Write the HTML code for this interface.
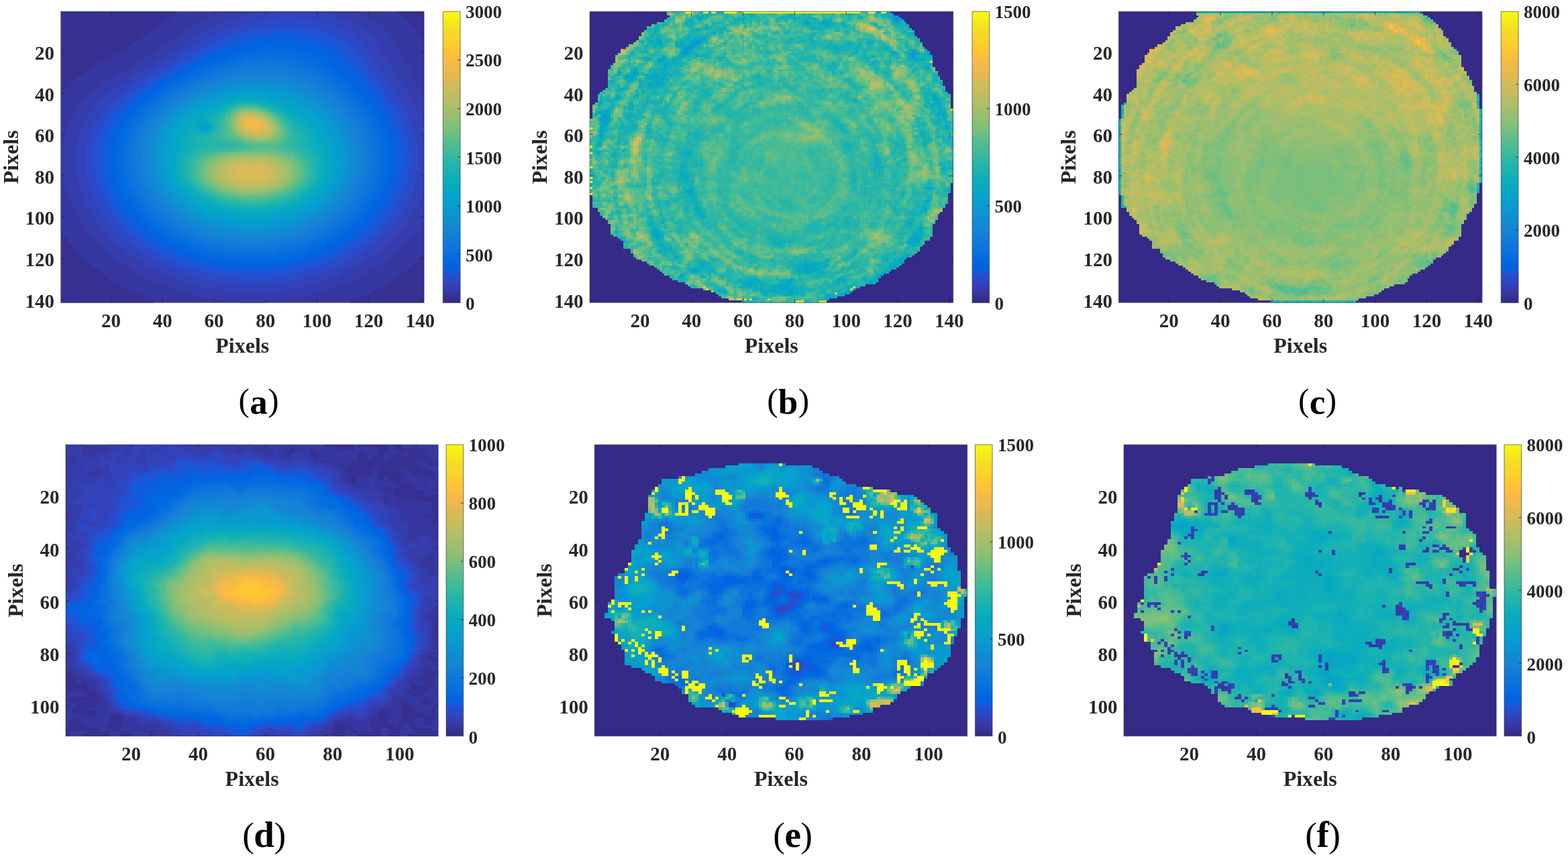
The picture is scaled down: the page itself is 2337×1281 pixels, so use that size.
<!DOCTYPE html>
<html lang="en"><head><meta charset="utf-8"><title>Figure</title>
<style>html,body{margin:0;padding:0;background:#fff}body{width:2337px;height:1281px;overflow:hidden}svg{display:block}text{font-family:"Liberation Serif","Times New Roman",serif;fill:#262626}.t{font-weight:bold;font-size:29px}.cb{font-weight:bold;font-size:27px}.l{font-weight:bold;font-size:32px}.c{fill:#000}.c .b{font-weight:bold}.hm path{fill:none;stroke-width:1.02}</style></head><body>
<svg width="2337" height="1281" viewBox="0 0 2337 1281">
<defs><linearGradient id="pg" x1="0" y1="1" x2="0" y2="0">
<stop offset="0" stop-color="#352a87"/>
<stop offset="0.02" stop-color="#363093"/>
<stop offset="0.03" stop-color="#3637a0"/>
<stop offset="0.05" stop-color="#353dad"/>
<stop offset="0.06" stop-color="#3243ba"/>
<stop offset="0.08" stop-color="#2c4ac7"/>
<stop offset="0.1" stop-color="#2053d4"/>
<stop offset="0.11" stop-color="#0f5cdd"/>
<stop offset="0.13" stop-color="#0363e1"/>
<stop offset="0.14" stop-color="#0268e1"/>
<stop offset="0.16" stop-color="#046de0"/>
<stop offset="0.17" stop-color="#0871de"/>
<stop offset="0.19" stop-color="#0d75dc"/>
<stop offset="0.21" stop-color="#1079da"/>
<stop offset="0.22" stop-color="#127dd8"/>
<stop offset="0.24" stop-color="#1481d6"/>
<stop offset="0.25" stop-color="#1485d4"/>
<stop offset="0.27" stop-color="#1389d3"/>
<stop offset="0.29" stop-color="#108ed2"/>
<stop offset="0.3" stop-color="#0c93d2"/>
<stop offset="0.32" stop-color="#0998d1"/>
<stop offset="0.33" stop-color="#079ccf"/>
<stop offset="0.35" stop-color="#06a0cd"/>
<stop offset="0.37" stop-color="#06a4ca"/>
<stop offset="0.38" stop-color="#06a7c6"/>
<stop offset="0.4" stop-color="#07a9c2"/>
<stop offset="0.41" stop-color="#0aacbe"/>
<stop offset="0.43" stop-color="#0faeb9"/>
<stop offset="0.44" stop-color="#15b1b4"/>
<stop offset="0.46" stop-color="#1db3af"/>
<stop offset="0.48" stop-color="#25b5a9"/>
<stop offset="0.49" stop-color="#2eb7a4"/>
<stop offset="0.51" stop-color="#38b99e"/>
<stop offset="0.52" stop-color="#42bb98"/>
<stop offset="0.54" stop-color="#4dbc92"/>
<stop offset="0.56" stop-color="#59bd8c"/>
<stop offset="0.57" stop-color="#65be86"/>
<stop offset="0.59" stop-color="#71bf80"/>
<stop offset="0.6" stop-color="#7cbf7b"/>
<stop offset="0.62" stop-color="#87bf77"/>
<stop offset="0.63" stop-color="#92bf73"/>
<stop offset="0.65" stop-color="#9cbf6f"/>
<stop offset="0.67" stop-color="#a5be6b"/>
<stop offset="0.68" stop-color="#aebe67"/>
<stop offset="0.7" stop-color="#b7bd64"/>
<stop offset="0.71" stop-color="#c0bc60"/>
<stop offset="0.73" stop-color="#c8bc5d"/>
<stop offset="0.75" stop-color="#d1bb59"/>
<stop offset="0.76" stop-color="#d9ba56"/>
<stop offset="0.78" stop-color="#e1b952"/>
<stop offset="0.79" stop-color="#e9b94e"/>
<stop offset="0.81" stop-color="#f1b94a"/>
<stop offset="0.83" stop-color="#f8bb44"/>
<stop offset="0.84" stop-color="#fdbe3d"/>
<stop offset="0.86" stop-color="#ffc337"/>
<stop offset="0.87" stop-color="#fec832"/>
<stop offset="0.89" stop-color="#fcce2e"/>
<stop offset="0.9" stop-color="#fad32a"/>
<stop offset="0.92" stop-color="#f7d826"/>
<stop offset="0.94" stop-color="#f5de21"/>
<stop offset="0.95" stop-color="#f5e41d"/>
<stop offset="0.97" stop-color="#f5eb18"/>
<stop offset="0.98" stop-color="#f6f313"/>
<stop offset="1" stop-color="#f9fb0e"/>
</linearGradient></defs>
<!-- panel a -->
<svg class="hm" x="90.5" y="17.2" width="541.5" height="434.3" viewBox="0 0 141 141" preserveAspectRatio="none" shape-rendering="crispEdges"><g transform="translate(0 .5)">
<rect y="-.5" width="141" height="141" fill="#3637a0"/>
<path stroke="#363093" d="M0 0m0 0h45m86 0h10m-141 1h44m88 0h9m-141 1h43m90 0h8m-141 1h42m92 0h7m-141 1h40m95 0h6m-141 1h39m97 0h5m-141 1h38m98 0h5m-141 1h37m100 0h4m-141 1h36m102 0h3m-141 1h35m103 0h3m-141 1h34m105 0h2m-141 1h33m106 0h2m-141 1h32m108 0h1m-141 1h31m109 0h1m-141 1h30m-30 1h28m-28 1h27m-27 1h26m-26 1h25m-25 1h23m-23 1h22m-22 1h20m-20 1h19m-19 1h17m-17 1h16m-16 1h14m-14 1h13m-13 1h12m-12 1h11m-11 1h9m-9 1h8m-8 1h7m-7 1h6m-6 1h5m-5 1h4m-4 1h4m-4 1h3m-3 1h2m-2 1h1m-1 1h1m-1 68h1m-1 1h1m-1 1h2m-2 1h3m-3 1h3m-3 1h4m-4 1h5m-5 1h5m-5 1h6m-6 1h7m-7 1h8m-8 1h8m132 0h1m-141 1h9m130 0h2m-141 1h10m129 0h2m-141 1h11m127 0h3m-141 1h12m125 0h4m-141 1h13m123 0h5m-141 1h14m121 0h6m-141 1h15m119 0h7m-141 1h16m117 0h8m-141 1h17m115 0h9m-141 1h18m113 0h10m-141 1h19m110 0h12m-141 1h20m108 0h13m-141 1h22m105 0h14m-141 1h23m103 0h15m-141 1h24m100 0h17m-141 1h26m97 0h18m-141 1h27m94 0h20m-141 1h29m91 0h21m-141 1h31m87 0h23m-141 1h32m84 0h25m-141 1h34m80 0h27m-141 1h36m76 0h29"/>
<path stroke="#353dad" d="M0 0m62 0h16m22 0h16m-56 1h14m30 0h13m-59 1h12m37 0h12m-62 1h11m41 0h11m-65 1h10m46 0h11m-69 1h10m50 0h10m-71 1h9m53 0h10m-73 1h9m56 0h9m-75 1h8m59 0h9m-78 1h8m62 0h8m-79 1h8m64 0h8m-81 1h8m66 0h8m-83 1h7m69 0h7m-84 1h7m70 0h8m-86 1h7m72 0h8m-88 1h6m75 0h7m-90 1h7m76 0h8m-92 1h7m78 0h7m-93 1h7m79 0h7m-94 1h6m82 0h7m-96 1h6m83 0h7m-98 1h7m85 0h7m-100 1h7m86 0h7m-101 1h6m89 0h7m-103 1h6m90 0h7m-105 1h7m92 0h6m-106 1h7m93 0h7m-108 1h6m96 0h6m-110 1h7m97 0h7m-112 1h7m99 0h6m-114 1h7m101 0h7m-116 1h7m103 0h6m-117 1h7m104 0h6m-118 1h7m106 0h6m-121 1h7m108 0h6m-122 1h7m110 0h6m-124 1h7m111 0h6m-125 1h7m113 0h6m-127 1h7m114 0h6m-128 1h7m116 0h6m-130 1h7m117 0h6m-130 1h6m119 0h5m-131 1h6m120 0h5m-132 1h6m121 0h5m-133 1h7m122 0h4m-133 1h6m123 0h4m-134 1h6m125 0h3m-134 1h6m125 0h3m-135 1h6m127 0h2m-136 1h6m128 0h2m-136 1h6m128 0h2m-136 1h5m130 0h1m-137 1h6m130 0h1m-137 1h5m131 0h1m-138 1h6m131 0h1m-138 1h6m-6 1h5m-6 1h6m-6 1h6m-6 1h5m-5 1h5m-6 1h6m-6 1h6m-6 1h6m-6 1h5m-5 1h5m-5 1h5m-5 1h5m-5 1h5m-5 1h5m-5 1h5m-5 1h5m-5 1h5m-5 1h5m-5 1h5m-5 1h5m-5 1h5m-5 1h5m-5 1h5m-5 1h5m-5 1h6m-6 1h6m-6 1h6m-5 1h5m-5 1h5m-5 1h6m-6 1h6m-5 1h5m-5 1h5m132 0h1m-138 1h6m131 0h1m-138 1h6m131 0h1m-137 1h5m130 0h2m-137 1h6m129 0h2m-137 1h6m129 0h2m-136 1h5m128 0h3m-136 1h6m127 0h3m-135 1h5m126 0h4m-135 1h6m125 0h4m-135 1h6m124 0h5m-134 1h6m123 0h5m-134 1h6m122 0h6m-133 1h6m121 0h6m-133 1h6m120 0h6m-131 1h6m119 0h6m-131 1h7m117 0h6m-129 1h6m116 0h7m-128 1h6m115 0h6m-127 1h7m113 0h6m-125 1h6m112 0h7m-124 1h6m110 0h7m-123 1h7m109 0h6m-121 1h7m107 0h6m-119 1h7m105 0h7m-118 1h7m103 0h7m-116 1h7m101 0h7m-115 1h8m99 0h7m-113 1h8m97 0h7m-111 1h8m95 0h7m-109 1h8m93 0h7m-107 1h8m91 0h7m-105 1h8m88 0h8m-103 1h9m85 0h8m-100 1h8m83 0h8m-98 1h8m80 0h9m-96 1h9m77 0h9m-94 1h10m73 0h9m-90 1h9m70 0h10m-88 1h10m67 0h10m-85 1h10m63 0h10m-82 1h11m58 0h11m-78 1h12m53 0h12m-75 1h12m48 0h13m-71 1h13m42 0h14m-67 1h15m35 0h15m-63 1h18m25 0h18m-59 1h25m7 0h24m-53 1h50m-47 1h44m-40 1h36m-31 1h26m-17 1h9"/>
<path stroke="#3243ba" d="M0 0m78 0h22m-26 1h30m-34 1h37m-39 1h17m7 0h17m-44 1h13m21 0h12m-48 1h11m28 0h11m-52 1h10m34 0h9m-54 1h8m39 0h9m-58 1h8m43 0h8m-61 1h8m46 0h8m-63 1h7m50 0h7m-65 1h6m53 0h7m-68 1h6m56 0h7m-70 1h6m58 0h6m-71 1h5m61 0h6m-74 1h6m62 0h7m-76 1h5m65 0h6m-77 1h5m67 0h6m-79 1h5m69 0h5m-81 1h5m71 0h6m-83 1h5m73 0h5m-84 1h5m74 0h6m-86 1h5m76 0h5m-88 1h5m78 0h6m-90 1h5m80 0h5m-91 1h5m82 0h5m-93 1h4m84 0h5m-95 1h5m86 0h5m-97 1h5m87 0h5m-98 1h4m90 0h5m-101 1h5m91 0h5m-102 1h5m93 0h5m-104 1h5m94 0h5m-105 1h4m97 0h5m-108 1h5m98 0h5m-109 1h5m100 0h5m-111 1h5m101 0h5m-112 1h5m103 0h5m-114 1h5m105 0h4m-115 1h5m106 0h5m-117 1h5m108 0h4m-118 1h5m109 0h5m-120 1h5m111 0h4m-121 1h5m112 0h4m-121 1h4m114 0h4m-123 1h4m115 0h4m-124 1h5m115 0h5m-125 1h4m117 0h4m-126 1h4m118 0h5m-128 1h5m119 0h4m-128 1h4m120 0h4m-129 1h5m120 0h5m-130 1h4m122 0h4m-131 1h5m122 0h4m-131 1h4m123 0h4m-131 1h4m124 0h4m-133 1h4m125 0h4m-133 1h4m125 0h4m-133 1h4m125 0h4m-134 1h4m127 0h3m-134 1h4m127 0h3m-134 1h4m127 0h3m-134 1h4m127 0h3m-134 1h4m127 0h3m-135 1h4m128 0h3m-135 1h4m129 0h2m-135 1h4m129 0h2m-135 1h4m129 0h2m-135 1h4m129 0h2m-135 1h4m129 0h2m-135 1h4m129 0h2m-135 1h4m129 0h2m-135 1h4m129 0h2m-135 1h4m129 0h2m-135 1h4m129 0h2m-135 1h4m129 0h2m-135 1h4m129 0h2m-135 1h4m128 0h3m-135 1h4m128 0h3m-135 1h4m128 0h3m-134 1h4m127 0h3m-134 1h4m127 0h3m-134 1h4m127 0h3m-134 1h4m126 0h4m-134 1h4m126 0h4m-133 1h4m125 0h4m-133 1h4m125 0h4m-133 1h4m124 0h5m-133 1h4m124 0h4m-131 1h4m123 0h4m-131 1h4m122 0h5m-131 1h4m122 0h4m-129 1h4m121 0h4m-129 1h4m120 0h5m-129 1h5m119 0h4m-127 1h4m118 0h5m-127 1h5m117 0h4m-125 1h4m116 0h5m-125 1h5m115 0h4m-123 1h4m114 0h5m-123 1h5m113 0h4m-121 1h4m112 0h5m-121 1h5m111 0h4m-119 1h5m109 0h5m-118 1h4m108 0h5m-117 1h5m107 0h4m-115 1h5m105 0h5m-114 1h5m103 0h5m-113 1h5m102 0h5m-111 1h5m100 0h5m-109 1h5m98 0h6m-108 1h5m97 0h5m-106 1h5m95 0h5m-104 1h5m93 0h5m-102 1h5m90 0h6m-100 1h5m88 0h6m-98 1h5m86 0h6m-96 1h6m83 0h6m-94 1h6m81 0h6m-92 1h6m78 0h7m-90 1h7m75 0h6m-86 1h6m72 0h7m-84 1h7m69 0h7m-82 1h8m65 0h7m-78 1h8m61 0h8m-75 1h8m57 0h8m-72 1h9m53 0h8m-68 1h9m48 0h10m-65 1h10m42 0h11m-61 1h12m35 0h11m-55 1h13m27 0h13m-51 1h17m14 0h17m-45 1h42m-38 1h35m-30 1h25m-16 1h7"/>
<path stroke="#2c4ac7" d="M0 0m85 3h7m-14 1h21m-25 1h28m-31 1h34m-37 1h12m15 0h12m-41 1h10m23 0h10m-45 1h8m30 0h8m-48 1h7m35 0h8m-52 1h7m39 0h7m-55 1h7m42 0h7m-57 1h6m45 0h7m-60 1h6m49 0h6m-62 1h5m52 0h5m-64 1h6m54 0h5m-66 1h5m57 0h5m-68 1h4m59 0h6m-71 1h5m61 0h5m-72 1h4m64 0h5m-74 1h4m65 0h5m-75 1h4m67 0h5m-78 1h4m70 0h4m-79 1h4m71 0h5m-81 1h4m73 0h5m-84 1h4m76 0h4m-85 1h4m77 0h5m-87 1h4m79 0h4m-89 1h4m81 0h5m-91 1h4m83 0h4m-92 1h4m85 0h4m-94 1h3m87 0h4m-96 1h4m89 0h4m-98 1h4m90 0h4m-99 1h4m92 0h4m-101 1h4m94 0h3m-102 1h3m96 0h4m-104 1h3m98 0h4m-106 1h3m99 0h4m-107 1h3m101 0h4m-109 1h3m102 0h4m-110 1h3m104 0h4m-112 1h4m104 0h4m-113 1h4m106 0h4m-115 1h4m107 0h4m-115 1h3m109 0h3m-116 1h3m110 0h4m-118 1h4m111 0h3m-118 1h3m112 0h4m-120 1h4m113 0h3m-120 1h3m114 0h3m-121 1h3m115 0h4m-122 1h3m116 0h3m-123 1h4m116 0h3m-123 1h3m117 0h4m-125 1h4m118 0h3m-125 1h3m119 0h3m-125 1h3m119 0h3m-126 1h4m119 0h4m-127 1h3m121 0h3m-127 1h3m121 0h3m-127 1h3m121 0h3m-127 1h3m121 0h3m-128 1h4m121 0h3m-128 1h3m122 0h4m-129 1h3m122 0h4m-129 1h3m122 0h4m-129 1h3m123 0h3m-129 1h3m123 0h3m-129 1h3m123 0h3m-129 1h3m123 0h3m-129 1h3m123 0h3m-129 1h3m123 0h3m-129 1h3m123 0h3m-129 1h3m122 0h4m-129 1h3m122 0h4m-129 1h3m122 0h3m-128 1h4m121 0h3m-128 1h4m121 0h3m-127 1h3m121 0h3m-127 1h3m121 0h3m-127 1h3m120 0h4m-127 1h3m120 0h3m-126 1h4m119 0h3m-125 1h3m119 0h3m-125 1h3m118 0h4m-125 1h4m117 0h3m-124 1h4m117 0h3m-123 1h3m116 0h4m-123 1h4m115 0h3m-122 1h4m115 0h3m-121 1h3m114 0h4m-121 1h4m113 0h3m-119 1h3m112 0h4m-119 1h4m111 0h3m-117 1h3m110 0h4m-117 1h4m109 0h3m-115 1h3m108 0h4m-115 1h4m107 0h3m-113 1h4m105 0h4m-113 1h4m104 0h4m-111 1h4m103 0h4m-110 1h4m101 0h4m-109 1h4m100 0h4m-107 1h4m99 0h4m-106 1h4m97 0h4m-104 1h4m95 0h4m-103 1h5m93 0h4m-101 1h5m91 0h4m-99 1h4m90 0h4m-97 1h5m87 0h5m-96 1h5m85 0h5m-94 1h5m83 0h5m-92 1h5m81 0h4m-89 1h5m78 0h5m-87 1h5m76 0h5m-84 1h5m73 0h5m-82 1h5m70 0h6m-80 1h6m67 0h5m-76 1h6m63 0h6m-74 1h6m60 0h6m-70 1h6m56 0h7m-67 1h7m51 0h7m-63 1h7m47 0h7m-59 1h8m41 0h8m-55 1h9m34 0h10m-51 1h11m26 0h11m-45 1h15m13 0h14m-38 1h35m-31 1h27m-21 1h14"/>
<path stroke="#2053d4" d="M0 0m80 7h15m-19 1h23m-27 1h30m-33 1h13m10 0h12m-37 1h9m20 0h10m-41 1h7m27 0h8m-44 1h7m31 0h7m-47 1h6m36 0h7m-51 1h6m40 0h6m-53 1h5m43 0h6m-56 1h5m46 0h6m-59 1h5m49 0h5m-60 1h4m52 0h5m-63 1h5m54 0h5m-65 1h4m57 0h4m-66 1h4m59 0h4m-69 1h4m61 0h5m-71 1h4m63 0h4m-72 1h3m66 0h4m-75 1h4m68 0h4m-77 1h3m70 0h4m-78 1h3m72 0h4m-81 1h4m74 0h3m-82 1h3m76 0h4m-84 1h3m78 0h4m-87 1h4m80 0h3m-88 1h3m82 0h4m-90 1h3m84 0h3m-91 1h3m86 0h3m-93 1h3m87 0h4m-96 1h4m89 0h3m-97 1h3m91 0h4m-99 1h3m93 0h3m-100 1h3m95 0h3m-102 1h3m96 0h3m-103 1h3m98 0h3m-104 1h3m98 0h3m-105 1h3m100 0h3m-107 1h3m101 0h3m-108 1h3m103 0h3m-110 1h3m104 0h3m-110 1h3m105 0h3m-112 1h3m106 0h3m-112 1h2m108 0h3m-114 1h3m108 0h3m-115 1h3m109 0h3m-115 1h3m110 0h3m-116 1h2m111 0h3m-117 1h3m111 0h3m-117 1h3m112 0h3m-119 1h3m113 0h3m-119 1h3m113 0h3m-119 1h3m114 0h2m-120 1h3m115 0h3m-121 1h3m115 0h3m-121 1h3m115 0h3m-121 1h3m115 0h3m-121 1h2m116 0h3m-122 1h3m117 0h2m-122 1h3m117 0h2m-122 1h3m117 0h2m-122 1h3m117 0h3m-123 1h3m117 0h3m-123 1h3m117 0h3m-123 1h3m117 0h3m-123 1h3m117 0h3m-123 1h3m117 0h3m-123 1h3m117 0h3m-123 1h3m117 0h2m-122 1h3m117 0h2m-122 1h3m116 0h3m-121 1h2m116 0h3m-121 1h2m116 0h3m-121 1h3m115 0h3m-121 1h3m115 0h3m-121 1h3m115 0h2m-120 1h3m114 0h3m-119 1h3m113 0h3m-119 1h3m113 0h3m-119 1h3m113 0h2m-117 1h2m112 0h3m-117 1h3m111 0h3m-117 1h3m111 0h2m-115 1h2m110 0h3m-115 1h3m109 0h3m-115 1h3m108 0h3m-113 1h3m107 0h3m-113 1h3m106 0h3m-111 1h3m105 0h3m-111 1h3m104 0h3m-109 1h3m103 0h3m-109 1h3m102 0h3m-107 1h3m101 0h3m-106 1h3m99 0h3m-105 1h3m98 0h3m-103 1h3m96 0h4m-102 1h3m95 0h3m-101 1h4m93 0h3m-99 1h4m91 0h4m-98 1h3m90 0h4m-96 1h3m88 0h4m-94 1h3m86 0h4m-92 1h3m84 0h4m-91 1h4m82 0h4m-88 1h3m80 0h4m-86 1h4m77 0h4m-84 1h4m75 0h4m-82 1h4m72 0h5m-80 1h5m69 0h4m-77 1h5m67 0h4m-74 1h5m63 0h5m-72 1h5m60 0h5m-68 1h5m56 0h6m-65 1h5m52 0h6m-62 1h7m47 0h6m-58 1h7m42 0h7m-53 1h7m36 0h8m-49 1h9m29 0h9m-44 1h11m19 0h11m-38 1h34m-30 1h26m-19 1h13"/>
<path stroke="#0f5cdd" d="M0 0m82 10h10m-16 1h20m-24 1h27m-29 1h11m9 0h11m-34 1h8m20 0h8m-38 1h7m26 0h7m-42 1h6m31 0h6m-45 1h5m35 0h6m-48 1h5m39 0h5m-51 1h5m42 0h5m-53 1h4m45 0h5m-56 1h4m48 0h5m-58 1h3m51 0h5m-61 1h4m53 0h4m-62 1h3m56 0h4m-65 1h3m59 0h4m-67 1h3m61 0h4m-70 1h3m64 0h3m-71 1h3m65 0h4m-73 1h3m67 0h4m-76 1h3m70 0h3m-77 1h3m72 0h3m-79 1h2m74 0h4m-82 1h3m76 0h3m-83 1h3m78 0h3m-85 1h3m79 0h4m-87 1h2m82 0h3m-88 1h2m84 0h3m-91 1h3m85 0h3m-92 1h3m87 0h3m-94 1h3m89 0h3m-96 1h3m90 0h3m-97 1h3m92 0h3m-98 1h2m93 0h3m-99 1h2m95 0h3m-101 1h2m97 0h2m-102 1h3m97 0h3m-104 1h3m99 0h2m-104 1h2m100 0h3m-106 1h3m101 0h2m-107 1h3m102 0h3m-108 1h2m103 0h3m-109 1h3m104 0h2m-109 1h2m105 0h3m-111 1h3m106 0h2m-111 1h2m107 0h2m-111 1h2m107 0h3m-113 1h3m107 0h3m-113 1h2m109 0h2m-113 1h2m109 0h3m-115 1h3m109 0h3m-115 1h2m110 0h3m-115 1h2m111 0h2m-115 1h2m111 0h2m-116 1h3m111 0h2m-116 1h3m111 0h3m-117 1h3m111 0h3m-117 1h2m112 0h3m-117 1h2m112 0h3m-117 1h2m112 0h3m-117 1h2m112 0h3m-117 1h2m112 0h3m-117 1h2m112 0h3m-117 1h2m112 0h3m-117 1h2m112 0h3m-117 1h2m112 0h3m-117 1h3m111 0h3m-117 1h3m111 0h2m-116 1h3m111 0h2m-116 1h3m111 0h2m-115 1h2m111 0h2m-115 1h2m110 0h3m-115 1h3m109 0h3m-115 1h3m109 0h2m-113 1h2m109 0h2m-113 1h2m108 0h3m-113 1h3m107 0h3m-113 1h3m107 0h2m-111 1h2m106 0h3m-111 1h3m105 0h3m-111 1h3m105 0h2m-109 1h3m103 0h3m-109 1h3m103 0h2m-107 1h2m102 0h3m-107 1h3m101 0h2m-105 1h3m99 0h3m-105 1h3m99 0h2m-103 1h3m97 0h3m-103 1h3m96 0h3m-101 1h3m95 0h3m-100 1h3m93 0h3m-99 1h3m92 0h3m-97 1h3m90 0h3m-95 1h3m89 0h3m-94 1h3m87 0h3m-92 1h3m85 0h3m-91 1h4m83 0h3m-89 1h4m81 0h3m-87 1h4m79 0h3m-85 1h4m77 0h3m-83 1h4m75 0h3m-81 1h4m72 0h4m-78 1h3m70 0h4m-76 1h4m67 0h4m-74 1h4m64 0h4m-70 1h4m61 0h4m-68 1h5m57 0h5m-65 1h4m54 0h5m-62 1h6m49 0h5m-58 1h6m45 0h5m-54 1h6m40 0h6m-49 1h7m33 0h7m-45 1h8m26 0h8m-39 1h11m14 0h11m-32 1h29m-24 1h19"/>
<path stroke="#0363e1" d="M0 0m81 13h9m-15 1h20m-23 1h26m-29 1h10m11 0h10m-34 1h8m20 0h7m-37 1h6m26 0h7m-41 1h5m31 0h6m-44 1h5m35 0h5m-47 1h4m39 0h5m-50 1h4m43 0h4m-52 1h3m46 0h4m-55 1h4m48 0h4m-58 1h4m51 0h4m-60 1h3m54 0h4m-63 1h4m56 0h4m-65 1h3m59 0h3m-66 1h3m61 0h3m-69 1h3m63 0h4m-71 1h3m65 0h4m-74 1h3m68 0h3m-75 1h3m70 0h3m-77 1h3m72 0h3m-79 1h2m74 0h3m-81 1h3m76 0h3m-83 1h3m78 0h3m-85 1h3m80 0h2m-86 1h3m81 0h3m-88 1h2m84 0h3m-90 1h2m86 0h2m-91 1h2m87 0h3m-93 1h3m88 0h2m-94 1h3m89 0h3m-96 1h3m91 0h3m-97 1h2m93 0h2m-98 1h2m94 0h3m-100 1h3m95 0h2m-100 1h2m96 0h3m-102 1h2m98 0h2m-103 1h3m98 0h2m-103 1h2m99 0h3m-105 1h3m100 0h2m-105 1h2m101 0h3m-107 1h3m102 0h2m-107 1h2m103 0h2m-107 1h2m103 0h2m-108 1h2m104 0h3m-109 1h2m105 0h2m-109 1h2m105 0h2m-110 1h3m105 0h2m-110 1h2m106 0h3m-111 1h2m107 0h2m-111 1h2m107 0h2m-111 1h2m107 0h2m-111 1h2m107 0h2m-112 1h3m107 0h2m-112 1h3m107 0h2m-112 1h2m108 0h2m-112 1h2m108 0h2m-112 1h2m108 0h2m-112 1h2m108 0h2m-112 1h2m108 0h2m-112 1h3m107 0h2m-112 1h3m107 0h2m-111 1h2m107 0h2m-111 1h2m107 0h2m-111 1h2m107 0h2m-111 1h2m106 0h3m-111 1h2m106 0h3m-111 1h3m105 0h2m-109 1h2m105 0h2m-109 1h2m105 0h2m-109 1h2m104 0h3m-109 1h3m103 0h2m-107 1h2m103 0h2m-107 1h2m102 0h3m-107 1h3m101 0h2m-105 1h2m101 0h2m-105 1h2m100 0h3m-104 1h2m99 0h2m-103 1h2m98 0h3m-103 1h3m97 0h2m-101 1h2m96 0h3m-100 1h2m95 0h2m-99 1h3m93 0h3m-98 1h2m92 0h3m-97 1h3m91 0h2m-95 1h3m89 0h3m-94 1h2m88 0h3m-93 1h3m86 0h3m-91 1h3m85 0h2m-89 1h3m83 0h3m-88 1h3m81 0h3m-86 1h3m79 0h3m-84 1h3m77 0h3m-82 1h3m75 0h3m-80 1h3m73 0h3m-78 1h3m71 0h3m-76 1h3m68 0h4m-74 1h4m65 0h3m-71 1h4m62 0h4m-68 1h4m59 0h4m-66 1h4m56 0h4m-62 1h4m52 0h5m-59 1h4m48 0h5m-56 1h5m44 0h5m-51 1h5m39 0h5m-47 1h6m32 0h7m-43 1h8m25 0h7m-36 1h10m12 0h11m-30 1h26m-20 1h14"/>
<path stroke="#0268e1" d="M0 0m79 16h11m-16 1h20m-24 1h26m-29 1h8m15 0h8m-33 1h6m22 0h7m-38 1h6m28 0h5m-41 1h5m33 0h5m-45 1h5m36 0h5m-47 1h4m40 0h4m-50 1h4m43 0h4m-53 1h4m46 0h4m-55 1h3m49 0h4m-58 1h3m52 0h4m-60 1h2m55 0h4m-63 1h3m57 0h3m-64 1h2m60 0h3m-67 1h3m62 0h3m-69 1h2m65 0h3m-71 1h2m67 0h3m-74 1h3m69 0h2m-75 1h2m71 0h3m-77 1h2m73 0h3m-79 1h2m75 0h3m-81 1h2m77 0h2m-83 1h3m78 0h3m-85 1h3m80 0h3m-87 1h3m82 0h2m-87 1h2m83 0h3m-89 1h2m85 0h2m-90 1h2m87 0h2m-92 1h2m88 0h3m-94 1h2m90 0h2m-94 1h2m90 0h3m-96 1h2m92 0h2m-97 1h2m93 0h3m-98 1h2m94 0h2m-99 1h2m95 0h2m-99 1h2m96 0h2m-101 1h2m97 0h2m-101 1h2m97 0h3m-103 1h2m99 0h2m-103 1h2m99 0h2m-104 1h2m100 0h2m-104 1h2m101 0h2m-105 1h2m101 0h2m-105 1h2m101 0h2m-106 1h2m102 0h2m-106 1h2m103 0h2m-107 1h2m103 0h2m-107 1h2m103 0h2m-107 1h2m103 0h2m-107 1h2m103 0h2m-107 1h2m103 0h2m-108 1h2m104 0h2m-108 1h2m104 0h2m-108 1h2m104 0h2m-108 1h2m104 0h2m-108 1h2m104 0h2m-107 1h2m103 0h2m-107 1h2m103 0h2m-107 1h2m103 0h2m-107 1h2m103 0h2m-107 1h2m103 0h2m-107 1h2m102 0h2m-106 1h2m102 0h2m-105 1h2m101 0h2m-105 1h2m101 0h2m-105 1h2m100 0h3m-105 1h2m100 0h2m-103 1h2m99 0h2m-103 1h2m99 0h2m-103 1h2m98 0h2m-101 1h2m97 0h2m-101 1h2m96 0h3m-101 1h3m95 0h2m-99 1h2m94 0h3m-99 1h3m93 0h2m-97 1h2m92 0h3m-97 1h3m91 0h2m-95 1h2m90 0h3m-94 1h2m89 0h2m-93 1h3m87 0h2m-91 1h2m86 0h3m-90 1h2m85 0h2m-89 1h3m83 0h2m-87 1h3m81 0h2m-85 1h3m79 0h3m-84 1h2m78 0h3m-82 1h2m76 0h3m-80 1h2m74 0h3m-78 1h3m71 0h3m-76 1h3m69 0h3m-74 1h3m67 0h3m-72 1h3m64 0h4m-70 1h4m61 0h3m-66 1h3m58 0h4m-64 1h4m55 0h3m-60 1h4m51 0h4m-58 1h5m47 0h4m-54 1h5m43 0h4m-50 1h5m38 0h5m-46 1h6m32 0h6m-41 1h7m25 0h7m-36 1h10m13 0h9m-28 1h25m-19 1h12"/>
<path stroke="#046de0" d="M0 0m75 19h15m-19 1h22m-25 1h9m10 0h9m-31 1h6m20 0h7m-35 1h5m26 0h5m-38 1h4m31 0h5m-42 1h4m34 0h5m-45 1h3m39 0h4m-48 1h3m42 0h4m-51 1h3m46 0h3m-54 1h3m49 0h3m-56 1h3m51 0h3m-59 1h3m54 0h3m-61 1h3m56 0h3m-64 1h3m59 0h3m-66 1h3m61 0h3m-68 1h2m64 0h3m-71 1h3m66 0h2m-72 1h2m69 0h2m-74 1h2m70 0h3m-76 1h2m72 0h3m-78 1h2m74 0h2m-79 1h2m76 0h2m-81 1h2m77 0h3m-83 1h2m79 0h2m-84 1h2m81 0h2m-86 1h2m82 0h3m-88 1h2m84 0h2m-89 1h2m86 0h2m-90 1h2m86 0h2m-91 1h2m88 0h2m-93 1h2m89 0h2m-93 1h2m90 0h2m-95 1h2m91 0h2m-95 1h1m93 0h2m-97 1h2m93 0h2m-97 1h2m93 0h2m-98 1h2m95 0h2m-99 1h2m95 0h2m-100 1h2m96 0h2m-100 1h2m97 0h2m-101 1h2m97 0h2m-101 1h1m98 0h2m-102 1h2m98 0h2m-102 1h2m99 0h2m-103 1h2m99 0h2m-103 1h2m99 0h2m-103 1h2m99 0h2m-103 1h1m100 0h2m-103 1h1m100 0h2m-104 1h2m100 0h2m-104 1h2m100 0h2m-104 1h2m100 0h2m-104 1h2m100 0h2m-104 1h2m100 0h2m-103 1h1m100 0h2m-103 1h2m99 0h2m-103 1h2m99 0h2m-103 1h2m99 0h2m-103 1h2m99 0h2m-103 1h2m98 0h2m-102 1h2m98 0h2m-101 1h2m97 0h2m-101 1h2m97 0h2m-101 1h2m97 0h1m-100 1h2m96 0h2m-99 1h2m95 0h2m-99 1h2m95 0h2m-99 1h2m94 0h2m-97 1h2m93 0h2m-97 1h2m92 0h2m-95 1h2m91 0h2m-95 1h2m90 0h2m-93 1h2m89 0h2m-93 1h2m88 0h2m-91 1h2m87 0h2m-91 1h3m85 0h2m-89 1h2m84 0h3m-88 1h2m83 0h2m-87 1h3m81 0h2m-85 1h2m80 0h3m-84 1h2m78 0h3m-82 1h2m76 0h3m-80 1h2m75 0h2m-79 1h3m73 0h2m-77 1h3m71 0h2m-75 1h3m68 0h3m-72 1h2m66 0h3m-70 1h3m63 0h3m-68 1h3m61 0h3m-66 1h3m58 0h3m-62 1h3m55 0h3m-60 1h4m51 0h3m-56 1h4m47 0h4m-53 1h4m43 0h4m-49 1h4m39 0h4m-45 1h5m33 0h5m-41 1h6m26 0h6m-35 1h8m17 0h7m-28 1h25m-19 1h13"/>
<path stroke="#0871de" d="M0 0m77 21h10m-16 1h20m-23 1h10m5 0h11m-29 1h6m18 0h7m-33 1h5m24 0h5m-37 1h5m29 0h5m-41 1h4m34 0h4m-44 1h4m38 0h4m-48 1h4m41 0h4m-50 1h3m45 0h3m-53 1h3m48 0h3m-55 1h2m51 0h3m-58 1h3m53 0h3m-60 1h2m56 0h3m-63 1h2m59 0h3m-65 1h2m61 0h3m-68 1h3m63 0h3m-70 1h2m66 0h2m-71 1h2m68 0h2m-73 1h2m70 0h2m-75 1h2m71 0h3m-77 1h2m73 0h2m-78 1h2m75 0h2m-80 1h2m77 0h2m-82 1h2m78 0h2m-83 1h2m80 0h2m-85 1h2m82 0h2m-86 1h1m83 0h2m-87 1h2m84 0h2m-89 1h2m85 0h2m-89 1h1m87 0h2m-91 1h2m87 0h2m-92 1h2m89 0h2m-93 1h2m89 0h2m-93 1h1m91 0h1m-94 1h2m91 0h2m-95 1h1m92 0h2m-96 1h2m93 0h1m-96 1h2m93 0h2m-97 1h1m94 0h2m-98 1h2m94 0h2m-98 1h2m95 0h1m-98 1h2m95 0h2m-99 1h2m95 0h2m-99 1h1m96 0h2m-99 1h1m96 0h2m-100 1h2m96 0h2m-100 1h2m96 0h2m-100 1h2m96 0h2m-100 1h2m96 0h2m-100 1h2m96 0h2m-100 1h2m96 0h2m-100 1h2m96 0h2m-100 1h2m96 0h2m-99 1h1m96 0h2m-99 1h1m96 0h2m-99 1h2m95 0h2m-99 1h2m95 0h2m-99 1h2m95 0h1m-98 1h2m94 0h2m-97 1h1m94 0h2m-97 1h2m93 0h2m-97 1h2m93 0h2m-97 1h2m92 0h2m-95 1h2m91 0h2m-95 1h2m91 0h2m-95 1h2m90 0h2m-93 1h2m89 0h2m-93 1h2m88 0h2m-91 1h2m87 0h2m-91 1h2m86 0h2m-89 1h2m85 0h2m-89 1h2m84 0h2m-87 1h2m83 0h2m-86 1h2m81 0h2m-85 1h2m80 0h2m-83 1h2m78 0h3m-82 1h2m77 0h2m-81 1h3m75 0h2m-79 1h3m73 0h2m-77 1h3m71 0h2m-75 1h3m69 0h3m-74 1h3m67 0h3m-72 1h3m65 0h3m-70 1h3m63 0h2m-67 1h3m60 0h3m-64 1h3m57 0h3m-62 1h3m55 0h3m-60 1h4m51 0h3m-56 1h3m48 0h4m-53 1h3m44 0h4m-49 1h4m39 0h4m-45 1h4m34 0h5m-41 1h5m28 0h6m-36 1h6m20 0h7m-30 1h26m-21 1h17"/>
<path stroke="#0d75dc" d="M0 0m78 23h5m-12 1h18m-21 1h9m5 0h10m-27 1h5m18 0h6m-32 1h5m24 0h5m-36 1h4m29 0h5m-40 1h3m34 0h4m-43 1h3m38 0h4m-47 1h3m41 0h4m-50 1h3m45 0h3m-52 1h2m48 0h3m-55 1h3m50 0h3m-58 1h3m53 0h3m-60 1h2m56 0h3m-62 1h2m58 0h3m-65 1h2m61 0h3m-67 1h2m63 0h3m-69 1h2m65 0h3m-71 1h2m67 0h2m-72 1h2m69 0h2m-74 1h1m72 0h2m-76 1h1m73 0h3m-78 1h2m74 0h2m-79 1h2m76 0h2m-81 1h2m78 0h2m-83 1h2m79 0h2m-83 1h1m81 0h2m-85 1h2m81 0h2m-86 1h2m83 0h2m-87 1h1m84 0h2m-88 1h2m85 0h2m-89 1h1m86 0h2m-90 1h2m87 0h2m-91 1h1m88 0h2m-92 1h2m88 0h2m-92 1h2m89 0h2m-93 1h1m90 0h2m-94 1h2m90 0h2m-94 1h2m91 0h1m-94 1h2m91 0h2m-95 1h1m92 0h2m-95 1h1m92 0h2m-96 1h2m92 0h2m-96 1h2m92 0h2m-96 1h2m93 0h1m-96 1h2m93 0h1m-96 1h2m93 0h1m-96 1h2m93 0h1m-96 1h2m93 0h1m-96 1h2m93 0h1m-96 1h2m93 0h1m-96 1h2m93 0h1m-96 1h2m93 0h1m-96 1h2m92 0h2m-95 1h1m92 0h2m-95 1h1m92 0h2m-95 1h2m91 0h2m-95 1h2m91 0h1m-94 1h2m90 0h2m-93 1h1m90 0h2m-93 1h2m89 0h2m-93 1h2m89 0h1m-91 1h1m88 0h2m-91 1h2m87 0h2m-91 1h2m86 0h2m-89 1h2m85 0h2m-89 1h2m84 0h2m-87 1h2m83 0h2m-87 1h2m82 0h2m-85 1h2m81 0h2m-85 1h2m80 0h2m-83 1h2m79 0h2m-82 1h2m77 0h2m-81 1h2m76 0h2m-79 1h2m74 0h2m-77 1h2m73 0h2m-76 1h2m71 0h2m-74 1h2m69 0h2m-72 1h2m67 0h2m-70 1h2m65 0h2m-68 1h2m63 0h2m-66 1h2m60 0h3m-64 1h3m57 0h3m-62 1h3m55 0h2m-58 1h3m51 0h3m-56 1h3m48 0h4m-53 1h3m45 0h3m-50 1h4m41 0h3m-46 1h4m36 0h4m-41 1h4m30 0h5m-37 1h6m23 0h5m-31 1h8m12 0h8m-24 1h20"/>
<path stroke="#1079da" d="M0 0m77 25h5m-12 1h18m-21 1h8m7 0h9m-27 1h5m19 0h5m-32 1h5m25 0h4m-36 1h4m30 0h4m-40 1h3m35 0h3m-43 1h3m38 0h4m-47 1h3m42 0h3m-49 1h2m45 0h3m-52 1h2m49 0h2m-55 1h3m51 0h2m-57 1h2m54 0h2m-60 1h3m56 0h2m-62 1h2m59 0h2m-64 1h2m61 0h2m-66 1h2m63 0h2m-68 1h1m66 0h2m-71 1h2m68 0h2m-73 1h2m69 0h2m-73 1h1m71 0h2m-75 1h1m73 0h2m-77 1h1m75 0h2m-79 1h2m75 0h2m-80 1h2m77 0h2m-81 1h1m78 0h2m-82 1h2m79 0h2m-84 1h2m81 0h1m-84 1h1m82 0h2m-86 1h2m83 0h1m-86 1h1m84 0h2m-88 1h2m84 0h2m-88 1h2m85 0h1m-88 1h1m86 0h2m-90 1h2m86 0h2m-90 1h2m87 0h1m-90 1h1m88 0h2m-91 1h1m88 0h2m-92 1h2m88 0h2m-92 1h2m89 0h1m-92 1h2m89 0h1m-92 1h1m90 0h1m-92 1h1m90 0h2m-93 1h1m90 0h2m-93 1h1m90 0h2m-93 1h1m90 0h2m-93 1h1m90 0h2m-93 1h1m90 0h2m-93 1h1m90 0h2m-93 1h1m90 0h2m-93 1h2m89 0h2m-93 1h2m89 0h1m-92 1h2m89 0h1m-92 1h2m88 0h2m-91 1h1m88 0h2m-91 1h1m88 0h2m-91 1h2m87 0h1m-90 1h2m86 0h2m-89 1h1m86 0h2m-89 1h2m85 0h2m-89 1h2m84 0h2m-87 1h1m84 0h2m-87 1h2m83 0h1m-85 1h1m82 0h2m-85 1h2m81 0h1m-83 1h1m80 0h2m-83 1h2m79 0h1m-81 1h2m77 0h2m-81 1h2m76 0h2m-79 1h2m75 0h2m-78 1h2m73 0h2m-77 1h2m72 0h2m-75 1h2m70 0h2m-73 1h2m68 0h3m-72 1h2m67 0h2m-70 1h2m65 0h2m-68 1h2m62 0h3m-66 1h2m60 0h3m-64 1h3m57 0h3m-62 1h3m55 0h2m-58 1h2m52 0h3m-56 1h3m49 0h3m-53 1h3m45 0h3m-50 1h3m42 0h3m-46 1h4m37 0h4m-43 1h4m32 0h5m-39 1h5m26 0h5m-33 1h7m17 0h6m-26 1h23m-18 1h12"/>
<path stroke="#127dd8" d="M0 0m75 27h7m-13 1h19m-22 1h7m10 0h8m-28 1h5m20 0h5m-33 1h4m26 0h5m-37 1h4m31 0h3m-40 1h3m36 0h3m-44 1h3m39 0h3m-47 1h3m43 0h3m-50 1h2m46 0h3m-53 1h3m48 0h3m-55 1h2m52 0h2m-58 1h2m55 0h2m-60 1h2m57 0h2m-62 1h2m59 0h2m-65 1h2m62 0h2m-67 1h2m64 0h2m-69 1h2m65 0h2m-70 1h2m67 0h2m-72 1h2m69 0h2m-74 1h2m71 0h2m-75 1h1m72 0h2m-76 1h1m74 0h2m-78 1h2m75 0h1m-78 1h1m76 0h2m-80 1h1m78 0h2m-82 1h2m78 0h2m-82 1h1m80 0h2m-84 1h2m80 0h2m-84 1h1m82 0h1m-84 1h1m82 0h2m-86 1h2m82 0h2m-86 1h1m84 0h1m-86 1h1m84 0h2m-88 1h2m84 0h2m-88 1h2m85 0h1m-88 1h1m86 0h1m-88 1h1m86 0h2m-89 1h1m86 0h2m-90 1h2m86 0h2m-90 1h2m86 0h2m-90 1h2m86 0h2m-90 1h2m87 0h1m-90 1h2m87 0h1m-90 1h2m87 0h1m-90 1h2m87 0h1m-90 1h2m86 0h2m-90 1h2m86 0h2m-89 1h1m86 0h2m-89 1h1m86 0h2m-89 1h1m86 0h2m-89 1h2m85 0h1m-88 1h2m85 0h1m-88 1h2m84 0h2m-87 1h1m84 0h2m-87 1h2m83 0h1m-86 1h2m83 0h1m-85 1h1m82 0h2m-85 1h2m81 0h1m-84 1h2m80 0h2m-83 1h2m79 0h2m-83 1h2m78 0h2m-81 1h2m77 0h2m-81 1h2m76 0h2m-79 1h2m75 0h2m-78 1h1m74 0h2m-77 1h2m72 0h2m-75 1h2m71 0h2m-74 1h2m69 0h2m-73 1h2m68 0h2m-71 1h2m66 0h2m-69 1h2m64 0h2m-67 1h2m62 0h3m-66 1h2m60 0h3m-64 1h2m58 0h2m-61 1h3m55 0h2m-58 1h2m53 0h2m-56 1h3m49 0h3m-54 1h3m46 0h3m-50 1h3m43 0h3m-47 1h3m39 0h3m-44 1h4m34 0h4m-39 1h4m29 0h4m-35 1h5m22 0h5m-29 1h8m11 0h7m-21 1h17"/>
<path stroke="#1481d6" d="M0 0m73 29h10m-15 1h20m-24 1h6m14 0h6m-28 1h4m22 0h5m-34 1h4m28 0h4m-38 1h3m33 0h3m-41 1h3m37 0h3m-45 1h3m40 0h3m-47 1h2m44 0h2m-50 1h2m47 0h3m-54 1h3m49 0h3m-56 1h2m52 0h3m-58 1h2m54 0h3m-61 1h2m57 0h3m-63 1h2m59 0h3m-65 1h2m61 0h2m-66 1h2m63 0h2m-68 1h2m65 0h2m-70 1h2m67 0h2m-72 1h2m69 0h1m-73 1h2m70 0h2m-74 1h1m72 0h2m-76 1h2m72 0h2m-77 1h2m74 0h2m-78 1h1m76 0h1m-79 1h2m76 0h2m-80 1h1m78 0h1m-81 1h2m78 0h2m-82 1h1m79 0h2m-82 1h1m80 0h1m-83 1h2m80 0h2m-84 1h1m81 0h2m-84 1h1m82 0h1m-84 1h1m82 0h2m-86 1h2m82 0h2m-86 1h2m82 0h2m-86 1h1m84 0h1m-86 1h1m84 0h1m-86 1h1m84 0h1m-86 1h1m84 0h1m-86 1h1m84 0h2m-87 1h1m84 0h2m-87 1h1m84 0h2m-87 1h1m84 0h2m-87 1h1m84 0h1m-86 1h1m84 0h1m-86 1h2m83 0h1m-86 1h2m83 0h1m-86 1h2m83 0h1m-85 1h1m82 0h2m-85 1h1m82 0h2m-85 1h2m81 0h1m-84 1h2m81 0h1m-83 1h1m80 0h2m-83 1h1m80 0h2m-83 1h2m79 0h1m-81 1h1m78 0h2m-81 1h2m77 0h1m-79 1h1m76 0h2m-79 1h2m75 0h1m-77 1h1m74 0h2m-77 1h2m73 0h1m-75 1h2m71 0h2m-75 1h2m70 0h2m-73 1h2m69 0h1m-71 1h2m67 0h2m-70 1h2m65 0h2m-69 1h2m64 0h2m-67 1h2m62 0h2m-65 1h2m60 0h2m-63 1h2m58 0h2m-61 1h3m55 0h2m-59 1h3m53 0h2m-56 1h2m50 0h3m-54 1h3m47 0h3m-51 1h2m44 0h3m-48 1h3m41 0h2m-44 1h3m36 0h4m-41 1h4m31 0h4m-37 1h4m26 0h4m-31 1h5m18 0h6m-26 1h22m-16 1h11"/>
<path stroke="#1485d4" d="M0 0m70 31h14m-18 1h8m5 0h9m-25 1h5m17 0h6m-31 1h4m25 0h4m-35 1h3m30 0h4m-39 1h3m34 0h3m-42 1h3m38 0h3m-46 1h3m41 0h3m-48 1h2m45 0h2m-51 1h2m48 0h2m-53 1h2m50 0h2m-56 1h2m53 0h2m-58 1h2m55 0h2m-60 1h2m57 0h2m-62 1h1m60 0h2m-64 1h1m62 0h2m-66 1h1m64 0h2m-68 1h1m66 0h2m-70 1h2m66 0h2m-71 1h2m68 0h2m-72 1h1m70 0h1m-73 1h1m71 0h2m-75 1h2m72 0h2m-76 1h1m73 0h2m-77 1h2m74 0h2m-78 1h1m75 0h2m-79 1h2m76 0h1m-79 1h1m77 0h2m-80 1h1m78 0h1m-81 1h2m78 0h1m-81 1h2m78 0h2m-82 1h1m79 0h2m-82 1h1m80 0h1m-82 1h1m80 0h1m-83 1h2m80 0h2m-84 1h2m80 0h2m-84 1h2m80 0h2m-84 1h2m80 0h2m-84 1h2m80 0h2m-84 1h2m81 0h1m-84 1h2m81 0h1m-84 1h2m81 0h1m-84 1h2m80 0h2m-84 1h2m80 0h2m-83 1h1m80 0h2m-83 1h1m80 0h2m-83 1h1m80 0h2m-83 1h1m80 0h1m-82 1h2m79 0h1m-81 1h1m78 0h2m-81 1h1m78 0h2m-81 1h2m77 0h1m-80 1h2m76 0h2m-79 1h1m76 0h2m-79 1h2m75 0h1m-77 1h1m74 0h2m-77 1h2m73 0h1m-75 1h1m72 0h2m-75 1h2m71 0h1m-73 1h2m69 0h2m-72 1h1m68 0h2m-71 1h2m67 0h1m-69 1h2m65 0h2m-68 1h2m63 0h2m-66 1h1m62 0h2m-65 1h2m60 0h2m-63 1h2m58 0h2m-61 1h2m56 0h2m-59 1h3m53 0h2m-56 1h2m51 0h2m-54 1h2m48 0h3m-52 1h3m45 0h2m-48 1h2m42 0h3m-46 1h3m38 0h3m-42 1h3m34 0h4m-39 1h4m29 0h3m-33 1h4m23 0h4m-29 1h7m13 0h6m-22 1h18"/>
<path stroke="#1389d3" d="M0 0m74 32h5m-11 1h17m-21 1h6m13 0h6m-28 1h5m21 0h4m-32 1h4m26 0h4m-36 1h3m31 0h4m-40 1h3m35 0h3m-43 1h3m39 0h3m-47 1h3m42 0h3m-49 1h2m46 0h2m-52 1h2m49 0h2m-54 1h2m51 0h2m-56 1h2m53 0h2m-59 1h2m56 0h2m-61 1h2m58 0h2m-63 1h2m60 0h2m-65 1h2m62 0h2m-66 1h1m64 0h1m-67 1h1m65 0h2m-69 1h1m67 0h2m-71 1h2m68 0h1m-71 1h1m69 0h2m-73 1h2m70 0h1m-73 1h1m71 0h2m-75 1h2m72 0h1m-75 1h1m73 0h2m-77 1h2m74 0h1m-77 1h1m75 0h2m-78 1h1m75 0h2m-78 1h1m76 0h1m-79 1h2m76 0h1m-79 1h1m77 0h2m-80 1h1m77 0h2m-80 1h1m78 0h1m-80 1h1m78 0h1m-80 1h1m78 0h1m-80 1h1m78 0h1m-80 1h1m78 0h1m-80 1h1m78 0h2m-81 1h1m78 0h2m-81 1h1m78 0h2m-81 1h1m78 0h1m-80 1h1m78 0h1m-80 1h1m78 0h1m-80 1h1m78 0h1m-80 1h2m77 0h1m-80 1h2m76 0h2m-79 1h1m76 0h2m-79 1h1m76 0h1m-78 1h2m75 0h1m-77 1h1m74 0h2m-77 1h1m74 0h1m-76 1h2m73 0h1m-75 1h1m72 0h2m-75 1h2m71 0h1m-73 1h1m70 0h2m-73 1h2m69 0h1m-71 1h2m67 0h2m-70 1h1m66 0h2m-69 1h2m65 0h1m-67 1h2m63 0h2m-66 1h2m61 0h2m-64 1h1m60 0h2m-63 1h2m58 0h2m-61 1h2m56 0h2m-59 1h2m54 0h2m-57 1h3m51 0h2m-54 1h2m49 0h2m-52 1h2m46 0h3m-50 1h3m43 0h2m-46 1h2m40 0h3m-44 1h3m36 0h3m-40 1h4m31 0h3m-36 1h4m26 0h4m-31 1h5m19 0h5m-26 1h8m6 0h9m-18 1h13"/>
<path stroke="#108ed2" d="M0 0m70 34h13m-17 1h8m4 0h9m-24 1h4m17 0h5m-29 1h4m24 0h3m-33 1h3m29 0h3m-37 1h2m34 0h3m-41 1h2m38 0h2m-44 1h2m41 0h3m-48 1h3m44 0h2m-50 1h2m47 0h2m-52 1h2m49 0h2m-55 1h2m52 0h2m-57 1h2m54 0h2m-59 1h2m56 0h2m-61 1h2m58 0h2m-63 1h2m60 0h2m-65 1h2m62 0h1m-66 1h2m63 0h2m-67 1h1m65 0h2m-69 1h2m66 0h1m-69 1h1m67 0h2m-71 1h1m69 0h1m-71 1h1m69 0h2m-73 1h1m71 0h1m-73 1h1m71 0h2m-75 1h2m71 0h2m-75 1h1m73 0h1m-75 1h1m73 0h2m-76 1h1m73 0h2m-77 1h2m74 0h1m-77 1h2m74 0h1m-77 1h2m74 0h2m-78 1h1m75 0h2m-78 1h1m75 0h2m-78 1h1m76 0h1m-78 1h1m76 0h1m-78 1h1m76 0h1m-78 1h1m76 0h1m-78 1h1m76 0h1m-78 1h1m76 0h1m-78 1h1m76 0h1m-78 1h2m74 0h2m-78 1h2m74 0h2m-77 1h1m74 0h2m-77 1h1m74 0h1m-76 1h1m74 0h1m-76 1h2m73 0h1m-75 1h1m72 0h2m-75 1h1m72 0h1m-74 1h2m70 0h2m-73 1h1m70 0h2m-73 1h2m69 0h1m-71 1h1m68 0h2m-71 1h2m67 0h1m-69 1h1m66 0h2m-68 1h1m64 0h2m-67 1h2m63 0h1m-65 1h2m61 0h2m-64 1h1m60 0h2m-62 1h1m58 0h2m-61 1h2m56 0h2m-59 1h2m54 0h2m-57 1h2m52 0h2m-55 1h3m49 0h2m-52 1h2m47 0h2m-50 1h2m44 0h3m-48 1h3m41 0h2m-44 1h2m38 0h3m-42 1h3m34 0h3m-38 1h4m29 0h3m-33 1h4m23 0h4m-29 1h6m15 0h5m-22 1h19m-13 1h6"/>
<path stroke="#0c93d2" d="M0 0m74 35h4m-11 1h17m-20 1h5m13 0h6m-27 1h4m21 0h4m-32 1h4m27 0h3m-36 1h3m32 0h3m-40 1h3m36 0h2m-42 1h2m39 0h3m-46 1h2m43 0h2m-48 1h2m45 0h2m-51 1h2m48 0h2m-53 1h2m50 0h2m-55 1h1m53 0h2m-57 1h1m55 0h2m-59 1h1m57 0h2m-61 1h1m59 0h2m-63 1h1m61 0h1m-64 1h2m61 0h2m-65 1h1m63 0h2m-67 1h1m65 0h1m-68 1h2m65 0h2m-69 1h1m67 0h1m-70 1h2m67 0h2m-71 1h1m69 0h1m-71 1h1m69 0h1m-72 1h2m69 0h2m-73 1h1m71 0h1m-73 1h1m71 0h1m-73 1h1m71 0h2m-74 1h1m71 0h2m-74 1h1m72 0h1m-75 1h2m72 0h1m-75 1h2m72 0h1m-75 1h2m72 0h2m-76 1h1m73 0h2m-76 1h1m73 0h2m-76 1h1m73 0h2m-76 1h2m72 0h2m-76 1h2m72 0h2m-76 1h2m72 0h2m-75 1h1m72 0h1m-74 1h1m72 0h1m-74 1h1m72 0h1m-74 1h1m72 0h1m-74 1h2m70 0h2m-73 1h1m70 0h2m-73 1h1m70 0h1m-72 1h2m68 0h2m-71 1h1m68 0h1m-70 1h2m67 0h1m-69 1h1m66 0h2m-69 1h2m65 0h1m-67 1h1m64 0h2m-67 1h2m62 0h2m-65 1h2m61 0h1m-63 1h1m60 0h2m-62 1h1m58 0h2m-61 1h2m56 0h2m-59 1h2m54 0h2m-57 1h2m52 0h2m-55 1h2m50 0h2m-53 1h2m48 0h2m-50 1h2m45 0h2m-48 1h2m42 0h3m-46 1h3m39 0h2m-42 1h2m36 0h3m-40 1h4m31 0h3m-36 1h4m27 0h3m-31 1h4m21 0h4m-26 1h6m11 0h6m-19 1h15"/>
<path stroke="#0998d1" d="M0 0m69 37h13m-17 1h5m9 0h7m-24 1h3m19 0h5m-30 1h3m25 0h4m-34 1h3m29 0h4m-38 1h3m33 0h3m-41 1h3m37 0h3m-44 1h2m40 0h3m-47 1h2m44 0h2m-49 1h2m46 0h2m-52 1h2m49 0h2m-54 1h2m51 0h2m-56 1h2m53 0h2m-58 1h2m55 0h2m-60 1h2m57 0h2m-61 1h1m59 0h1m-62 1h1m60 0h2m-64 1h2m61 0h2m-65 1h1m63 0h1m-66 1h2m63 0h2m-67 1h1m65 0h1m-68 1h2m65 0h2m-69 1h1m66 0h2m-69 1h1m67 0h1m-70 1h2m67 0h2m-71 1h2m67 0h2m-71 1h1m69 0h1m-71 1h1m69 0h1m-71 1h1m69 0h2m-72 1h1m69 0h2m-72 1h1m70 0h1m-72 1h1m70 0h1m-73 1h2m70 0h1m-73 1h2m70 0h1m-73 1h2m70 0h1m-72 1h1m70 0h1m-72 1h1m70 0h1m-72 1h1m70 0h1m-72 1h1m70 0h1m-72 1h1m70 0h1m-72 1h2m68 0h2m-72 1h2m68 0h2m-71 1h1m68 0h1m-70 1h1m68 0h1m-70 1h2m66 0h2m-69 1h1m66 0h1m-68 1h1m66 0h1m-67 1h1m64 0h2m-67 1h2m63 0h1m-65 1h1m62 0h2m-65 1h2m61 0h1m-63 1h1m60 0h1m-61 1h1m58 0h2m-61 1h2m56 0h2m-59 1h2m55 0h1m-57 1h2m53 0h1m-55 1h2m51 0h1m-53 1h2m48 0h2m-51 1h2m46 0h2m-49 1h3m43 0h2m-46 1h2m41 0h2m-44 1h3m37 0h2m-40 1h2m34 0h3m-38 1h4m29 0h3m-33 1h3m25 0h3m-29 1h4m18 0h5m-24 1h8m5 0h8m-16 1h11"/>
<path stroke="#079ccf" d="M0 0m70 38h9m-14 1h6m6 0h7m-22 1h4m17 0h4m-27 1h3m23 0h3m-31 1h2m28 0h3m-35 1h2m32 0h3m-39 1h2m36 0h2m-42 1h3m38 0h3m-45 1h2m42 0h2m-48 1h2m45 0h2m-50 1h2m47 0h2m-52 1h2m49 0h2m-54 1h2m51 0h2m-56 1h2m53 0h2m-58 1h2m55 0h2m-60 1h2m57 0h1m-60 1h1m58 0h2m-62 1h1m13 0h1m46 0h2m-63 1h1m12 0h2m46 0h2m-64 1h1m62 0h2m-65 1h1m62 0h2m-66 1h2m63 0h1m-66 1h1m64 0h2m-67 1h1m65 0h1m-67 1h1m65 0h1m-68 1h2m65 0h2m-69 1h2m65 0h2m-69 1h2m66 0h1m-69 1h1m67 0h1m-69 1h1m67 0h2m-70 1h1m67 0h2m-70 1h1m67 0h2m-70 1h1m67 0h2m-70 1h1m68 0h1m-70 1h1m68 0h1m-70 1h1m68 0h1m-70 1h1m68 0h1m-70 1h1m67 0h2m-70 1h2m66 0h2m-69 1h1m66 0h1m-68 1h1m66 0h1m-68 1h1m66 0h1m-68 1h2m65 0h1m-67 1h1m64 0h1m-66 1h1m64 0h1m-66 1h2m62 0h2m-65 1h1m62 0h1m-63 1h1m60 0h2m-63 1h1m60 0h1m-61 1h1m58 0h2m-61 1h2m56 0h2m-59 1h2m55 0h1m-57 1h2m53 0h1m-55 1h2m51 0h2m-54 1h2m49 0h2m-52 1h2m47 0h2m-50 1h2m45 0h1m-47 1h2m42 0h2m-44 1h2m39 0h2m-42 1h2m36 0h3m-39 1h2m32 0h3m-36 1h3m28 0h3m-31 1h3m22 0h4m-27 1h5m15 0h5m-22 1h18m-11 1h5"/>
<path stroke="#06a0cd" d="M0 0m71 39h6m-11 1h5m5 0h7m-20 1h3m15 0h5m-26 1h3m22 0h3m-30 1h3m26 0h3m-34 1h3m30 0h3m-37 1h2m34 0h2m-40 1h2m37 0h3m-44 1h3m40 0h2m-46 1h2m43 0h2m-48 1h2m45 0h2m-50 1h1m48 0h2m-52 1h1m50 0h2m-54 1h1m52 0h2m-56 1h1m54 0h2m-58 1h2m55 0h1m-59 1h2m10 0h1m45 0h2m-60 1h1m58 0h1m-61 1h2m58 0h2m-62 1h1m60 0h1m-62 1h1m60 0h2m-64 1h2m61 0h1m-64 1h1m62 0h2m-65 1h1m62 0h2m-65 1h1m63 0h1m-65 1h1m63 0h1m-65 1h1m63 0h2m-67 1h2m63 0h2m-67 1h2m64 0h1m-67 1h1m65 0h1m-67 1h1m65 0h1m-67 1h1m65 0h1m-67 1h1m65 0h2m-68 1h1m65 0h2m-68 1h1m65 0h2m-68 1h1m65 0h2m-68 1h2m64 0h1m-66 1h1m64 0h1m-66 1h1m64 0h1m-66 1h1m64 0h1m-66 1h1m64 0h1m-65 1h1m62 0h2m-65 1h1m62 0h1m-64 1h1m62 0h1m-63 1h1m60 0h1m-62 1h1m60 0h1m-61 1h1m58 0h1m-60 1h2m56 0h2m-59 1h1m56 0h1m-57 1h1m54 0h1m-55 1h1m52 0h2m-54 1h1m50 0h2m-52 1h1m48 0h2m-50 1h1m46 0h2m-48 1h2m43 0h2m-46 1h2m41 0h2m-44 1h2m38 0h2m-40 1h2m34 0h3m-38 1h3m30 0h3m-34 1h3m26 0h3m-30 1h4m20 0h4m-25 1h5m12 0h5m-18 1h15"/>
<path stroke="#06a4ca" d="M0 0m71 40h5m-10 1h3m7 0h5m-18 1h2m16 0h4m-24 1h2m21 0h3m-28 1h2m25 0h3m-32 1h2m29 0h3m-36 1h3m32 0h2m-38 1h2m35 0h3m-42 1h2m39 0h2m-44 1h2m41 0h2m-47 1h2m44 0h2m-49 1h2m46 0h2m-51 1h2m48 0h2m-53 1h2m50 0h2m-54 1h1m8 0h2m42 0h2m-56 1h1m8 0h1m2 0h1m42 0h1m-57 1h2m8 0h1m2 0h1m42 0h2m-58 1h1m10 0h2m44 0h1m-59 1h2m56 0h2m-60 1h1m58 0h1m-60 1h1m58 0h2m-62 1h2m59 0h1m-62 1h2m59 0h1m-62 1h2m59 0h2m-63 1h1m60 0h2m-63 1h1m61 0h1m-63 1h1m61 0h1m-63 1h1m61 0h2m-65 1h2m61 0h2m-65 1h2m62 0h1m-65 1h1m63 0h1m-65 1h1m63 0h1m-65 1h1m63 0h1m-65 1h1m63 0h1m-65 1h2m62 0h1m-64 1h1m62 0h1m-64 1h1m62 0h1m-64 1h1m62 0h1m-64 1h1m62 0h1m-64 1h2m60 0h2m-63 1h1m60 0h1m-62 1h1m60 0h1m-62 1h2m58 0h2m-61 1h1m58 0h1m-60 1h2m56 0h2m-59 1h1m56 0h1m-57 1h1m54 0h1m-56 1h2m52 0h2m-55 1h2m51 0h1m-53 1h2m49 0h1m-51 1h2m47 0h1m-49 1h2m45 0h1m-47 1h2m42 0h2m-44 1h1m40 0h2m-42 1h2m36 0h3m-40 1h3m33 0h2m-36 1h3m29 0h2m-32 1h3m24 0h3m-28 1h4m18 0h4m-23 1h6m8 0h6m-16 1h12"/>
<path stroke="#06a7c6" d="M0 0m69 41h7m-11 1h3m9 0h4m-18 1h2m16 0h3m-23 1h2m21 0h2m-27 1h2m25 0h2m-30 1h2m28 0h2m-34 1h2m31 0h2m-37 1h3m34 0h2m-40 1h2m37 0h2m-43 1h3m39 0h2m-45 1h2m42 0h2m-47 1h2m44 0h2m-49 1h2m46 0h2m-51 1h2m5 0h1m2 0h1m39 0h2m-53 1h2m50 0h2m-54 1h1m51 0h2m-55 1h2m7 0h1m2 0h1m41 0h2m-56 1h1m54 0h1m-57 1h2m54 0h2m-58 1h1m56 0h1m-58 1h1m56 0h2m-59 1h1m56 0h2m-59 1h1m57 0h1m-60 1h2m57 0h1m-60 1h2m57 0h2m-61 1h2m57 0h2m-61 1h1m59 0h1m-61 1h1m59 0h1m-61 1h1m59 0h2m-63 1h2m59 0h2m-63 1h2m60 0h1m-63 1h2m60 0h1m-63 1h2m60 0h1m-62 1h1m60 0h1m-62 1h1m60 0h1m-62 1h1m60 0h1m-62 1h1m60 0h1m-62 1h1m59 0h2m-61 1h1m58 0h1m-60 1h1m58 0h1m-60 1h1m58 0h1m-59 1h1m56 0h1m-58 1h1m56 0h1m-57 1h1m54 0h1m-56 1h1m54 0h1m-55 1h1m52 0h1m-53 1h1m50 0h1m-51 1h1m48 0h2m-50 1h1m46 0h2m-48 1h1m44 0h2m-46 1h1m42 0h2m-44 1h2m39 0h1m-41 1h2m36 0h2m-38 1h2m32 0h2m-34 1h2m28 0h3m-31 1h3m23 0h3m-27 1h4m16 0h4m-21 1h8m2 0h8m-13 1h8"/>
<path stroke="#07a9c2" d="M0 0m68 42h9m-12 1h2m12 0h2m-18 1h2m16 0h3m-23 1h2m21 0h2m-26 1h1m25 0h2m-30 1h2m27 0h2m-32 1h2m30 0h2m-36 1h2m33 0h2m-38 1h2m35 0h2m-41 1h3m37 0h2m-43 1h4m38 0h2m-45 1h7m37 0h2m-47 1h2m2 0h1m41 0h2m-49 1h2m3 0h1m4 0h1m37 0h2m-51 1h2m4 0h1m4 0h1m38 0h1m-51 1h1m49 0h2m-53 1h2m7 0h2m41 0h2m-54 1h1m52 0h1m-55 1h2m52 0h2m-56 1h2m52 0h2m-56 1h2m53 0h1m-56 1h2m53 0h2m-57 1h2m53 0h2m-57 1h2m54 0h1m-57 1h1m55 0h1m-58 1h2m55 0h2m-59 1h1m57 0h1m-59 1h1m57 0h1m-59 1h1m57 0h1m-59 1h1m57 0h2m-60 1h1m58 0h1m-60 1h1m58 0h1m-60 1h1m58 0h1m-60 1h1m58 0h1m-60 1h1m58 0h1m-60 1h1m58 0h1m-60 1h1m57 0h1m-58 1h1m56 0h1m-58 1h1m56 0h1m-58 1h1m56 0h1m-57 1h1m54 0h1m-56 1h1m54 0h1m-55 1h1m52 0h1m-54 1h2m50 0h2m-53 1h1m50 0h1m-51 1h1m48 0h1m-49 1h1m46 0h1m-47 1h1m44 0h1m-45 1h2m41 0h1m-43 1h2m38 0h2m-40 1h2m35 0h2m-38 1h2m32 0h2m-34 1h2m28 0h2m-30 1h3m22 0h3m-25 1h4m15 0h4m-20 1h16m-9 1h2"/>
<path stroke="#0aacbe" d="M0 0m67 43h2m7 0h3m-14 1h1m14 0h1m-18 1h1m18 0h2m-23 1h2m21 0h2m-26 1h2m24 0h1m-28 1h1m27 0h2m-32 1h2m29 0h2m-34 1h2m31 0h2m-36 1h2m34 0h1m-37 1h3m34 0h1m-36 1h1m34 0h2m-43 1h2m5 0h1m34 0h2m-45 1h3m41 0h2m-47 1h2m1 0h1m42 0h2m-49 1h2m3 0h1m4 0h1m37 0h1m-49 1h1m5 0h1m2 0h1m38 0h2m-51 1h2m48 0h2m-52 1h1m49 0h2m-52 1h1m50 0h1m-52 1h1m50 0h2m-53 1h1m50 0h2m-53 1h1m51 0h1m-53 1h1m51 0h2m-55 1h2m51 0h2m-55 1h1m53 0h1m-56 1h2m53 0h2m-57 1h1m55 0h1m-57 1h1m55 0h1m-57 1h1m55 0h1m-57 1h1m55 0h2m-58 1h1m55 0h2m-58 1h1m56 0h1m-58 1h1m56 0h1m-58 1h1m56 0h1m-58 1h1m55 0h2m-58 1h1m55 0h1m-56 1h1m54 0h1m-56 1h1m54 0h1m-56 1h1m53 0h2m-55 1h1m52 0h1m-54 1h1m52 0h1m-53 1h1m50 0h1m-51 1h1m48 0h1m-50 1h2m46 0h2m-49 1h1m46 0h1m-47 1h2m43 0h1m-45 1h2m40 0h2m-42 1h1m38 0h2m-40 1h2m35 0h1m-36 1h1m32 0h2m-34 1h3m27 0h2m-30 1h3m22 0h3m-25 1h4m15 0h3m-18 1h15"/>
<path stroke="#0faeb9" d="M0 0m69 43h7m-10 1h2m10 0h2m-16 1h1m16 0h1m-19 1h1m19 0h1m-22 1h1m21 0h2m-26 1h2m24 0h1m-28 1h2m26 0h1m-30 1h2m28 0h1m-32 1h2m30 0h2m-33 1h1m31 0h2m-34 1h1m32 0h1m0 1h1m0 1h1m-43 1h1m41 0h2m-45 1h3m41 0h2m-47 1h3m1 0h1m41 0h1m-47 1h2m44 0h2m-49 1h2m46 0h1m-49 1h2m46 0h2m-50 1h2m46 0h2m-50 1h2m46 0h2m-50 1h3m46 0h2m-51 1h2m47 0h2m-51 1h2m48 0h1m-52 1h2m49 0h2m-53 1h1m51 0h1m-54 1h2m51 0h2m-55 1h1m53 0h1m-55 1h1m53 0h1m-55 1h1m53 0h1m-55 1h1m53 0h1m-55 1h1m53 0h2m-56 1h1m53 0h2m-56 1h1m53 0h2m-56 1h1m53 0h1m-55 1h1m53 0h1m-54 1h1m52 0h1m-54 1h1m52 0h1m-54 1h1m51 0h1m-52 1h1m50 0h1m-52 1h1m50 0h1m-51 1h1m48 0h1m-49 1h1m46 0h1m-47 1h1m44 0h1m-46 1h2m42 0h2m-44 1h1m40 0h2m-42 1h1m38 0h1m-39 1h2m35 0h1m-36 1h1m32 0h2m-34 1h2m28 0h2m-29 1h2m22 0h3m-25 1h3m16 0h3m-18 1h15"/>
<path stroke="#15b1b4" d="M0 0m68 44h1m7 0h2m-13 1h2m12 0h2m-17 1h1m16 0h2m-20 1h1m19 0h1m-22 1h1m22 0h1m-25 1h1m24 0h1m-27 1h1m26 0h1m-29 1h1m28 0h1m-30 1h1m29 0h1m-31 1h1m30 0h1m-32 1h1m30 0h2m-33 1h1m31 0h2m-34 1h1m32 0h1m-1 1h2m-42 1h1m5 0h1m34 0h2m-44 1h7m35 0h2m-45 1h2m42 0h2m-46 1h2m42 0h2m-46 1h2m42 0h2m-46 1h3m42 0h1m-45 1h2m42 0h2m-47 1h3m42 0h2m-47 1h2m44 0h2m-49 1h2m46 0h1m-50 1h2m47 0h2m-51 1h1m49 0h1m-52 1h2m49 0h2m-53 1h1m51 0h1m-53 1h1m51 0h1m-53 1h1m51 0h1m-53 1h1m51 0h1m-53 1h1m51 0h1m-53 1h1m51 0h1m-53 1h1m51 0h1m-53 1h1m51 0h1m-52 1h1m50 0h1m-52 1h1m50 0h1m-52 1h1m0 1h1m48 0h1m-50 1h1m48 0h1m-49 1h1m46 0h1m-47 1h1m44 0h1m-45 1h1m42 0h1m-43 1h1m40 0h1m-41 1h1m38 0h1m-39 1h1m36 0h1m-36 1h1m32 0h2m-34 1h2m28 0h2m-30 1h3m23 0h2m-25 1h3m16 0h3m-19 1h7m3 0h6"/>
<path stroke="#1db3af" d="M0 0m69 44h7m-9 1h1m10 0h1m-14 1h1m14 0h1m-17 1h1m17 0h1m-20 1h1m20 0h1m-23 1h1m22 0h1m-25 1h1m24 0h1m-27 1h1m26 0h1m-28 1h1m27 0h1m-29 1h1m28 0h1m-1 1h1m0 1h1m0 1h1m-33 1h1m31 0h1m0 1h1m-1 1h1m-41 1h5m35 0h2m-42 1h3m38 0h1m-42 1h3m38 0h1m-41 1h3m37 0h2m-42 1h4m36 0h2m-42 1h4m36 0h2m-43 1h3m39 0h2m-45 1h2m42 0h2m-47 1h1m45 0h1m-48 1h2m46 0h1m-49 1h1m47 0h1m-50 1h2m48 0h1m-51 1h1m49 0h1m-51 1h1m49 0h1m-51 1h1m49 0h1m-51 1h1m49 0h1m-51 1h1m49 0h1m-51 1h1m49 0h1m-51 1h1m49 0h1m-1 1h1m-50 1h1m48 0h1m-50 1h1m48 0h1m-49 1h1m46 0h1m-48 1h1m46 0h1m-47 1h1m44 0h1m-45 1h1m42 0h1m-43 1h1m40 0h1m-41 1h1m38 0h1m-39 1h1m36 0h1m-37 1h2m32 0h2m-34 1h2m28 0h2m-30 1h2m24 0h2m-25 1h2m18 0h3m-20 1h4m8 0h4m-9 1h3"/>
<path stroke="#25b5a9" d="M0 0m68 45h1m8 0h1m-12 1h1m12 0h1m1 1h1m1 1h1m-21 1h1m20 0h1m-23 1h1m22 0h1m-25 1h1m24 0h1m-26 1h1m25 0h1m-27 1h1m26 0h1m-29 1h1m27 0h1m-29 1h1m28 0h1m-30 1h1m29 0h1m-31 1h1m29 0h1m-32 1h1m30 0h2m-34 1h1m32 0h1m-35 1h2m32 0h1m-37 1h3m33 0h2m-38 1h4m32 0h2m-37 1h5m30 0h2m-36 1h7m27 0h2m-36 1h5m29 0h2m-38 1h3m34 0h2m-41 1h2m38 0h2m-44 1h2m41 0h2m-45 1h1m43 0h2m-47 1h1m45 0h1m-47 1h1m45 0h2m-49 1h1m47 0h1m-49 1h1m47 0h1m-49 1h1m47 0h1m-49 1h1m47 0h1m-49 1h1m-1 1h1m-1 1h1m47 0h1m-49 1h1m47 0h1m-48 1h1m46 0h1m-48 1h1m46 0h1m-47 1h1m44 0h1m-46 1h1m44 0h1m-45 1h1m42 0h1m-43 1h1m40 0h1m-41 1h1m38 0h1m-39 1h1m36 0h1m-37 1h2m32 0h2m-34 1h1m30 0h1m-30 1h1m26 0h1m-26 1h2m20 0h2m-21 1h3m12 0h3m-13 1h8"/>
<path stroke="#2eb7a4" d="M0 0m69 45h2m4 0h2m-10 1h1m10 0h1m-14 1h1m-2 1h1m17 0h1m0 1h1m-21 1h1m-2 1h1m-1 1h1m23 0h1m0 1h1m-27 1h1m-1 1h1m26 0h1m-28 1h1m27 0h1m-29 1h1m27 0h1m-30 1h1m28 0h1m-31 1h2m29 0h1m-32 1h2m29 0h1m-33 1h3m29 0h1m-32 1h4m26 0h2m-30 1h5m23 0h2m-27 1h4m21 0h2m-29 1h6m21 0h2m-33 1h5m27 0h2m-37 1h3m34 0h1m-40 1h2m38 0h1m-42 1h1m41 0h1m-44 1h1m43 0h1m-45 1h1m43 0h1m-46 1h1m45 0h1m-47 1h1m45 0h1m-47 1h1m45 0h1m-47 1h1m-1 1h1m46 0h1m-48 1h1m46 0h1m-48 1h1m-1 1h1m45 0h1m-46 1h1m44 0h1m-46 1h1m44 0h1m-45 1h1m42 0h1m-44 1h1m42 0h1m-43 1h1m40 0h1m-41 1h1m38 0h1m-39 1h1m36 0h1m-37 1h1m34 0h1m-34 1h1m30 0h1m-31 1h2m26 0h2m-28 1h2m22 0h2m-23 1h3m14 0h3m-16 1h12"/>
<path stroke="#38b99e" d="M0 0m71 45h4m-7 1h1m8 0h1m-12 1h1m13 0h1m-16 1h1m15 0h1m-18 1h1m19 1h1m-22 1h1m21 0h1m-23 1h1m-2 1h1m23 0h1m-25 1h1m24 0h1m-26 1h1m-1 1h1m25 0h1m-27 1h1m25 0h1m-28 1h2m-2 1h2m26 0h1m-29 1h2m26 0h1m-29 1h3m24 0h2m-27 1h3m22 0h1m-23 1h3m18 0h2m-21 1h3m16 0h2m-21 1h3m16 0h2m-26 1h5m20 0h2m-32 1h2m30 0h2m-37 1h2m34 0h2m-40 1h2m38 0h1m-42 1h2m39 0h2m-43 1h1m41 0h1m-44 1h2m42 0h1m-45 1h1m43 0h1m-45 1h1m43 0h1m-45 1h1m44 0h1m-46 1h1m44 0h1m-46 1h1m44 0h1m-46 1h1m44 0h1m-46 1h1m43 0h1m-1 1h1m-44 1h1m42 0h1m-2 1h1m-42 1h1m40 0h1m-41 1h1m38 0h1m-39 1h1m36 0h1m-37 1h1m34 0h1m-35 1h1m31 0h2m-32 1h1m28 0h1m-28 1h1m24 0h1m-24 1h2m18 0h2m-18 1h3m8 0h3"/>
<path stroke="#42bb98" d="M0 0m69 46h1m6 0h1m-10 1h1m11 0h1m-15 2h1m16 0h1m-19 1h1m18 0h1m0 1h1m0 1h1m-23 1h1m-1 1h1m22 0h1m-24 1h1m23 0h1m-25 1h1m23 0h1m-25 1h1m-1 1h1m24 0h1m-26 1h1m24 0h1m-26 1h2m23 0h1m-25 1h2m21 0h1m-22 1h2m19 0h1m-19 1h1m16 0h1m-16 1h2m12 0h2m-16 1h3m10 0h3m-19 1h4m14 0h2m-28 1h4m24 0h2m-33 1h2m31 0h1m-36 1h1m35 0h2m-39 1h1m37 0h1m-40 1h1m39 0h1m-41 1h1m40 0h1m-43 1h1m41 0h1m-43 1h1m41 0h1m-43 1h1m42 0h1m-44 1h1m42 0h1m-44 1h1m42 0h1m-44 1h1m42 0h1m-44 1h1m-1 1h1m41 0h1m-42 1h1m40 0h1m-42 1h1m39 0h1m-40 1h1m38 0h1m-39 1h1m36 0h1m-37 1h1m34 0h1m-35 1h1m32 0h1m-33 1h2m28 0h1m-29 1h2m24 0h2m-26 1h2m20 0h2m-21 1h3m12 0h3m-13 1h8"/>
<path stroke="#4dbc92" d="M0 0m70 46h1m4 0h1m2 1h1m-13 1h1m13 0h1m-17 3h1m-1 1h1m-1 1h1m20 0h1m0 2h1m-23 1h1m-1 1h1m22 0h1m-24 1h1m22 0h1m-24 1h1m22 0h1m-23 1h1m21 0h1m-22 1h1m19 0h1m-19 1h1m17 0h1m-17 1h2m13 0h1m-13 1h2m8 0h2m-11 1h4m3 0h3m-12 1h3m7 0h4m-22 1h4m18 0h2m-29 1h2m27 0h2m-34 1h2m32 0h1m-36 1h1m35 0h1m-38 1h1m37 0h1m-39 1h1m38 0h1m-41 1h1m39 0h1m-41 1h1m39 0h1m-41 1h1m40 0h1m-42 1h1m40 0h1m-1 1h1m-42 1h1m40 0h1m-42 1h1m40 0h1m-42 1h1m39 0h1m-40 1h1m38 0h1m-40 1h1m0 1h1m36 0h1m-37 1h1m34 0h1m-35 1h1m32 0h1m-33 1h1m30 0h1m-30 1h1m26 0h1m-26 1h1m22 0h1m-22 1h2m16 0h2m-16 1h4m4 0h4"/>
<path stroke="#59bd8c" d="M0 0m71 46h4m-7 1h1m8 0h1m-11 1h1m11 0h1m-14 1h1m14 0h1m-17 1h1m16 0h1m-18 1h1m17 0h1m0 1h1m-21 2h1m20 0h1m-22 1h1m21 1h1m-22 1h1m20 0h1m-22 1h1m20 0h1m-22 1h1m20 0h1m-21 1h1m19 0h1m-20 1h2m0 1h2m14 0h1m-14 1h2m9 0h2m-10 1h8m-5 1h3m-6 1h7m-14 1h4m11 0h3m-25 1h3m22 0h2m-30 1h2m28 0h2m-34 1h2m32 0h1m-36 1h2m34 0h1m-37 1h1m35 0h2m-39 1h1m37 0h1m-39 1h1m-1 1h1m38 0h1m-1 1h1m-41 1h1m39 0h1m-1 1h1m-40 1h1m38 0h1m-40 1h1m37 1h1m-38 1h1m36 0h1m-37 1h1m34 0h1m-35 1h1m32 0h1m-33 1h1m30 0h1m-31 1h1m27 0h2m-28 1h1m24 0h1m-24 1h2m18 0h2m-19 1h3m10 0h3m-10 1h4"/>
<path stroke="#65be86" d="M0 0m69 47h1m6 0h1m3 2h1m-15 1h1m-2 2h1m-1 1h1m18 0h1m-20 1h1m-1 1h1m19 0h1m-21 1h1m0 2h1m-1 1h1m0 1h1m17 0h1m-17 1h1m15 0h1m-15 1h1m12 0h1m-11 1h2m5 0h2m-11 4h11m-19 1h2m18 0h2m-26 1h1m26 0h1m-30 1h1m29 0h2m-33 1h1m32 0h1m-35 1h1m33 0h1m-36 1h1m35 0h1m-37 1h1m36 0h1m-1 1h1m-39 1h1m37 0h1m-39 1h1m37 0h1m-39 1h1m37 0h1m-1 1h1m-38 1h1m36 0h1m-38 1h1m35 0h1m-36 1h1m34 0h1m-35 1h1m32 0h1m-33 1h1m30 0h1m-31 1h1m28 0h1m-29 1h2m24 0h1m-25 1h2m20 0h2m-21 1h2m14 0h2m-14 1h10"/>
<path stroke="#71bf80" d="M0 0m70 47h1m4 0h1m-8 1h1m9 0h1m-12 1h1m13 1h1m0 1h1m0 1h1m0 2h1m0 2h1m-20 1h1m18 0h1m-1 1h1m-19 1h1m17 0h1m-18 1h1m1 1h1m13 0h1m-13 1h1m9 0h2m-8 1h5m-15 5h4m11 0h3m-23 1h2m22 0h2m-28 1h2m26 0h1m-30 1h1m29 0h2m-33 1h1m31 0h1m-34 1h1m33 0h1m-35 1h1m34 0h1m-37 1h1m35 0h1m-37 1h1m35 0h1m-37 1h1m35 0h1m-37 1h1m35 0h1m-37 1h1m35 0h1m-36 1h1m34 0h1m-36 1h1m33 0h1m-34 1h1m32 0h1m-33 1h1m30 0h1m-31 1h1m28 0h1m-29 1h1m26 0h1m-26 1h1m22 0h1m-22 1h1m17 0h2m-17 1h2m10 0h2"/>
<path stroke="#7cbf7b" d="M0 0m71 47h4m-6 1h1m7 0h1m1 1h1m-14 2h1m-1 1h1m-1 1h1m16 0h1m-18 1h1m-1 1h1m17 0h1m-19 1h1m0 2h1m0 1h1m15 0h1m-16 1h1m14 0h1m-14 1h1m11 0h1m-11 1h2m6 0h1m-12 6h11m-18 1h3m17 0h2m-24 1h1m24 0h1m-28 1h1m27 0h1m-30 1h1m29 0h1m-32 1h1m31 0h1m-33 1h1m32 0h1m-35 1h1m33 0h1m-35 1h1m33 0h1m-35 1h1m-1 1h1m33 0h1m-35 1h1m33 0h1m-34 1h1m32 0h1m-34 1h1m0 1h1m30 0h1m-31 1h1m28 0h1m-29 1h1m26 0h1m-27 1h1m23 0h2m-24 1h1m19 0h2m-20 1h2m13 0h2m-13 1h10"/>
<path stroke="#87bf77" d="M0 0m76 48h1m-9 1h1m-2 1h1m12 0h1m0 1h1m0 1h1m0 2h1m0 2h1m-18 1h1m16 0h1m-17 1h1m15 0h1m-15 2h1m12 0h1m-12 1h1m9 0h1m-8 1h6m-15 7h3m12 0h2m-21 1h2m20 0h2m-26 1h2m24 0h1m-28 1h1m27 0h1m-30 1h1m29 0h1m-31 1h1m30 0h1m-33 1h1m31 0h1m-33 1h1m31 0h1m-33 1h1m32 0h1m-34 1h1m-1 1h1m31 0h1m-1 1h1m-32 1h1m30 0h1m-31 1h1m28 0h1m-29 1h1m26 0h1m-27 1h1m24 0h1m-25 1h2m20 0h1m-21 1h2m16 0h1m-16 1h3m8 0h2"/>
<path stroke="#92bf73" d="M0 0m70 48h1m4 0h1m2 1h1m0 1h1m-13 1h1m14 2h1m-16 2h1m15 0h1m-17 1h1m1 3h1m13 0h1m-13 1h1m10 0h1m-10 1h1m7 0h1m-13 8h12m-17 1h2m16 0h2m-22 1h1m21 0h2m-26 1h2m24 0h1m-28 1h2m26 0h1m-29 1h1m28 0h1m-31 1h1m29 0h1m-31 1h1m-1 1h1m30 0h1m-32 1h1m30 0h1m-32 1h1m29 0h1m-31 1h1m29 0h1m-30 1h1m28 0h1m-29 1h1m26 0h1m-27 1h1m24 0h1m-25 1h1m21 0h2m-22 1h1m18 0h1m-18 1h2m12 0h2m-12 1h8"/>
<path stroke="#9cbf6f" d="M0 0m71 48h4m-6 1h1m7 0h1m-10 1h1m11 1h1m-14 1h1m13 0h1m-15 1h1m-1 1h1m14 0h1m0 2h1m-16 1h1m14 0h1m-15 1h1m13 0h1m-14 1h1m3 2h1m4 0h2m-15 9h3m11 0h2m-19 1h2m18 0h1m-22 1h1m22 0h1m-25 1h1m24 0h1m-27 1h1m26 0h1m-29 1h1m27 0h1m-29 1h1m28 0h1m-30 1h1m28 0h1m-30 1h1m28 0h1m-30 1h1m-1 1h1m27 0h1m-28 1h1m26 0h1m-27 1h1m24 0h1m-25 1h1m22 0h1m-23 1h2m18 0h1m-19 1h2m14 0h2m-15 1h3m5 0h4"/>
<path stroke="#a5be6b" d="M0 0m70 49h1m5 0h1m1 1h1m-11 1h1m12 2h1m0 2h1m-15 1h1m13 2h1m-1 1h1m-11 1h1m8 0h1m-7 1h4m-10 9h11m-15 1h2m14 0h2m-20 1h1m19 0h2m-23 1h1m21 0h2m-25 1h1m23 0h2m-27 1h1m25 0h1m-27 1h1m25 0h2m-28 1h1m26 0h1m-28 1h1m26 0h1m-28 1h1m26 0h1m-28 1h1m25 0h1m-26 1h1m23 0h2m-25 1h1m22 0h1m-23 1h1m19 0h2m-20 1h1m15 0h2m-16 1h2m9 0h3m-10 1h5"/>
<path stroke="#aebe67" d="M0 0m71 49h1m3 0h1m-7 1h1m9 1h1m-12 1h1m11 0h1m-13 1h1m-1 1h1m-1 1h1m13 1h1m-14 1h1m12 0h1m-13 1h1m0 1h1m9 0h1m-9 1h2m5 0h1m-14 11h3m8 0h3m-17 1h2m15 0h2m-20 1h1m19 0h1m-22 1h1m21 0h1m-24 1h2m22 0h1m-25 1h1m23 0h1m-25 1h1m24 0h1m-26 1h1m24 0h1m-26 1h1m23 0h2m-26 1h2m22 0h1m-24 1h1m21 0h1m-22 1h1m19 0h2m-21 1h2m16 0h1m-17 1h2m11 0h2m-12 1h9"/>
<path stroke="#b7bd64" d="M0 0m72 49h3m-5 1h1m6 0h1m-9 1h1m10 2h1m0 1h1m-1 1h1m-13 1h1m0 1h1m0 1h1m9 0h1m-10 1h1m7 0h1m-6 1h5m-10 11h8m-12 1h3m10 0h2m-17 1h2m15 0h2m-20 1h2m18 0h1m-21 1h1m20 0h1m-23 1h1m21 0h1m-23 1h1m21 0h2m-24 1h1m21 0h2m-24 1h1m21 0h1m-22 1h1m20 0h1m-22 1h2m18 0h1m-20 1h2m16 0h1m-17 1h2m12 0h2m-14 1h4m4 0h3"/>
<path stroke="#c0bc60" d="M0 0m76 50h1m1 1h1m-10 1h1m9 0h1m-11 2h1m10 0h1m-12 1h1m11 1h1m-1 1h1m-2 1h1m-8 1h1m5 0h1m-11 13h10m-13 1h2m11 0h2m-16 1h1m15 0h2m-19 1h1m17 0h2m-21 1h2m18 0h1m-21 1h2m18 0h1m-21 1h2m18 0h1m-21 1h2m18 0h1m-20 1h1m17 0h2m-19 1h1m15 0h2m-17 1h2m12 0h2m-14 1h3m6 0h3m-8 1h4"/>
<path stroke="#c8bc5d" d="M0 0m71 50h1m3 0h1m-6 1h1m6 0h1m0 1h1m-10 1h1m9 0h1m0 2h1m-11 1h1m9 0h1m-10 1h1m8 0h1m-9 1h1m1 1h2m1 0h2m-11 14h5m1 0h5m-13 1h3m10 0h2m-16 1h2m13 0h2m-17 1h2m14 0h2m-18 1h1m15 0h2m-18 1h1m15 0h2m-18 1h2m14 0h2m-18 1h2m13 0h2m-16 1h3m10 0h2m-13 1h4m4 0h4m-9 1h6"/>
<path stroke="#d1bb59" d="M0 0m72 50h3m1 1h1m-7 1h1m8 2h1m-10 1h1m8 2h1m-7 1h1m4 0h2m-4 1h1m-4 14h1m-5 1h10m-12 1h3m7 0h3m-13 1h2m10 0h2m-15 1h2m11 0h2m-15 1h3m10 0h2m-14 1h2m9 0h3m-14 1h4m6 0h3m-11 1h10m-7 1h4"/>
<path stroke="#d9ba56" d="M0 0m71 51h1m3 0h1m1 1h1m-8 1h1m7 0h1m-9 1h1m8 1h1m-9 1h1m7 0h1m-8 1h1m5 0h1m-5 1h4m-8 17h7m-8 1h10m-11 1h11m-10 1h10m-10 1h9m-7 1h6"/>
<path stroke="#e1b952" d="M0 0m72 51h3m-4 1h1m4 0h1m-6 1h1m5 0h1m-7 1h1m6 0h1m-8 1h1m6 0h1m-7 1h1m5 0h1m-6 1h2m2 0h1"/>
<path stroke="#e9b94e" d="M0 0m72 52h4m0 1h1m0 1h1m-6 1h1m4 0h1m-5 1h1m2 0h2m-3 1h2"/>
<path stroke="#f1b94a" d="M0 0m72 53h4m-4 1h5m-4 1h4m-3 1h2"/>
</g></svg>
<path d="M165.39 451.5v-5.4M165.39 17.2v5.4M90.5 77.26h5.4M632 77.26h-5.4M242.2 451.5v-5.4M242.2 17.2v5.4M90.5 138.87h5.4M632 138.87h-5.4M319.01 451.5v-5.4M319.01 17.2v5.4M90.5 200.47h5.4M632 200.47h-5.4M395.81 451.5v-5.4M395.81 17.2v5.4M90.5 262.07h5.4M632 262.07h-5.4M472.62 451.5v-5.4M472.62 17.2v5.4M90.5 323.67h5.4M632 323.67h-5.4M549.43 451.5v-5.4M549.43 17.2v5.4M90.5 385.28h5.4M632 385.28h-5.4M626.24 451.5v-5.4M626.24 17.2v5.4M90.5 446.88h5.4M632 446.88h-5.4" stroke="#262626" stroke-width="1" fill="none" opacity=".75"/>
<rect x="90.5" y="17.2" width="541.5" height="434.3" fill="none" stroke="#262626" stroke-width="1" opacity=".55"/>
<text class="t" text-anchor="middle" x="165.39" y="487.9">20</text>
<text class="t" text-anchor="end" x="81" y="89.06">20</text>
<text class="t" text-anchor="middle" x="242.2" y="487.9">40</text>
<text class="t" text-anchor="end" x="81" y="150.67">40</text>
<text class="t" text-anchor="middle" x="319.01" y="487.9">60</text>
<text class="t" text-anchor="end" x="81" y="212.27">60</text>
<text class="t" text-anchor="middle" x="395.81" y="487.9">80</text>
<text class="t" text-anchor="end" x="81" y="273.87">80</text>
<text class="t" text-anchor="middle" x="472.62" y="487.9">100</text>
<text class="t" text-anchor="end" x="81" y="335.47">100</text>
<text class="t" text-anchor="middle" x="549.43" y="487.9">120</text>
<text class="t" text-anchor="end" x="81" y="397.08">120</text>
<text class="t" text-anchor="middle" x="626.24" y="487.9">140</text>
<text class="t" text-anchor="end" x="81" y="458.68">140</text>
<text class="l" text-anchor="middle" x="361.25" y="525.8">Pixels</text>
<text class="l" text-anchor="middle" transform="translate(26.5 234.35) rotate(-90)">Pixels</text>
<rect x="660.2" y="17.2" width="25.8" height="434.3" fill="url(#pg)" stroke="#262626" stroke-width="1" stroke-opacity=".6"/>
<text class="cb" x="694" y="462.3">0</text>
<text class="cb" x="694" y="389.73">500</text>
<text class="cb" x="694" y="317.17">1000</text>
<text class="cb" x="694" y="244.6">1500</text>
<text class="cb" x="694" y="172.03">2000</text>
<text class="cb" x="694" y="99.47">2500</text>
<text class="cb" x="694" y="26.9">3000</text>
<path d="M686 379.12h-4M686 306.73h-4M686 234.35h-4M686 161.97h-4M686 89.58h-4" stroke="#262626" stroke-width="1" fill="none" opacity=".8"/>
<text class="c" text-anchor="middle" x="385.6" y="616.7" font-size="49"><tspan dy="-3.5">(</tspan><tspan class="b" font-size="53" dy="3.5" dx="0.4">a</tspan><tspan dy="-3.5" dx="0.4">)</tspan></text>
<!-- panel b -->
<svg class="hm" x="879" y="17.2" width="541.6" height="434.3" viewBox="0 0 141 141" preserveAspectRatio="none" shape-rendering="crispEdges"><g transform="translate(0 .5)">
<rect y="-.5" width="141" height="141" fill="#352a87"/>
<path stroke="#108ed2" d="M0 0m119 2h1m-2 1h2"/>
<path stroke="#0c93d2" d="M0 0m118 2h1m1 1h1m-83 14h1m-3 2h1"/>
<path stroke="#0998d1" d="M0 0m118 4h2m-78 10h1m-3 1h2m-3 1h1m-1 1h1m-3 2h1m87 2h1m-109 8h1"/>
<path stroke="#079ccf" d="M0 0m116 0h1m0 1h1m-77 13h1m-3 1h1m2 0h1m-6 2h1m-1 1h1m87 2h1m-121 31h1m-1 1h1m-1 1h1m78 70h1"/>
<path stroke="#06a0cd" d="M0 0m111 0h1m3 0h1m-54 1h1m28 4h1m0 1h1m-50 7h1m-4 3h1m90 3h1m-96 1h2m88 0h1m-99 2h1m-3 1h1m2 3h1m-13 4h1m-2 2h1m-12 18h1m0 1h1m-3 1h1m1 1h1m119 55h1m-1 1h1m-1 1h1m-2 1h2m-9 13h1m-79 1h2m36 9h1"/>
<path stroke="#06a4ca" d="M0 0m46 0h1m70 2h1m-76 1h1m77 1h1m-30 2h1m-52 8h1m-3 2h1m-3 1h1m-1 1h1m89 1h1m4 1h1m-7 2h1m0 1h1m-100 1h1m1 1h1m-12 5h1m-3 1h1m-2 2h1m-12 10h1m-1 1h1m-2 4h1m2 0h1m129 1h1m-131 1h1m-3 1h1m0 3h2m-3 3h1m122 50h1m-1 1h1m-102 1h1m-1 1h1m100 0h1m-4 1h1m0 1h1m-8 11h1m-35 1h1m-46 1h1m43 0h2m24 5h1m-2 1h1m-35 2h3m-6 2h1m5 1h1m21 0h1m-8 1h1m-2 2h1"/>
<path stroke="#06a7c6" d="M0 0m51 0h1m25 2h1m-35 1h1m35 0h1m37 0h1m3 1h1m-38 1h1m5 0h1m1 0h1m26 0h1m-92 1h1m14 6h1m-3 1h2m-17 1h1m12 0h1m-13 2h1m6 0h2m5 0h1m-2 1h1m54 0h1m21 2h1m7 0h1m-8 1h1m8 0h1m-4 1h1m-98 2h2m3 0h1m97 4h2m-115 1h1m0 1h1m9 0h1m-7 1h1m-1 1h3m-3 1h1m-7 1h1m9 1h1m-4 1h1m1 0h2m-14 2h1m120 7h2m-1 2h1m-129 1h1m-3 2h2m0 2h1m-2 1h1m128 0h1m-132 2h1m0 1h1m132 0h1m-135 1h1m133 0h1m-135 3h1m-1 1h1m135 0h1m-103 8h1m-1 19h1m-15 19h2m-2 1h3m-2 1h3m97 1h1m1 2h1m-4 1h1m-4 7h1m-2 2h2m-38 1h1m2 0h1m31 0h1m-35 1h1m1 0h1m28 0h1m-34 1h1m1 0h3m29 0h1m-37 1h1m3 0h1m2 0h1m-5 1h2m-10 4h2m-1 1h1m17 0h1m-18 2h1m-3 1h2m-1 1h2m21 0h1m-23 1h1m12 2h3"/>
<path stroke="#07a9c2" d="M0 0m49 0h1m62 0h1m-13 1h2m12 0h1m-29 2h1m-3 1h1m6 0h1m-55 1h1m45 0h1m1 0h1m3 0h1m3 0h1m-5 1h1m33 0h1m-83 2h1m6 2h1m76 0h1m-82 3h1m-18 1h1m8 0h1m49 0h1m-61 1h2m7 0h2m71 0h1m-17 1h1m22 1h1m9 1h1m-23 1h1m-66 1h1m78 0h1m5 0h2m-97 1h1m22 1h1m74 0h1m-101 2h1m3 1h1m-20 4h1m4 0h1m10 0h1m-17 1h1m2 0h2m5 0h1m3 0h1m3 0h1m-16 1h2m9 0h2m2 0h1m-3 1h2m-4 1h1m2 0h1m-6 1h1m1 0h1m110 0h1m-115 1h1m-4 1h1m3 0h1m109 4h1m-123 1h1m121 0h2m-125 1h2m121 0h2m-1 1h2m-133 2h1m131 0h1m-128 1h1m-3 1h1m8 0h1m-12 1h1m2 0h1m-4 1h1m130 0h1m1 0h1m-131 1h1m129 0h1m-1 1h1m-131 1h1m-1 1h1m127 0h1m-132 2h1m0 2h1m-2 1h1m134 2h1m-1 1h1m-137 3h1m-4 13h1m34 2h2m2 6h1m92 0h1m-95 1h2m-1 2h2m89 3h2m-2 4h1m-2 1h1m-6 6h1m3 2h1m-105 1h2m101 0h2m-119 1h1m15 0h1m0 1h1m98 0h1m1 0h1m-4 1h1m1 1h1m-4 1h2m-52 1h1m48 0h1m-96 2h1m2 1h1m-2 1h1m2 3h1m81 1h1m4 0h1m-78 2h1m-1 1h3m37 0h1m1 0h1m3 0h1m28 0h1m-36 1h1m2 0h1m4 0h1m25 0h1m-77 1h1m39 0h1m-40 1h1m43 0h1m-48 1h1m1 0h1m41 0h1m-48 1h1m75 0h1m-78 1h1m26 1h3m13 0h1m19 0h1m7 0h1m3 0h2m-50 1h2m44 0h1m-49 1h3m13 0h1m19 0h1m12 0h1m-49 1h1m10 0h1m1 0h3m-6 1h1m7 0h1m20 0h2m-36 1h1m4 0h1m2 0h2m26 0h1m-51 1h1m16 0h2m9 0h1m-14 1h2m5 0h1m1 0h1m3 0h1m16 0h1m-1 1h1m-4 1h1m-3 1h1"/>
<path stroke="#0aacbe" d="M0 0m50 0h1m-6 1h3m13 0h1m51 0h1m2 0h1m-75 1h2m69 0h1m1 0h1m-57 1h2m19 0h1m-42 1h1m19 0h1m23 0h1m3 0h1m2 0h1m1 0h2m-26 1h1m51 0h1m-37 1h2m12 0h1m-8 1h1m-67 1h1m16 0h1m1 0h1m-20 1h1m60 2h1m-49 1h1m2 0h1m2 0h1m-19 1h1m11 0h1m-4 1h1m7 0h2m-20 1h1m8 0h1m8 0h1m42 0h1m13 0h1m-68 1h1m2 0h2m57 0h1m-61 1h1m78 0h1m-77 1h2m75 0h1m8 0h1m1 0h1m3 0h1m-96 1h1m3 0h1m55 0h2m19 0h1m1 0h1m11 0h1m-115 1h1m18 0h1m-2 1h3m4 0h1m1 0h2m81 0h1m4 0h2m-111 1h2m3 0h1m1 0h1m20 0h1m56 0h1m16 0h1m3 0h1m3 0h1m-104 1h1m3 0h1m93 0h4m-102 1h1m2 0h1m0 1h1m-4 1h1m93 0h1m-109 2h1m11 0h2m-6 1h1m4 0h1m-14 1h1m7 0h1m3 0h1m1 0h2m-23 1h1m124 0h2m-122 1h1m8 0h4m2 0h1m-3 1h1m106 0h1m-111 1h1m2 0h2m-10 1h1m7 0h2m-18 2h1m125 1h1m-128 2h1m7 0h1m115 0h1m-125 1h1m11 0h1m-19 1h1m125 0h2m3 0h1m-112 1h1m-9 1h1m114 0h1m4 0h1m-129 1h1m7 0h1m33 0h1m81 0h2m-119 1h1m116 0h1m3 0h1m-2 1h1m1 1h1m-136 1h2m11 0h1m-1 1h2m117 0h2m-120 3h1m121 1h1m-126 2h1m-8 1h1m121 2h1m-102 1h1m101 0h1m-126 1h1m-2 2h1m125 0h1m-1 1h1m-92 3h1m-36 1h1m5 1h1m100 0h2m-1 3h1m-76 2h1m-1 1h1m100 0h1m2 0h1m-4 1h1m-103 1h1m-1 1h1m1 1h1m-1 1h1m-38 3h1m129 2h2m-95 1h1m100 0h1m-102 1h1m1 0h1m-2 1h1m0 1h2m-1 1h1m-1 1h1m0 1h1m88 0h1m-101 1h1m98 0h1m-89 1h2m86 0h2m-90 1h2m-2 1h3m84 0h1m-86 2h1m-21 1h1m20 0h1m-22 2h1m4 0h1m94 0h1m-101 1h2m98 0h1m0 1h1m-101 1h1m100 3h1m-98 1h1m-4 1h1m1 3h1m-1 1h1m97 0h1m-98 1h1m0 1h1m93 2h1m-1 1h1m-2 1h1m-5 1h1m1 0h2m-39 1h1m2 0h1m4 0h1m27 0h1m-38 1h1m3 0h1m1 0h1m-46 1h2m35 0h3m7 0h1m-49 1h1m45 0h1m27 0h1m-70 1h1m32 0h1m1 0h1m4 0h1m-48 1h1m45 0h1m26 0h2m-72 2h1m67 0h2m-17 1h2m-41 1h3m5 0h1m12 0h1m17 0h1m1 0h1m11 0h1m-48 1h1m1 0h1m9 0h1m-14 1h1m3 0h1m3 0h2m1 0h1m3 0h1m25 0h1m-45 1h1m6 0h1m3 0h1m1 0h2m3 0h1m25 0h2m-55 1h1m19 0h1m8 0h1m1 0h1m18 0h1m-51 1h1m15 0h3m4 0h2m1 0h1m22 0h1m-48 1h1m22 0h1m3 0h1m16 0h1m1 0h1m1 0h1m-26 1h1m1 0h1m13 0h1m1 0h2m3 0h1m-4 1h1m-6 1h1"/>
<path stroke="#0faeb9" d="M0 0m63 1h1m13 0h2m3 0h1m11 0h1m20 0h1m-75 1h1m3 0h1m13 0h1m2 0h1m15 0h1m37 0h1m-73 1h1m13 0h1m14 0h2m10 0h1m1 0h1m5 0h1m-56 1h1m3 0h1m36 0h1m2 0h1m34 0h1m-90 1h1m10 0h2m7 0h1m7 0h1m30 0h1m6 0h1m3 0h1m19 0h1m3 0h1m-98 1h1m13 0h1m43 0h1m9 0h1m26 0h1m-96 1h1m18 0h3m45 0h1m-67 1h1m18 0h1m5 0h2m33 0h3m-50 1h1m2 0h1m4 1h1m2 0h1m71 0h1m-100 1h2m13 0h1m6 0h1m78 0h2m-103 1h1m2 0h1m10 0h1m4 0h1m-7 1h2m2 0h1m37 0h1m-59 1h1m2 0h2m13 0h1m39 0h1m4 0h1m-61 1h1m9 0h1m4 0h1m54 0h1m7 0h1m5 0h1m1 0h1m12 0h1m-102 1h2m2 0h2m1 0h1m13 0h1m57 0h1m-59 1h1m48 0h2m1 0h1m1 0h1m1 0h1m4 0h1m-9 1h2m3 0h1m2 0h1m10 0h1m-95 1h2m24 0h1m59 0h1m-66 1h1m2 0h1m57 0h1m25 0h1m-92 1h1m68 0h1m2 0h2m-90 1h1m10 0h4m87 0h1m3 0h1m1 0h1m-109 1h2m93 0h1m7 0h1m-97 1h1m1 0h2m1 0h2m75 0h2m4 0h1m9 0h1m-96 1h2m2 0h1m58 0h1m14 0h1m21 0h1m-104 1h1m6 0h1m56 0h1m2 0h1m34 0h2m-115 1h1m9 0h1m1 0h1m1 0h1m-14 1h1m4 0h1m1 0h3m3 0h1m1 0h1m91 0h1m5 0h1m-107 1h1m4 0h1m3 0h1m79 0h1m-105 1h1m12 0h1m2 0h1m5 0h1m-20 1h1m3 0h1m9 0h2m36 0h1m-53 1h1m1 0h1m1 0h1m115 0h1m-126 1h1m5 0h1m4 0h1m4 0h1m1 0h1m-19 1h1m6 0h1m4 0h1m1 0h1m42 0h1m-46 1h1m3 0h1m111 0h1m-126 1h1m1 0h1m8 0h1m1 0h3m-15 1h1m12 0h1m-15 1h1m8 0h1m3 1h1m20 0h1m-1 1h1m-42 1h1m12 0h1m-12 1h1m129 0h1m-130 1h2m13 0h2m79 0h1m-101 1h1m11 0h1m6 0h1m19 0h1m90 0h1m-104 1h1m20 0h1m78 0h1m5 0h1m-130 1h1m8 0h1m3 0h1m8 0h1m103 0h1m-118 1h1m11 0h2m-28 1h1m2 0h1m34 0h1m94 0h2m-130 1h1m11 0h1m113 0h1m-117 1h1m-4 1h2m2 0h1m116 0h1m-128 1h1m127 0h1m-133 1h1m10 0h1m118 0h1m-118 1h1m-2 1h2m121 0h1m-135 1h1m6 0h1m126 0h1m-125 1h1m113 0h1m-125 1h1m8 0h1m26 0h1m86 0h1m-90 1h1m89 0h1m-127 1h1m-1 1h1m24 0h1m111 0h1m-137 1h1m6 0h1m16 0h2m101 0h1m-2 1h1m9 0h1m-137 1h1m95 0h1m29 0h1m9 1h1m-107 1h1m-32 1h1m-2 1h1m6 0h2m25 0h2m1 0h1m-30 1h1m26 0h2m-2 1h1m73 0h1m-1 1h2m8 0h2m-13 1h1m1 0h1m-77 1h1m74 0h1m-103 1h1m25 0h1m75 0h1m-104 1h1m26 0h1m74 0h4m-4 1h1m-1 1h1m-75 1h2m-30 1h1m18 0h1m10 0h1m-4 1h2m74 0h1m-76 1h2m-2 1h2m1 0h1m-22 2h1m20 0h1m0 1h1m98 0h1m-9 1h1m7 0h1m-1 1h1m-104 2h1m-28 1h1m29 0h1m92 0h1m-92 1h1m-2 1h1m0 1h1m-20 2h1m106 0h1m0 1h1m-120 1h1m29 0h3m81 0h1m-122 1h1m37 0h1m1 0h1m81 0h2m-85 1h1m-16 1h1m95 1h1m-97 1h1m-6 1h2m98 0h1m1 0h1m2 0h1m-104 1h1m0 1h1m7 0h1m91 0h1m-100 1h1m97 0h1m1 0h2m-105 2h1m103 0h1m-5 1h1m3 0h1m-104 1h1m48 0h1m-49 1h1m44 0h1m5 0h1m-52 1h1m45 0h2m49 0h1m2 0h1m-101 1h1m46 0h2m49 0h1m1 0h1m-100 2h2m2 0h1m-3 1h1m2 0h1m69 0h1m15 0h1m-90 1h1m92 0h1m-2 1h2m-5 1h1m-76 1h1m3 0h1m44 0h1m21 0h2m3 0h1m-78 1h1m42 0h1m1 0h3m28 0h1m-38 1h1m9 0h2m27 0h1m-76 1h1m32 0h2m9 0h1m29 0h1m-87 1h1m4 0h3m2 0h1m2 0h2m32 0h1m1 0h1m17 0h2m-57 1h2m1 0h1m40 0h1m24 0h2m-35 1h2m5 0h3m24 0h1m-81 1h1m52 0h2m21 0h1m1 0h1m-63 1h1m36 0h1m9 0h1m7 0h1m-72 1h1m22 0h1m2 0h1m3 0h1m6 0h1m4 0h1m3 0h1m17 0h1m9 0h1m-75 1h1m38 0h2m19 0h1m1 0h1m1 0h1m7 0h1m-49 1h1m6 0h3m25 0h1m7 0h1m4 0h1m-49 1h2m2 0h2m13 0h1m16 0h2m4 0h2m-63 1h1m17 0h1m2 0h4m2 0h1m14 0h1m-32 1h1m12 0h2m1 0h1m5 0h1m6 0h1m1 0h1m2 0h1m-35 1h1m20 0h1m6 0h1m16 0h1m4 0h1m-29 1h1m7 0h2m-15 1h1m7 0h1m-14 2h1m25 0h1m-6 1h1"/>
<path stroke="#15b1b4" d="M0 0m43 1h2m8 0h1m6 0h1m24 0h1m16 0h1m8 0h1m-60 1h2m9 0h2m10 0h2m6 0h1m1 0h1m14 0h1m3 0h1m9 0h1m-63 1h1m3 0h2m17 0h1m1 0h1m3 0h1m2 0h1m20 0h1m10 0h1m-61 1h2m27 0h1m2 0h1m-60 1h1m8 0h1m10 0h3m65 0h1m-89 1h1m7 0h1m7 0h1m40 0h1m3 0h1m3 0h1m4 0h1m10 0h1m7 0h2m1 0h2m-97 1h1m11 0h1m8 0h1m38 0h2m1 0h2m2 0h1m5 0h1m12 0h1m8 0h1m-83 1h2m2 0h1m6 0h1m38 0h1m30 0h1m2 0h1m-102 1h2m2 0h1m13 0h2m8 0h1m48 0h1m22 0h1m-99 1h2m13 0h2m35 0h1m44 0h1m2 0h1m-99 1h1m14 0h1m81 0h1m-100 1h1m14 0h2m27 0h1m-47 1h1m1 0h2m1 0h1m11 0h1m5 0h1m39 0h2m39 0h1m-97 1h1m3 0h1m2 0h1m39 0h1m3 0h2m4 0h1m20 0h1m1 0h1m-91 1h1m55 0h1m12 0h1m9 0h1m4 0h1m22 0h1m-104 1h1m68 0h2m1 0h1m1 0h1m2 0h1m2 0h1m-87 1h1m2 0h1m3 0h1m61 0h1m9 0h1m2 0h2m2 0h1m3 0h1m4 0h1m-93 1h1m18 0h1m5 0h1m47 0h1m2 0h1m1 0h1m6 0h1m5 0h1m3 0h1m-101 1h1m5 0h1m3 0h1m11 0h1m1 0h1m4 0h1m23 0h1m24 0h1m7 0h1m20 0h2m-86 1h1m5 0h1m60 0h1m12 0h1m10 0h1m-116 1h1m13 0h1m12 0h1m2 0h1m67 0h1m2 0h1m1 0h1m4 0h1m5 0h2m-116 1h1m4 0h1m5 0h1m9 0h1m12 0h1m69 0h1m11 0h1m-117 1h1m7 0h1m6 0h1m3 0h1m3 0h1m11 0h1m32 0h2m22 0h1m15 0h1m1 0h1m-57 1h1m57 0h1m1 0h1m-105 1h1m1 0h2m5 0h1m18 0h1m26 0h1m14 0h1m12 0h1m1 0h1m19 0h1m1 0h1m-102 1h1m1 0h1m59 0h2m34 0h1m-112 1h1m7 0h1m1 0h1m4 0h1m59 0h2m16 0h1m17 0h1m-119 1h1m12 0h1m7 0h1m61 0h1m35 0h1m-108 1h1m8 0h2m60 0h1m2 0h1m17 0h1m-96 1h1m12 0h3m97 0h2m-114 1h1m42 0h1m68 0h1m-125 1h1m9 0h1m80 0h1m33 0h1m-126 1h1m11 0h1m7 0h1m103 0h1m-120 1h1m4 0h1m1 0h1m44 0h1m-57 1h1m18 0h1m14 0h1m-25 1h1m6 0h2m-7 1h3m-15 1h1m1 0h1m12 0h1m3 0h1m14 0h1m45 0h1m-71 1h1m4 0h2m17 0h1m76 0h1m8 0h2m1 0h1m-123 1h1m32 0h1m1 0h1m82 0h2m1 0h1m-121 1h1m5 0h1m111 0h1m-126 1h1m1 0h3m12 0h1m79 0h1m29 0h1m-108 1h1m1 0h1m103 0h1m1 0h1m2 0h1m-129 1h1m11 0h2m3 0h3m104 0h1m-129 1h1m4 0h1m5 0h1m1 0h1m2 0h2m38 0h1m73 0h1m-122 1h1m7 0h1m60 0h1m-78 1h1m2 0h1m11 0h1m5 0h2m13 0h1m6 0h2m82 0h1m1 0h1m1 0h2m-119 1h2m4 0h2m106 0h1m-121 1h2m1 0h1m1 0h1m5 0h1m3 0h1m105 0h1m-133 1h1m11 0h1m121 0h1m1 0h1m-122 1h1m1 0h2m-18 1h1m10 0h1m2 0h1m116 0h1m2 0h1m-121 1h1m12 0h1m102 0h1m2 0h1m1 0h2m-128 1h1m17 0h2m65 0h1m30 0h3m2 0h3m-124 1h4m2 0h1m78 0h1m39 0h1m-131 1h1m3 0h1m4 0h1m81 0h1m36 0h1m4 0h1m-138 1h1m10 0h1m1 0h1m5 0h2m74 0h2m-87 1h1m7 0h2m7 0h1m98 0h1m9 0h1m-137 1h1m1 0h1m6 0h3m12 0h1m10 0h1m2 0h1m97 0h1m-135 1h1m5 0h1m10 0h1m19 0h1m85 0h1m-124 1h1m35 0h1m1 0h1m86 0h2m5 0h2m-126 1h1m12 0h1m-23 1h1m6 0h1m2 0h1m23 0h1m70 0h2m7 0h1m12 0h1m6 0h2m-127 1h1m25 0h1m59 0h1m19 0h1m20 0h1m-139 1h2m95 0h2m18 0h1m-110 1h1m22 0h1m3 0h1m62 0h1m-99 1h1m10 0h1m22 0h2m1 0h1m-5 1h1m74 0h2m8 0h1m-118 1h1m4 0h1m27 0h1m-28 1h1m28 0h1m70 0h1m-73 1h1m72 0h1m-101 1h1m26 0h1m83 0h1m-96 1h2m7 0h1m1 0h1m72 0h1m8 0h1m16 0h2m1 0h2m-100 1h3m66 0h1m1 0h1m6 0h1m16 0h2m-101 1h1m101 0h1m-105 1h3m74 0h2m22 0h1m1 0h1m1 0h1m-107 1h1m1 0h2m74 0h1m-113 1h1m27 0h1m9 0h1m1 0h1m71 0h1m-111 1h1m23 0h1m1 0h1m5 0h1m66 0h1m9 0h1m-74 1h1m63 0h1m7 0h1m-77 1h2m2 0h2m62 0h1m-102 1h1m32 0h2m2 0h1m92 0h2m-108 1h1m11 0h3m91 0h1m-94 1h1m79 0h1m12 0h1m-96 1h3m70 0h1m23 0h1m-98 1h1m3 0h1m76 0h1m14 0h1m4 0h1m-102 1h1m3 0h1m-4 1h1m3 0h1m79 0h1m3 0h1m-89 1h2m82 0h1m-88 1h1m2 0h2m2 0h1m89 0h1m-99 1h1m4 0h2m72 0h1m15 0h1m-103 1h1m3 0h1m8 0h1m2 0h1m73 0h1m10 0h1m3 0h1m-106 1h1m103 0h1m-105 1h1m10 0h1m89 0h2m-92 1h1m2 0h1m77 0h1m6 0h2m-90 1h1m87 0h1m-99 1h1m16 0h1m81 0h1m1 0h1m1 0h1m-123 1h1m18 0h1m13 0h1m12 0h1m70 0h1m-103 2h1m100 0h2m-1 1h1m-104 1h1m10 0h2m64 0h2m21 0h1m-88 1h1m22 0h1m33 0h1m6 0h1m3 0h1m18 0h1m-94 1h1m57 0h1m36 0h2m1 0h1m-43 1h1m43 1h1m-120 1h1m59 0h1m49 0h3m6 0h1m-59 1h2m51 0h1m4 0h1m-118 1h1m11 0h1m2 0h2m40 0h3m7 0h1m20 0h1m19 0h1m-109 1h1m14 0h2m41 0h3m6 0h1m43 0h1m4 0h1m-116 1h1m13 0h2m44 0h1m1 0h1m2 0h1m-51 1h1m42 0h1m2 0h1m52 0h1m-97 1h1m-5 1h1m1 0h1m93 0h1m-98 1h1m75 0h2m22 0h1m-100 1h1m3 0h1m26 0h2m43 0h1m18 0h1m-95 1h1m4 0h1m67 0h2m15 0h1m5 0h1m-91 1h1m27 0h1m37 0h2m18 0h1m-88 1h1m13 0h1m16 0h1m15 0h1m2 0h1m29 0h2m4 0h1m-79 1h1m6 0h1m21 0h1m7 0h1m2 0h1m1 0h1m7 0h1m-58 1h1m9 0h2m16 0h1m15 0h1m2 0h2m1 0h1m5 0h1m1 0h1m9 0h1m12 0h1m-74 1h1m3 0h1m32 0h2m9 0h1m25 0h2m-86 1h1m9 0h1m45 0h1m12 0h1m13 0h1m-84 1h1m11 0h2m2 0h1m30 0h1m9 0h1m1 0h1m6 0h1m14 0h2m-77 1h1m4 0h1m10 0h1m24 0h1m10 0h1m6 0h1m7 0h1m10 0h1m-80 1h1m4 0h1m3 0h1m33 0h1m10 0h1m4 0h1m-51 1h1m34 0h1m8 0h1m-55 1h1m17 0h1m7 0h1m24 0h1m-13 1h2m5 0h1m24 0h1m-48 1h2m2 0h1m8 0h1m5 0h1m31 0h1m-48 1h1m8 0h2m3 0h1m19 0h1m-34 1h1m2 0h2m22 0h1m1 0h1m4 0h2m-52 1h1m10 0h1m8 0h1m10 0h1m8 0h1m9 0h1m-51 1h1m13 0h1m4 0h2m2 0h1m10 0h1m7 0h1m5 0h1m-49 1h1m13 0h1m11 0h1m5 0h2m2 0h1m4 0h2m3 0h1m-27 1h1m1 0h2m10 0h1m10 0h1m-13 1h1m12 0h2m-34 1h1m26 0h1m-27 1h1m-5 1h2"/>
<path stroke="#1db3af" d="M0 0m43 0h1m4 1h1m10 0h1m10 0h1m19 0h1m13 0h1m-66 1h1m4 0h1m15 0h1m13 0h1m30 0h1m5 0h1m-82 1h2m6 0h2m1 0h1m3 0h1m9 0h1m7 0h1m14 0h1m4 0h1m7 0h1m8 0h1m3 0h1m-68 1h1m2 0h1m17 0h1m3 0h1m1 0h2m2 0h1m3 0h1m3 0h1m-23 1h2m1 0h1m1 0h1m22 0h1m3 0h1m1 0h1m32 0h1m-96 1h1m11 0h1m1 0h1m6 0h1m32 0h1m1 0h1m4 0h2m22 0h1m-73 1h1m9 0h2m1 0h1m32 0h1m2 0h1m5 0h2m2 0h1m1 0h1m18 0h2m2 0h1m-102 1h3m21 0h1m1 0h2m40 0h1m4 0h2m24 0h1m2 0h1m-101 1h1m23 0h1m2 0h1m1 0h1m23 0h1m43 0h1m-80 1h1m8 0h1m19 0h2m14 0h1m12 0h1m22 0h1m-99 1h1m1 0h1m11 0h2m1 0h2m2 0h1m1 0h1m15 0h1m3 0h1m16 0h1m1 0h1m-66 1h1m2 0h1m10 0h1m8 0h1m13 0h1m5 0h1m1 0h1m13 0h1m3 0h2m39 0h1m-106 1h1m1 0h1m6 0h1m3 0h2m34 0h1m6 0h1m4 0h1m24 0h1m11 0h1m7 0h1m-106 1h1m2 0h1m3 0h1m3 0h1m11 0h1m33 0h1m5 0h1m2 0h1m2 0h1m1 0h1m6 0h1m8 0h1m2 0h1m13 0h2m-106 1h1m1 0h1m12 0h1m14 0h1m15 0h1m8 0h1m7 0h1m1 0h1m2 0h1m7 0h1m3 0h1m2 0h1m17 0h1m4 0h1m-45 1h4m9 0h1m1 0h1m3 0h1m1 0h1m2 0h2m4 0h2m6 0h2m-102 1h1m1 0h1m1 0h2m6 0h1m8 0h1m1 0h1m40 0h1m3 0h1m2 0h1m5 0h1m2 0h1m2 0h1m3 0h1m2 0h1m3 0h1m3 0h1m2 0h1m-89 1h1m9 0h1m22 0h1m15 0h1m8 0h1m4 0h1m3 0h1m4 0h2m2 0h1m1 0h1m-46 1h1m13 0h1m14 0h1m3 0h1m2 0h1m17 0h1m-106 1h1m6 0h2m14 0h1m11 0h1m16 0h1m9 0h1m2 0h1m12 0h1m5 0h1m1 0h1m-88 1h1m7 0h2m12 0h1m1 0h1m5 0h1m21 0h1m17 0h1m20 0h1m9 0h1m1 0h1m7 0h2m-115 1h1m24 0h1m5 0h1m6 0h1m28 0h4m20 0h2m1 0h1m21 0h1m-100 1h1m3 0h1m7 0h1m7 0h1m1 0h1m24 0h1m3 0h1m4 0h1m18 0h1m8 0h1m15 0h1m-117 1h1m9 0h1m9 0h1m17 0h1m34 0h1m5 0h1m12 0h3m5 0h1m6 0h1m2 0h1m-107 1h2m5 0h1m9 0h2m16 0h2m8 0h1m4 0h2m40 0h1m2 0h3m8 0h1m3 0h1m-117 1h1m18 0h1m48 0h1m27 0h1m-98 1h1m3 0h1m7 0h1m5 0h1m3 0h1m57 0h1m2 0h1m30 0h1m-97 1h1m3 0h1m57 0h2m16 0h3m13 0h1m-115 1h1m6 0h2m5 0h1m84 0h1m1 0h1m-87 1h1m36 0h2m48 0h2m11 0h1m-97 1h1m31 0h1m2 0h1m48 0h1m-95 1h1m41 0h4m32 0h1m-93 1h1m9 0h1m4 0h1m7 0h1m34 0h2m1 0h2m29 0h3m34 0h1m-108 1h1m6 0h1m30 0h1m33 0h1m15 0h1m-111 1h2m22 0h1m11 0h1m6 0h1m14 0h2m8 0h1m26 0h1m-89 1h1m26 0h1m21 0h1m6 0h1m5 0h1m2 0h1m22 0h1m2 0h1m12 0h2m9 0h1m-123 1h1m6 0h1m5 0h2m4 0h1m2 0h1m8 0h1m7 0h1m31 0h2m23 0h1m15 0h1m9 0h1m1 0h1m5 0h1m-120 1h1m5 0h1m5 0h1m12 0h1m1 0h1m41 0h1m43 0h1m-121 1h1m9 0h1m1 0h1m5 0h1m16 0h1m9 0h1m43 0h1m15 0h1m12 0h1m2 0h1m5 0h1m-122 1h1m25 0h1m55 0h1m22 0h1m8 0h1m-126 1h2m15 0h1m4 0h1m14 0h3m44 0h1m8 0h1m22 0h2m7 0h2m2 0h2m-125 1h1m3 0h1m6 0h1m3 0h2m74 0h1m-101 1h1m1 0h1m3 0h2m15 0h1m15 0h1m9 0h1m49 0h1m27 0h1m7 0h2m-131 1h1m14 0h1m15 0h2m19 0h1m68 0h1m-113 1h1m6 0h1m3 0h1m10 0h1m1 0h1m6 0h1m-41 1h1m16 0h3m1 0h1m18 0h1m81 0h1m5 0h1m-134 1h1m20 0h1m4 0h1m102 0h1m-119 1h1m8 0h1m2 0h2m72 0h1m-75 1h1m1 0h1m2 0h1m20 0h1m2 0h2m74 0h1m-132 1h1m2 0h1m8 0h1m4 0h2m8 0h1m24 0h2m-42 1h1m2 0h1m11 0h2m63 0h1m1 0h1m38 0h1m1 0h1m-122 1h2m1 0h1m10 0h1m65 0h1m36 0h1m-102 1h1m25 0h1m37 0h2m30 0h1m4 0h1m4 0h1m2 0h1m-126 1h2m6 0h1m71 0h2m30 0h1m11 0h1m-134 1h1m3 0h2m10 0h1m8 0h1m64 0h1m30 0h3m5 0h2m-131 1h1m1 0h1m5 0h2m1 0h1m4 0h1m74 0h1m31 0h1m4 0h1m1 0h2m-125 1h1m3 0h1m24 0h1m84 0h2m8 0h2m-133 1h1m8 0h2m6 0h1m14 0h1m1 0h1m1 0h1m87 0h1m3 0h1m3 0h1m-128 1h1m10 0h1m17 0h1m1 0h2m86 0h2m-126 1h1m1 0h2m2 0h1m10 0h1m13 0h1m2 0h2m84 0h1m3 0h2m3 0h3m-137 1h1m6 0h1m2 0h1m10 0h1m2 0h1m1 0h1m12 0h1m1 0h1m1 0h1m84 0h1m2 0h1m-130 1h1m10 0h1m12 0h1m13 0h2m12 0h1m53 0h2m5 0h1m12 0h2m6 0h4m-139 1h1m7 0h1m2 0h1m14 0h2m7 0h1m2 0h2m13 0h1m43 0h2m20 0h1m-120 1h1m7 0h1m17 0h2m4 0h1m3 0h1m1 0h1m77 0h1m1 0h1m-120 1h1m26 0h1m5 0h1m4 0h1m1 0h1m15 0h1m40 0h1m2 0h1m18 0h1m9 0h1m-131 1h1m8 0h1m3 0h1m21 0h2m1 0h3m58 0h1m10 0h1m7 0h1m2 0h2m-122 1h1m2 0h1m4 0h1m30 0h1m14 0h1m62 0h1m17 0h1m-129 1h1m31 0h1m14 0h1m53 0h1m8 0h1m-108 1h1m27 0h2m68 0h1m-89 1h1m13 0h2m73 0h1m1 0h1m9 0h1m-88 1h2m1 0h1m1 0h1m-33 1h1m27 0h1m1 0h4m1 0h1m11 0h2m65 0h1m16 0h2m-133 1h1m1 0h1m29 0h2m1 0h1m11 0h1m53 0h1m2 0h1m-105 1h1m23 0h1m4 0h1m71 0h1m30 0h1m-132 1h2m98 0h1m10 0h1m1 0h2m12 0h1m1 0h1m-139 1h1m26 0h1m5 0h2m74 0h1m1 0h1m-84 1h1m2 0h3m75 0h1m1 0h1m1 0h1m5 0h1m17 0h1m-137 1h1m6 0h1m18 0h1m4 0h3m4 0h1m62 0h1m8 0h1m1 0h1m4 0h2m17 0h1m-137 1h1m37 0h1m62 0h1m-101 1h1m2 0h1m19 0h2m7 0h1m9 0h1m56 0h1m1 0h1m13 0h2m-87 1h1m77 0h1m-86 1h1m76 0h1m16 0h1m-119 1h3m17 0h1m2 0h1m9 0h1m1 0h1m65 0h1m3 0h1m11 0h2m12 0h1m-133 1h1m2 0h1m5 0h1m6 0h2m1 0h1m14 0h1m1 0h2m2 0h1m61 0h2m8 0h1m1 0h2m14 0h1m-130 1h1m100 0h1m3 0h1m1 0h1m3 0h1m4 0h1m19 0h2m-139 1h1m105 0h2m3 0h1m18 0h1m-90 1h1m64 0h2m13 0h1m5 0h1m6 0h1m2 0h2m-109 1h1m3 0h1m71 0h1m3 0h1m7 0h1m7 0h2m2 0h2m4 0h1m-103 1h2m5 0h1m78 0h1m6 0h1m3 0h2m-123 1h1m24 0h1m84 0h1m-120 1h1m23 0h2m2 0h2m3 0h1m2 0h1m70 0h1m2 0h1m14 0h2m-100 1h2m8 0h1m69 0h1m3 0h1m1 0h1m3 0h2m6 0h1m2 0h1m-101 1h1m8 0h1m1 0h1m11 0h1m50 0h1m13 0h1m8 0h3m2 0h1m-131 1h1m25 0h1m2 0h1m7 0h1m1 0h1m58 0h1m18 0h1m7 0h1m4 0h1m-89 1h1m54 0h2m19 0h1m2 0h1m5 0h1m-119 1h1m11 0h2m20 0h1m65 0h1m7 0h1m4 0h1m3 0h1m-119 1h2m26 0h1m80 0h2m3 0h2m2 0h1m1 0h1m-110 1h1m19 0h1m78 0h1m4 0h1m-85 1h1m1 0h1m53 0h1m2 0h1m1 0h1m9 0h1m13 0h1m1 0h1m-85 1h2m11 0h1m39 0h1m2 0h2m22 0h1m-102 1h1m4 0h1m6 0h2m7 0h1m12 0h2m37 0h1m3 0h4m13 0h1m5 0h1m5 0h1m-102 1h1m9 0h2m5 0h3m1 0h1m8 0h1m1 0h1m27 0h1m5 0h3m2 0h1m4 0h1m5 0h1m5 0h2m8 0h1m2 0h1m-107 1h1m2 0h2m2 0h1m14 0h1m3 0h1m10 0h2m25 0h3m4 0h2m14 0h2m16 0h1m-118 1h1m15 0h1m7 0h2m10 0h1m11 0h2m25 0h2m8 0h2m24 0h3m5 0h1m-120 1h1m22 0h1m1 0h1m19 0h2m4 0h2m23 0h3m2 0h1m-83 1h1m13 0h1m10 0h1m33 0h2m15 0h3m36 0h1m1 0h1m-99 1h1m5 0h1m34 0h1m1 0h2m-15 1h1m10 0h2m2 0h1m25 0h2m19 0h1m-108 1h1m58 0h2m20 0h1m-82 1h1m10 0h1m7 0h1m40 0h1m1 0h1m1 0h2m41 0h1m-51 1h1m1 0h1m3 0h1m12 0h1m30 0h1m-92 1h2m23 0h1m15 0h1m4 0h1m9 0h1m6 0h1m-22 1h2m11 0h2m5 0h1m1 0h1m33 0h1m-115 1h1m16 0h1m62 0h1m30 0h2m-94 1h1m89 0h2m1 0h1m-100 1h1m1 0h1m28 0h1m66 0h1m-93 1h1m25 0h1m55 0h3m4 0h1m-92 1h1m4 0h1m27 0h1m15 0h1m6 0h2m14 0h1m7 0h1m2 0h3m-84 1h1m8 0h1m4 0h1m13 0h1m1 0h2m15 0h1m4 0h1m14 0h2m15 0h1m-84 1h1m8 0h1m1 0h1m4 0h1m14 0h1m12 0h1m2 0h1m1 0h1m1 0h2m27 0h1m3 0h1m-83 1h1m10 0h2m15 0h1m39 0h2m9 0h1m1 0h2m-86 1h1m5 0h1m2 0h1m29 0h1m6 0h1m23 0h1m3 0h1m5 0h4m-78 1h1m7 0h2m29 0h1m16 0h1m8 0h1m8 0h1m-79 1h1m55 0h1m11 0h1m12 0h1m-63 1h1m1 0h1m55 0h1m1 0h1m-76 1h1m6 0h1m1 0h1m5 0h2m24 0h1m15 0h1m1 0h1m13 0h1m-69 1h1m7 0h1m2 0h1m29 0h3m5 0h3m5 0h2m-68 1h1m9 0h1m11 0h1m4 0h1m1 0h2m16 0h1m7 0h2m2 0h1m3 0h1m1 0h1m7 0h1m1 0h2m-75 1h2m16 0h1m2 0h1m1 0h2m8 0h1m3 0h2m4 0h1m25 0h1m-72 1h1m1 0h1m17 0h1m11 0h2m1 0h1m11 0h1m12 0h1m9 0h1m1 0h1m-51 1h2m22 0h1m2 0h1m6 0h2m18 0h1m-64 1h2m9 0h1m8 0h1m11 0h2m23 0h1m-57 1h1m2 0h1m13 0h1m2 0h1m12 0h1m1 0h1m9 0h2m1 0h3m-15 1h1m1 0h2m2 0h1m2 0h1m5 0h1m-52 1h1m15 0h1m18 0h1m5 0h1m7 0h1m-47 1h1m1 0h1m35 0h3m-25 1h1m1 0h3m6 0h4m-18 1h1m23 0h1m-30 1h1m2 1h2m2 0h2m2 0h1m12 0h1"/>
<path stroke="#25b5a9" d="M0 0m33 0h1m-1 1h1m7 0h1m7 0h3m17 0h1m6 0h1m2 0h1m3 0h1m2 0h1m10 0h2m4 0h1m6 0h1m-71 1h1m5 0h1m7 0h2m9 0h1m1 0h1m11 0h1m1 0h2m7 0h1m6 0h2m2 0h1m-70 1h1m7 0h1m20 0h2m2 0h1m6 0h1m3 0h1m5 0h1m7 0h1m1 0h1m6 0h1m1 0h1m11 0h1m-84 1h1m12 0h1m3 0h1m3 0h1m2 0h2m4 0h2m7 0h1m3 0h1m6 0h2m4 0h1m2 0h1m8 0h1m1 0h1m-71 1h1m5 0h1m4 0h1m1 0h1m3 0h1m12 0h1m1 0h1m18 0h1m13 0h3m11 0h2m-75 1h1m11 0h1m3 0h5m3 0h1m7 0h1m4 0h1m21 0h3m2 0h1m-78 1h1m4 0h1m22 0h1m8 0h1m23 0h1m26 0h1m1 0h1m-61 1h1m38 0h2m7 0h2m16 0h1m-82 1h1m4 0h1m2 0h2m1 0h1m25 0h2m4 0h1m7 0h2m4 0h2m3 0h1m1 0h1m-80 1h1m2 0h1m11 0h1m2 0h1m1 0h1m1 0h2m26 0h1m1 0h1m1 0h1m1 0h1m6 0h1m1 0h1m1 0h1m8 0h1m15 0h1m-88 1h2m14 0h1m5 0h1m12 0h1m1 0h1m17 0h2m-64 1h1m5 0h2m17 0h1m4 0h1m12 0h1m12 0h2m1 0h1m1 0h1m1 0h1m24 0h1m13 0h3m-97 1h1m41 0h2m2 0h1m3 0h1m1 0h1m1 0h2m3 0h1m16 0h2m1 0h3m9 0h1m-102 1h1m1 0h1m46 0h2m5 0h2m3 0h1m3 0h1m4 0h1m2 0h1m6 0h1m7 0h1m15 0h1m-96 1h1m16 0h1m18 0h1m13 0h1m2 0h1m6 0h1m2 0h2m1 0h1m17 0h2m-91 1h1m5 0h1m13 0h1m6 0h1m13 0h4m20 0h4m10 0h1m4 0h1m4 0h2m12 0h1m-108 1h1m21 0h1m17 0h1m15 0h2m6 0h2m37 0h1m1 0h1m-106 1h1m21 0h2m4 0h1m7 0h1m13 0h1m2 0h1m3 0h2m5 0h1m17 0h1m2 0h2m3 0h1m-93 1h1m1 0h1m5 0h1m15 0h1m5 0h1m18 0h2m2 0h1m10 0h1m17 0h1m7 0h1m3 0h1m15 0h1m-105 1h1m2 0h1m15 0h2m24 0h1m1 0h1m9 0h2m12 0h1m1 0h1m2 0h1m4 0h1m8 0h1m2 0h1m5 0h1m-109 1h1m12 0h1m11 0h1m9 0h1m1 0h1m15 0h1m11 0h2m1 0h1m1 0h2m1 0h1m12 0h1m7 0h1m-90 1h1m17 0h2m1 0h2m2 0h1m1 0h1m38 0h3m1 0h1m6 0h2m6 0h1m5 0h1m9 0h1m-96 1h1m23 0h1m19 0h1m1 0h1m5 0h1m3 0h1m3 0h2m10 0h1m13 0h1m10 0h1m-102 1h2m13 0h2m10 0h1m5 0h1m11 0h1m10 0h4m6 0h1m1 0h1m5 0h1m10 0h1m7 0h1m5 0h2m6 0h1m-114 1h2m4 0h1m43 0h1m2 0h1m4 0h1m3 0h3m9 0h1m2 0h2m5 0h1m22 0h3m2 0h2m-114 1h1m2 0h2m6 0h2m6 0h1m16 0h1m11 0h1m16 0h1m8 0h1m20 0h2m3 0h1m9 0h1m2 0h1m-116 1h1m11 0h1m6 0h1m47 0h1m1 0h1m27 0h1m1 0h1m2 0h1m11 0h2m-60 1h1m10 0h1m1 0h1m16 0h1m13 0h4m-86 1h1m3 0h1m33 0h1m46 0h1m8 0h1m4 0h1m-119 1h1m23 0h1m47 0h2m8 0h2m20 0h1m9 0h1m2 0h1m-122 1h1m21 0h1m1 0h1m1 0h2m26 0h1m18 0h1m3 0h1m28 0h1m-107 1h1m21 0h1m2 0h1m33 0h3m4 0h1m26 0h1m13 0h1m13 0h1m-110 1h1m2 0h1m8 0h2m24 0h2m7 0h1m2 0h1m2 0h2m4 0h1m36 0h1m10 0h1m1 0h1m5 0h1m-127 1h1m20 0h1m6 0h1m6 0h1m5 0h1m6 0h1m10 0h1m6 0h2m10 0h1m12 0h1m1 0h1m30 0h1m1 0h1m-125 1h1m2 0h1m6 0h1m13 0h2m14 0h1m11 0h2m2 0h1m8 0h1m3 0h1m20 0h1m1 0h1m17 0h1m8 0h2m-122 1h1m10 0h1m7 0h1m29 0h2m1 0h1m2 0h1m7 0h1m1 0h1m1 0h2m24 0h2m26 0h1m-122 1h1m8 0h1m7 0h2m1 0h1m6 0h1m3 0h1m2 0h2m1 0h1m11 0h2m9 0h1m2 0h1m3 0h1m24 0h1m1 0h1m23 0h1m3 0h1m-120 1h1m7 0h2m4 0h1m6 0h1m2 0h3m7 0h1m9 0h1m27 0h2m1 0h2m3 0h2m5 0h1m2 0h1m17 0h1m7 0h2m-126 1h1m6 0h1m5 0h1m8 0h2m3 0h1m9 0h1m4 0h1m36 0h1m1 0h4m9 0h1m1 0h1m20 0h1m5 0h1m5 0h1m2 0h1m-134 1h1m14 0h1m2 0h4m2 0h2m2 0h1m9 0h1m11 0h3m24 0h1m6 0h2m1 0h1m5 0h2m1 0h1m2 0h1m17 0h1m2 0h1m10 0h1m2 0h2m-135 1h1m3 0h1m15 0h1m1 0h1m4 0h1m9 0h1m12 0h1m33 0h1m10 0h1m28 0h1m7 0h1m1 0h1m-120 1h2m3 0h1m5 0h1m9 0h3m9 0h1m1 0h1m43 0h3m35 0h1m-132 1h1m8 0h2m2 0h3m18 0h2m1 0h1m4 0h1m4 0h1m-49 1h1m13 0h1m3 0h1m6 0h2m18 0h3m9 0h2m17 0h1m21 0h1m-98 1h1m19 0h1m14 0h1m31 0h1m7 0h1m22 0h1m3 0h1m20 0h1m1 0h1m5 0h1m-135 1h1m15 0h1m2 0h1m2 0h1m14 0h2m6 0h1m1 0h2m7 0h1m21 0h1m23 0h1m24 0h1m3 0h1m-118 1h3m1 0h1m2 0h1m6 0h1m8 0h1m1 0h1m4 0h1m10 0h1m4 0h1m1 0h1m10 0h1m5 0h3m16 0h1m-86 1h1m1 0h1m2 0h1m7 0h2m1 0h1m8 0h1m6 0h3m1 0h5m1 0h1m5 0h2m39 0h2m22 0h1m2 0h1m1 0h1m-118 1h1m7 0h2m3 0h1m21 0h1m2 0h1m2 0h1m1 0h2m3 0h1m16 0h3m53 0h1m-115 1h1m4 0h1m25 0h2m1 0h2m24 0h1m6 0h3m-86 1h1m45 0h1m2 0h1m1 0h2m31 0h1m1 0h1m43 0h1m-128 1h1m18 0h1m7 0h1m18 0h3m11 0h1m14 0h1m7 0h1m21 0h1m10 0h1m5 0h1m4 0h1m-127 1h1m19 0h1m20 0h1m2 0h1m1 0h1m12 0h1m22 0h1m13 0h2m16 0h1m2 0h1m-120 1h1m7 0h1m3 0h1m9 0h2m22 0h1m41 0h1m10 0h1m26 0h2m2 0h1m-118 1h1m12 0h1m6 0h1m7 0h1m14 0h1m28 0h1m2 0h1m27 0h1m-118 1h2m12 0h1m2 0h1m13 0h1m1 0h2m5 0h1m60 0h1m-99 1h1m5 0h1m7 0h1m16 0h2m2 0h5m45 0h1m13 0h1m18 0h2m2 0h3m2 0h2m-138 1h1m7 0h2m12 0h2m2 0h1m9 0h1m7 0h1m50 0h2m7 0h2m10 0h1m15 0h1m4 0h1m-118 1h1m2 0h1m3 0h1m13 0h1m60 0h4m-102 1h1m16 0h1m1 0h1m1 0h1m9 0h2m3 0h1m1 0h1m58 0h2m2 0h1m10 0h2m6 0h1m6 0h1m3 0h1m-130 1h1m2 0h1m1 0h1m8 0h1m2 0h1m2 0h2m6 0h2m6 0h1m9 0h2m47 0h1m3 0h3m4 0h2m2 0h3m-120 1h1m2 0h1m6 0h1m25 0h3m2 0h1m12 0h1m41 0h1m9 0h1m2 0h2m4 0h1m2 0h2m4 0h2m4 0h1m-133 1h1m25 0h1m12 0h1m16 0h2m40 0h1m4 0h1m13 0h1m1 0h2m5 0h1m10 0h1m-127 1h1m2 0h1m18 0h1m2 0h2m3 0h1m56 0h1m2 0h3m6 0h1m10 0h1m6 0h1m6 0h1m2 0h2m-136 1h1m24 0h1m6 0h3m1 0h1m1 0h1m59 0h2m5 0h1m8 0h1m2 0h2m-121 1h1m5 0h1m2 0h1m43 0h3m40 0h1m2 0h1m1 0h1m5 0h1m9 0h1m10 0h1m9 0h1m-136 1h1m4 0h1m1 0h1m21 0h2m18 0h1m31 0h1m12 0h3m9 0h1m5 0h1m2 0h1m1 0h1m-119 1h1m6 0h1m9 0h1m19 0h1m44 0h1m12 0h1m17 0h1m1 0h1m-120 1h1m1 0h1m1 0h1m8 0h2m6 0h1m4 0h1m8 0h1m19 0h2m43 0h1m16 0h1m2 0h1m-113 1h1m1 0h2m14 0h2m4 0h1m6 0h2m2 0h1m11 0h3m43 0h3m14 0h1m-112 1h1m13 0h1m12 0h1m4 0h1m1 0h1m1 0h1m10 0h3m44 0h1m7 0h1m3 0h2m3 0h1m-116 1h1m5 0h1m25 0h1m6 0h1m11 0h1m46 0h1m7 0h1m10 0h1m17 0h1m-130 1h1m18 0h1m3 0h2m4 0h1m3 0h1m10 0h2m1 0h1m44 0h1m6 0h1m11 0h1m17 0h1m-135 1h1m5 0h1m2 0h1m7 0h1m9 0h1m1 0h2m4 0h2m13 0h2m52 0h1m4 0h3m4 0h1m11 0h1m6 0h1m-137 1h2m1 0h1m6 0h1m19 0h2m3 0h6m12 0h1m45 0h1m16 0h1m1 0h1m-118 1h1m21 0h1m2 0h1m24 0h1m46 0h2m4 0h1m9 0h1m21 0h1m-135 1h2m20 0h1m2 0h1m9 0h1m1 0h2m6 0h1m50 0h2m3 0h1m10 0h2m19 0h1m1 0h1m-135 1h1m2 0h1m19 0h1m1 0h1m18 0h1m50 0h1m3 0h2m3 0h1m11 0h1m13 0h1m-137 1h1m32 0h1m6 0h1m1 0h2m6 0h1m55 0h1m2 0h2m1 0h2m3 0h2m3 0h1m16 0h1m-113 1h1m1 0h1m1 0h3m5 0h1m5 0h1m7 0h1m40 0h1m10 0h2m2 0h1m2 0h1m6 0h1m-120 1h3m1 0h1m19 0h1m1 0h1m3 0h2m1 0h1m6 0h1m2 0h2m9 0h1m39 0h1m6 0h1m1 0h1m2 0h2m3 0h1m5 0h1m-116 1h3m19 0h1m1 0h1m13 0h1m9 0h1m3 0h1m39 0h1m6 0h1m1 0h1m2 0h3m2 0h2m-95 1h1m16 0h1m65 0h1m1 0h1m3 0h2m1 0h1m1 0h3m2 0h1m-116 1h1m12 0h1m4 0h2m21 0h1m49 0h1m11 0h2m2 0h3m1 0h1m3 0h1m1 0h1m5 0h1m3 0h1m2 0h1m3 0h2m1 0h1m-90 1h1m52 0h1m1 0h1m1 0h1m2 0h2m6 0h1m6 0h2m2 0h1m6 0h1m-112 1h1m24 0h1m1 0h1m48 0h2m2 0h1m2 0h2m2 0h1m2 0h2m1 0h1m2 0h1m4 0h1m8 0h1m-133 1h1m16 0h1m14 0h1m13 0h3m51 0h3m2 0h1m2 0h1m5 0h1m2 0h1m1 0h1m2 0h2m2 0h4m-130 1h1m20 0h2m9 0h2m13 0h1m56 0h2m8 0h1m2 0h1m1 0h1m5 0h2m2 0h1m2 0h1m1 0h1m-135 1h1m102 0h1m2 0h2m15 0h1m3 0h1m5 0h3m-138 1h1m1 0h1m21 0h1m6 0h2m2 0h1m15 0h1m33 0h2m17 0h1m6 0h2m10 0h2m1 0h1m2 0h1m-129 1h2m1 0h1m1 0h1m14 0h1m4 0h1m3 0h2m9 0h1m25 0h1m4 0h4m29 0h2m10 0h2m5 0h1m3 0h1m2 0h1m-106 1h1m3 0h1m1 0h1m2 0h2m37 0h2m26 0h1m11 0h1m12 0h1m9 0h1m-129 1h1m16 0h2m8 0h1m1 0h1m2 0h2m26 0h1m19 0h1m9 0h1m1 0h1m3 0h1m5 0h2m2 0h1m2 0h2m15 0h1m-125 1h3m14 0h1m6 0h1m6 0h1m7 0h2m23 0h3m19 0h1m1 0h1m1 0h2m13 0h1m-91 1h1m8 0h1m1 0h2m4 0h1m28 0h2m27 0h2m3 0h1m9 0h1m3 0h1m1 0h1m3 0h1m3 0h1m-121 1h1m3 0h1m22 0h1m1 0h1m13 0h2m42 0h2m11 0h1m7 0h2m1 0h1m1 0h1m1 0h1m-119 1h1m3 0h1m7 0h1m10 0h1m6 0h1m1 0h1m12 0h2m48 0h1m18 0h1m-112 1h1m11 0h1m4 0h1m16 0h1m1 0h1m5 0h1m42 0h2m24 0h2m-113 1h1m8 0h1m1 0h1m1 0h1m2 0h2m3 0h1m4 0h2m2 0h1m3 0h1m8 0h1m1 0h1m37 0h2m2 0h1m1 0h1m11 0h1m-106 1h2m6 0h1m8 0h1m1 0h2m1 0h1m1 0h2m4 0h2m3 0h1m11 0h2m1 0h3m8 0h1m26 0h1m5 0h1m8 0h1m5 0h1m-93 1h1m4 0h1m1 0h2m5 0h1m5 0h1m1 0h1m1 0h1m10 0h1m28 0h1m9 0h1m4 0h2m10 0h1m4 0h2m-97 1h1m9 0h2m6 0h1m14 0h1m1 0h1m3 0h1m2 0h1m18 0h1m1 0h1m3 0h1m8 0h2m7 0h2m6 0h1m-91 1h1m5 0h1m1 0h1m2 0h1m5 0h2m14 0h1m2 0h1m19 0h2m3 0h1m1 0h1m3 0h4m1 0h1m1 0h1m12 0h1m10 0h1m-104 1h1m3 0h1m12 0h1m4 0h1m1 0h2m11 0h4m5 0h1m13 0h2m3 0h5m4 0h7m6 0h1m6 0h1m-95 1h1m22 0h1m2 0h1m13 0h1m4 0h1m14 0h2m4 0h2m1 0h1m2 0h2m3 0h1m1 0h1m1 0h1m12 0h1m3 0h3m1 0h1m3 0h1m2 0h1m-122 1h1m4 0h1m11 0h1m6 0h2m12 0h2m5 0h2m3 0h3m6 0h1m9 0h1m7 0h1m6 0h1m24 0h1m1 0h2m-115 1h1m25 0h1m14 0h1m6 0h1m5 0h1m2 0h1m1 0h1m4 0h1m4 0h1m4 0h2m3 0h1m10 0h1m19 0h1m3 0h1m-72 1h1m6 0h1m14 0h1m1 0h1m2 0h1m3 0h1m10 0h1m3 0h1m2 0h1m19 0h1m8 0h2m-121 1h1m39 0h2m9 0h1m5 0h1m5 0h1m1 0h3m2 0h3m8 0h2m5 0h1m1 0h1m16 0h1m2 0h1m-70 1h1m15 0h2m6 0h1m3 0h2m8 0h2m1 0h3m1 0h1m-84 1h2m9 0h1m3 0h1m2 0h1m19 0h2m9 0h1m5 0h1m9 0h1m1 0h1m4 0h1m1 0h1m1 0h1m2 0h2m11 0h1m-94 1h1m11 0h1m11 0h1m10 0h1m4 0h1m15 0h1m14 0h1m1 0h1m1 0h2m1 0h1m1 0h1m3 0h1m5 0h1m1 0h2m13 0h2m6 0h1m-104 1h1m3 0h1m3 0h1m41 0h1m1 0h1m14 0h1m1 0h2m9 0h1m-92 1h1m2 0h1m14 0h2m9 0h1m30 0h1m16 0h1m12 0h1m-72 1h1m23 0h1m30 0h2m19 0h1m5 0h1m-86 1h1m2 0h1m22 0h1m60 0h1m2 0h2m1 0h1m-101 1h1m6 0h1m3 0h1m7 0h1m14 0h1m1 0h1m2 0h1m22 0h3m1 0h2m9 0h1m16 0h1m-89 1h1m2 0h1m13 0h1m6 0h1m29 0h2m4 0h1m9 0h1m5 0h1m5 0h2m3 0h2m1 0h1m4 0h1m-103 1h2m6 0h2m2 0h2m12 0h1m12 0h1m3 0h1m9 0h2m4 0h1m4 0h2m4 0h1m5 0h1m2 0h1m5 0h1m9 0h1m-93 1h2m4 0h2m1 0h2m4 0h1m15 0h1m5 0h2m1 0h1m1 0h2m2 0h1m2 0h1m4 0h1m6 0h1m3 0h1m7 0h2m5 0h2m-81 1h1m12 0h1m1 0h1m6 0h1m8 0h1m6 0h1m6 0h1m2 0h2m1 0h1m1 0h2m15 0h1m16 0h1m-75 1h2m6 0h2m23 0h1m4 0h1m23 0h1m1 0h1m1 0h1m1 0h1m3 0h1m-81 1h1m1 0h1m7 0h1m6 0h1m12 0h1m3 0h1m4 0h2m4 0h1m15 0h1m5 0h1m3 0h1m10 0h2m-87 1h1m2 0h1m3 0h1m1 0h1m15 0h1m10 0h1m12 0h2m15 0h1m4 0h1m3 0h1m1 0h1m-62 1h1m47 0h2m5 0h1m4 0h1m1 0h1m3 0h1m1 0h1m-80 1h1m2 0h1m7 0h1m3 0h1m6 0h1m2 0h1m19 0h1m14 0h1m5 0h1m3 0h3m4 0h1m-81 1h1m6 0h1m11 0h2m1 0h2m5 0h1m19 0h2m2 0h1m3 0h1m3 0h1m7 0h1m-69 1h2m13 0h1m5 0h2m6 0h1m17 0h1m6 0h2m4 0h2m1 0h1m5 0h1m-67 1h1m11 0h1m4 0h1m1 0h1m13 0h1m20 0h1m6 0h1m4 0h2m6 0h1m-56 1h1m1 0h2m11 0h1m1 0h2m8 0h1m1 0h1m8 0h1m11 0h1m1 0h1m-61 1h4m9 0h1m10 0h2m8 0h1m12 0h2m3 0h1m1 0h1m3 0h4m-68 1h2m4 0h2m6 0h1m28 0h2m4 0h1m1 0h2m1 0h1m4 0h1m7 0h1m-68 1h1m16 0h1m27 0h1m2 0h1m2 0h3m-45 1h1m3 0h1m6 0h1m1 0h1m27 0h1m4 0h1m1 0h1m1 0h1m-34 1h1m18 0h1m1 0h1m7 0h1m3 0h1m-49 1h1m10 0h1m26 0h1m4 0h1m-44 1h1m32 0h1m-16 1h2m-9 1h1m3 0h2m13 0h1m3 0h1m3 0h1m-13 1h1m8 0h1m2 0h1"/>
<path stroke="#2eb7a4" d="M0 0m32 0h1m1 1h1m7 0h1m9 0h1m11 0h1m1 0h1m4 0h2m11 0h1m6 0h3m5 0h1m12 0h1m-55 1h1m2 0h1m6 0h1m15 0h1m8 0h2m-58 1h1m15 0h1m10 0h1m1 0h3m45 0h1m-84 1h1m18 0h1m24 0h1m-50 1h1m5 0h1m34 0h1m-41 1h1m16 0h1m4 0h1m1 0h1m13 0h1m8 0h1m2 0h1m3 0h1m35 0h1m-91 1h1m12 0h1m7 0h1m25 0h1m4 0h1m16 0h1m4 0h2m15 0h1m-44 1h1m1 0h1m7 0h1m5 0h1m7 0h2m11 0h1m9 0h1m-78 1h1m8 0h1m24 0h2m5 0h1m1 0h1m9 0h1m4 0h2m15 0h1m2 0h1m1 0h1m-77 1h1m13 0h1m6 0h1m9 0h3m6 0h1m1 0h1m12 0h1m9 0h1m1 0h1m-84 1h1m3 0h1m9 0h1m7 0h1m11 0h1m3 0h1m4 0h1m12 0h1m16 0h2m11 0h1m-70 1h1m3 0h2m10 0h1m2 0h1m18 0h1m9 0h1m9 0h1m-81 1h1m2 0h1m35 0h1m6 0h1m14 0h1m14 0h1m16 0h1m3 0h1m-98 1h1m23 0h2m5 0h1m10 0h1m3 0h1m15 0h1m3 0h1m3 0h1m4 0h3m-77 1h2m13 0h1m6 0h1m11 0h1m8 0h1m2 0h1m3 0h2m1 0h3m11 0h2m5 0h1m6 0h1m3 0h1m6 0h1m4 0h1m-107 1h1m41 0h1m5 0h1m7 0h1m6 0h1m40 0h1m2 0h1m-105 1h1m20 0h1m3 0h1m12 0h2m1 0h2m2 0h1m16 0h1m21 0h1m2 0h2m-95 1h2m8 0h1m16 0h1m14 0h1m5 0h1m1 0h1m7 0h1m2 0h3m4 0h2m5 0h1m27 0h1m2 0h1m-106 1h1m29 0h1m3 0h1m12 0h1m5 0h2m10 0h2m8 0h1m4 0h1m1 0h1m4 0h1m6 0h2m7 0h1m-107 1h1m11 0h1m6 0h1m11 0h2m3 0h1m13 0h2m11 0h1m5 0h2m12 0h1m13 0h1m16 0h1m-113 1h1m3 0h3m2 0h1m23 0h1m1 0h1m24 0h1m3 0h1m1 0h1m5 0h1m6 0h1m4 0h1m2 0h2m5 0h2m-101 1h1m5 0h1m5 0h1m6 0h1m11 0h1m33 0h1m2 0h1m22 0h1m5 0h1m6 0h3m-99 1h1m3 0h1m21 0h1m1 0h1m3 0h1m17 0h1m8 0h2m7 0h3m5 0h1m7 0h2m2 0h1m-46 1h1m4 0h1m1 0h2m10 0h1m1 0h2m4 0h1m2 0h1m2 0h1m3 0h1m11 0h1m4 0h1m5 0h2m5 0h1m-118 1h1m37 0h2m3 0h1m5 0h2m2 0h1m7 0h1m6 0h1m8 0h1m5 0h1m1 0h1m13 0h1m6 0h1m-106 1h1m5 0h1m4 0h1m26 0h1m2 0h1m6 0h1m7 0h1m11 0h1m7 0h2m4 0h1m1 0h1m24 0h1m3 0h1m-120 1h1m11 0h1m36 0h1m1 0h1m1 0h1m8 0h1m8 0h1m10 0h1m18 0h1m4 0h1m9 0h2m-118 1h1m10 0h1m15 0h1m21 0h1m10 0h1m1 0h1m7 0h2m11 0h1m3 0h1m1 0h1m34 0h1m-118 1h1m49 0h1m4 0h1m9 0h1m2 0h2m10 0h2m1 0h1m13 0h1m14 0h1m3 0h3m-127 1h1m1 0h1m3 0h1m55 0h2m9 0h1m5 0h1m10 0h1m-88 1h1m22 0h1m36 0h1m3 0h1m7 0h1m3 0h1m29 0h1m12 0h1m-120 1h2m6 0h1m15 0h1m8 0h3m15 0h2m12 0h2m2 0h2m1 0h1m2 0h1m12 0h1m17 0h1m11 0h1m-85 1h1m17 0h3m11 0h1m3 0h1m1 0h1m-76 1h1m4 0h1m3 0h1m14 0h3m1 0h1m2 0h1m4 0h1m3 0h3m6 0h1m1 0h1m5 0h1m4 0h2m2 0h2m11 0h1m11 0h1m17 0h1m14 0h2m-124 1h1m3 0h1m1 0h1m16 0h1m4 0h1m2 0h2m3 0h1m10 0h1m1 0h1m9 0h5m6 0h1m1 0h1m22 0h1m17 0h1m10 0h1m-127 1h2m21 0h2m7 0h2m1 0h3m1 0h1m4 0h1m12 0h1m3 0h2m1 0h2m1 0h1m5 0h2m19 0h1m4 0h1m13 0h3m5 0h1m3 0h2m1 0h3m-132 1h1m28 0h1m3 0h2m1 0h2m17 0h1m1 0h1m5 0h1m1 0h2m12 0h2m3 0h1m2 0h1m2 0h2m20 0h1m11 0h1m5 0h1m-114 1h1m4 0h1m3 0h2m8 0h1m3 0h1m9 0h1m9 0h1m3 0h1m6 0h3m4 0h1m6 0h1m3 0h1m8 0h1m17 0h2m8 0h1m-111 1h1m8 0h1m1 0h1m5 0h1m1 0h1m1 0h1m4 0h1m5 0h2m10 0h1m12 0h1m5 0h1m4 0h2m2 0h1m2 0h2m4 0h1m11 0h1m1 0h1m2 0h1m-118 1h1m3 0h1m5 0h1m12 0h2m5 0h1m13 0h1m18 0h1m15 0h1m1 0h1m1 0h2m35 0h1m13 0h1m-122 1h1m2 0h3m15 0h1m8 0h1m6 0h2m7 0h1m2 0h3m14 0h1m2 0h2m1 0h1m2 0h1m4 0h3m7 0h1m-83 1h1m1 0h1m17 0h2m6 0h1m1 0h1m7 0h1m1 0h3m17 0h3m2 0h2m2 0h1m1 0h2m1 0h1m8 0h1m15 0h1m5 0h1m-102 1h2m1 0h1m15 0h1m6 0h2m6 0h1m18 0h1m2 0h3m8 0h1m3 0h3m2 0h1m32 0h1m-124 1h1m14 0h1m19 0h1m3 0h1m6 0h1m3 0h1m20 0h2m15 0h1m1 0h2m31 0h1m-133 1h1m4 0h1m8 0h1m2 0h1m8 0h1m2 0h1m17 0h3m4 0h1m1 0h1m12 0h1m2 0h2m3 0h1m2 0h1m1 0h3m13 0h1m-100 1h1m9 0h1m2 0h1m5 0h1m8 0h1m20 0h2m3 0h1m1 0h2m7 0h3m1 0h2m1 0h3m4 0h2m12 0h1m3 0h1m2 0h1m33 0h1m-136 1h1m10 0h1m7 0h1m16 0h1m10 0h5m4 0h1m4 0h1m5 0h3m1 0h1m6 0h1m20 0h1m2 0h1m22 0h2m8 0h1m-131 1h1m4 0h1m17 0h1m7 0h1m2 0h1m4 0h1m9 0h1m1 0h1m3 0h1m2 0h1m5 0h2m2 0h1m1 0h1m1 0h1m1 0h3m7 0h1m7 0h1m1 0h1m-95 1h1m22 0h1m1 0h1m3 0h5m6 0h3m3 0h1m8 0h2m14 0h1m10 0h3m6 0h3m11 0h1m-94 1h1m18 0h2m16 0h1m2 0h3m2 0h1m10 0h1m2 0h1m1 0h2m2 0h1m4 0h1m3 0h1m18 0h1m-111 1h1m20 0h1m2 0h1m2 0h2m6 0h1m14 0h1m1 0h2m1 0h1m2 0h2m21 0h2m4 0h2m4 0h2m4 0h1m5 0h1m17 0h4m2 0h1m-114 1h1m3 0h2m6 0h1m24 0h1m3 0h1m8 0h1m2 0h1m12 0h1m1 0h1m5 0h1m2 0h1m10 0h3m7 0h1m8 0h1m1 0h1m-118 1h1m11 0h1m5 0h1m29 0h1m7 0h4m1 0h3m1 0h2m15 0h1m3 0h1m18 0h2m10 0h1m-122 1h1m6 0h1m20 0h4m5 0h1m5 0h1m6 0h1m6 0h1m2 0h2m3 0h2m3 0h1m16 0h1m13 0h1m-102 1h1m24 0h1m4 0h1m1 0h2m6 0h1m1 0h2m4 0h1m1 0h1m9 0h1m31 0h1m5 0h1m19 0h1m8 0h1m-132 1h1m14 0h1m2 0h1m5 0h2m1 0h2m9 0h1m6 0h1m1 0h2m3 0h1m10 0h1m27 0h3m2 0h1m4 0h3m4 0h1m15 0h2m2 0h1m-121 1h1m12 0h1m2 0h1m2 0h1m2 0h1m3 0h2m1 0h2m14 0h2m7 0h1m28 0h1m1 0h1m3 0h1m3 0h1m2 0h1m18 0h1m-120 1h1m16 0h1m6 0h1m11 0h2m3 0h4m3 0h1m41 0h1m2 0h1m5 0h1m5 0h1m14 0h1m3 0h1m1 0h1m-126 1h1m15 0h1m8 0h1m13 0h1m5 0h1m1 0h1m2 0h1m4 0h2m33 0h3m8 0h4m3 0h2m1 0h2m6 0h1m6 0h2m1 0h2m-137 1h1m7 0h1m2 0h1m11 0h1m4 0h1m13 0h1m7 0h2m1 0h3m1 0h2m1 0h1m37 0h4m2 0h2m1 0h1m1 0h2m4 0h1m-105 1h1m7 0h1m2 0h1m14 0h1m6 0h1m2 0h1m11 0h2m37 0h1m2 0h1m7 0h3m3 0h1m8 0h2m6 0h3m-137 1h1m24 0h1m4 0h1m4 0h1m1 0h1m8 0h1m50 0h1m1 0h2m1 0h2m9 0h1m5 0h1m-108 1h1m14 0h1m2 0h1m1 0h4m18 0h1m3 0h1m38 0h1m3 0h2m1 0h1m6 0h1m4 0h1m10 0h2m5 0h2m-124 1h1m9 0h1m3 0h1m8 0h1m19 0h4m38 0h1m9 0h1m1 0h1m12 0h1m13 0h1m-130 1h2m2 0h1m10 0h1m7 0h1m2 0h1m1 0h1m18 0h3m1 0h1m26 0h1m18 0h1m3 0h1m1 0h1m5 0h2m10 0h2m6 0h1m-136 1h1m12 0h1m12 0h2m12 0h1m12 0h1m3 0h1m26 0h1m2 0h1m15 0h1m6 0h1m5 0h1m2 0h1m-121 1h1m5 0h1m20 0h2m4 0h1m7 0h1m14 0h1m28 0h1m1 0h1m10 0h1m9 0h3m10 0h1m8 0h1m-118 1h1m13 0h1m5 0h2m18 0h2m1 0h2m2 0h1m24 0h1m12 0h1m1 0h3m5 0h1m3 0h1m8 0h1m9 0h1m8 0h1m-129 1h1m2 0h1m16 0h3m6 0h3m9 0h2m2 0h1m4 0h1m23 0h1m4 0h1m9 0h6m5 0h1m5 0h2m1 0h2m8 0h1m7 0h2m-141 1h1m1 0h1m1 0h1m1 0h1m17 0h2m2 0h1m4 0h2m6 0h2m10 0h2m45 0h1m3 0h5m6 0h3m1 0h1m-118 1h2m5 0h2m9 0h1m4 0h1m1 0h2m3 0h2m8 0h1m14 0h1m4 0h1m2 0h1m36 0h1m5 0h1m6 0h1m7 0h1m13 0h1m-114 1h2m2 0h1m15 0h1m6 0h3m4 0h2m4 0h3m20 0h1m20 0h1m4 0h2m4 0h1m11 0h2m3 0h2m-117 1h1m3 0h1m3 0h3m2 0h1m4 0h1m4 0h1m13 0h3m2 0h4m20 0h2m11 0h1m1 0h2m9 0h2m3 0h1m13 0h1m2 0h1m-133 1h1m3 0h1m6 0h1m11 0h2m10 0h1m5 0h1m7 0h2m2 0h1m6 0h3m21 0h2m12 0h5m10 0h2m4 0h1m15 0h1m-132 1h1m18 0h3m3 0h1m19 0h4m1 0h1m30 0h1m3 0h2m6 0h2m1 0h6m5 0h2m1 0h1m8 0h1m-124 1h1m4 0h1m19 0h1m1 0h1m1 0h1m5 0h2m2 0h2m6 0h1m2 0h1m1 0h3m7 0h1m26 0h3m8 0h4m1 0h1m7 0h1m1 0h2m1 0h1m1 0h1m-123 1h1m6 0h2m19 0h1m8 0h2m1 0h1m10 0h2m3 0h1m11 0h2m24 0h1m7 0h1m1 0h1m1 0h1m12 0h2m14 0h1m2 0h1m-114 1h1m3 0h1m11 0h2m9 0h1m14 0h2m25 0h1m7 0h1m3 0h1m9 0h1m2 0h2m16 0h1m-118 1h1m3 0h1m3 0h2m1 0h1m8 0h1m7 0h1m1 0h1m1 0h2m27 0h1m9 0h3m5 0h1m2 0h3m1 0h1m6 0h1m4 0h1m1 0h1m-121 1h1m2 0h1m3 0h2m10 0h2m2 0h1m5 0h1m12 0h1m6 0h3m1 0h1m27 0h1m2 0h1m7 0h1m10 0h1m2 0h1m13 0h1m-117 1h1m2 0h1m12 0h1m5 0h1m1 0h1m19 0h3m1 0h1m22 0h1m6 0h1m11 0h1m12 0h2m2 0h5m1 0h2m11 0h1m6 0h1m-119 1h1m6 0h1m2 0h1m12 0h1m5 0h1m1 0h3m39 0h1m6 0h1m8 0h2m3 0h1m2 0h2m1 0h1m15 0h1m2 0h1m-126 1h3m2 0h2m5 0h1m5 0h1m19 0h1m1 0h1m37 0h3m5 0h1m4 0h1m3 0h1m1 0h1m13 0h1m3 0h2m2 0h1m2 0h2m-114 1h1m10 0h1m8 0h1m5 0h1m1 0h2m9 0h2m27 0h1m1 0h1m6 0h1m5 0h1m12 0h1m-119 1h1m6 0h2m6 0h1m16 0h1m6 0h1m1 0h1m9 0h1m11 0h1m2 0h1m21 0h2m1 0h2m6 0h1m13 0h2m4 0h1m6 0h1m-101 1h1m6 0h1m5 0h1m6 0h1m2 0h1m1 0h1m36 0h2m1 0h2m8 0h1m16 0h1m4 0h1m1 0h1m5 0h1m2 0h1m-128 1h1m15 0h1m3 0h2m12 0h3m6 0h2m11 0h1m25 0h2m8 0h2m6 0h2m7 0h2m8 0h1m6 0h1m-127 1h1m21 0h1m1 0h1m8 0h2m7 0h1m1 0h1m5 0h3m20 0h1m20 0h3m3 0h1m1 0h2m6 0h1m18 0h1m-130 1h1m14 0h2m16 0h1m7 0h3m6 0h3m9 0h1m6 0h1m8 0h1m16 0h2m2 0h1m8 0h2m6 0h1m2 0h1m-127 1h1m28 0h1m19 0h1m9 0h2m4 0h1m3 0h4m1 0h2m10 0h2m2 0h1m13 0h1m1 0h4m5 0h3m1 0h1m4 0h1m1 0h1m7 0h1m-133 1h1m1 0h1m1 0h1m26 0h1m15 0h3m15 0h1m7 0h1m7 0h3m3 0h1m17 0h1m3 0h5m2 0h1m2 0h2m13 0h1m-132 1h1m2 0h1m11 0h1m2 0h1m9 0h1m7 0h1m5 0h2m18 0h2m2 0h2m2 0h2m6 0h3m2 0h1m9 0h3m3 0h2m1 0h1m1 0h1m5 0h1m5 0h1m1 0h1m9 0h1m-132 1h1m16 0h1m3 0h1m5 0h1m3 0h2m12 0h3m1 0h1m15 0h1m4 0h5m20 0h1m1 0h1m2 0h1m3 0h4m2 0h1m3 0h1m4 0h1m1 0h1m-122 1h1m6 0h1m9 0h1m6 0h1m6 0h1m3 0h1m6 0h2m5 0h1m21 0h1m3 0h2m16 0h1m3 0h1m2 0h1m1 0h2m4 0h3m1 0h1m4 0h1m15 0h1m-123 1h1m5 0h1m6 0h3m16 0h1m3 0h2m22 0h4m1 0h1m19 0h2m2 0h2m2 0h1m1 0h3m3 0h1m3 0h1m-107 1h1m6 0h1m5 0h1m1 0h2m2 0h1m2 0h1m2 0h1m6 0h1m4 0h2m12 0h1m7 0h1m3 0h2m17 0h1m3 0h1m1 0h4m15 0h1m-118 1h1m9 0h1m6 0h2m7 0h1m1 0h1m3 0h1m2 0h1m5 0h3m7 0h1m2 0h1m37 0h7m7 0h1m2 0h1m6 0h2m-115 1h1m11 0h1m1 0h2m7 0h3m4 0h1m8 0h1m1 0h3m4 0h3m36 0h2m2 0h1m2 0h1m10 0h1m5 0h1m9 0h1m1 0h1m-123 1h1m17 0h1m2 0h1m1 0h1m7 0h1m6 0h2m2 0h2m1 0h1m1 0h1m1 0h1m10 0h1m24 0h1m10 0h1m4 0h1m12 0h1m1 0h1m1 0h1m1 0h1m-118 1h1m23 0h1m3 0h1m1 0h1m3 0h3m1 0h2m16 0h1m1 0h3m1 0h1m15 0h1m7 0h2m3 0h3m2 0h1m1 0h1m1 0h2m4 0h1m8 0h1m-102 1h2m9 0h2m1 0h1m5 0h1m1 0h1m1 0h1m5 0h1m2 0h1m2 0h1m1 0h2m2 0h1m3 0h1m1 0h1m12 0h2m1 0h2m1 0h1m1 0h1m1 0h2m12 0h1m7 0h2m6 0h2m2 0h1m-99 1h1m6 0h1m9 0h1m1 0h1m1 0h2m1 0h1m4 0h3m2 0h1m37 0h1m2 0h2m5 0h1m2 0h1m1 0h2m5 0h2m-107 1h1m5 0h1m9 0h2m4 0h1m3 0h1m5 0h1m3 0h1m4 0h1m2 0h3m33 0h1m2 0h1m6 0h1m4 0h3m1 0h2m-94 1h1m4 0h1m2 0h2m1 0h1m1 0h1m1 0h1m5 0h1m5 0h3m6 0h1m1 0h2m4 0h1m20 0h1m10 0h1m4 0h1m1 0h1m6 0h1m1 0h1m5 0h1m3 0h1m1 0h1m-115 1h1m8 0h1m9 0h2m1 0h2m3 0h1m8 0h1m2 0h1m1 0h2m3 0h1m2 0h1m1 0h2m22 0h1m5 0h1m1 0h1m1 0h1m1 0h1m14 0h1m3 0h1m-103 1h1m6 0h1m1 0h1m1 0h1m3 0h1m3 0h2m4 0h1m3 0h1m3 0h1m2 0h1m5 0h1m1 0h2m4 0h1m2 0h1m3 0h1m1 0h1m1 0h2m4 0h1m1 0h1m1 0h2m1 0h1m3 0h1m18 0h1m1 0h1m-93 1h1m7 0h1m9 0h3m6 0h1m3 0h1m4 0h1m1 0h1m7 0h1m3 0h2m1 0h1m2 0h1m1 0h1m1 0h1m4 0h1m5 0h1m2 0h1m14 0h1m5 0h1m7 0h1m-123 1h1m26 0h1m12 0h2m5 0h1m3 0h3m2 0h1m1 0h1m6 0h1m2 0h1m1 0h3m1 0h1m6 0h1m3 0h3m4 0h1m16 0h1m3 0h1m-89 1h1m8 0h3m2 0h2m12 0h1m11 0h1m4 0h1m10 0h1m3 0h1m1 0h1m31 0h1m-85 1h2m4 0h1m1 0h2m9 0h1m17 0h2m2 0h4m2 0h1m5 0h5m3 0h1m12 0h1m11 0h1m-116 1h1m34 0h1m2 0h1m7 0h1m3 0h3m11 0h1m1 0h1m4 0h1m3 0h1m3 0h5m4 0h1m17 0h1m5 0h1m-110 1h1m11 0h1m15 0h1m4 0h1m8 0h2m3 0h2m8 0h3m1 0h4m3 0h1m6 0h3m1 0h1m3 0h1m1 0h1m14 0h1m-106 1h1m15 0h1m6 0h1m5 0h1m9 0h2m7 0h1m7 0h1m7 0h1m4 0h1m2 0h1m1 0h2m6 0h2m6 0h1m1 0h1m11 0h1m9 0h1m-113 1h1m7 0h1m9 0h1m9 0h1m8 0h1m16 0h1m2 0h1m15 0h2m1 0h1m1 0h1m7 0h2m10 0h2m1 0h2m3 0h1m-89 1h2m8 0h2m8 0h1m1 0h1m1 0h1m32 0h1m12 0h1m13 0h1m1 0h1m3 0h1m-64 1h1m26 0h2m9 0h1m1 0h1m12 0h1m1 0h1m2 0h1m5 0h1m-95 1h1m8 0h2m18 0h1m21 0h2m4 0h1m8 0h1m5 0h1m2 0h1m3 0h2m1 0h1m6 0h1m-93 1h1m12 0h1m18 0h2m2 0h1m10 0h4m1 0h1m1 0h1m2 0h1m2 0h1m1 0h1m17 0h1m9 0h1m-79 1h1m1 0h1m6 0h1m9 0h1m10 0h2m10 0h1m2 0h1m2 0h2m1 0h1m1 0h1m10 0h1m1 0h1m3 0h1m1 0h1m-83 1h1m15 0h1m3 0h1m8 0h2m14 0h2m10 0h1m1 0h1m3 0h1m8 0h3m2 0h1m8 0h1m-92 1h1m14 0h1m9 0h2m4 0h1m4 0h1m5 0h4m1 0h1m3 0h1m18 0h1m3 0h1m1 0h1m3 0h3m-71 1h1m19 0h1m1 0h1m1 0h2m2 0h1m3 0h2m4 0h2m18 0h1m8 0h1m-77 1h2m10 0h1m8 0h1m3 0h2m7 0h1m32 0h1m4 0h1m3 0h1m1 0h1m4 0h1m-58 1h1m19 0h1m1 0h1m20 0h1m8 0h1m3 0h1m1 0h1m-85 1h1m8 0h1m31 0h1m8 0h1m12 0h1m4 0h1m1 0h1m3 0h1m-73 1h1m12 0h1m5 0h1m2 0h1m4 0h1m1 0h1m27 0h1m4 0h1m1 0h1m3 0h1m3 0h1m9 0h1m-82 1h2m15 0h1m6 0h3m37 0h1m7 0h1m6 0h1m-74 1h1m12 0h1m4 0h1m3 0h1m12 0h1m9 0h3m11 0h1m-65 1h2m11 0h1m9 0h2m9 0h1m1 0h1m1 0h2m11 0h2m1 0h2m6 0h1m8 0h1m-67 1h1m7 0h1m26 0h1m19 0h1m7 0h3m-59 1h1m8 0h1m27 0h2m18 0h1m-53 1h1m6 0h1m29 0h2m1 0h1m-49 1h1m8 0h1m6 0h1m30 0h1m6 0h1m-36 1h1m1 0h1m29 0h1m2 0h1m-43 1h1m34 0h1m-2 1h1m4 0h1m-41 1h1m3 0h1m15 0h3m13 0h1m-30 1h1m18 0h3m8 0h1m-23 1h1m9 0h1m1 0h1m3 0h1m1 0h1m-22 1h1m4 0h1m8 0h2m6 0h1"/>
<path stroke="#38b99e" d="M0 0m34 0h1m72 0h1m-41 1h2m12 0h1m5 0h1m1 0h1m17 0h1m-76 1h1m24 0h1m12 0h3m18 0h1m3 0h1m14 0h1m-23 1h1m5 0h1m-66 1h1m2 0h1m8 0h1m6 0h1m3 0h2m12 0h1m32 0h1m16 0h1m-90 1h1m14 0h1m9 0h1m5 0h1m6 0h1m3 0h1m8 0h3m18 0h1m-70 1h1m1 0h2m23 0h1m4 0h1m15 0h2m-49 1h3m30 0h1m10 0h1m2 0h1m1 0h1m1 0h1m39 0h1m-76 1h1m36 0h1m12 0h2m-63 1h1m7 0h1m7 0h1m14 0h3m2 0h2m17 0h1m23 0h1m3 0h1m4 0h1m-103 1h1m10 0h1m30 0h1m3 0h1m14 0h2m-51 1h1m18 0h1m4 0h1m7 0h1m6 0h1m1 0h1m4 0h1m9 0h1m8 0h1m8 0h1m13 0h1m-94 1h1m4 0h1m23 0h1m11 0h1m3 0h1m1 0h1m12 0h1m7 0h1m8 0h1m-53 1h1m10 0h2m1 0h2m6 0h1m3 0h1m16 0h2m24 0h2m-94 1h1m31 0h1m7 0h1m24 0h2m3 0h1m4 0h1m4 0h1m1 0h1m6 0h3m-104 1h1m35 0h1m6 0h1m6 0h1m3 0h1m21 0h1m10 0h1m13 0h1m-76 1h1m3 0h1m1 0h2m2 0h1m1 0h1m13 0h1m3 0h1m2 0h1m40 0h2m-93 1h1m4 0h1m12 0h2m1 0h1m17 0h1m4 0h1m6 0h2m7 0h2m16 0h1m12 0h1m6 0h1m2 0h1m-110 1h1m1 0h1m2 0h2m16 0h1m8 0h1m3 0h1m7 0h1m1 0h1m14 0h1m8 0h2m18 0h1m6 0h1m3 0h1m-95 1h1m5 0h2m7 0h2m7 0h1m3 0h3m6 0h1m8 0h1m4 0h3m27 0h1m5 0h2m3 0h1m9 0h1m-112 1h3m1 0h1m32 0h2m10 0h1m15 0h1m2 0h2m4 0h1m7 0h1m4 0h1m1 0h1m1 0h2m-91 1h1m12 0h1m25 0h1m16 0h1m26 0h1m-74 1h1m16 0h2m7 0h2m18 0h1m36 0h1m-77 1h1m1 0h1m25 0h2m1 0h1m23 0h1m17 0h1m1 0h3m3 0h1m2 0h1m-108 1h1m9 0h1m21 0h2m4 0h1m12 0h1m6 0h1m3 0h1m4 0h1m1 0h1m2 0h1m12 0h1m5 0h1m13 0h1m-106 1h1m33 0h1m18 0h1m3 0h1m19 0h1m15 0h1m12 0h1m-109 1h1m3 0h1m19 0h1m1 0h1m14 0h1m2 0h4m1 0h1m5 0h3m1 0h1m6 0h2m25 0h1m2 0h1m3 0h1m3 0h1m9 0h1m5 0h1m-118 1h1m3 0h1m31 0h1m4 0h1m1 0h1m1 0h1m1 0h1m18 0h1m7 0h1m9 0h1m-88 1h2m48 0h1m10 0h2m2 0h1m3 0h1m1 0h1m12 0h1m1 0h1m28 0h3m-120 1h1m3 0h1m23 0h1m2 0h1m15 0h1m23 0h1m10 0h1m6 0h1m10 0h1m15 0h1m-108 1h1m48 0h1m8 0h1m3 0h1m1 0h1m7 0h2m3 0h1m16 0h1m9 0h1m6 0h1m-124 1h1m28 0h1m6 0h1m15 0h1m7 0h1m12 0h1m6 0h1m9 0h1m4 0h1m10 0h1m13 0h1m2 0h1m-119 1h1m7 0h1m10 0h2m26 0h1m10 0h1m2 0h1m7 0h1m4 0h1m1 0h1m25 0h1m12 0h1m-118 1h1m7 0h1m15 0h2m1 0h2m14 0h1m6 0h2m9 0h1m3 0h1m7 0h2m1 0h1m11 0h1m18 0h1m-108 1h1m28 0h1m2 0h1m2 0h1m17 0h1m13 0h1m4 0h1m5 0h1m29 0h1m8 0h1m6 0h1m-105 1h1m2 0h1m5 0h1m8 0h2m7 0h1m1 0h1m2 0h1m11 0h1m12 0h3m10 0h1m17 0h2m-111 1h1m25 0h1m2 0h1m6 0h1m1 0h2m1 0h1m4 0h2m4 0h1m4 0h2m16 0h6m40 0h1m3 0h1m-117 1h1m15 0h1m14 0h2m5 0h3m5 0h3m1 0h1m5 0h1m1 0h1m3 0h1m2 0h2m2 0h3m1 0h1m3 0h1m4 0h1m4 0h1m15 0h2m-118 1h1m11 0h1m1 0h1m6 0h1m4 0h1m8 0h1m17 0h1m6 0h1m1 0h1m1 0h1m1 0h1m1 0h1m6 0h1m15 0h4m16 0h1m2 0h2m3 0h1m3 0h1m-119 1h1m6 0h1m1 0h1m10 0h1m22 0h1m10 0h2m14 0h1m1 0h1m9 0h2m8 0h1m24 0h1m-122 1h1m5 0h1m3 0h1m3 0h2m16 0h2m1 0h1m15 0h1m7 0h1m1 0h1m12 0h1m2 0h1m1 0h1m4 0h1m1 0h1m3 0h1m4 0h1m13 0h1m-103 1h1m17 0h1m1 0h1m4 0h1m2 0h1m14 0h1m6 0h1m19 0h2m2 0h1m13 0h2m4 0h1m6 0h3m4 0h1m2 0h1m13 0h1m-124 1h1m1 0h3m12 0h1m4 0h1m2 0h1m7 0h1m10 0h2m22 0h1m3 0h2m2 0h1m2 0h1m2 0h1m8 0h1m1 0h1m-60 1h1m6 0h1m4 0h1m18 0h1m13 0h1m10 0h1m-100 1h1m3 0h1m23 0h1m4 0h1m3 0h1m2 0h1m7 0h1m25 0h1m1 0h1m1 0h1m2 0h2m10 0h3m5 0h1m30 0h1m-132 1h1m3 0h1m15 0h1m4 0h1m22 0h1m16 0h1m2 0h2m2 0h2m3 0h1m20 0h1m1 0h1m-103 1h2m11 0h1m12 0h1m1 0h1m4 0h1m3 0h1m4 0h1m4 0h1m10 0h1m8 0h1m2 0h1m4 0h1m4 0h3m8 0h1m3 0h1m1 0h1m-101 1h1m10 0h1m9 0h1m8 0h2m21 0h1m1 0h1m3 0h2m3 0h1m1 0h2m3 0h1m1 0h1m1 0h1m10 0h1m11 0h1m5 0h2m11 0h1m-106 1h1m2 0h1m19 0h1m5 0h1m7 0h1m8 0h2m5 0h4m3 0h1m2 0h1m1 0h1m1 0h1m3 0h1m4 0h1m8 0h1m3 0h2m33 0h1m-138 1h1m18 0h1m22 0h2m6 0h1m7 0h1m2 0h1m3 0h3m2 0h1m1 0h1m2 0h1m1 0h1m1 0h2m3 0h1m7 0h1m8 0h2m2 0h2m21 0h3m-102 1h1m10 0h1m2 0h2m6 0h1m10 0h1m2 0h1m4 0h1m3 0h1m2 0h1m4 0h1m5 0h1m5 0h3m2 0h4m27 0h1m1 0h1m-113 1h1m18 0h1m2 0h1m19 0h1m4 0h2m1 0h4m6 0h1m1 0h1m3 0h1m1 0h1m10 0h2m1 0h2m2 0h1m8 0h2m15 0h1m-122 1h2m39 0h1m1 0h1m6 0h1m4 0h2m1 0h1m2 0h4m13 0h1m1 0h1m8 0h2m12 0h1m2 0h1m10 0h1m10 0h1m-133 1h1m4 0h2m7 0h1m18 0h1m13 0h1m6 0h1m2 0h2m8 0h1m10 0h1m43 0h1m-128 1h1m5 0h1m3 0h1m14 0h2m4 0h1m4 0h1m1 0h1m1 0h1m7 0h3m1 0h1m2 0h1m4 0h1m1 0h2m2 0h1m1 0h1m2 0h1m18 0h1m5 0h1m5 0h1m4 0h1m14 0h2m-102 1h1m4 0h1m2 0h1m1 0h1m2 0h1m3 0h1m1 0h1m11 0h1m6 0h3m2 0h2m1 0h5m1 0h1m16 0h1m9 0h1m5 0h1m8 0h1m10 0h1m-102 1h1m6 0h4m6 0h2m4 0h1m3 0h3m2 0h5m1 0h3m22 0h2m9 0h1m3 0h1m22 0h1m-124 1h3m15 0h1m2 0h2m1 0h2m6 0h1m5 0h2m5 0h1m2 0h1m2 0h2m2 0h3m1 0h3m24 0h1m1 0h1m9 0h2m3 0h1m-94 1h1m9 0h2m8 0h1m8 0h1m5 0h1m3 0h2m1 0h1m2 0h4m28 0h3m7 0h2m5 0h1m8 0h1m4 0h1m6 0h1m4 0h1m-132 1h2m7 0h2m11 0h2m16 0h1m1 0h1m3 0h1m1 0h1m2 0h1m1 0h1m1 0h2m32 0h3m38 0h1m-136 1h1m12 0h1m1 0h1m18 0h1m10 0h4m4 0h1m3 0h1m2 0h1m1 0h1m35 0h1m16 0h1m8 0h1m-126 1h1m1 0h1m3 0h2m2 0h1m23 0h1m15 0h1m1 0h3m2 0h1m1 0h2m36 0h3m1 0h2m2 0h2m11 0h1m9 0h1m-128 1h1m6 0h1m1 0h1m20 0h4m9 0h1m9 0h1m2 0h1m2 0h2m8 0h1m30 0h1m5 0h1m7 0h1m2 0h1m3 0h1m5 0h1m5 0h1m-114 1h1m3 0h1m5 0h1m4 0h1m5 0h1m6 0h1m9 0h2m8 0h2m25 0h1m11 0h1m3 0h1m-113 1h2m5 0h1m1 0h1m11 0h1m5 0h1m14 0h1m11 0h1m4 0h2m4 0h2m28 0h2m7 0h1m11 0h1m10 0h1m-118 1h1m10 0h1m3 0h3m3 0h2m19 0h1m6 0h1m28 0h2m6 0h2m9 0h1m29 0h1m1 0h1m-134 1h1m24 0h2m9 0h1m20 0h1m20 0h1m1 0h2m1 0h1m6 0h1m5 0h1m5 0h1m14 0h1m13 0h1m-124 1h2m13 0h1m12 0h1m10 0h1m3 0h1m1 0h5m1 0h2m17 0h1m3 0h2m1 0h1m5 0h1m4 0h2m15 0h1m11 0h1m-131 1h1m3 0h1m1 0h1m6 0h1m5 0h1m5 0h1m1 0h1m13 0h1m4 0h1m4 0h1m6 0h1m1 0h2m20 0h2m2 0h1m3 0h1m13 0h2m20 0h1m8 0h1m2 0h1m-135 1h1m1 0h1m19 0h1m30 0h4m4 0h1m17 0h2m1 0h1m2 0h1m8 0h1m7 0h2m7 0h1m13 0h1m4 0h1m1 0h1m-135 1h1m3 0h1m4 0h1m1 0h1m5 0h1m1 0h2m5 0h1m28 0h1m1 0h1m1 0h1m2 0h3m17 0h5m1 0h1m21 0h2m6 0h1m15 0h1m2 0h1m-137 1h1m6 0h1m12 0h1m26 0h1m1 0h1m5 0h3m2 0h1m1 0h2m18 0h4m9 0h2m4 0h3m9 0h1m18 0h1m-116 1h1m4 0h2m4 0h1m1 0h1m22 0h1m2 0h1m2 0h1m3 0h1m18 0h1m1 0h2m2 0h2m5 0h2m1 0h1m2 0h3m22 0h1m-127 1h1m2 0h1m16 0h1m26 0h2m4 0h1m9 0h1m6 0h2m10 0h1m2 0h2m1 0h2m5 0h1m4 0h1m2 0h1m9 0h1m3 0h2m-121 1h1m22 0h1m2 0h2m21 0h1m5 0h3m2 0h1m3 0h1m8 0h1m14 0h1m2 0h1m6 0h1m5 0h2m10 0h1m4 0h1m11 0h1m-131 1h1m8 0h1m9 0h2m3 0h1m20 0h2m9 0h6m2 0h1m5 0h1m6 0h1m4 0h1m1 0h1m5 0h1m20 0h1m1 0h1m-118 1h1m3 0h3m1 0h1m30 0h2m2 0h1m6 0h2m8 0h1m2 0h1m1 0h1m2 0h4m14 0h5m3 0h1m4 0h1m13 0h2m4 0h1m1 0h1m9 0h1m-108 1h1m23 0h1m1 0h1m2 0h1m1 0h1m8 0h1m2 0h1m2 0h2m2 0h1m6 0h1m4 0h3m3 0h2m9 0h1m10 0h2m5 0h1m-121 1h2m3 0h1m11 0h2m4 0h1m15 0h1m9 0h2m1 0h1m12 0h1m2 0h3m7 0h5m7 0h3m3 0h1m1 0h1m8 0h1m4 0h1m1 0h1m-108 1h1m9 0h1m11 0h1m12 0h1m3 0h1m3 0h1m16 0h4m3 0h1m3 0h2m1 0h4m3 0h2m3 0h1m2 0h2m8 0h1m7 0h1m3 0h1m17 0h1m1 0h1m-122 1h1m8 0h1m11 0h1m1 0h1m5 0h2m5 0h2m14 0h3m1 0h2m2 0h1m1 0h1m1 0h2m1 0h1m2 0h2m1 0h1m2 0h1m12 0h1m4 0h2m5 0h1m1 0h1m14 0h1m-129 1h1m10 0h1m4 0h1m16 0h1m2 0h1m2 0h1m3 0h1m2 0h2m12 0h2m4 0h1m1 0h1m4 0h1m1 0h3m1 0h6m2 0h1m8 0h1m14 0h2m10 0h2m-113 1h1m7 0h1m3 0h1m10 0h1m10 0h2m5 0h1m7 0h1m3 0h4m2 0h1m2 0h3m1 0h6m2 0h1m9 0h1m7 0h1m1 0h2m-90 1h1m3 0h1m1 0h1m6 0h1m2 0h2m5 0h2m1 0h1m10 0h1m2 0h1m5 0h5m2 0h1m1 0h2m2 0h2m1 0h3m3 0h1m19 0h2m3 0h1m7 0h1m-119 1h1m14 0h1m15 0h2m6 0h1m1 0h1m7 0h1m1 0h2m2 0h1m3 0h1m3 0h1m4 0h3m5 0h1m2 0h3m3 0h1m4 0h1m3 0h1m11 0h1m4 0h2m1 0h1m3 0h1m4 0h1m-115 1h3m2 0h2m18 0h1m3 0h2m1 0h2m1 0h1m4 0h1m2 0h3m1 0h1m2 0h2m3 0h1m4 0h2m1 0h1m2 0h1m3 0h1m2 0h1m3 0h1m16 0h2m7 0h1m4 0h1m6 0h1m-109 1h1m2 0h1m14 0h2m1 0h1m1 0h1m4 0h1m3 0h3m4 0h6m3 0h1m4 0h1m2 0h2m1 0h1m3 0h1m2 0h1m7 0h1m3 0h1m5 0h1m23 0h1m-133 1h1m3 0h1m17 0h1m17 0h1m5 0h1m5 0h2m1 0h3m1 0h3m2 0h1m2 0h2m1 0h2m8 0h3m4 0h2m2 0h3m16 0h1m1 0h1m8 0h1m12 0h1m-127 1h1m38 0h1m2 0h1m1 0h1m3 0h1m3 0h1m3 0h1m6 0h1m7 0h1m1 0h2m3 0h1m2 0h4m7 0h1m13 0h1m17 0h1m-125 1h1m20 0h1m1 0h1m9 0h2m8 0h1m8 0h1m3 0h2m2 0h1m1 0h2m2 0h2m1 0h1m2 0h2m2 0h1m1 0h1m1 0h3m7 0h2m1 0h1m3 0h1m3 0h3m10 0h1m10 0h1m-129 1h1m22 0h1m11 0h1m7 0h1m2 0h1m5 0h2m5 0h1m1 0h1m6 0h1m2 0h1m5 0h2m4 0h2m1 0h1m6 0h2m1 0h2m2 0h1m6 0h1m-106 1h1m18 0h1m7 0h1m17 0h1m6 0h2m4 0h1m2 0h1m7 0h1m5 0h1m3 0h3m1 0h1m3 0h1m2 0h3m1 0h3m4 0h1m24 0h2m-128 1h1m11 0h1m1 0h1m8 0h1m1 0h1m10 0h1m5 0h2m10 0h2m3 0h1m10 0h1m4 0h1m3 0h1m2 0h1m3 0h1m3 0h1m4 0h1m8 0h1m6 0h1m15 0h1m-136 1h3m9 0h2m3 0h1m27 0h2m9 0h1m5 0h1m4 0h1m2 0h2m6 0h2m8 0h1m5 0h3m9 0h1m16 0h1m12 0h1m-135 1h1m5 0h2m6 0h2m3 0h1m2 0h1m5 0h1m2 0h1m10 0h1m2 0h1m8 0h1m11 0h4m1 0h1m6 0h1m6 0h2m5 0h2m8 0h1m2 0h1m1 0h2m7 0h2m1 0h4m-116 1h1m1 0h1m1 0h1m3 0h1m4 0h1m1 0h2m6 0h2m10 0h1m2 0h1m1 0h1m2 0h3m14 0h1m1 0h1m6 0h1m1 0h1m4 0h3m8 0h1m8 0h1m2 0h1m-106 1h2m12 0h1m9 0h1m2 0h2m1 0h1m12 0h4m2 0h1m20 0h3m2 0h1m1 0h3m13 0h1m8 0h1m5 0h2m3 0h1m-103 1h1m3 0h1m3 0h1m2 0h1m2 0h1m3 0h1m15 0h2m5 0h2m7 0h3m9 0h3m3 0h1m24 0h2m7 0h1m-109 1h1m14 0h1m4 0h1m8 0h2m18 0h1m2 0h1m3 0h4m24 0h1m5 0h2m1 0h4m2 0h1m2 0h1m1 0h1m3 0h1m2 0h1m-102 1h1m28 0h2m8 0h3m6 0h1m1 0h4m19 0h1m4 0h1m19 0h3m3 0h1m5 0h1m-114 1h1m5 0h1m2 0h1m4 0h1m3 0h1m13 0h1m2 0h1m9 0h1m1 0h1m8 0h1m1 0h1m10 0h1m4 0h5m13 0h1m6 0h1m4 0h1m6 0h3m-119 1h1m3 0h1m5 0h1m11 0h1m6 0h2m8 0h5m5 0h1m1 0h1m2 0h2m1 0h3m1 0h1m1 0h1m10 0h1m5 0h1m1 0h1m11 0h3m6 0h1m2 0h1m-106 1h1m8 0h1m4 0h1m2 0h1m17 0h1m4 0h1m2 0h1m9 0h1m2 0h1m2 0h1m1 0h1m11 0h1m3 0h1m1 0h1m4 0h2m7 0h1m6 0h1m8 0h1m-112 1h1m22 0h1m6 0h1m8 0h1m4 0h3m6 0h1m4 0h2m3 0h1m1 0h1m6 0h2m6 0h1m17 0h1m3 0h1m1 0h1m14 0h1m-112 1h1m11 0h1m7 0h1m3 0h1m1 0h1m9 0h1m13 0h1m1 0h1m4 0h1m6 0h1m11 0h1m13 0h1m6 0h1m15 0h1m-116 1h2m4 0h1m8 0h1m4 0h1m5 0h1m5 0h1m16 0h2m4 0h2m2 0h2m4 0h2m14 0h2m17 0h1m1 0h2m10 0h1m-119 1h1m4 0h1m12 0h1m13 0h1m3 0h1m16 0h1m5 0h1m1 0h2m1 0h1m1 0h1m3 0h1m7 0h1m1 0h1m8 0h4m25 0h1m-120 1h1m11 0h1m6 0h1m11 0h1m8 0h1m6 0h2m1 0h2m1 0h1m9 0h1m1 0h1m9 0h1m3 0h2m1 0h1m1 0h4m5 0h1m10 0h1m14 0h2m-121 1h1m18 0h2m12 0h1m3 0h2m3 0h1m2 0h1m3 0h1m3 0h1m2 0h1m9 0h1m8 0h1m6 0h1m28 0h1m-100 1h1m7 0h1m25 0h3m1 0h1m4 0h2m18 0h1m11 0h1m3 0h2m2 0h1m12 0h1m3 0h1m-62 1h2m1 0h1m1 0h1m16 0h2m10 0h1m6 0h3m10 0h1m13 0h1m-107 1h1m19 0h1m3 0h1m12 0h1m2 0h1m18 0h3m6 0h1m7 0h1m1 0h2m1 0h1m1 0h1m11 0h1m1 0h1m-108 1h1m3 0h1m14 0h1m9 0h1m5 0h1m1 0h1m11 0h1m4 0h1m10 0h1m20 0h2m5 0h1m6 0h1m3 0h1m-106 1h1m2 0h1m2 0h1m12 0h1m9 0h1m5 0h2m2 0h1m2 0h1m2 0h1m8 0h2m7 0h1m10 0h1m2 0h1m9 0h3m10 0h2m4 0h1m3 0h1m-99 1h2m8 0h1m6 0h1m2 0h1m2 0h2m2 0h1m1 0h1m1 0h2m3 0h1m9 0h2m2 0h1m11 0h2m6 0h2m4 0h1m4 0h1m19 0h1m-111 1h1m38 0h1m3 0h1m10 0h1m19 0h1m10 0h1m6 0h1m1 0h1m1 0h1m6 0h1m1 0h1m5 0h1m-112 1h1m6 0h1m36 0h1m1 0h1m12 0h1m9 0h2m13 0h1m11 0h2m1 0h1m-89 1h1m7 0h2m24 0h1m1 0h1m5 0h1m3 0h3m8 0h1m6 0h1m4 0h1m1 0h1m6 0h1m6 0h1m6 0h1m5 0h1m-109 1h1m13 0h1m4 0h1m5 0h1m4 0h1m11 0h1m12 0h3m6 0h1m11 0h1m4 0h1m5 0h1m2 0h1m1 0h1m-86 1h2m1 0h2m14 0h1m33 0h2m15 0h1m7 0h2m4 0h1m2 0h1m-88 1h1m4 0h1m27 0h2m2 0h1m4 0h1m2 0h1m2 0h2m14 0h1m11 0h1m-63 1h1m20 0h1m5 0h1m7 0h1m23 0h1m10 0h1m-84 1h1m23 0h3m6 0h1m1 0h1m5 0h2m5 0h2m33 0h1m-79 1h1m3 0h1m4 0h1m10 0h1m1 0h1m11 0h1m1 0h2m1 0h1m23 0h1m11 0h1m-77 1h1m41 0h1m32 0h1m-74 1h1m1 0h3m21 0h1m42 0h1m2 0h1m-69 1h1m71 0h1m-70 1h1m2 0h2m1 0h2m12 0h1m23 0h1m15 0h1m3 0h1m1 0h1m-47 1h1m8 0h4m30 0h1m3 0h1m2 0h1m-29 1h1m4 0h1m3 0h1m3 0h1m10 0h1m-22 1h2m-31 1h2m15 0h1m16 0h1m-8 1h1m15 0h1m7 0h1m-21 1h2m-31 1h1m31 0h1m-33 1h1m2 0h1m1 0h1m25 0h1m-39 1h1m6 0h1m9 0h1m3 0h1m-5 1h1m-11 1h1m3 0h1m1 0h1m2 0h2m15 0h1m3 0h1m-11 1h1m1 0h1m2 0h1m5 0h1m-23 1h1m2 0h1m6 0h1m1 0h1"/>
<path stroke="#42bb98" d="M0 0m35 0h2m69 0h1m-53 1h1m2 0h2m6 0h1m-15 1h1m21 0h1m6 0h1m5 0h1m12 0h1m2 0h2m2 0h1m5 0h1m-59 1h1m43 0h1m16 0h1m-53 1h1m3 0h1m6 0h1m3 0h1m15 0h1m6 0h1m-41 1h1m2 0h1m43 0h1m-59 1h1m20 0h2m29 0h1m6 0h1m-74 1h2m5 0h1m37 0h1m15 0h1m17 0h1m-89 1h1m5 0h1m4 0h1m30 0h1m4 0h1m7 0h1m11 0h1m23 0h1m-82 1h1m44 0h1m11 0h1m2 0h1m20 0h1m-92 1h1m1 0h1m4 0h3m7 0h1m8 0h1m13 0h1m17 0h1m6 0h2m11 0h1m14 0h1m-100 1h1m27 0h1m1 0h1m2 0h1m4 0h1m12 0h1m4 0h3m2 0h1m5 0h1m11 0h1m2 0h1m5 0h1m11 0h1m-66 1h1m6 0h1m11 0h1m3 0h1m3 0h1m3 0h1m31 0h1m-74 1h1m5 0h1m3 0h1m2 0h1m1 0h1m28 0h2m7 0h1m22 0h1m-91 1h1m27 0h1m11 0h1m-52 1h1m24 0h1m6 0h1m3 0h1m3 0h1m4 0h2m2 0h2m2 0h1m36 0h1m3 0h1m-68 1h1m4 0h2m1 0h1m4 0h1m10 0h1m4 0h1m4 0h1m-66 1h1m2 0h1m35 0h1m1 0h1m12 0h1m45 0h1m3 0h1m3 0h1m-72 1h1m2 0h2m14 0h1m8 0h1m4 0h3m37 0h1m-113 1h1m12 0h2m14 0h1m4 0h1m8 0h2m3 0h1m10 0h1m10 0h1m3 0h1m19 0h1m10 0h1m-92 1h1m23 0h1m5 0h1m4 0h1m6 0h2m4 0h1m19 0h1m13 0h1m2 0h2m-98 1h1m13 0h1m14 0h1m7 0h1m4 0h1m8 0h1m8 0h1m9 0h1m5 0h2m1 0h1m16 0h2m-100 1h1m8 0h1m27 0h1m6 0h1m4 0h1m1 0h2m9 0h2m10 0h1m23 0h2m-80 1h1m4 0h1m2 0h1m49 0h1m8 0h1m13 0h1m1 0h1m12 0h1m-90 1h1m1 0h1m4 0h2m12 0h1m2 0h1m5 0h1m23 0h2m14 0h1m4 0h1m12 0h1m-85 1h1m2 0h1m25 0h1m8 0h2m13 0h1m1 0h1m3 0h1m19 0h1m-110 1h1m32 0h1m3 0h1m5 0h1m22 0h1m15 0h1m6 0h1m12 0h1m-109 1h1m11 0h1m11 0h2m1 0h1m16 0h1m7 0h1m4 0h2m8 0h1m4 0h1m7 0h1m6 0h1m1 0h1m5 0h1m6 0h1m2 0h1m6 0h1m8 0h1m-126 1h1m12 0h1m1 0h1m20 0h1m12 0h1m1 0h1m6 0h2m9 0h1m9 0h1m13 0h1m23 0h1m-103 1h1m33 0h1m11 0h1m10 0h1m2 0h1m3 0h1m4 0h1m1 0h1m6 0h1m23 0h1m9 0h1m-98 1h1m2 0h2m17 0h2m1 0h2m2 0h1m11 0h1m3 0h1m15 0h1m12 0h1m16 0h1m3 0h1m-122 1h2m5 0h1m21 0h1m3 0h1m15 0h1m7 0h2m5 0h1m1 0h2m5 0h1m3 0h1m2 0h2m1 0h1m1 0h1m3 0h1m23 0h1m3 0h1m-78 1h1m6 0h1m1 0h1m28 0h1m7 0h1m4 0h1m27 0h1m-95 1h1m2 0h1m3 0h1m1 0h1m2 0h1m1 0h1m1 0h1m28 0h1m8 0h1m4 0h1m6 0h1m12 0h1m2 0h1m11 0h1m1 0h1m-120 1h1m26 0h1m18 0h1m20 0h1m2 0h1m1 0h1m4 0h1m8 0h1m3 0h1m1 0h1m13 0h1m-86 1h1m3 0h1m3 0h1m4 0h1m25 0h1m3 0h1m7 0h2m3 0h1m6 0h1m22 0h1m11 0h1m2 0h1m-124 1h1m2 0h1m33 0h1m2 0h1m5 0h1m31 0h1m5 0h1m10 0h1m-100 1h1m6 0h1m20 0h1m11 0h1m13 0h1m4 0h1m7 0h1m6 0h1m11 0h1m3 0h1m2 0h1m13 0h1m4 0h1m-115 1h4m31 0h1m6 0h1m10 0h3m10 0h1m9 0h2m8 0h1m8 0h2m2 0h1m27 0h2m1 0h1m-133 1h1m11 0h1m20 0h1m2 0h1m16 0h1m3 0h1m5 0h2m2 0h1m5 0h2m2 0h1m1 0h1m11 0h2m8 0h1m18 0h1m10 0h1m-99 1h1m2 0h1m18 0h2m2 0h2m3 0h2m24 0h2m6 0h1m4 0h2m2 0h2m1 0h1m13 0h1m-126 1h1m11 0h1m8 0h1m4 0h1m9 0h1m17 0h1m1 0h2m9 0h1m10 0h1m21 0h1m4 0h1m-70 1h1m6 0h2m1 0h1m1 0h1m15 0h1m24 0h1m16 0h1m5 0h1m-98 1h1m15 0h1m9 0h2m5 0h1m11 0h1m43 0h3m-103 1h1m10 0h1m19 0h1m6 0h1m1 0h2m6 0h2m16 0h1m2 0h4m3 0h1m10 0h2m10 0h1m1 0h1m30 0h1m-128 1h3m8 0h1m4 0h1m4 0h1m4 0h2m8 0h1m14 0h2m18 0h1m2 0h1m8 0h1m5 0h1m4 0h1m2 0h1m-99 1h1m12 0h1m14 0h1m15 0h1m8 0h2m2 0h1m10 0h1m18 0h1m7 0h1m21 0h2m-92 1h1m4 0h1m12 0h1m3 0h1m17 0h1m1 0h1m4 0h1m3 0h1m2 0h1m10 0h2m3 0h1m22 0h1m-96 1h1m1 0h1m23 0h1m8 0h1m3 0h1m15 0h1m3 0h1m1 0h2m8 0h1m6 0h1m13 0h1m1 0h1m9 0h1m-129 1h1m34 0h1m21 0h2m1 0h1m1 0h1m2 0h1m8 0h1m7 0h3m1 0h1m5 0h2m8 0h2m12 0h1m11 0h1m-116 1h3m4 0h1m3 0h1m1 0h1m3 0h2m6 0h1m13 0h1m2 0h2m3 0h3m5 0h1m5 0h1m11 0h2m7 0h1m1 0h1m1 0h2m2 0h1m9 0h2m5 0h1m6 0h2m-130 1h2m21 0h1m2 0h1m4 0h1m21 0h2m1 0h1m2 0h1m4 0h2m5 0h1m3 0h1m1 0h1m9 0h1m10 0h1m4 0h2m-94 1h1m5 0h1m3 0h1m8 0h1m1 0h1m10 0h1m6 0h1m1 0h1m1 0h2m10 0h2m3 0h3m6 0h1m5 0h1m-95 1h1m6 0h1m7 0h1m8 0h1m5 0h1m4 0h1m5 0h1m5 0h3m1 0h1m5 0h1m2 0h2m13 0h1m6 0h1m1 0h1m4 0h1m10 0h2m2 0h1m7 0h1m-105 1h1m30 0h1m6 0h1m4 0h1m4 0h1m10 0h1m5 0h1m1 0h1m21 0h1m10 0h1m5 0h1m-117 1h1m6 0h2m11 0h1m2 0h1m1 0h1m1 0h1m12 0h1m3 0h2m1 0h1m3 0h1m7 0h3m7 0h1m5 0h1m1 0h1m14 0h1m6 0h1m5 0h1m33 0h1m-117 1h1m7 0h1m11 0h2m24 0h3m1 0h5m1 0h1m10 0h1m27 0h1m-84 1h1m35 0h2m6 0h1m11 0h1m8 0h1m1 0h1m4 0h1m10 0h1m5 0h1m-118 1h1m25 0h1m23 0h1m2 0h1m39 0h1m7 0h1m8 0h1m-110 1h1m11 0h1m3 0h1m5 0h1m2 0h2m9 0h1m10 0h1m3 0h1m4 0h1m28 0h1m7 0h3m20 0h1m6 0h1m-118 1h1m5 0h1m7 0h1m4 0h1m16 0h1m12 0h1m27 0h2m2 0h3m11 0h1m2 0h1m7 0h1m10 0h1m-102 1h1m3 0h1m12 0h1m9 0h1m12 0h2m21 0h1m1 0h1m10 0h1m25 0h1m-111 1h1m12 0h1m8 0h1m3 0h1m2 0h2m4 0h2m11 0h2m21 0h1m1 0h1m7 0h1m1 0h1m-106 1h1m7 0h1m13 0h1m22 0h1m3 0h3m15 0h1m2 0h2m21 0h2m11 0h1m5 0h1m8 0h1m9 0h1m-113 1h1m9 0h3m12 0h1m5 0h1m12 0h1m2 0h3m1 0h1m13 0h2m2 0h1m4 0h1m11 0h1m1 0h1m8 0h1m7 0h2m7 0h1m-115 1h1m27 0h1m2 0h1m12 0h5m2 0h1m5 0h1m4 0h3m1 0h2m2 0h2m3 0h1m15 0h1m14 0h2m6 0h1m-128 1h1m4 0h1m11 0h1m1 0h1m2 0h2m21 0h2m5 0h1m1 0h2m3 0h3m7 0h1m2 0h1m2 0h2m6 0h2m3 0h1m1 0h1m18 0h1m8 0h1m3 0h1m-123 1h2m2 0h1m9 0h1m2 0h1m6 0h1m20 0h1m5 0h1m8 0h1m8 0h1m4 0h3m6 0h1m1 0h3m9 0h4m27 0h1m-124 1h1m6 0h1m2 0h1m40 0h2m1 0h2m7 0h2m4 0h2m5 0h3m2 0h1m19 0h1m8 0h1m7 0h1m-125 1h1m13 0h1m1 0h1m1 0h1m22 0h1m4 0h1m10 0h1m1 0h1m1 0h1m6 0h2m4 0h2m1 0h1m4 0h2m2 0h1m4 0h1m15 0h1m18 0h1m3 0h1m1 0h1m-126 1h1m16 0h2m15 0h1m4 0h1m6 0h1m1 0h1m1 0h1m16 0h2m2 0h1m7 0h1m27 0h1m15 0h1m1 0h1m-131 1h1m13 0h1m3 0h1m4 0h1m12 0h1m7 0h1m5 0h1m4 0h1m11 0h2m3 0h2m3 0h1m6 0h2m9 0h2m15 0h1m-117 1h1m2 0h1m15 0h1m5 0h2m14 0h1m15 0h2m10 0h3m4 0h2m3 0h1m4 0h1m12 0h1m11 0h1m2 0h1m16 0h1m-131 1h1m8 0h1m8 0h1m37 0h2m5 0h2m2 0h2m4 0h4m9 0h1m2 0h1m10 0h2m-107 1h1m4 0h1m24 0h1m14 0h1m3 0h2m9 0h2m5 0h5m2 0h1m3 0h1m1 0h2m4 0h1m2 0h1m1 0h2m2 0h2m24 0h1m-111 1h2m6 0h1m1 0h1m22 0h2m3 0h1m8 0h2m7 0h2m1 0h1m3 0h1m3 0h2m1 0h1m1 0h1m2 0h1m3 0h2m2 0h1m1 0h1m30 0h1m4 0h1m-131 1h1m7 0h1m4 0h1m5 0h1m2 0h1m6 0h1m17 0h1m8 0h1m3 0h2m4 0h1m4 0h4m1 0h1m1 0h4m2 0h1m39 0h1m-120 1h1m18 0h1m17 0h1m10 0h1m2 0h1m2 0h4m2 0h1m5 0h2m1 0h6m1 0h2m5 0h3m6 0h2m7 0h1m5 0h1m-110 1h1m9 0h1m5 0h1m23 0h1m3 0h1m7 0h1m4 0h1m10 0h3m1 0h3m5 0h7m7 0h1m4 0h1m10 0h1m7 0h1m9 0h1m5 0h2m-138 1h1m3 0h1m12 0h1m24 0h1m1 0h1m7 0h2m5 0h2m4 0h1m4 0h2m3 0h2m7 0h3m25 0h1m20 0h2m-92 1h2m14 0h2m4 0h3m3 0h1m2 0h1m2 0h1m6 0h2m2 0h1m8 0h1m14 0h2m21 0h3m-138 1h1m24 0h1m17 0h2m14 0h1m5 0h1m2 0h4m4 0h2m6 0h1m9 0h1m2 0h1m3 0h1m17 0h1m11 0h1m5 0h1m-125 1h1m2 0h1m8 0h1m2 0h2m9 0h1m20 0h2m2 0h1m3 0h1m1 0h1m7 0h2m3 0h1m9 0h2m1 0h1m4 0h1m16 0h1m-118 1h1m12 0h1m5 0h1m4 0h3m18 0h1m8 0h4m1 0h1m1 0h2m1 0h5m8 0h1m2 0h2m2 0h1m15 0h1m17 0h1m1 0h1m2 0h1m11 0h1m-113 1h3m17 0h1m6 0h1m2 0h2m1 0h1m5 0h3m1 0h3m1 0h4m3 0h3m1 0h1m1 0h2m19 0h1m14 0h1m2 0h1m7 0h1m-127 1h1m9 0h1m9 0h2m5 0h1m6 0h1m4 0h1m9 0h2m1 0h2m5 0h1m5 0h1m1 0h1m2 0h1m2 0h1m1 0h1m2 0h1m1 0h1m6 0h1m8 0h1m30 0h1m-135 1h1m7 0h1m9 0h1m10 0h1m3 0h1m7 0h1m12 0h3m3 0h3m7 0h3m1 0h1m2 0h1m1 0h2m4 0h1m1 0h1m7 0h1m17 0h1m7 0h1m5 0h2m-130 1h1m9 0h1m1 0h1m13 0h1m7 0h1m11 0h1m9 0h1m3 0h1m3 0h1m2 0h2m2 0h1m2 0h2m1 0h4m4 0h1m2 0h1m8 0h1m2 0h1m12 0h1m1 0h2m7 0h1m8 0h1m-126 1h1m11 0h1m23 0h1m18 0h1m1 0h1m1 0h5m2 0h7m5 0h2m1 0h2m9 0h2m11 0h1m-106 1h1m9 0h1m26 0h1m3 0h1m4 0h1m3 0h1m4 0h1m4 0h2m4 0h2m4 0h2m2 0h1m4 0h1m3 0h1m5 0h1m2 0h1m12 0h2m2 0h1m9 0h1m4 0h1m-109 1h2m1 0h1m13 0h3m3 0h1m4 0h1m1 0h1m6 0h1m5 0h2m8 0h3m1 0h1m12 0h1m5 0h1m19 0h2m5 0h1m8 0h1m-129 1h1m10 0h1m21 0h1m2 0h2m8 0h1m3 0h1m2 0h1m7 0h2m6 0h1m1 0h1m16 0h1m3 0h1m18 0h1m15 0h1m-136 1h3m42 0h1m5 0h1m7 0h2m2 0h1m1 0h1m3 0h1m8 0h2m1 0h1m5 0h1m4 0h1m1 0h3m6 0h1m4 0h1m13 0h1m12 0h1m-121 1h1m2 0h1m13 0h1m13 0h1m9 0h1m2 0h2m1 0h1m1 0h1m14 0h1m3 0h2m1 0h1m2 0h1m6 0h1m6 0h1m9 0h1m16 0h1m2 0h1m-134 1h1m2 0h1m27 0h1m16 0h1m17 0h1m4 0h1m10 0h1m1 0h2m2 0h1m41 0h1m2 0h2m-134 1h1m7 0h1m4 0h1m7 0h1m21 0h1m17 0h1m6 0h1m10 0h4m5 0h1m1 0h4m16 0h1m10 0h1m-117 1h1m17 0h1m18 0h1m10 0h1m7 0h1m1 0h1m5 0h1m7 0h1m5 0h1m8 0h1m5 0h1m5 0h3m-94 1h1m11 0h1m19 0h1m2 0h2m6 0h1m1 0h2m1 0h1m3 0h1m4 0h4m3 0h1m1 0h1m3 0h2m6 0h2m8 0h1m6 0h2m-103 1h1m15 0h1m6 0h1m18 0h1m11 0h1m6 0h1m13 0h2m5 0h1m16 0h2m4 0h2m4 0h1m7 0h1m-123 1h1m13 0h1m3 0h1m4 0h1m21 0h1m8 0h1m1 0h2m1 0h1m18 0h2m18 0h2m1 0h1m1 0h1m2 0h1m1 0h1m-104 1h1m20 0h1m2 0h1m3 0h1m19 0h1m1 0h1m1 0h3m8 0h2m9 0h1m1 0h1m17 0h1m6 0h2m4 0h1m2 0h1m-111 1h1m17 0h1m11 0h1m32 0h3m3 0h1m26 0h2m1 0h2m16 0h1m-119 1h1m8 0h1m48 0h2m1 0h1m1 0h1m2 0h1m3 0h1m1 0h1m6 0h1m15 0h1m22 0h1m-98 1h1m8 0h1m10 0h1m52 0h1m7 0h1m5 0h1m12 0h1m-122 1h1m10 0h1m42 0h1m7 0h1m2 0h1m1 0h2m25 0h3m6 0h1m1 0h1m-96 1h1m7 0h2m1 0h1m10 0h2m5 0h1m2 0h1m4 0h1m19 0h2m14 0h1m15 0h1m3 0h1m-83 1h1m5 0h1m7 0h1m6 0h2m4 0h2m16 0h1m27 0h2m7 0h2m1 0h2m13 0h1m-100 1h1m2 0h1m7 0h1m8 0h1m1 0h1m21 0h1m3 0h1m32 0h1m2 0h1m-106 1h1m4 0h1m17 0h1m2 0h1m4 0h1m1 0h1m1 0h1m37 0h1m2 0h1m1 0h1m1 0h1m10 0h2m13 0h1m13 0h1m-101 1h1m3 0h1m6 0h1m9 0h3m4 0h1m23 0h2m1 0h2m1 0h1m5 0h1m7 0h1m25 0h2m-117 1h2m6 0h1m26 0h1m15 0h1m51 0h1m2 0h1m7 0h1m-100 1h2m14 0h2m2 0h1m14 0h1m35 0h1m16 0h1m-99 1h2m2 0h1m9 0h1m15 0h1m13 0h2m24 0h1m22 0h1m-97 1h2m15 0h1m3 0h1m22 0h1m1 0h1m5 0h1m10 0h3m15 0h1m4 0h1m13 0h1m2 0h2m-99 1h1m34 0h1m3 0h1m6 0h1m7 0h1m2 0h2m1 0h1m13 0h1m7 0h1m5 0h1m7 0h1m7 0h1m-105 1h1m1 0h1m10 0h1m6 0h1m6 0h1m10 0h1m4 0h1m6 0h1m18 0h3m16 0h1m2 0h1m1 0h2m-98 1h2m3 0h1m8 0h1m5 0h1m2 0h1m27 0h1m4 0h1m17 0h1m1 0h1m7 0h1m3 0h2m16 0h1m-105 1h1m24 0h1m3 0h1m15 0h2m3 0h1m3 0h2m3 0h1m10 0h4m3 0h1m-75 1h1m14 0h1m17 0h1m12 0h1m19 0h1m3 0h1m-70 1h1m9 0h1m13 0h1m5 0h1m16 0h2m15 0h1m6 0h1m7 0h1m-84 1h1m13 0h1m2 0h1m5 0h1m50 0h2m3 0h1m10 0h1m-81 1h1m25 0h1m1 0h1m5 0h1m-44 1h1m2 0h1m27 0h1m8 0h1m30 0h1m-70 1h1m11 0h1m13 0h1m7 0h1m8 0h1m5 0h2m23 0h1m7 0h2m-83 1h1m9 0h1m18 0h1m13 0h2m1 0h1m2 0h1m16 0h2m1 0h1m13 0h1m-83 1h1m1 0h2m5 0h1m12 0h1m8 0h2m35 0h1m11 0h1m-58 1h2m4 0h1m43 0h1m5 0h1m-60 1h1m12 0h1m17 0h1m28 0h2m-76 1h1m4 0h1m6 0h1m1 0h1m9 0h1m8 0h1m8 0h1m27 0h1m-64 1h1m9 0h1m1 0h1m38 0h2m9 0h1m-57 1h1m38 0h1m3 0h1m-18 1h1m14 0h1m1 0h1m10 0h1m-63 1h1m16 0h1m1 0h1m-12 1h2m-1 1h1m10 0h1m34 1h1m-30 1h1m19 0h2m-35 1h1m1 0h2m4 0h1m1 0h1m24 0h2m-27 1h1m5 0h1m2 0h1m10 0h1m4 1h1m-16 1h1m2 0h1m12 0h1"/>
<path stroke="#4dbc92" d="M0 0m42 0h1m15 0h1m-24 1h1m39 0h1m12 0h1m-58 1h1m15 0h1m21 0h1m22 0h1m3 0h1m-50 1h1m1 0h3m19 0h1m30 0h1m-59 1h1m4 0h1m21 0h1m31 0h2m9 0h1m-44 1h3m2 0h1m34 0h1m2 0h1m-81 1h1m6 0h1m4 0h1m14 0h1m4 0h2m1 0h1m31 0h1m14 0h1m-93 1h1m9 0h1m7 0h1m34 0h1m5 0h1m-52 1h1m43 0h1m1 0h1m1 0h2m-61 1h1m5 0h1m5 0h1m28 0h2m6 0h2m2 0h1m9 0h2m7 0h1m7 0h1m-71 1h1m20 0h1m25 0h1m19 0h1m7 0h1m-72 1h1m38 0h1m6 0h1m16 0h1m3 0h1m1 0h1m15 0h1m-91 1h1m2 0h1m18 0h1m20 0h1m26 0h1m2 0h1m3 0h1m2 0h1m7 0h1m3 0h1m-103 1h1m12 0h1m16 0h1m4 0h1m8 0h1m8 0h1m13 0h1m6 0h1m5 0h1m2 0h1m7 0h2m-67 1h1m9 0h1m4 0h1m4 0h2m5 0h1m21 0h1m6 0h1m-72 1h1m16 0h1m7 0h1m2 0h1m5 0h1m-47 1h1m10 0h2m26 0h1m10 0h1m9 0h1m26 0h1m3 0h2m4 0h1m8 0h1m-95 1h1m21 0h1m6 0h1m8 0h1m7 0h1m3 0h1m-66 1h1m7 0h1m8 0h1m14 0h1m2 0h1m9 0h1m1 0h1m10 0h1m-25 1h1m24 0h2m9 0h1m5 0h1m35 0h1m-108 1h1m6 0h1m19 0h1m9 0h1m32 0h1m1 0h1m14 0h1m11 0h1m-108 1h1m16 0h1m31 0h1m29 0h1m9 0h1m19 0h1m-110 1h1m3 0h1m43 0h1m7 0h1m18 0h1m3 0h2m1 0h1m15 0h1m9 0h2m-107 1h1m25 0h1m2 0h1m8 0h1m1 0h2m9 0h1m4 0h1m3 0h1m16 0h1m1 0h1m3 0h1m9 0h1m-93 1h1m20 0h1m5 0h1m4 0h1m12 0h1m28 0h2m8 0h1m1 0h2m-93 1h1m4 0h1m4 0h1m1 0h1m13 0h1m6 0h1m26 0h1m40 0h1m3 0h1m-110 1h1m15 0h1m12 0h1m46 0h2m14 0h1m-64 1h1m11 0h1m2 0h1m14 0h1m3 0h1m36 0h1m-94 1h1m20 0h1m22 0h1m3 0h1m24 0h3m18 0h1m7 0h1m-110 1h1m4 0h1m7 0h1m14 0h2m20 0h2m4 0h1m1 0h1m4 0h1m1 0h2m2 0h2m6 0h1m1 0h2m14 0h1m13 0h1m10 0h2m-122 1h1m33 0h2m13 0h1m9 0h1m5 0h2m4 0h1m8 0h1m23 0h1m11 0h1m-86 1h1m5 0h1m27 0h1m5 0h1m15 0h1m2 0h1m2 0h1m15 0h1m8 0h1m4 0h2m-98 1h1m10 0h1m3 0h1m1 0h1m18 0h1m5 0h2m4 0h2m2 0h1m8 0h1m35 0h1m2 0h1m-125 1h1m1 0h1m28 0h1m3 0h1m4 0h1m20 0h1m4 0h2m6 0h1m1 0h1m3 0h1m22 0h1m11 0h1m1 0h1m-95 1h1m11 0h1m4 0h1m2 0h1m5 0h1m10 0h2m6 0h1m1 0h1m2 0h1m4 0h1m1 0h2m4 0h1m6 0h1m25 0h1m-79 1h1m25 0h1m5 0h1m7 0h1m5 0h1m6 0h1m11 0h1m9 0h1m-110 1h1m13 0h1m3 0h2m-29 1h1m21 0h1m49 0h1m10 0h1m14 0h1m-73 1h1m18 0h1m13 0h1m5 0h1m6 0h1m-75 1h1m5 0h1m24 0h1m10 0h1m1 0h2m7 0h1m9 0h1m2 0h1m1 0h2m27 0h1m9 0h1m8 0h1m12 0h1m-132 1h1m25 0h1m21 0h1m7 0h2m7 0h1m8 0h1m24 0h2m7 0h1m3 0h1m2 0h1m15 0h1m-129 1h1m5 0h1m32 0h1m13 0h1m2 0h1m29 0h2m16 0h1m4 0h1m2 0h1m7 0h1m-115 1h1m21 0h1m1 0h1m22 0h1m1 0h1m15 0h1m2 0h1m21 0h2m8 0h1m1 0h1m5 0h1m1 0h2m2 0h1m-115 1h1m2 0h1m17 0h1m10 0h1m3 0h1m13 0h2m10 0h1m2 0h1m2 0h2m4 0h2m2 0h2m4 0h1m11 0h1m12 0h2m2 0h3m-113 1h1m14 0h1m26 0h1m12 0h1m1 0h1m14 0h1m8 0h1m10 0h1m19 0h1m-106 1h1m18 0h1m12 0h1m5 0h1m5 0h1m2 0h1m18 0h1m3 0h1m3 0h3m1 0h1m-69 1h1m8 0h1m1 0h1m10 0h2m4 0h1m3 0h2m20 0h3m8 0h1m3 0h1m3 0h2m11 0h1m6 0h1m-119 1h1m2 0h1m21 0h1m32 0h1m11 0h1m6 0h2m2 0h2m4 0h4m14 0h1m5 0h1m-88 1h1m54 0h1m4 0h2m1 0h1m11 0h1m1 0h1m4 0h1m11 0h1m3 0h1m-109 1h1m12 0h1m5 0h1m32 0h1m11 0h1m1 0h1m7 0h1m14 0h1m-105 1h1m22 0h1m1 0h1m1 0h1m12 0h2m1 0h1m17 0h1m7 0h1m9 0h1m16 0h1m3 0h1m1 0h1m3 0h1m1 0h1m11 0h2m-129 1h1m21 0h1m8 0h1m17 0h1m15 0h1m11 0h1m20 0h1m10 0h3m5 0h1m11 0h1m8 0h1m-113 1h1m6 0h2m1 0h1m2 0h1m1 0h1m9 0h1m11 0h1m14 0h1m9 0h1m8 0h1m4 0h4m15 0h1m8 0h1m-132 1h2m19 0h1m13 0h2m2 0h1m2 0h1m18 0h1m17 0h1m4 0h1m13 0h1m3 0h1m15 0h1m12 0h1m-108 1h1m2 0h1m12 0h1m4 0h1m1 0h1m13 0h2m12 0h1m3 0h1m9 0h1m2 0h1m10 0h2m2 0h1m16 0h1m7 0h1m-133 1h1m28 0h1m4 0h1m23 0h2m19 0h1m8 0h2m2 0h1m16 0h1m1 0h1m6 0h1m2 0h1m11 0h1m-109 1h1m7 0h1m1 0h1m18 0h1m5 0h1m12 0h1m5 0h1m1 0h1m19 0h1m7 0h1m2 0h1m4 0h2m6 0h1m6 0h1m-133 1h1m9 0h1m10 0h1m13 0h1m18 0h1m5 0h1m8 0h2m7 0h2m1 0h1m9 0h1m17 0h1m2 0h1m5 0h1m1 0h1m11 0h1m-123 1h1m21 0h2m1 0h2m8 0h1m7 0h2m5 0h1m5 0h1m13 0h1m11 0h2m22 0h1m4 0h1m14 0h1m-100 1h1m11 0h1m42 0h2m7 0h1m11 0h1m4 0h1m2 0h1m11 0h1m-117 1h1m15 0h1m2 0h1m13 0h1m14 0h1m5 0h1m22 0h2m19 0h1m-80 1h1m10 0h1m3 0h1m11 0h1m1 0h1m4 0h1m2 0h1m19 0h1m1 0h1m26 0h1m-114 1h1m5 0h1m4 0h2m25 0h2m1 0h2m10 0h1m4 0h3m4 0h2m19 0h1m37 0h1m2 0h1m-117 1h1m22 0h1m1 0h1m7 0h1m7 0h2m2 0h3m5 0h2m3 0h1m2 0h1m24 0h1m29 0h1m-132 1h2m1 0h1m14 0h1m1 0h1m17 0h2m3 0h3m1 0h2m7 0h2m7 0h1m1 0h3m1 0h3m2 0h2m4 0h2m1 0h1m2 0h1m11 0h1m9 0h1m21 0h1m-129 1h1m5 0h1m8 0h1m18 0h1m3 0h1m5 0h1m6 0h4m5 0h2m1 0h1m1 0h3m1 0h2m26 0h1m5 0h1m2 0h1m9 0h1m9 0h1m-133 1h1m11 0h1m5 0h1m3 0h1m17 0h1m3 0h1m3 0h1m8 0h1m3 0h2m3 0h7m1 0h2m1 0h2m10 0h3m10 0h1m6 0h2m10 0h1m1 0h2m3 0h1m4 0h1m-117 1h1m4 0h2m16 0h1m1 0h1m1 0h1m16 0h1m7 0h4m1 0h1m1 0h2m46 0h1m1 0h1m7 0h1m2 0h1m-126 1h1m7 0h3m3 0h1m13 0h1m1 0h2m1 0h2m8 0h1m6 0h1m8 0h1m2 0h1m2 0h1m11 0h1m1 0h1m2 0h1m5 0h2m2 0h1m8 0h1m18 0h1m-135 1h1m23 0h1m22 0h2m14 0h1m11 0h2m4 0h1m10 0h2m1 0h1m1 0h1m24 0h1m3 0h1m-113 1h1m35 0h1m12 0h1m3 0h1m5 0h4m1 0h1m2 0h1m7 0h1m2 0h2m2 0h3m28 0h1m1 0h3m2 0h1m-130 1h1m5 0h3m8 0h1m6 0h1m14 0h1m1 0h1m2 0h1m17 0h1m3 0h3m2 0h1m1 0h1m2 0h1m1 0h1m5 0h1m3 0h3m1 0h1m17 0h1m2 0h1m9 0h1m8 0h1m1 0h1m-141 1h1m4 0h1m5 0h1m8 0h1m10 0h1m1 0h1m16 0h1m17 0h1m3 0h1m3 0h4m2 0h3m6 0h1m2 0h2m8 0h1m12 0h1m5 0h1m5 0h1m-130 1h1m2 0h1m9 0h1m5 0h2m1 0h1m22 0h2m2 0h2m19 0h2m4 0h2m4 0h1m2 0h1m9 0h1m20 0h1m14 0h1m-126 1h1m4 0h2m2 0h1m8 0h1m47 0h2m2 0h2m1 0h1m2 0h2m10 0h1m4 0h1m33 0h2m-105 1h2m28 0h1m10 0h3m2 0h2m2 0h1m3 0h2m13 0h1m28 0h1m-117 1h1m7 0h1m4 0h1m19 0h1m21 0h1m9 0h1m1 0h1m4 0h2m10 0h1m30 0h1m5 0h1m-131 1h1m15 0h1m1 0h1m23 0h1m20 0h1m19 0h1m9 0h1m1 0h1m24 0h1m-120 1h1m19 0h1m19 0h1m2 0h2m7 0h1m1 0h1m2 0h1m1 0h1m1 0h1m10 0h1m19 0h1m11 0h1m-105 1h1m10 0h1m8 0h1m33 0h1m2 0h1m3 0h1m1 0h1m7 0h1m1 0h1m19 0h1m25 0h1m-118 1h1m8 0h2m24 0h1m19 0h1m3 0h3m10 0h1m17 0h4m-93 1h1m9 0h1m5 0h1m33 0h1m1 0h1m3 0h1m3 0h1m10 0h1m2 0h1m45 0h2m6 0h1m3 0h1m-131 1h1m8 0h1m4 0h1m21 0h2m1 0h1m8 0h1m1 0h1m1 0h1m3 0h2m1 0h2m2 0h1m6 0h1m18 0h1m23 0h1m5 0h1m1 0h1m2 0h1m1 0h1m1 0h1m-132 1h1m34 0h2m2 0h1m1 0h1m7 0h3m4 0h1m16 0h1m16 0h1m1 0h2m21 0h1m4 0h1m8 0h1m-135 1h1m6 0h1m5 0h1m11 0h1m3 0h2m1 0h1m11 0h1m2 0h1m7 0h1m27 0h1m14 0h1m-84 1h1m38 0h2m14 0h2m3 0h2m6 0h1m2 0h1m9 0h1m1 0h2m18 0h2m2 0h2m-115 1h1m6 0h1m2 0h2m2 0h1m2 0h1m15 0h1m20 0h1m11 0h2m6 0h1m10 0h1m17 0h1m5 0h1m3 0h2m-121 1h2m13 0h1m8 0h1m18 0h1m28 0h1m4 0h1m4 0h1m9 0h1m-96 1h1m4 0h2m4 0h1m5 0h2m8 0h1m3 0h1m12 0h2m8 0h3m14 0h1m12 0h1m9 0h1m18 0h1m8 0h2m8 0h1m-128 1h1m19 0h1m1 0h1m1 0h1m1 0h1m32 0h1m28 0h1m19 0h1m7 0h1m-119 1h3m1 0h1m2 0h1m6 0h1m27 0h1m8 0h1m1 0h1m24 0h1m12 0h1m1 0h1m1 0h1m15 0h2m18 0h1m1 0h1m-127 1h1m7 0h2m3 0h1m20 0h1m3 0h2m4 0h1m3 0h1m4 0h3m13 0h1m2 0h1m9 0h3m1 0h1m36 0h1m-129 1h1m6 0h1m5 0h2m25 0h1m7 0h1m1 0h1m3 0h1m5 0h1m5 0h1m9 0h1m38 0h1m10 0h1m-124 1h1m13 0h1m8 0h1m12 0h1m8 0h1m1 0h1m3 0h1m4 0h1m1 0h1m5 0h1m8 0h1m1 0h1m2 0h1m6 0h1m26 0h2m10 0h1m-128 1h1m13 0h1m23 0h1m4 0h1m4 0h1m6 0h2m1 0h3m15 0h1m2 0h1m5 0h2m1 0h1m14 0h1m5 0h1m-103 1h1m21 0h1m13 0h1m6 0h1m2 0h1m8 0h2m19 0h1m2 0h1m21 0h2m-104 1h1m3 0h1m3 0h1m14 0h1m23 0h3m5 0h1m2 0h2m12 0h2m1 0h2m1 0h1m3 0h1m19 0h1m1 0h1m-112 1h1m11 0h2m15 0h1m35 0h1m10 0h1m2 0h2m2 0h1m1 0h1m2 0h1m11 0h3m6 0h1m1 0h1m14 0h1m-127 1h1m12 0h1m15 0h1m1 0h1m14 0h1m18 0h1m1 0h1m3 0h4m3 0h1m3 0h1m18 0h2m-93 1h2m1 0h1m14 0h4m25 0h1m2 0h1m7 0h1m6 0h1m2 0h1m7 0h1m10 0h2m3 0h1m8 0h1m-108 1h1m4 0h1m3 0h1m62 0h1m1 0h1m3 0h1m33 0h1m12 0h1m-119 1h1m61 0h2m33 0h1m-104 1h1m4 0h2m14 0h1m8 0h1m1 0h1m32 0h2m1 0h1m3 0h1m1 0h1m28 0h1m18 0h1m-124 1h1m1 0h2m1 0h1m3 0h1m11 0h2m18 0h2m18 0h1m1 0h1m1 0h1m1 0h1m1 0h4m24 0h2m-87 1h1m9 0h2m20 0h1m17 0h1m2 0h1m5 0h2m30 0h1m6 0h1m-101 1h1m8 0h1m10 0h1m7 0h1m25 0h2m2 0h1m2 0h1m34 0h1m15 0h1m-93 1h1m3 0h1m1 0h1m51 0h3m10 0h1m5 0h1m-101 1h2m23 0h1m10 0h1m39 0h1m8 0h2m-90 1h1m9 0h1m5 0h1m4 0h1m1 0h1m18 0h1m9 0h1m21 0h1m1 0h1m16 0h1m-70 1h1m9 0h2m7 0h1m7 0h2m41 0h1m9 0h1m4 0h1m-88 1h1m3 0h1m4 0h1m2 0h2m6 0h1m1 0h2m2 0h1m55 0h1m4 0h1m-106 1h3m13 0h1m11 0h1m3 0h1m10 0h1m49 0h1m6 0h1m11 0h1m-115 1h1m16 0h1m3 0h1m3 0h1m1 0h1m3 0h1m8 0h1m4 0h1m61 0h1m6 0h1m-110 1h1m3 0h1m22 0h1m11 0h1m6 0h1m-52 1h1m2 0h1m28 0h1m7 0h1m7 0h1m3 0h2m7 0h1m7 0h3m26 0h1m2 0h1m-95 1h1m17 0h3m5 0h2m1 0h1m12 0h1m6 0h1m2 0h2m9 0h3m11 0h2m12 0h1m-92 1h1m21 0h1m6 0h1m3 0h1m13 0h1m4 0h1m12 0h1m4 0h2m3 0h1m12 0h2m-88 1h1m20 0h2m5 0h2m2 0h1m7 0h1m6 0h1m6 0h1m25 0h1m2 0h3m-87 1h2m20 0h1m2 0h1m5 0h1m2 0h1m34 0h1m1 0h1m2 0h1m5 0h1m2 0h1m-87 1h1m8 0h1m23 0h1m3 0h2m7 0h1m1 0h2m2 0h1m22 0h1m-69 1h1m23 0h1m3 0h1m52 0h1m-87 1h1m4 0h1m5 0h1m15 0h1m43 0h2m17 0h1m-85 1h2m3 0h4m27 0h1m3 0h1m24 0h1m16 0h1m-85 1h1m36 0h1m46 0h1m-84 1h1m2 0h1m18 0h2m6 0h1m5 0h1m1 0h3m5 0h1m22 0h1m10 0h1m3 0h1m-80 1h1m31 0h1m5 0h1m3 0h1m2 0h1m16 0h1m-66 1h1m4 0h1m73 0h1m-70 1h2m20 0h1m6 0h1m27 0h2m7 0h2m2 0h1m-68 1h1m22 0h1m5 0h1m1 0h1m5 0h2m14 0h1m-58 1h1m2 0h1m-2 1h1m3 0h1m41 0h3m1 0h1m-42 1h1m34 0h1m-41 1h1m7 0h1m1 0h1m29 0h2m-41 1h1m0 1h1m13 1h1m1 0h1m-9 1h1m7 0h1m-3 1h1m4 0h1m18 0h1m4 0h2m-40 1h1m31 0h1m1 0h1m1 0h1m-20 1h1m3 0h1m-14 1h1"/>
<path stroke="#59bd8c" d="M0 0m105 0h1m-70 1h2m2 0h1m33 0h1m20 0h1m9 0h2m1 0h1m-75 1h1m2 0h1m18 0h1m9 0h1m40 0h1m-62 1h1m1 0h1m20 0h1m25 0h1m7 0h1m2 0h2m-62 1h1m55 0h1m3 0h1m-76 1h1m12 0h3m30 0h1m24 0h1m-60 1h1m14 0h1m16 0h1m-54 1h1m7 0h1m4 0h1m17 0h1m2 0h1m4 0h3m9 0h1m-46 1h1m7 0h1m30 0h1m11 0h1m3 0h1m30 0h1m2 0h1m-84 1h2m29 0h1m12 0h1m8 0h1m4 0h1m21 0h1m-94 1h1m8 0h1m1 0h1m4 0h1m27 0h1m3 0h1m31 0h3m3 0h1m11 0h1m-98 1h1m7 0h1m5 0h1m19 0h1m13 0h1m20 0h1m2 0h3m8 0h1m9 0h2m-82 1h1m17 0h1m6 0h2m10 0h1m21 0h3m2 0h1m1 0h2m1 0h1m11 0h1m3 0h1m-68 1h1m4 0h1m4 0h1m28 0h2m7 0h2m-54 1h1m7 0h1m4 0h1m56 0h1m5 0h1m-76 1h1m3 0h1m69 0h1m-107 1h1m13 0h1m13 0h1m12 0h1m3 0h1m6 0h1m3 0h1m46 0h1m-92 1h1m1 0h1m17 0h1m3 0h2m1 0h1m16 0h1m3 0h1m3 0h1m-60 1h1m26 0h1m2 0h1m6 0h1m1 0h1m7 0h2m-19 1h2m5 0h1m1 0h1m24 0h1m3 0h1m18 0h1m-78 1h1m16 0h1m3 0h1m6 0h2m10 0h1m14 0h3m30 0h1m-103 1h1m41 0h1m2 0h2m32 0h2m20 0h1m-110 1h1m30 0h1m11 0h2m2 0h1m3 0h3m1 0h1m4 0h1m19 0h1m6 0h2m12 0h1m-96 1h1m1 0h1m27 0h1m13 0h1m1 0h2m26 0h1m6 0h1m21 0h1m-101 1h1m19 0h1m20 0h1m12 0h1m27 0h1m-85 1h1m21 0h1m5 0h1m10 0h1m3 0h1m21 0h2m2 0h2m12 0h1m3 0h1m15 0h1m-101 1h1m17 0h1m5 0h1m3 0h1m14 0h3m5 0h3m2 0h1m19 0h1m3 0h2m11 0h1m-105 1h1m3 0h1m28 0h1m4 0h1m1 0h1m2 0h1m42 0h1m4 0h1m-81 1h1m15 0h1m22 0h2m2 0h1m10 0h1m8 0h2m22 0h1m-67 1h2m18 0h1m4 0h1m4 0h1m16 0h2m10 0h2m1 0h1m18 0h1m-86 1h1m5 0h1m26 0h2m2 0h1m11 0h1m2 0h1m9 0h3m14 0h1m13 0h1m-113 1h1m26 0h1m14 0h1m9 0h1m4 0h1m6 0h1m39 0h1m1 0h1m-86 1h1m1 0h1m4 0h1m43 0h1m25 0h1m3 0h2m2 0h2m-96 1h1m9 0h1m5 0h1m1 0h1m4 0h1m2 0h1m30 0h2m4 0h1m24 0h1m11 0h1m-121 1h1m5 0h2m22 0h1m11 0h1m1 0h1m5 0h2m30 0h2m11 0h1m7 0h1m5 0h2m6 0h2m-118 1h1m69 0h2m7 0h1m4 0h1m9 0h1m-73 1h1m18 0h2m2 0h1m24 0h2m13 0h1m2 0h1m26 0h1m-96 1h1m21 0h2m43 0h1m6 0h1m16 0h1m11 0h1m-122 1h1m34 0h1m3 0h1m9 0h2m43 0h1m5 0h2m2 0h1m-104 1h1m34 0h1m7 0h2m3 0h1m5 0h1m2 0h1m1 0h1m31 0h1m18 0h1m-117 1h1m20 0h1m4 0h2m12 0h1m2 0h1m20 0h1m4 0h1m37 0h1m8 0h1m-90 1h1m3 0h1m7 0h2m1 0h2m5 0h1m9 0h2m1 0h1m6 0h2m12 0h2m24 0h1m6 0h1m-123 1h1m25 0h1m20 0h1m5 0h3m9 0h1m1 0h1m9 0h1m29 0h2m1 0h1m24 0h2m-129 1h1m1 0h1m18 0h1m5 0h2m17 0h1m1 0h2m5 0h1m2 0h1m2 0h2m13 0h1m8 0h1m14 0h1m20 0h1m-105 1h1m6 0h1m8 0h1m26 0h1m3 0h1m14 0h1m5 0h2m19 0h1m10 0h1m-84 1h3m10 0h1m6 0h1m1 0h1m1 0h2m20 0h3m3 0h1m19 0h2m8 0h2m9 0h1m-137 1h1m9 0h1m24 0h1m53 0h2m2 0h1m13 0h1m2 0h1m6 0h1m-76 1h1m1 0h1m46 0h1m1 0h1m16 0h2m1 0h1m23 0h1m-118 1h2m20 0h1m1 0h1m39 0h2m1 0h1m21 0h2m4 0h1m1 0h1m5 0h2m-82 1h1m42 0h1m19 0h1m1 0h1m5 0h2m1 0h1m-99 1h1m1 0h1m10 0h1m2 0h1m8 0h2m22 0h1m17 0h1m28 0h1m12 0h1m-129 1h1m22 0h2m6 0h1m7 0h1m4 0h1m4 0h2m24 0h1m1 0h1m25 0h1m7 0h1m17 0h1m8 0h1m-131 1h1m22 0h1m5 0h1m10 0h1m30 0h1m6 0h1m11 0h1m11 0h1m1 0h1m15 0h1m-111 1h1m3 0h1m3 0h1m5 0h1m2 0h1m2 0h1m2 0h1m1 0h2m33 0h1m1 0h1m6 0h2m14 0h2m3 0h1m1 0h1m6 0h1m3 0h3m-126 1h3m16 0h1m6 0h1m19 0h1m1 0h1m37 0h1m1 0h1m17 0h1m5 0h1m3 0h1m1 0h1m-116 1h1m23 0h1m26 0h1m25 0h2m9 0h1m15 0h2m8 0h1m2 0h1m1 0h1m1 0h1m6 0h2m-114 1h1m14 0h1m24 0h1m22 0h1m17 0h1m1 0h1m5 0h1m4 0h1m6 0h1m2 0h1m2 0h1m-108 1h1m14 0h1m18 0h1m17 0h1m2 0h2m1 0h1m5 0h1m29 0h2m2 0h1m15 0h1m-134 1h1m66 0h2m3 0h2m1 0h1m5 0h1m1 0h1m18 0h2m6 0h1m3 0h2m1 0h1m6 0h1m1 0h1m-125 1h1m7 0h1m6 0h1m14 0h1m3 0h1m14 0h1m14 0h1m1 0h2m45 0h1m6 0h1m3 0h1m-57 1h1m1 0h3m39 0h1m3 0h1m14 0h1m-119 1h1m16 0h2m30 0h1m4 0h1m5 0h1m16 0h1m21 0h1m10 0h1m-120 1h1m15 0h1m40 0h1m1 0h1m7 0h1m40 0h1m-110 1h1m2 0h1m6 0h1m6 0h1m21 0h1m2 0h2m26 0h3m1 0h1m6 0h4m15 0h1m9 0h1m9 0h1m-111 1h1m30 0h1m16 0h1m11 0h1m3 0h2m2 0h2m6 0h2m18 0h1m1 0h2m16 0h2m-119 1h1m8 0h1m20 0h1m1 0h1m2 0h2m22 0h1m6 0h2m10 0h3m10 0h1m7 0h1m17 0h1m6 0h1m-134 1h1m14 0h1m1 0h1m23 0h1m1 0h1m1 0h1m56 0h1m20 0h1m6 0h1m-114 1h2m6 0h1m1 0h1m11 0h1m1 0h1m1 0h1m2 0h1m16 0h1m1 0h2m6 0h1m17 0h1m15 0h2m9 0h1m4 0h1m3 0h1m-101 1h1m11 0h1m26 0h3m4 0h2m16 0h1m32 0h1m2 0h1m5 0h1m-120 1h1m3 0h1m4 0h1m21 0h2m18 0h4m4 0h2m34 0h1m19 0h1m-130 1h1m38 0h1m1 0h1m3 0h1m18 0h2m1 0h2m4 0h1m4 0h1m11 0h2m32 0h1m3 0h1m-129 1h1m40 0h1m22 0h2m7 0h1m4 0h1m7 0h1m5 0h1m30 0h1m1 0h3m2 0h1m3 0h1m-126 1h1m31 0h1m2 0h1m19 0h3m26 0h1m17 0h1m11 0h1m-46 1h2m11 0h1m1 0h1m16 0h1m7 0h1m3 0h1m1 0h2m2 0h1m-118 1h1m3 0h1m1 0h2m22 0h1m37 0h2m12 0h1m25 0h1m6 0h1m-117 1h2m3 0h1m104 0h1m5 0h1m1 0h1m-118 1h1m2 0h1m39 0h2m36 0h1m27 0h1m2 0h1m-125 1h1m15 0h1m3 0h1m22 0h2m10 0h2m24 0h1m38 0h2m7 0h1m-120 1h1m31 0h1m8 0h1m3 0h2m5 0h1m30 0h1m34 0h1m-128 1h1m4 0h1m11 0h1m23 0h1m10 0h1m1 0h2m3 0h1m1 0h1m-64 1h1m18 0h1m34 0h2m5 0h1m58 0h1m-108 1h1m2 0h1m38 0h1m2 0h1m2 0h3m70 0h1m-131 1h1m7 0h1m1 0h1m29 0h1m10 0h1m1 0h1m17 0h1m46 0h3m6 0h1m3 0h1m1 0h1m-134 1h1m38 0h1m31 0h1m18 0h1m-94 1h1m8 0h1m18 0h1m13 0h1m8 0h1m40 0h3m28 0h1m7 0h1m2 0h1m-136 1h1m3 0h1m7 0h1m6 0h1m3 0h1m3 0h1m14 0h2m-29 1h1m3 0h1m23 0h1m40 0h1m9 0h1m-83 1h2m1 0h1m4 0h1m3 0h1m5 0h1m53 0h1m10 0h1m-95 1h1m6 0h1m17 0h1m18 0h1m15 0h1m33 0h2m15 0h1m-112 1h1m2 0h1m11 0h3m24 0h3m6 0h3m6 0h1m20 0h1m9 0h2m26 0h1m-112 1h1m6 0h3m2 0h1m3 0h1m18 0h1m16 0h1m29 0h1m3 0h1m-55 1h1m12 0h2m23 0h1m39 0h1m10 0h1m-126 1h1m2 0h1m6 0h1m5 0h1m19 0h1m3 0h1m9 0h2m32 0h2m39 0h2m-113 1h1m10 0h1m10 0h1m38 0h1m8 0h2m-78 1h1m7 0h1m7 0h1m23 0h1m1 0h3m2 0h1m3 0h1m15 0h1m50 0h1m-126 1h1m7 0h1m2 0h1m10 0h2m30 0h1m1 0h1m1 0h1m22 0h1m41 0h1m-124 1h1m48 0h1m4 0h1m4 0h2m19 0h1m2 0h2m37 0h1m-119 1h1m10 0h1m35 0h1m8 0h1m1 0h1m17 0h1m1 0h2m22 0h1m-102 1h1m44 0h2m1 0h1m6 0h1m3 0h3m4 0h1m3 0h1m29 0h1m16 0h1m-120 1h1m1 0h1m59 0h2m2 0h2m1 0h2m6 0h1m24 0h1m5 0h2m12 0h1m-129 1h1m3 0h1m2 0h1m6 0h1m31 0h2m23 0h4m1 0h1m1 0h1m20 0h1m12 0h1m11 0h1m2 0h1m-127 1h1m10 0h3m59 0h1m1 0h1m-64 1h1m21 0h1m8 0h1m28 0h1m50 0h2m1 0h1m-126 1h1m6 0h1m3 0h2m21 0h1m34 0h1m-28 1h1m26 0h1m-67 1h2m2 0h1m36 0h1m53 0h1m1 0h2m1 0h1m-99 1h1m7 0h1m18 0h1m68 0h1m21 0h1m-124 1h1m3 0h1m9 0h1m8 0h1m11 0h1m1 0h1m8 0h1m50 0h1m1 0h1m8 0h1m-108 1h1m6 0h1m37 0h1m52 0h1m9 0h1m-104 1h1m14 0h2m-17 1h1m14 0h1m1 0h1m6 0h1m1 0h1m2 0h1m5 0h1m6 0h1m2 0h1m47 0h1m-87 1h1m13 0h1m3 0h1m3 0h1m12 0h1m51 0h1m7 0h1m-82 1h1m22 0h1m40 0h1m15 0h2m-102 1h1m5 0h1m23 0h2m3 0h1m6 0h1m21 0h1m27 0h1m4 0h1m3 0h1m-95 1h1m13 0h1m1 0h1m11 0h1m15 0h1m11 0h1m3 0h1m17 0h1m6 0h1m4 0h1m8 0h1m-101 1h1m2 0h1m14 0h1m20 0h1m1 0h2m1 0h1m1 0h2m7 0h1m1 0h1m16 0h1m9 0h1m-64 1h1m2 0h2m3 0h1m12 0h1m4 0h1m1 0h1m1 0h2m10 0h1m5 0h2m3 0h1m2 0h1m6 0h1m1 0h1m-42 1h1m3 0h1m8 0h1m-59 1h1m4 0h1m16 0h1m8 0h1m12 0h1m1 0h1m-50 1h1m2 0h1m32 0h2m11 0h1m-45 1h1m4 0h1m8 0h2m55 0h2m15 0h1m-81 1h1m4 0h1m15 0h1m58 0h1m-60 1h2m2 0h1m43 0h1m8 0h1m-83 1h1m32 0h1m12 0h1m-23 1h2m8 0h1m6 0h1m-17 1h1m3 0h1m3 0h1m12 0h1m1 0h1m25 0h1m-74 1h1m2 0h2m36 0h1m7 0h1m23 0h1m-69 1h2m27 0h3m-24 1h1m6 0h1m25 0h1m1 0h2m24 0h1m1 0h1m-62 1h1m3 0h1m42 0h1m-48 1h1m3 0h1m4 0h1m-14 1h2m44 0h2m-36 1h1m3 1h1m-12 1h1m10 0h1m36 1h1m-28 1h1m20 0h1m-32 1h1m1 0h1m6 0h1m-13 1h1m18 0h2m2 0h1m1 0h1"/>
<path stroke="#65be86" d="M0 0m32 1h1m23 0h1m23 0h1m-46 1h1m12 0h3m38 0h1m-20 1h1m26 0h1m13 0h2m-77 1h1m8 0h1m31 0h1m17 0h1m1 0h1m7 0h1m1 0h1m7 0h1m-82 1h1m18 0h1m46 0h1m-77 1h1m34 0h1m3 0h2m11 0h1m38 0h1m-87 1h1m11 0h1m15 0h1m18 0h1m26 0h1m10 0h1m-84 1h1m5 0h1m16 0h1m5 0h1m7 0h1m-39 1h3m22 0h1m27 0h1m-56 1h1m26 0h1m6 0h1m3 0h1m7 0h1m19 0h1m-33 1h1m6 0h1m-8 1h1m8 0h1m18 0h1m21 0h1m4 0h1m-99 1h1m31 0h1m5 0h1m2 0h1m57 0h1m-65 1h1m9 0h2m49 0h1m-84 1h1m14 0h1m10 0h1m60 0h1m5 0h1m-53 1h1m7 0h1m46 0h1m-100 1h1m22 0h1m10 0h1m63 0h2m-99 1h1m3 0h1m14 0h1m69 0h1m2 0h1m-100 1h1m6 0h1m30 0h1m15 0h1m10 0h1m1 0h1m-42 1h1m7 0h1m16 0h2m-65 1h1m19 0h1m16 0h1m5 0h1m3 0h1m7 0h1m4 0h3m1 0h1m14 0h1m2 0h1m-35 1h1m15 0h1m18 0h1m5 0h1m1 0h1m-92 1h1m2 0h1m3 0h1m21 0h1m17 0h1m3 0h1m39 0h1m-90 1h1m9 0h1m31 0h1m19 0h1m-18 1h2m15 0h1m6 0h1m14 0h1m5 0h2m13 0h1m-110 1h1m37 0h2m39 0h1m14 0h1m9 0h1m8 0h1m-102 1h2m31 0h1m9 0h3m6 0h1m2 0h2m6 0h2m16 0h1m4 0h1m-98 1h1m3 0h1m23 0h1m3 0h1m9 0h1m2 0h1m11 0h1m19 0h1m19 0h1m15 0h1m-84 1h1m22 0h1m11 0h1m-22 1h1m21 0h1m16 0h1m31 0h1m-79 1h1m8 0h2m14 0h1m16 0h1m3 0h1m5 0h1m3 0h1m-68 1h3m2 0h1m11 0h2m17 0h1m17 0h1m4 0h1m7 0h1m1 0h1m14 0h1m2 0h1m-28 1h2m8 0h1m1 0h1m11 0h1m-69 1h1m25 0h1m16 0h2m29 0h1m-109 1h1m27 0h1m8 0h1m4 0h1m32 0h2m4 0h1m7 0h1m6 0h1m14 0h1m4 0h1m-102 1h1m57 0h5m3 0h1m15 0h1m7 0h1m-91 1h1m19 0h1m79 0h2m-120 1h1m20 0h1m13 0h1m4 0h1m20 0h1m29 0h1m3 0h2m23 0h1m-130 1h1m1 0h2m25 0h2m74 0h1m1 0h1m4 0h1m-105 1h1m19 0h1m13 0h1m9 0h1m12 0h1m5 0h1m15 0h1m12 0h1m-81 1h1m23 0h1m29 0h1m28 0h1m1 0h1m1 0h1m5 0h1m-107 1h1m16 0h1m2 0h3m33 0h1m8 0h1m33 0h1m4 0h2m2 0h1m5 0h1m-98 1h1m2 0h1m2 0h2m20 0h1m8 0h1m3 0h1m5 0h2m11 0h2m5 0h1m8 0h1m10 0h1m4 0h1m3 0h1m-125 1h1m8 0h1m1 0h1m19 0h1m23 0h1m7 0h1m2 0h3m39 0h1m7 0h1m5 0h1m-124 1h2m32 0h1m1 0h1m19 0h1m8 0h1m29 0h1m-87 1h1m33 0h1m1 0h1m46 0h2m18 0h1m3 0h1m8 0h1m12 0h1m-95 1h1m48 0h1m14 0h1m11 0h1m5 0h1m2 0h1m-119 1h1m100 0h1m-104 1h1m11 0h1m23 0h1m64 0h1m6 0h1m1 0h1m1 0h1m4 0h1m-118 1h1m1 0h1m93 0h1m20 0h1m-118 1h1m24 0h1m3 0h1m4 0h2m1 0h1m1 0h1m30 0h1m-79 1h1m17 0h2m3 0h1m18 0h3m2 0h1m1 0h1m28 0h1m18 0h1m13 0h1m5 0h1m3 0h1m-122 1h1m6 0h1m9 0h1m6 0h1m22 0h1m31 0h1m1 0h1m4 0h1m10 0h3m9 0h1m1 0h2m-107 1h1m11 0h1m4 0h1m54 0h1m6 0h1m2 0h2m22 0h1m4 0h3m9 0h1m-45 1h1m2 0h1m12 0h1m8 0h1m1 0h1m1 0h1m-64 1h1m35 0h1m32 0h1m1 0h1m-124 1h1m59 0h1m14 0h1m5 0h1m19 0h1m13 0h1m7 0h1m-116 1h1m8 0h3m48 0h3m2 0h1m1 0h1m1 0h2m2 0h1m3 0h1m3 0h2m21 0h1m8 0h2m-74 1h1m16 0h1m2 0h5m4 0h2m10 0h1m-61 1h2m33 0h1m1 0h2m9 0h2m10 0h1m30 0h1m-107 1h1m49 0h3m5 0h1m1 0h5m10 0h1m-85 1h1m58 0h1m10 0h3m7 0h1m17 0h1m19 0h1m9 0h1m-112 1h1m38 0h2m15 0h1m1 0h1m1 0h2m4 0h3m21 0h1m9 0h1m-101 1h1m22 0h1m64 0h1m10 0h2m-112 1h1m5 0h1m25 0h1m68 0h1m18 0h1m-130 1h1m39 0h1m4 0h1m82 0h1m1 0h1m-86 1h2m18 0h1m44 0h1m1 0h1m8 0h1m7 0h1m-84 1h2m16 0h3m52 0h1m4 0h1m4 0h1m3 0h1m-109 1h1m1 0h1m12 0h3m22 0h1m25 0h1m19 0h1m12 0h1m-128 1h1m17 0h1m25 0h1m77 0h1m3 0h1m11 0h1m-140 1h1m28 0h1m41 0h1m-59 1h1m8 0h1m73 0h2m-96 1h1m3 0h1m4 0h1m3 0h1m2 0h1m-18 1h1m45 0h2m78 0h3m-129 1h1m21 0h1m22 0h3m48 0h2m25 0h1m-114 1h1m6 0h1m27 0h2m50 0h2m31 0h1m-130 1h1m15 0h1m27 0h1m50 0h1m28 0h1m5 0h1m-123 1h1m53 0h1m70 0h1m-130 1h1m89 0h1m-90 1h1m2 0h1m6 0h1m5 0h1m35 0h2m64 0h3m3 0h1m4 0h1m-115 1h1m18 0h1m56 0h2m23 0h1m2 0h1m9 0h1m-131 1h1m1 0h1m5 0h1m26 0h1m82 0h1m4 0h1m-121 1h1m12 0h1m25 0h1m85 0h1m3 0h1m-134 1h1m7 1h2m16 0h1m1 0h1m64 0h1m-97 1h2m1 0h4m2 0h2m3 0h1m6 0h1m7 0h1m1 0h1m64 0h2m-93 1h1m3 0h1m5 0h1m13 0h1m67 0h1m-98 1h1m13 0h2m5 0h1m2 0h1m70 0h1m-97 1h2m14 0h1m9 0h1m1 0h1m67 0h2m-82 1h1m40 0h1m6 0h1m67 0h2m-122 1h1m3 0h2m29 0h1m-48 1h1m53 0h1m1 0h1m64 0h1m-118 1h2m4 0h1m3 0h1m39 0h1m3 0h1m-45 1h1m39 0h1m37 0h1m39 0h1m-77 1h2m1 0h3m3 0h1m-64 1h1m9 0h1m3 0h1m1 0h1m37 0h1m4 0h1m28 0h1m40 0h1m-108 1h1m9 0h1m27 0h1m8 0h1m-61 1h1m12 0h1m9 0h1m27 0h1m17 0h2m5 0h4m-83 1h2m66 0h1m6 0h1m2 0h2m41 0h1m-112 1h1m1 0h1m61 1h2m46 0h1m-125 1h1m10 0h1m11 0h1m49 0h1m-68 1h1m3 0h1m53 0h1m-64 1h1m3 0h2m1 0h2m3 0h1m31 0h1m60 0h1m-63 1h1m60 0h2m-62 1h1m-15 1h1m7 0h1m59 0h1m1 0h1m-76 1h1m8 0h1m3 0h1m-32 1h1m1 0h1m16 0h1m3 0h1m50 0h1m15 0h1m-73 1h1m2 0h2m70 0h1m-72 1h1m17 0h1m1 0h3m49 0h1m-94 1h1m21 0h1m5 0h2m13 0h1m48 0h1m8 0h1m-82 1h1m4 0h1m2 0h1m6 0h1m4 0h1m7 0h2m45 0h1m3 0h1m6 0h1m-104 1h1m17 0h1m1 0h1m1 0h1m4 0h1m13 0h1m3 0h1m14 0h1m28 0h3m9 0h1m-101 1h1m17 0h1m8 0h1m4 0h2m15 0h1m2 0h1m4 0h1m2 0h1m3 0h1m11 0h1m-73 1h1m10 0h1m2 0h2m1 0h1m12 0h1m9 0h1m1 0h2m15 0h1m-67 1h1m1 0h3m4 0h1m16 0h1m6 0h1m3 0h2m9 0h1m14 0h1m-63 1h1m3 0h1m4 0h1m11 0h1m4 0h1m4 0h3m14 0h1m-23 1h1m6 0h1m57 0h1m-56 1h1m-26 1h1m7 0h1m17 0h1m42 0h1m1 0h1m9 0h1m-87 1h1m2 0h1m3 0h1m67 0h1m-65 1h2m18 0h1m16 0h1m24 0h1m11 0h1m-2 1h1m-58 1h1m19 0h1m-12 1h1m13 0h1m-46 1h1m43 0h1m2 0h1m-28 1h1m-8 1h1m1 0h1m3 1h1m-6 1h1m8 0h1m-12 1h1m8 0h1m-9 1h2m8 0h1m4 1h1m-1 1h2m-4 1h1m6 1h2m21 0h1m-29 1h2m14 0h1m2 0h1m7 0h1m-29 1h1m13 0h1m1 1h1"/>
<path stroke="#71bf80" d="M0 0m30 0h1m26 0h1m-28 1h1m24 0h1m17 0h1m35 0h1m-77 1h1m54 0h1m-54 1h1m53 0h1m-55 2h1m27 0h1m2 0h1m3 0h1m30 0h1m1 0h1m9 0h1m1 0h2m-86 1h1m10 0h1m69 0h1m-59 1h1m4 0h1m9 0h1m46 0h2m-88 1h1m3 0h2m23 0h1m3 0h1m6 0h1m32 0h2m8 0h1m1 0h1m-87 1h1m29 0h1m6 0h1m49 0h1m-20 1h1m20 0h1m-67 1h1m4 0h1m35 0h1m7 0h1m12 0h1m3 0h1m-88 1h1m25 0h1m33 0h1m13 0h1m9 0h1m-84 1h1m29 0h1m32 0h1m20 0h1m-62 1h1m2 0h1m55 0h1m9 0h1m-76 1h1m-6 1h1m15 0h1m19 0h1m-15 1h1m3 0h1m2 0h1m-43 1h1m86 0h1m-95 1h1m-11 1h1m15 0h1m29 0h1m2 0h1m12 0h1m-67 1h1m1 0h1m43 0h1m13 0h1m20 0h1m29 0h1m-52 1h1m1 0h1m-18 1h1m18 0h2m24 0h2m-86 1h1m2 0h1m19 0h1m1 0h1m14 0h1m-13 1h1m15 0h1m-21 1h1m45 0h2m16 0h1m-61 1h1m27 0h1m24 0h1m5 0h1m16 0h1m-72 1h1m1 0h1m1 0h1m17 0h1m29 0h2m15 0h1m14 0h1m-127 1h1m1 0h1m29 0h1m4 0h1m15 0h2m14 0h1m-38 1h1m7 0h1m5 0h1m2 0h1m1 0h1m2 0h1m27 0h1m9 0h1m4 0h1m2 0h1m14 0h1m-85 1h1m3 0h1m8 0h1m1 0h2m3 0h1m51 0h1m9 0h1m1 0h1m-116 1h1m31 0h1m52 0h1m20 0h1m10 0h1m-113 1h1m27 0h1m51 0h1m10 0h3m1 0h1m13 0h1m-14 1h1m6 0h1m6 0h1m-107 1h1m36 0h1m7 0h1m33 0h1m27 0h1m2 0h1m-111 1h1m97 0h1m-99 1h1m97 0h1m1 0h1m10 0h1m-66 1h1m12 0h1m31 0h1m4 0h2m3 0h1m-104 1h1m47 0h1m44 0h1m2 0h1m1 0h1m13 0h1m-119 1h1m6 0h1m34 0h2m20 0h1m1 0h3m32 0h2m7 0h2m-15 1h1m-33 1h1m2 0h1m4 0h1m44 0h1m-115 1h1m55 0h1m1 0h1m41 0h1m2 0h2m8 0h1m-114 1h1m45 0h1m8 0h1m23 0h1m19 0h2m3 0h1m5 0h1m-79 1h1m65 0h1m1 0h1m6 0h1m5 0h2m-13 1h3m1 0h1m-118 1h1m33 0h1m89 0h2m-118 1h1m25 0h1m9 0h1m63 0h1m8 0h1m-98 1h1m13 0h1m73 0h1m-107 1h1m5 0h1m1 0h1m10 0h1m82 0h1m12 0h2m2 0h1m-101 1h1m25 0h1m57 0h1m12 0h1m-119 1h1m34 0h1m73 0h2m9 0h1m17 0h1m-115 1h1m21 0h1m43 0h1m-32 1h1m20 0h1m3 0h1m15 0h1m11 0h1m-112 1h1m16 0h1m81 0h1m11 0h1m9 0h1m-123 1h2m17 0h1m62 0h2m3 0h1m1 0h1m23 0h1m6 0h1m11 0h1m-132 1h1m17 0h1m69 0h1m31 0h1m-121 1h1m74 0h1m6 0h2m3 0h1m-72 1h1m1 0h1m54 0h1m2 0h1m3 0h4m28 0h1m8 0h1m-104 1h1m54 0h1m2 0h1m2 0h1m42 0h1m-105 1h1m60 0h1m6 0h1m34 0h1m-108 1h1m7 0h1m39 0h1m11 0h1m3 0h2m3 0h2m1 0h6m-88 1h2m75 0h1m9 0h1m29 0h1m9 0h1m-1 1h1m-128 1h1m5 0h1m119 0h1m-114 1h1m3 0h1m21 0h1m60 0h1m31 0h1m-120 1h1m75 0h1m30 0h1m-121 1h1m23 0h1m83 0h1m11 0h1m7 0h1m-67 1h1m60 0h1m3 0h1m-118 1h1m31 0h2m21 0h1m-54 1h1m29 0h2m77 0h1m6 0h1m-133 1h1m3 0h1m40 0h1m76 0h1m2 0h1m5 0h2m-88 1h2m48 0h1m26 0h1m3 0h1m-112 1h3m77 0h1m-96 1h1m132 0h1m-123 1h1m34 0h1m75 0h1m10 0h1m-126 1h1m4 0h2m6 0h1m103 0h1m-106 1h2m100 0h3m-113 1h1m110 0h1m2 0h1m2 0h2m-119 1h1m113 0h1m3 0h3m-129 1h1m3 0h1m7 0h1m41 0h1m69 0h1m-126 1h1m16 0h1m100 0h1m-119 1h1m4 0h1m2 0h1m-2 1h1m9 0h2m-13 1h1m15 0h1m4 0h1m-20 1h1m1 0h1m16 0h1m-32 1h1m11 0h1m7 0h1m-1 1h1m25 0h1m48 0h1m36 1h1m-86 1h1m-37 1h1m10 0h1m-10 1h1m2 0h1m-11 1h2m10 0h1m4 0h1m109 0h1m-128 1h1m11 0h1m3 0h1m-18 1h1m1 0h1m10 0h1m113 0h1m1 0h1m-129 1h1m16 0h2m106 1h1m-118 1h1m1 0h1m116 0h1m-130 1h1m70 0h1m13 0h1m-77 2h1m2 0h1m-9 1h1m120 1h2m-123 1h1m4 0h1m2 0h1m1 0h1m31 0h1m-39 1h1m6 0h1m-13 1h1m6 0h1m3 0h2m86 0h2m2 0h1m-92 1h2m91 0h1m-9 1h1m2 0h1m5 0h2m-100 1h1m99 0h1m-100 1h1m16 0h1m7 0h1m17 0h1m49 0h1m4 0h1m-96 1h1m21 0h1m-21 1h1m16 0h1m1 0h1m15 0h1m52 0h1m-89 1h1m12 0h1m24 0h1m47 0h1m-89 1h1m30 0h1m7 0h1m5 0h1m32 0h1m-80 1h1m26 0h1m34 0h1m1 0h1m13 0h2m8 0h1m-89 1h1m16 0h2m11 0h1m2 0h2m11 0h1m11 0h2m-54 1h1m11 0h1m6 0h1m4 0h1m5 1h1m12 0h3m-34 1h1m7 0h1m6 0h1m43 0h1m-77 1h2m88 0h1m-81 1h1m78 0h1m-80 1h1m24 0h1m40 0h1m1 0h1m-42 1h2m37 0h1m-41 1h1m2 0h2m-11 1h1m14 0h1m10 0h1m32 0h1m-49 1h1m1 0h1m3 0h2m1 0h1m4 0h2m32 0h1m-43 1h1m4 0h1m4 0h1m-39 2h1m8 0h1m-10 1h1m9 0h1m1 0h1m41 0h1m-57 1h1m3 0h1m8 0h2m2 2h1m-1 1h1m2 2h1m2 0h1m2 0h1m7 3h1m1 0h1m8 0h1m-10 1h1"/>
<path stroke="#7cbf7b" d="M0 0m40 0h1m-2 1h1m56 0h1m-59 1h1m48 0h1m8 1h1m11 0h1m-39 1h1m37 0h2m1 0h3m-81 1h1m40 0h2m30 0h2m4 0h1m-78 1h1m34 0h1m42 0h1m-59 1h1m10 0h3m-40 1h1m34 0h1m41 1h1m-53 1h1m3 0h1m2 0h1m34 0h1m11 0h1m-89 1h1m76 0h1m-78 1h1m26 0h3m61 0h1m-16 1h1m-79 1h1m28 0h1m12 1h1m55 0h1m1 0h1m-102 1h1m29 0h1m69 0h2m-103 1h1m11 1h1m3 0h1m96 0h1m-77 3h1m3 0h1m5 0h1m10 0h1m-63 2h1m60 0h1m-32 1h1m15 0h1m-48 1h1m11 0h1m25 0h1m-39 1h1m10 0h1m18 0h1m2 0h1m1 0h1m28 0h2m41 0h1m-80 1h1m2 0h1m2 0h2m27 0h1m11 0h3m15 0h2m12 0h1m2 0h1m-113 1h1m34 0h1m9 0h1m17 0h1m30 0h1m17 0h2m-75 1h1m3 0h2m68 0h1m-78 1h1m9 0h1m47 0h1m-84 1h1m16 0h1m3 0h1m13 0h1m34 0h1m18 0h1m1 0h2m-65 1h1m8 0h1m36 0h1m9 0h1m1 0h1m4 0h1m19 0h1m-77 1h1m37 0h1m17 0h1m10 0h1m-16 1h1m-91 1h1m110 0h1m-31 1h1m18 0h1m8 0h1m-110 1h1m33 0h2m60 0h1m-5 1h1m17 0h1m-94 1h1m84 0h1m6 1h2m-98 1h1m3 0h2m36 0h1m1 0h1m0 1h1m-2 1h2m37 0h2m3 0h1m-26 1h1m29 0h1m1 0h1m-15 1h1m1 0h1m2 0h1m3 0h1m-10 1h1m9 0h1m-86 1h2m72 0h1m6 0h1m-107 1h1m104 0h1m-108 1h1m1 0h1m109 0h1m4 0h1m12 0h1m-131 2h1m26 0h1m85 0h1m-114 1h1m16 0h1m20 0h2m76 0h1m-6 1h1m1 0h1m-102 1h1m80 0h1m-50 1h1m30 0h3m0 1h1m28 0h1m-33 1h1m4 0h1m31 0h1m-45 2h1m3 0h1m4 0h1m3 0h1m-24 1h1m9 0h1m4 0h1m7 0h1m32 0h1m-41 1h1m3 0h1m1 0h2m-7 1h1m38 0h1m-105 2h1m-4 1h1m107 0h1m-11 1h1m18 0h1m5 0h1m-16 1h1m13 0h1m-108 1h1m63 0h1m-80 1h1m13 0h1m93 0h1m1 0h1m7 1h1m-134 1h1m13 0h1m108 0h1m8 0h1m-119 1h1m2 0h1m29 0h1m77 1h1m-2 1h1m-108 1h1m-5 1h1m-3 1h1m118 0h1m2 0h2m-124 1h2m4 0h1m112 0h1m2 0h1m-122 1h1m2 0h1m1 0h1m105 0h1m5 0h1m2 0h2m-122 1h1m4 0h1m105 0h1m-112 1h3m109 0h1m3 0h1m-124 3h2m-4 1h2m17 0h1m-10 1h1m-1 1h1m7 0h1m9 0h1m-20 1h1m1 0h1m6 0h1m4 0h1m-23 1h1m6 0h1m3 0h1m-4 1h1m2 0h1m-1 1h1m-1 1h1m-9 2h1m-2 1h1m-2 1h1m108 0h1m19 1h1m-130 1h1m6 0h1m118 1h1m-116 1h1m-10 1h1m1 0h1m2 0h1m0 1h1m2 0h1m89 3h1m-90 1h1m94 0h1m-101 1h1m18 0h1m79 0h1m-98 1h1m6 0h1m9 0h1m76 0h1m3 0h1m2 0h1m-95 1h1m10 0h1m8 0h1m65 0h1m5 0h1m-97 1h1m1 0h1m20 0h1m67 0h1m1 0h1m-78 1h1m1 0h1m1 0h1m1 0h1m70 0h1m1 0h1m-97 1h1m91 0h1m1 0h2m-90 1h1m16 0h1m58 0h1m9 0h2m-90 1h1m77 0h1m-63 1h1m41 0h1m2 0h1m-36 1h2m33 0h1m23 0h1m-68 1h1m8 0h1m7 1h1m39 0h1m-58 1h1m12 1h2m-31 1h2m3 0h1m24 0h2m1 2h1m9 2h3m3 0h1m-11 1h1m1 0h1m8 0h1m-8 1h1m2 0h3m3 0h1m-36 1h1m8 1h1m-12 1h1m11 0h1m-9 1h1m-1 1h1m10 1h1m-1 1h1m0 1h2m3 1h1"/>
<path stroke="#87bf77" d="M0 0m33 3h2m1 0h1m59 1h1m13 0h1m3 2h1m-50 1h1m4 0h2m32 0h1m-50 1h3m4 0h1m2 0h2m39 0h1m-79 1h1m31 0h1m3 0h1m40 0h1m5 0h1m5 0h1m-98 1h1m35 0h2m37 0h1m13 0h1m3 0h1m3 0h1m-86 1h1m28 0h1m30 0h1m18 0h2m4 0h1m-99 1h1m101 0h1m-73 1h1m-2 1h1m1 0h1m-34 1h2m-4 1h2m-2 1h1m35 0h1m66 0h1m-90 1h1m98 0h1m-115 1h1m17 0h1m-1 1h1m40 2h2m26 0h1m-89 1h1m45 0h2m-51 1h3m44 0h1m-49 1h2m28 0h1m2 1h2m63 0h1m12 0h1m-112 1h1m65 0h1m43 0h1m-79 1h1m3 0h1m2 0h1m71 0h1m-76 1h1m1 0h1m3 0h1m2 0h2m51 0h2m12 0h1m-76 1h1m1 0h1m2 0h2m57 0h1m9 0h2m-17 1h2m14 0h1m-73 1h1m43 0h1m14 0h1m1 0h1m7 0h2m-64 1h1m66 0h2m-71 2h1m53 0h1m7 0h1m-100 1h1m93 1h1m12 0h1m-109 1h1m34 0h2m55 1h2m-37 2h1m30 0h1m5 0h1m-40 1h2m1 0h1m2 0h1m41 0h1m-83 2h1m54 0h1m20 0h3m3 0h1m7 0h1m-14 1h1m24 0h1m-104 1h1m73 0h1m14 0h1m-115 1h1m99 0h1m4 0h1m1 0h1m-118 1h1m118 0h1m1 0h1m16 0h1m-106 1h1m90 0h1m-6 1h1m2 1h1m-4 1h1m3 0h1m-77 1h1m34 1h2m30 0h1m6 0h2m-42 1h2m18 0h1m12 0h1m-31 1h2m-1 1h1m28 0h1m7 0h1m-37 1h2m-89 1h1m18 0h1m56 0h1m11 0h2m34 0h1m-125 1h1m75 0h1m6 0h3m2 0h2m-8 1h1m1 0h1m-3 1h2m40 0h1m-2 3h1m-108 2h1m117 0h1m-119 1h1m107 0h2m-108 1h1m-2 1h2m107 0h1m-110 1h1m1 0h1m105 0h2m-126 1h1m17 0h1m105 0h1m-125 1h1m14 0h1m108 0h1m8 0h1m-9 1h1m-105 1h1m106 0h1m4 0h1m-118 1h1m5 0h1m105 0h1m-119 1h1m1 0h2m7 0h1m-12 1h1m4 0h1m110 0h2m-118 1h1m11 0h1m102 0h2m7 0h1m-7 1h2m-7 1h1m-112 1h1m-3 1h2m110 0h1m-113 1h1m-6 1h1m5 0h1m-9 1h1m3 1h1m13 3h1m-9 1h1m-10 1h1m6 0h1m2 0h1m-4 1h1m3 0h1m-13 2h2m130 0h1m-131 2h2m8 1h1m-4 1h1m3 0h1m113 0h1m1 0h1m-2 1h1m-124 1h1m3 1h1m2 1h1m-9 2h2m4 0h1m-1 1h1m-1 1h1m24 0h2m68 0h1m-96 1h1m3 0h1m93 0h1m-92 1h1m18 0h1m68 0h1m3 0h1m1 0h1m-97 1h1m92 0h3m-93 1h2m90 0h2m-60 1h1m-18 1h1m0 1h1m65 1h1m-28 1h3m-44 1h1m-19 1h1m16 0h2m70 2h1m-13 2h1m-40 2h1m3 0h1m45 1h1m-38 1h1m2 1h1m-36 1h1m3 4h1m14 4h1m15 2h1m0 1h1"/>
<path stroke="#92bf73" d="M0 0m31 0h1m78 3h1m-8 3h1m4 0h1m-37 1h1m37 0h1m-39 1h2m37 0h1m4 0h1m-59 1h1m51 1h2m-81 1h1m0 1h1m60 0h1m-47 1h1m69 0h1m-67 1h1m64 0h1m-104 4h1m17 1h1m-20 1h1m-3 2h1m7 2h1m40 0h2m-20 1h1m75 1h1m-71 1h1m69 0h1m4 0h1m10 0h1m-84 1h1m53 0h1m1 0h1m2 1h1m8 0h1m-11 1h1m-61 1h1m1 0h1m1 0h1m51 0h1m14 0h1m-64 1h1m50 0h1m4 0h1m0 1h1m11 0h1m-13 1h1m-1 1h1m-6 1h1m4 0h1m2 0h1m8 0h1m-14 1h1m13 0h1m-2 1h2m-52 3h1m44 1h1m0 1h1m-86 1h1m29 0h1m59 0h1m-91 1h1m78 0h1m5 0h1m2 0h1m-90 1h1m88 0h1m-115 1h1m113 0h1m-91 1h1m88 0h2m-2 1h1m-3 1h1m1 0h1m-4 1h2m2 0h2m-44 3h1m32 2h1m-29 1h1m-1 2h1m-1 1h1m-3 1h2m37 0h1m-106 2h1m95 3h1m-1 1h1m23 0h1m-25 1h1m-99 1h1m107 1h1m-110 1h1m-5 1h1m-1 1h1m4 0h1m112 1h1m-114 1h1m112 0h1m-1 1h1m-114 1h1m110 0h1m-112 1h1m-6 1h1m122 1h1m-128 3h1m-4 5h1m5 1h1m1 0h1m8 0h1m111 6h1m-2 1h1m-2 2h2m-128 1h1m125 2h1m-125 1h1m103 4h1m-98 1h1m3 0h1m1 1h1m17 0h3m-24 1h1m20 0h1m-19 1h2m7 0h1m10 1h1m70 0h1m-90 1h1m-7 3h2m-1 1h1m-1 1h1m19 2h1m22 6h1m10 1h1m-8 1h1m-25 3h2m-5 1h1m19 6h1m-4 1h1m18 1h1"/>
<path stroke="#9cbf6f" d="M0 0m41 0h1m-4 1h1m-3 1h1m71 0h2m-75 2h1m22 4h1m12 0h1m-16 1h1m4 0h1m50 1h1m-3 1h1m6 3h1m-103 4h1m-5 2h1m30 5h2m-34 1h1m12 0h1m15 2h1m6 0h1m72 0h1m-71 1h2m54 0h2m13 0h1m-71 1h1m58 0h1m8 1h1m-64 1h1m53 1h1m2 0h1m11 1h2m-11 1h1m8 1h1m-17 1h1m1 0h1m6 0h1m7 0h1m-50 4h1m49 0h1m-8 2h1m0 1h1m1 1h1m-122 1h1m120 1h1m-113 1h1m113 1h1m-1 1h1m-4 3h1m-102 2h1m64 2h1m2 0h1m-88 1h1m84 2h1m-71 3h1m-12 2h1m120 7h1m-105 4h1m111 0h1m-5 1h1m-2 1h2m-114 1h1m111 0h1m-119 1h1m-1 1h1m3 8h1m7 0h1m111 7h1m-3 1h2m-2 4h1m-116 6h1m92 0h1m-2 1h2m-93 11h1m43 6h1m1 1h1"/>
<path stroke="#a5be6b" d="M0 0m31 1h1m72 4h1m-1 1h1m2 2h1m-1 1h2m-50 1h2m-1 1h1m31 1h1m20 1h3m1 2h1m-104 2h1m-1 1h1m-2 2h1m17 0h1m89 6h1m-82 2h1m64 0h1m0 2h1m11 0h1m-12 1h2m0 1h1m0 1h1m1 1h1m10 0h1m-15 1h1m14 0h2m-49 6h1m45 4h1m-1 2h1m-3 1h1m-122 4h1m17 8h2m-3 1h1m-2 3h1m1 4h1m105 2h1m-109 2h2m-6 8h1m-3 2h2m119 18h1m-22 7h1m-1 2h3m-96 7h1m48 10h1m-14 12h1"/>
<path stroke="#aebe67" d="M0 0m33 4h2m70 1h1m0 1h2m-50 1h1m50 0h1m-49 1h1m47 1h1m2 0h1m5 5h1m-107 4h1m27 9h2m77 2h1m-71 1h1m55 0h1m13 0h1m-71 1h1m61 3h1m0 1h1m-4 1h2m1 0h1m14 5h1m-8 2h1m0 1h1m-121 15h1m15 3h1m-1 3h1m-2 1h1m108 3h1m3 8h1m-118 4h1m1 7h1m-1 2h1m8 0h1m-4 18h1m-1 1h1m20 0h1m-23 9h1m42 7h1m-9 13h1m-1 1h1"/>
<path stroke="#b7bd64" d="M0 0m105 8h1m-49 1h1m52 0h1m2 2h1m-104 12h1m36 5h1m-2 1h1m62 5h1m1 1h1m-1 1h1m-3 1h1m12 9h1m-105 20h1m-1 1h1m-5 22h1m0 1h1m-1 1h1m120 5h1m-118 12h1m-1 1h1m35 30h1"/>
<path stroke="#c0bc60" d="M0 0m109 3h1m-4 4h2m5 2h1m0 3h1m-67 1h1m61 21h1m-1 1h1m-92 26h1m-2 4h1m-2 3h1m-6 14h1m121 14h1"/>
<path stroke="#c8bc5d" d="M0 0m105 6h1m7 6h1m9 34h1m-105 16h1m-2 2h1m-2 2h1"/>
<path stroke="#d1bb59" d="M0 0m105 7h1m2 1h1"/>
<path stroke="#d9ba56" d="M0 0m13 19h1m3 44h2"/>
<path stroke="#e1b952" d="M0 0m108 7h1m-91 54h1m-1 1h1m-2 5h1"/>
<path stroke="#e9b94e" d="M0 0m110 8h1m-99 11h1m4 45h1"/>
<path stroke="#f8bb44" d="M0 0m109 8h1"/>
<path stroke="#fad32a" d="M0 0m132 24h1m7 23h1m-1 12h1m-97 74h1m57 0h1m-58 1h1m55 0h1m-55 1h1m47 1h1m-39 3h2m1 0h1m1 0h1m6 0h1m10 1h3m6 0h3"/>
<path stroke="#f9fb0e" d="M0 0m37 0h3m4 0h2m1 0h2m3 0h5m2 0h46m3 0h3m2 0h2m-115 56h1m-1 9h1m-1 3h1m-1 7h1m-1 5h1m-1 2h1m-1 3h1m-1 3h1"/>
</g></svg>
<path d="M953.9 451.5v-5.4M953.9 17.2v5.4M879 77.26h5.4M1420.6 77.26h-5.4M1030.72 451.5v-5.4M1030.72 17.2v5.4M879 138.87h5.4M1420.6 138.87h-5.4M1107.55 451.5v-5.4M1107.55 17.2v5.4M879 200.47h5.4M1420.6 200.47h-5.4M1184.37 451.5v-5.4M1184.37 17.2v5.4M879 262.07h5.4M1420.6 262.07h-5.4M1261.19 451.5v-5.4M1261.19 17.2v5.4M879 323.67h5.4M1420.6 323.67h-5.4M1338.02 451.5v-5.4M1338.02 17.2v5.4M879 385.28h5.4M1420.6 385.28h-5.4M1414.84 451.5v-5.4M1414.84 17.2v5.4M879 446.88h5.4M1420.6 446.88h-5.4" stroke="#262626" stroke-width="1" fill="none" opacity=".75"/>
<rect x="879" y="17.2" width="541.6" height="434.3" fill="none" stroke="#262626" stroke-width="1" opacity=".55"/>
<text class="t" text-anchor="middle" x="953.9" y="487.9">20</text>
<text class="t" text-anchor="end" x="869.5" y="89.06">20</text>
<text class="t" text-anchor="middle" x="1030.72" y="487.9">40</text>
<text class="t" text-anchor="end" x="869.5" y="150.67">40</text>
<text class="t" text-anchor="middle" x="1107.55" y="487.9">60</text>
<text class="t" text-anchor="end" x="869.5" y="212.27">60</text>
<text class="t" text-anchor="middle" x="1184.37" y="487.9">80</text>
<text class="t" text-anchor="end" x="869.5" y="273.87">80</text>
<text class="t" text-anchor="middle" x="1261.19" y="487.9">100</text>
<text class="t" text-anchor="end" x="869.5" y="335.47">100</text>
<text class="t" text-anchor="middle" x="1338.02" y="487.9">120</text>
<text class="t" text-anchor="end" x="869.5" y="397.08">120</text>
<text class="t" text-anchor="middle" x="1414.84" y="487.9">140</text>
<text class="t" text-anchor="end" x="869.5" y="458.68">140</text>
<text class="l" text-anchor="middle" x="1149.8" y="525.8">Pixels</text>
<text class="l" text-anchor="middle" transform="translate(815 234.35) rotate(-90)">Pixels</text>
<rect x="1449" y="17.2" width="25.6" height="434.3" fill="url(#pg)" stroke="#262626" stroke-width="1" stroke-opacity=".6"/>
<text class="cb" x="1482.6" y="462.3">0</text>
<text class="cb" x="1482.6" y="317.17">500</text>
<text class="cb" x="1482.6" y="172.03">1000</text>
<text class="cb" x="1482.6" y="26.9">1500</text>
<path d="M1474.6 306.73h-4M1474.6 161.97h-4" stroke="#262626" stroke-width="1" fill="none" opacity=".8"/>
<text class="c" text-anchor="middle" x="1174.6" y="616.7" font-size="49"><tspan dy="-3.5">(</tspan><tspan class="b" font-size="53" dy="3.5" dx="0.4">b</tspan><tspan dy="-3.5" dx="0.4">)</tspan></text>
<!-- panel c -->
<svg class="hm" x="1667.4" y="17.2" width="541.6" height="434.3" viewBox="0 0 141 141" preserveAspectRatio="none" shape-rendering="crispEdges"><g transform="translate(0 .5)">
<rect y="-.5" width="141" height="141" fill="#352a87"/>
<path stroke="#07a9c2" d="M0 0m55 0h1m6 0h1m29 0h1m15 0h1m2 0h1m27 40h1m0 7h1m-141 11h1m-1 21h1m138 7h1m-76 54h1m8 0h1"/>
<path stroke="#0aacbe" d="M0 0m48 0h1m7 0h1m14 0h1m4 0h1m3 0h1m17 0h1m1 0h1m15 0h1m22 43h1m-139 4h1m138 3h1m-141 2h1m-1 3h1m139 1h1m-1 4h1m-1 1h1m-1 10h1m-141 3h1m139 1h1m-141 1h1m139 0h1m-1 2h1m-141 2h1m68 60h1m14 0h1m4 0h2"/>
<path stroke="#0faeb9" d="M0 0m30 0h1m6 0h1m1 0h1m23 0h1m1 0h1m6 0h1m5 0h2m14 0h1m-94 48h1m138 5h1m-1 1h1m-141 2h1m139 2h1m-141 5h1m-1 1h1m139 0h1m-141 2h1m-1 4h1m139 3h1m-141 4h1m-1 7h1m-1 3h1m138 0h1m-139 6h1m58 47h2m3 0h1m4 0h1m1 0h1m1 0h1m3 0h1m9 0h1"/>
<path stroke="#15b1b4" d="M0 0m32 0h1m1 0h1m5 0h2m1 0h2m1 0h1m3 0h2m2 0h1m18 0h1m3 0h1m3 0h2m3 0h1m14 0h1m1 0h1m5 0h2m-109 44h1m-2 5h1m138 2h1m-141 2h1m139 2h1m-1 2h1m-141 3h1m139 2h1m-141 3h1m139 2h1m-141 2h1m139 3h1m-1 10h1m-2 1h1m-138 11h1m64 46h1m9 0h1"/>
<path stroke="#1db3af" d="M0 0m31 0h1m1 0h1m4 0h1m14 0h1m4 0h1m5 0h1m4 0h1m5 0h1m9 0h1m9 0h1m8 0h1m7 0h2m25 44h1m-139 1h1m-2 12h1m-1 4h1m-1 11h1m139 7h1m-2 6h1m-139 5h1m60 50h1"/>
<path stroke="#25b5a9" d="M0 0m42 0h1m2 0h1m3 0h1m2 0h1m4 0h1m1 0h1m1 0h1m12 0h1m14 0h1m7 0h1m1 0h1m5 0h1m33 41h1m-139 5h1m138 2h1m-140 2h1m-1 1h1m-2 24h1m-1 3h1m139 2h1m-141 1h1m138 3h1m-140 4h1m0 1h1m-1 2h1m78 49h2m4 0h1"/>
<path stroke="#2eb7a4" d="M0 0m35 0h2m31 0h1m1 0h1m12 0h2m2 0h2m1 0h1m2 0h1m2 0h1m5 0h1m3 0h2m6 0h1m24 45h1m-1 1h1m0 3h1m-141 5h1m-1 5h1m139 6h1m-141 2h1m-1 1h1m139 0h1m-141 14h1m-1 1h1m-1 2h1m-1 1h1m0 8h1m57 46h1m6 0h1m1 0h1m2 0h1m3 0h1m3 0h1m2 0h1"/>
<path stroke="#38b99e" d="M0 0m47 0h1m12 0h1m5 0h2m23 0h1m23 0h1m23 42h1m0 10h1m-1 7h1m-141 3h1m139 1h1m-1 3h1m-1 3h1m-1 1h1m-141 1h1m-1 2h1m139 1h1m-1 3h1m-1 4h1m-140 11h1m61 48h1m12 0h1m6 0h1m1 0h1m1 0h1m3 0h1"/>
<path stroke="#42bb98" d="M0 0m119 3h1m17 83h1m-76 47h1m4 1h1m-4 1h2m5 0h2"/>
<path stroke="#4dbc92" d="M0 0m39 11h1m-2 5h1m-14 17h1m110 51h1m-1 1h1m-1 1h1m-8 7h1m0 1h1m-1 1h1m-1 1h1m-2 1h1m-10 24h1m-58 12h1m10 0h1m-7 1h1m3 0h1m-6 1h1m2 0h1m1 1h1"/>
<path stroke="#59bd8c" d="M0 0m119 2h1m0 1h1m-1 1h2m-1 1h1m-32 1h1m-54 7h1m0 2h1m0 1h1m86 5h1m-17 50h2m-2 1h2m23 12h1m1 0h1m-1 1h1m-99 1h1m97 1h1m-99 6h1m88 0h1m0 1h1m-1 1h1m-5 1h1m3 0h1m-2 1h1m-87 1h1m86 6h1m-2 1h2m-105 2h2m92 14h1m-1 1h2m-85 6h1m-4 1h2m25 3h1m6 1h1m5 0h1m1 0h2m-15 1h1m3 0h1m2 0h1m3 0h2m1 0h2m-12 1h1m1 0h2m-2 1h1m1 0h2"/>
<path stroke="#65be86" d="M0 0m117 1h1m0 2h1m-78 7h1m-4 2h1m3 2h1m-3 1h1m-1 1h1m-4 2h1m92 0h1m-5 2h1m-2 1h1m1 1h1m-102 8h2m-2 1h1m-1 2h1m84 36h2m-12 1h1m8 0h1m1 2h1m-58 1h1m55 0h2m-1 1h1m-2 1h2m-78 3h1m1 0h1m-3 1h1m1 1h1m-1 1h1m98 2h2m0 2h1m-100 2h1m96 0h1m-100 1h4m-1 1h1m-1 3h1m88 0h1m0 1h2m-1 1h1m-91 1h2m83 0h3m-88 1h2m83 0h3m-86 1h1m86 0h1m-88 1h1m85 0h1m-88 1h1m81 0h1m4 0h1m-87 1h1m84 3h1m-1 1h1m1 0h1m-107 3h1m102 0h1m-103 1h1m48 3h2m-59 6h3m102 0h1m-9 1h1m4 0h1m-99 1h1m95 0h1m-3 1h1m1 0h4m-32 1h1m27 0h2m2 0h1m-39 1h2m31 0h2m-2 1h1m1 0h1m-84 5h1m63 0h1m-65 1h2m62 0h1m-66 1h1m1 0h2m71 0h1m-73 1h1m23 1h2m-4 1h3m2 0h2m2 0h1m8 0h2m-28 1h1m9 0h1m1 0h3m4 0h2m9 0h1m-31 1h1m11 0h1m9 0h1m3 0h1m1 0h2m-17 1h1m2 0h1m1 0h1m3 0h1m3 0h3m-12 1h3m6 0h1"/>
<path stroke="#71bf80" d="M0 0m116 1h1m1 1h1m-81 2h2m50 0h1m28 0h1m-81 1h1m51 1h1m3 0h1m-58 5h1m2 0h1m-4 2h1m2 0h2m-2 1h1m-1 1h2m-2 1h1m-5 1h4m83 2h1m6 0h1m-7 1h1m5 0h1m-4 2h1m-107 9h2m-9 1h1m9 0h1m3 0h1m-15 1h1m8 0h1m2 0h1m1 0h1m-5 1h4m105 10h2m-105 1h1m-27 10h1m24 2h1m10 2h2m-3 2h1m-2 1h2m-37 1h1m93 1h2m-62 1h1m59 0h3m2 0h1m-66 1h1m1 0h1m59 0h1m20 0h1m-82 1h1m59 0h1m-1 1h1m-1 1h2m7 0h2m-73 1h1m16 0h1m53 0h1m1 0h2m-80 1h1m4 0h1m16 0h2m8 0h1m43 0h1m2 0h1m-75 1h2m14 0h3m7 0h3m46 0h1m-76 1h2m14 0h1m1 0h2m6 0h3m43 0h1m8 0h1m-82 1h1m15 0h3m6 0h3m21 0h1m22 0h2m-76 1h3m47 0h3m12 0h1m11 0h1m-61 1h1m14 0h2m17 0h1m13 0h2m7 0h2m6 0h1m-84 1h1m2 0h1m31 0h2m3 0h1m34 0h2m-76 1h1m1 0h1m30 0h2m9 0h2m20 0h1m4 0h1m3 0h1m-79 1h2m1 0h3m13 0h2m15 0h1m4 0h1m7 0h1m11 0h1m6 0h2m-70 1h4m15 0h2m16 0h4m8 0h1m1 0h1m8 0h2m6 0h1m10 0h1m-75 1h1m31 0h3m9 0h3m8 0h2m6 0h2m34 0h1m-102 1h4m22 0h1m12 0h1m1 0h1m4 0h2m8 0h1m9 0h1m33 0h2m-100 1h2m34 0h1m2 0h1m14 0h1m9 0h2m31 0h1m-98 1h2m10 0h1m19 0h1m2 0h1m18 0h1m8 0h2m35 0h1m-101 1h2m24 0h1m5 0h1m24 0h1m5 0h2m2 0h1m29 0h1m-98 1h1m1 0h1m24 0h1m2 0h1m1 0h2m13 0h1m52 0h1m-102 1h2m1 0h1m20 0h1m9 0h3m31 0h1m-65 1h1m18 0h2m43 0h1m31 0h1m-103 1h1m1 0h2m2 0h1m19 0h1m9 0h1m65 0h1m-98 1h2m30 0h3m2 0h1m59 0h2m-99 1h1m11 0h1m20 0h4m-40 1h3m1 0h1m32 0h4m52 0h2m5 0h1m-98 1h2m33 0h5m-42 1h5m32 0h4m48 0h2m-86 1h1m33 0h2m52 0h1m-92 1h1m2 0h1m-3 1h2m82 0h1m-85 1h1m82 0h1m3 0h1m1 0h1m-88 1h3m50 0h1m33 0h1m-99 1h1m12 0h1m10 0h1m14 0h1m23 0h2m3 0h2m22 0h2m3 0h1m-87 1h1m50 0h2m4 0h1m28 0h1m-71 1h2m2 0h1m23 0h2m5 0h1m34 0h1m-105 1h1m32 0h2m6 0h1m19 0h4m8 0h1m28 0h1m1 0h1m-71 1h1m25 0h1m1 0h1m2 0h1m6 0h1m-38 1h1m20 0h1m-58 1h2m41 0h1m59 0h1m1 0h1m-61 1h4m8 0h1m-15 1h1m1 0h1m4 0h1m52 0h1m-103 1h1m1 0h1m39 0h5m-4 1h4m-2 1h1m2 0h1m-49 1h2m45 0h3m-48 1h1m-12 3h1m6 0h1m-1 1h1m77 0h1m17 0h1m-103 1h1m3 0h1m3 0h1m74 0h2m20 0h1m-103 1h1m9 0h1m87 0h2m1 0h1m-80 1h1m20 0h1m52 0h1m-74 1h1m39 0h2m2 0h2m26 0h1m-72 1h1m37 0h1m2 0h2m28 0h1m2 0h1m-75 1h1m37 0h3m32 0h1m1 0h1m-73 1h1m37 0h1m30 0h1m-34 1h1m29 2h1m-77 1h1m74 0h1m-15 1h1m-64 1h1m2 0h1m36 0h2m2 0h1m-42 1h1m18 0h5m17 0h1m29 0h1m-51 1h1m3 0h3m4 0h1m3 0h1m6 0h1m19 0h1m-36 1h1m2 0h1m2 0h1m8 0h2m-8 1h1m2 0h3m1 0h1m-31 1h1m8 0h2m11 0h3m5 0h1m-32 1h1m13 0h1m8 0h3m3 0h1m15 0h2m1 0h2m-25 1h1m20 0h1"/>
<path stroke="#7cbf7b" d="M0 0m41 2h1m17 0h1m23 0h2m32 0h1m-77 1h1m17 0h2m21 0h1m2 0h2m4 1h1m1 0h1m24 0h1m-33 1h1m3 0h1m4 0h1m24 0h1m1 0h1m-34 1h1m6 0h1m24 0h1m-97 3h1m-4 1h1m1 0h1m15 1h1m-2 1h1m3 0h1m-15 1h1m6 0h1m3 1h1m2 0h1m-5 1h1m-3 1h1m4 0h1m-24 1h1m7 0h1m72 1h1m-65 1h2m87 0h1m4 0h1m-96 1h1m9 0h1m38 0h2m44 0h1m-47 1h1m-2 1h1m42 0h1m0 1h1m-97 3h2m-8 1h1m103 0h1m-114 2h2m-1 1h1m4 0h1m-7 1h1m18 0h1m-20 1h1m9 0h1m-13 1h1m13 0h1m1 0h1m105 0h1m-108 1h1m106 0h1m-111 2h1m-15 4h1m120 3h2m-113 1h1m109 0h1m-1 1h4m-116 1h2m111 0h1m2 0h1m-117 1h1m113 0h1m-103 1h1m-26 1h1m39 0h1m-30 1h1m34 0h1m80 0h2m1 1h1m-132 1h1m130 0h1m-121 1h1m26 0h2m49 0h1m-52 1h1m51 0h2m39 0h1m-122 1h1m26 0h2m-3 1h2m5 0h1m-9 1h2m-38 1h1m35 0h2m56 0h1m28 1h1m-118 1h1m11 0h1m17 0h2m85 0h1m-90 1h1m1 0h1m14 0h1m63 0h2m8 0h1m7 0h2m-126 1h1m28 0h1m12 0h1m3 0h1m58 0h1m-91 1h1m7 0h1m2 0h1m14 0h1m1 0h2m39 0h3m-72 1h1m4 0h1m1 0h3m1 0h1m13 0h2m1 0h2m1 0h1m36 0h1m2 0h1m2 0h1m15 0h1m-87 1h4m2 0h1m16 0h2m29 0h1m9 0h1m4 0h1m16 0h1m-87 1h1m5 0h1m1 0h1m12 0h3m10 0h1m15 0h4m11 0h2m1 0h1m18 0h1m1 0h1m-85 1h2m14 0h4m8 0h1m17 0h3m3 0h1m8 0h1m1 0h1m8 0h2m10 0h1m-70 1h2m5 0h2m4 0h2m15 0h3m3 0h2m10 0h2m6 0h3m-77 1h4m15 0h2m2 0h4m3 0h2m15 0h5m12 0h1m2 0h1m-76 1h1m5 0h3m1 0h1m1 0h1m14 0h1m1 0h6m2 0h3m9 0h1m4 0h1m2 0h5m10 0h2m1 0h1m-66 1h1m1 0h1m14 0h1m2 0h1m3 0h4m1 0h2m9 0h1m2 0h1m4 0h2m1 0h2m11 0h2m10 0h1m-81 1h1m8 0h1m10 0h1m3 0h2m4 0h1m3 0h2m7 0h4m6 0h3m12 0h2m6 0h1m9 0h1m2 0h1m-96 1h1m5 0h1m9 0h1m9 0h1m4 0h6m3 0h3m2 0h8m6 0h4m10 0h1m6 0h1m5 0h1m7 0h1m-95 1h2m6 0h3m1 0h2m1 0h2m9 0h1m3 0h4m1 0h1m3 0h12m2 0h2m4 0h1m1 0h2m10 0h2m7 0h1m3 0h1m4 0h2m-90 1h1m4 0h1m3 0h1m2 0h1m10 0h4m1 0h2m2 0h11m1 0h9m6 0h6m5 0h1m1 0h1m5 0h3m7 0h1m-86 1h7m11 0h2m1 0h3m4 0h7m2 0h13m3 0h1m1 0h2m2 0h1m2 0h2m3 0h1m5 0h1m1 0h2m2 0h1m-84 1h1m3 0h2m1 0h2m1 0h2m10 0h4m7 0h8m2 0h3m1 0h8m2 0h3m5 0h2m4 0h1m2 0h1m2 0h1m2 0h1m2 0h1m5 0h1m20 0h1m-108 1h3m4 0h2m8 0h2m3 0h1m8 0h6m2 0h9m2 0h5m7 0h2m4 0h2m1 0h1m2 0h1m2 0h2m1 0h1m-74 1h2m8 0h3m2 0h4m4 0h4m1 0h2m1 0h4m1 0h7m1 0h4m6 0h1m1 0h1m7 0h1m2 0h1m5 0h1m5 0h1m-81 1h1m1 0h1m1 0h1m6 0h3m2 0h2m1 0h2m2 0h5m1 0h3m4 0h8m1 0h1m1 0h3m7 0h1m4 0h1m1 0h1m3 0h1m-105 1h1m31 0h3m2 0h2m8 0h6m6 0h3m1 0h5m3 0h9m3 0h3m4 0h1m2 0h1m4 0h1m7 0h2m2 0h1m3 0h2m18 0h1m-97 1h1m3 0h1m5 0h5m4 0h1m1 0h1m1 0h12m1 0h1m1 0h4m2 0h4m3 0h1m1 0h2m6 0h1m1 0h1m1 0h2m3 0h1m7 0h1m-84 1h1m4 0h1m9 0h1m1 0h3m5 0h6m1 0h7m1 0h2m1 0h1m1 0h10m3 0h2m6 0h1m3 0h1m4 0h3m5 0h1m19 0h1m-104 1h3m2 0h1m8 0h1m1 0h1m1 0h1m5 0h1m1 0h9m1 0h2m1 0h13m4 0h1m1 0h1m9 0h3m4 0h3m4 0h1m14 0h1m-97 1h2m2 0h1m9 0h2m1 0h1m5 0h5m1 0h5m1 0h5m2 0h9m2 0h1m1 0h4m8 0h1m6 0h2m20 0h1m-97 1h2m6 0h1m5 0h1m2 0h1m4 0h1m1 0h5m1 0h2m1 0h1m2 0h11m1 0h1m1 0h1m1 0h3m2 0h3m5 0h1m3 0h1m3 0h3m19 0h1m3 0h1m-95 1h3m5 0h3m5 0h4m1 0h9m3 0h5m1 0h7m1 0h3m1 0h3m7 0h1m4 0h4m-76 1h2m5 0h1m7 0h1m7 0h2m2 0h2m1 0h10m2 0h15m14 0h5m25 0h1m-104 1h2m1 0h1m2 0h1m2 0h1m16 0h2m1 0h2m1 0h6m1 0h4m1 0h6m4 0h5m13 0h1m25 0h1m-98 1h1m4 0h1m11 0h1m7 0h5m3 0h5m3 0h2m1 0h3m6 0h2m2 0h1m8 0h1m8 0h1m1 0h1m15 0h1m3 0h1m-96 1h2m1 0h1m1 0h1m9 0h1m8 0h3m4 0h6m4 0h4m5 0h2m3 0h1m9 0h3m4 0h1m2 0h1m14 0h2m8 0h2m-102 1h1m13 0h1m1 0h1m9 0h1m4 0h7m4 0h3m2 0h1m2 0h2m9 0h2m1 0h3m11 0h1m11 0h3m7 0h1m-100 1h2m29 0h7m5 0h2m7 0h1m7 0h3m3 0h1m22 0h2m9 0h1m-124 1h1m21 0h2m14 0h1m17 0h5m4 0h2m7 0h2m8 0h2m12 0h1m13 0h1m10 0h1m-124 1h1m23 0h3m11 0h2m1 0h1m8 0h1m7 0h5m2 0h2m19 0h1m9 0h3m12 0h1m-87 1h1m14 0h1m18 0h10m15 0h1m12 0h1m-76 1h1m2 0h2m3 0h3m7 0h2m9 0h1m8 0h2m1 0h2m19 0h1m2 0h3m7 0h1m-72 1h1m3 0h1m9 0h2m9 0h1m30 0h1m28 0h1m-88 1h1m17 0h1m9 0h1m1 0h2m22 0h1m7 0h1m24 0h1m2 0h1m5 0h1m-104 1h1m10 0h1m1 0h1m1 0h1m8 0h1m1 0h1m8 0h2m2 0h1m15 0h1m2 0h2m3 0h1m2 0h1m1 0h1m28 0h1m-85 1h3m10 0h2m1 0h4m6 0h2m1 0h1m1 0h1m12 0h3m2 0h1m2 0h1m2 0h1m1 0h1m23 0h1m-104 1h2m4 0h1m19 0h1m8 0h2m2 0h2m2 0h8m2 0h2m9 0h1m2 0h2m2 0h1m1 0h1m2 0h3m15 0h1m6 0h1m6 0h1m-107 1h1m9 0h1m10 0h1m1 0h2m4 0h2m5 0h1m1 0h2m1 0h1m1 0h2m1 0h1m5 0h1m6 0h3m4 0h4m3 0h1m25 0h2m1 0h1m3 0h2m-110 1h3m9 0h1m9 0h1m8 0h2m3 0h1m1 0h1m2 0h6m13 0h1m1 0h1m1 0h1m1 0h2m1 0h2m3 0h1m1 0h1m27 0h2m-105 1h2m31 0h2m1 0h1m1 0h4m2 0h1m14 0h1m2 0h2m1 0h3m6 0h1m29 0h1m2 0h1m1 0h1m-77 1h2m2 0h1m1 0h3m1 0h1m1 0h1m1 0h3m8 0h1m1 0h1m4 0h2m19 0h1m18 0h1m-72 1h2m3 0h7m6 0h1m4 0h1m1 0h3m40 0h2m2 0h2m-107 1h1m1 0h1m30 0h2m5 0h1m1 0h1m1 0h1m1 0h4m1 0h1m4 0h2m3 0h1m42 0h1m-105 1h1m1 0h1m24 0h1m20 0h4m4 0h2m-31 1h2m14 0h1m4 0h7m1 0h1m2 0h1m35 0h1m-95 1h1m42 0h1m2 0h2m3 0h3m-52 1h1m42 0h2m3 0h1m9 0h3m-63 1h2m1 0h1m42 0h2m2 0h1m15 0h2m-79 1h2m12 0h1m-4 1h1m2 0h1m-12 1h3m2 0h1m8 0h2m53 0h1m15 0h2m18 0h1m-103 1h1m1 0h1m2 0h1m33 0h2m22 0h1m1 0h2m28 0h1m-98 1h1m11 0h1m51 0h3m3 0h1m26 0h1m1 0h2m2 0h1m-80 1h1m20 0h1m17 0h2m1 0h1m31 0h1m5 0h1m-102 1h1m3 0h1m17 0h1m18 0h1m18 0h1m5 0h1m1 0h1m24 0h1m6 0h1m-80 1h1m20 0h2m8 0h1m4 0h1m1 0h3m2 0h2m3 0h1m23 0h1m1 0h1m-39 1h1m8 0h1m3 0h1m11 0h1m9 0h2m-70 1h2m38 0h2m28 0h1m-70 1h1m35 0h1m1 0h1m3 0h2m27 0h1m-36 1h1m1 0h2m28 0h1m-32 1h1m30 0h1m-78 1h1m63 0h1m-68 1h1m6 0h2m1 0h1m52 0h2m1 0h1m9 0h1m-79 1h1m4 0h1m21 0h1m37 0h1m2 0h1m7 0h2m-52 1h2m3 0h1m14 0h1m18 0h2m9 0h1m-47 1h2m10 0h3m1 0h1m1 0h1m29 0h1m-53 1h1m7 0h2m3 0h1m1 0h1m1 0h2m3 0h1m19 0h1m-50 1h1m18 0h1m20 0h1m8 0h2m-50 1h1m6 0h1m40 0h1m-51 1h1m27 0h1m2 0h1m18 0h1m-49 1h1m10 0h1m-5 1h1m5 0h1m5 0h2m2 0h1m7 0h1m12 0h1m1 0h1m-32 1h3m-9 1h1"/>
<path stroke="#87bf77" d="M0 0m43 1h1m68 0h1m2 0h1m-74 1h2m16 0h1m15 1h1m2 0h1m4 0h1m4 0h2m-32 1h2m15 0h1m9 0h4m4 0h1m-40 1h1m31 0h1m3 0h1m1 0h1m2 0h1m22 0h1m-32 1h1m5 0h1m24 0h1m-32 1h1m1 0h2m1 0h1m-69 1h1m64 0h1m2 0h2m-46 1h2m-12 1h1m44 1h1m-48 1h1m3 0h1m-2 1h1m2 0h1m32 0h1m-57 1h1m13 0h1m1 0h3m-19 1h1m12 0h3m47 0h1m9 1h1m10 0h1m-85 1h1m5 0h1m9 0h1m4 0h1m41 0h1m9 0h3m2 0h1m2 0h1m-66 1h1m1 0h1m28 0h1m14 0h2m17 0h1m4 0h2m1 0h1m19 0h1m-95 1h1m31 0h1m14 0h2m15 0h2m27 0h2m-94 1h1m65 0h1m20 0h1m-2 1h2m3 0h1m-44 1h1m40 0h1m0 1h1m1 0h3m-105 1h1m20 0h1m2 0h1m-22 1h2m79 0h1m-85 1h1m3 0h1m-2 1h2m62 0h1m-76 2h1m8 0h2m-11 1h2m3 0h1m1 0h1m-11 1h1m9 0h1m-12 1h1m12 0h2m1 0h1m103 0h1m-122 1h1m6 0h3m-1 1h1m112 0h1m-110 1h2m102 0h1m-104 1h1m-16 1h1m32 0h1m-2 1h2m-2 1h1m76 0h1m11 0h1m-13 1h1m11 0h1m-1 2h1m-118 1h1m5 0h2m7 1h1m99 0h1m1 0h1m2 0h1m-123 1h1m5 0h1m1 0h1m7 0h1m9 0h2m7 0h4m-4 1h1m82 0h1m1 0h2m-117 1h1m7 0h1m1 0h1m3 0h2m14 0h1m3 0h1m82 0h1m-130 1h1m9 0h1m13 0h1m102 0h1m-120 1h1m2 0h1m35 0h2m5 0h1m72 0h3m-85 1h1m-13 1h1m10 0h4m79 0h1m-128 1h1m9 0h1m26 0h2m5 0h1m1 0h1m17 0h1m23 0h2m41 0h1m-133 1h1m8 0h2m33 0h2m1 0h1m42 0h1m-81 1h2m16 0h1m2 0h1m5 0h1m1 0h1m2 0h4m22 0h2m19 0h1m32 0h1m6 0h1m2 0h1m-135 1h1m33 0h1m9 0h2m1 0h2m2 0h2m13 0h2m24 0h3m30 0h1m7 0h3m-124 1h1m24 0h1m2 0h1m3 0h1m1 0h1m45 0h2m-69 1h1m1 0h1m8 0h1m2 0h1m4 0h2m4 0h2m1 0h1m39 0h1m8 0h1m21 0h2m8 0h1m-123 1h1m13 0h1m8 0h2m2 0h2m18 0h3m31 0h2m1 0h1m5 0h2m19 0h2m-118 1h1m10 0h1m3 0h1m2 0h1m10 0h1m2 0h2m1 0h1m16 0h2m42 0h1m-96 1h1m14 0h1m1 0h2m7 0h3m2 0h2m10 0h4m1 0h1m46 0h1m12 0h1m16 0h3m-135 1h1m21 0h1m16 0h2m3 0h1m5 0h1m1 0h4m1 0h2m37 0h1m17 0h1m17 0h1m-134 1h1m8 0h1m12 0h1m2 0h1m7 0h2m2 0h2m1 0h1m6 0h1m3 0h1m1 0h3m7 0h1m5 0h1m22 0h5m15 0h1m1 0h1m1 0h1m-118 1h1m10 0h1m13 0h1m1 0h1m7 0h2m1 0h1m1 0h1m6 0h2m1 0h2m1 0h1m2 0h2m6 0h3m26 0h2m3 0h2m6 0h1m6 0h1m1 0h2m9 0h1m-102 1h1m1 0h1m2 0h1m1 0h1m3 0h1m10 0h1m2 0h1m2 0h1m2 0h1m1 0h1m6 0h2m7 0h1m2 0h1m3 0h1m1 0h2m1 0h2m5 0h1m4 0h2m6 0h2m6 0h2m2 0h1m7 0h1m-93 1h1m2 0h2m12 0h2m2 0h4m3 0h1m1 0h2m7 0h2m5 0h4m1 0h3m5 0h1m4 0h1m6 0h1m1 0h1m9 0h3m-89 1h4m14 0h2m3 0h4m1 0h5m1 0h1m3 0h2m1 0h2m1 0h2m2 0h1m4 0h4m5 0h2m4 0h3m4 0h2m6 0h1m-85 1h1m2 0h2m3 0h1m9 0h1m1 0h1m4 0h8m1 0h2m3 0h2m4 0h3m2 0h1m3 0h3m1 0h3m4 0h1m5 0h1m15 0h1m-94 1h1m5 0h1m1 0h6m1 0h1m12 0h5m2 0h4m2 0h1m2 0h1m2 0h6m1 0h2m3 0h3m8 0h3m4 0h2m6 0h1m-86 1h1m4 0h3m4 0h1m2 0h1m9 0h2m2 0h2m4 0h3m2 0h1m3 0h1m2 0h5m2 0h1m5 0h6m5 0h1m5 0h2m1 0h1m-80 1h1m3 0h1m3 0h1m4 0h1m10 0h2m8 0h2m3 0h4m1 0h4m1 0h4m1 0h2m5 0h1m1 0h2m5 0h1m7 0h3m-82 1h2m3 0h1m1 0h3m3 0h2m1 0h3m4 0h4m4 0h3m7 0h9m1 0h2m1 0h4m2 0h1m3 0h2m5 0h3m7 0h1m11 0h1m-112 1h1m10 0h1m11 0h1m1 0h1m2 0h1m2 0h2m1 0h2m5 0h3m6 0h4m6 0h7m4 0h3m2 0h1m3 0h4m6 0h2m2 0h3m2 0h1m5 0h1m5 0h1m16 0h1m-129 1h1m18 0h1m6 0h1m1 0h1m2 0h3m1 0h2m4 0h3m17 0h2m8 0h3m2 0h1m4 0h1m2 0h1m5 0h1m1 0h2m1 0h3m2 0h1m8 0h1m1 0h1m1 0h1m-93 1h4m7 0h1m2 0h1m4 0h4m8 0h1m16 0h2m2 0h4m4 0h1m1 0h3m7 0h2m1 0h1m1 0h2m5 0h1m22 0h1m-112 1h4m1 0h4m6 0h1m1 0h1m6 0h3m4 0h1m2 0h2m11 0h1m9 0h3m9 0h2m6 0h3m1 0h1m6 0h1m4 0h1m-94 1h1m1 0h5m7 0h2m8 0h1m6 0h4m22 0h3m4 0h2m1 0h2m8 0h3m1 0h1m5 0h1m3 0h1m4 0h1m-97 1h1m1 0h1m1 0h1m1 0h1m8 0h1m1 0h1m5 0h2m4 0h4m1 0h2m22 0h2m3 0h5m5 0h1m1 0h2m1 0h2m1 0h1m9 0h1m4 0h1m-95 1h2m11 0h3m3 0h1m3 0h3m1 0h4m1 0h3m24 0h4m2 0h1m4 0h2m4 0h2m2 0h1m4 0h1m3 0h2m1 0h1m-89 1h1m8 0h5m12 0h1m1 0h2m4 0h1m20 0h4m5 0h2m1 0h2m3 0h2m1 0h1m3 0h1m5 0h1m-79 1h1m1 0h1m1 0h2m3 0h1m7 0h1m2 0h2m5 0h1m21 0h5m3 0h2m1 0h1m3 0h1m1 0h1m1 0h1m8 0h2m4 0h1m-120 1h1m21 0h2m6 0h1m7 0h2m1 0h1m3 0h1m6 0h6m3 0h1m23 0h4m4 0h4m3 0h1m1 0h3m2 0h2m1 0h1m5 0h1m-85 1h1m5 0h3m1 0h2m1 0h2m5 0h4m1 0h1m27 0h3m4 0h4m1 0h1m6 0h3m1 0h2m2 0h3m1 0h1m-102 1h1m17 0h2m3 0h2m3 0h4m1 0h1m3 0h5m6 0h1m12 0h1m10 0h2m3 0h2m1 0h3m3 0h1m1 0h2m9 0h1m1 0h1m11 0h1m-130 1h1m38 0h2m5 0h1m3 0h1m4 0h2m1 0h1m26 0h4m3 0h2m1 0h2m1 0h1m5 0h2m1 0h1m21 0h1m-91 1h4m3 0h2m2 0h1m1 0h1m2 0h2m17 0h2m9 0h2m1 0h1m5 0h1m1 0h1m1 0h1m3 0h1m1 0h1m2 0h1m21 0h1m2 0h1m-100 1h1m6 0h2m1 0h1m2 0h2m1 0h2m1 0h4m1 0h1m23 0h1m3 0h1m3 0h2m7 0h1m1 0h3m1 0h3m25 0h1m-100 1h2m8 0h2m5 0h4m23 0h1m7 0h1m3 0h1m3 0h1m5 0h1m2 0h1m1 0h1m4 0h3m17 0h1m-83 1h1m1 0h7m6 0h1m10 0h2m15 0h3m7 0h1m1 0h1m6 0h2m7 0h2m3 0h1m-101 1h1m4 0h1m18 0h4m3 0h3m5 0h1m11 0h1m6 0h4m5 0h2m6 0h2m2 0h1m1 0h6m8 0h2m2 0h2m10 0h1m-111 1h1m3 0h1m2 0h1m1 0h4m9 0h3m1 0h1m3 0h3m5 0h3m14 0h2m1 0h3m2 0h2m1 0h2m7 0h8m1 0h1m15 0h1m9 0h1m-109 1h2m4 0h2m2 0h1m3 0h1m7 0h1m2 0h4m2 0h1m3 0h4m14 0h5m2 0h3m1 0h2m4 0h3m3 0h4m1 0h2m14 0h1m2 0h4m6 0h1m-104 1h1m6 0h3m4 0h1m1 0h1m1 0h2m1 0h2m2 0h2m1 0h4m14 0h2m1 0h2m2 0h4m7 0h1m3 0h1m2 0h4m1 0h2m2 0h1m1 0h1m2 0h2m10 0h1m-107 1h1m8 0h2m5 0h2m6 0h4m3 0h2m1 0h8m14 0h7m1 0h2m3 0h1m4 0h1m1 0h1m3 0h1m4 0h1m1 0h1m22 0h1m-122 1h1m10 0h1m8 0h1m7 0h1m7 0h1m1 0h1m5 0h1m1 0h9m11 0h4m2 0h1m2 0h1m5 0h2m4 0h3m5 0h2m1 0h1m2 0h1m1 0h2m16 0h1m-110 1h1m8 0h2m6 0h1m3 0h1m5 0h1m1 0h1m2 0h1m1 0h3m1 0h7m9 0h4m2 0h2m8 0h3m1 0h2m2 0h1m1 0h1m8 0h1m2 0h1m4 0h1m-108 1h1m9 0h2m7 0h3m5 0h3m1 0h2m1 0h3m1 0h1m6 0h11m10 0h5m5 0h5m1 0h1m1 0h3m3 0h1m14 0h1m8 0h1m4 0h1m-120 1h1m3 0h1m5 0h2m1 0h2m5 0h2m9 0h4m1 0h1m2 0h1m7 0h1m1 0h1m1 0h3m2 0h1m2 0h1m2 0h7m8 0h4m1 0h2m23 0h1m2 0h1m-110 1h1m1 0h2m1 0h1m3 0h1m3 0h1m4 0h4m5 0h4m2 0h3m2 0h3m2 0h4m1 0h4m7 0h3m1 0h1m1 0h1m1 0h1m7 0h3m1 0h2m1 0h4m-89 1h1m7 0h1m3 0h1m3 0h2m4 0h1m1 0h3m4 0h2m6 0h2m1 0h2m2 0h2m2 0h1m1 0h1m2 0h3m5 0h1m4 0h4m6 0h3m1 0h1m3 0h2m20 0h1m-109 1h1m7 0h1m9 0h1m3 0h1m1 0h1m1 0h1m5 0h1m1 0h3m1 0h2m3 0h2m2 0h2m4 0h2m2 0h4m8 0h2m1 0h2m13 0h1m13 0h1m6 0h1m-102 1h2m2 0h1m4 0h2m2 0h1m1 0h4m8 0h5m1 0h2m2 0h1m4 0h6m2 0h1m1 0h1m1 0h2m2 0h1m4 0h3m9 0h2m10 0h1m6 0h2m6 0h1m1 0h1m1 0h1m1 0h1m-107 1h1m13 0h1m5 0h4m1 0h1m1 0h3m10 0h1m8 0h2m2 0h1m2 0h1m1 0h4m5 0h2m3 0h2m3 0h1m6 0h1m2 0h1m3 0h1m8 0h3m5 0h1m-110 1h1m2 0h1m1 0h2m3 0h1m3 0h2m5 0h1m1 0h1m2 0h1m5 0h1m1 0h1m3 0h1m2 0h1m4 0h1m1 0h3m1 0h1m1 0h1m4 0h1m11 0h3m2 0h2m1 0h1m4 0h1m3 0h2m2 0h1m6 0h1m2 0h1m-114 1h1m12 0h2m6 0h1m1 0h2m8 0h1m1 0h2m6 0h3m3 0h2m6 0h2m2 0h2m4 0h3m1 0h1m9 0h1m5 0h2m19 0h4m7 0h2m-89 1h1m2 0h2m2 0h1m3 0h1m2 0h1m6 0h2m1 0h3m8 0h2m2 0h2m2 0h1m3 0h2m3 0h1m1 0h4m2 0h1m4 0h1m21 0h1m-109 1h1m2 0h1m8 0h1m14 0h1m4 0h1m2 0h2m1 0h1m3 0h1m3 0h1m3 0h1m1 0h1m3 0h2m1 0h1m1 0h4m4 0h3m3 0h3m7 0h1m12 0h2m7 0h1m-108 1h1m3 0h1m7 0h1m12 0h3m5 0h1m2 0h3m11 0h2m1 0h4m5 0h2m2 0h1m2 0h4m3 0h1m28 0h1m2 0h1m-109 1h1m3 0h1m25 0h1m2 0h1m2 0h5m1 0h1m10 0h2m1 0h1m2 0h3m1 0h1m5 0h1m3 0h1m2 0h3m23 0h2m2 0h1m-116 1h1m8 0h1m4 0h1m21 0h1m1 0h1m5 0h2m1 0h2m3 0h1m9 0h3m3 0h4m5 0h1m2 0h1m3 0h1m-87 1h1m12 0h1m27 0h1m8 0h3m14 0h1m1 0h2m1 0h1m4 0h6m3 0h1m21 0h1m-92 1h1m20 0h4m9 0h2m2 0h1m1 0h1m9 0h2m1 0h1m1 0h1m1 0h2m1 0h2m2 0h1m26 0h1m-93 1h1m36 0h1m2 0h2m8 0h1m1 0h1m3 0h1m3 0h3m1 0h2m-45 1h1m4 0h1m14 0h2m2 0h2m3 0h1m5 0h7m15 0h1m-87 1h1m1 0h2m1 0h1m1 0h1m43 0h2m1 0h1m12 0h1m3 0h2m-73 1h1m2 0h1m2 0h2m1 0h3m13 0h1m40 0h2m14 0h2m-84 1h1m3 0h1m2 0h1m2 0h1m52 0h1m1 0h1m1 0h1m13 0h1m2 0h1m-84 1h1m2 0h1m1 0h7m12 0h2m11 0h1m23 0h1m1 0h1m11 0h2m4 0h1m8 0h1m2 0h1m1 0h1m3 0h2m1 0h1m-105 1h2m1 0h1m1 0h1m21 0h1m9 0h1m1 0h4m13 0h1m3 0h3m3 0h2m2 0h1m5 0h1m9 0h1m1 0h2m2 0h1m1 0h1m2 0h1m6 0h1m-102 1h1m1 0h2m17 0h1m11 0h1m3 0h1m2 0h1m1 0h2m8 0h3m3 0h1m2 0h1m1 0h1m1 0h1m1 0h1m2 0h1m7 0h1m13 0h2m4 0h1m-99 1h1m23 0h1m1 0h3m10 0h1m2 0h1m5 0h3m5 0h1m1 0h1m1 0h5m1 0h1m1 0h3m-49 1h2m3 0h1m11 0h2m2 0h1m4 0h1m1 0h1m4 0h1m1 0h1m11 0h2m10 0h1m1 0h1m1 0h1m5 0h1m-71 1h1m1 0h2m17 0h2m5 0h1m5 0h1m1 0h3m6 0h3m10 0h2m-62 1h2m4 0h1m31 0h3m5 0h3m1 0h1m8 0h4m9 0h2m-70 1h1m8 0h1m25 0h2m1 0h1m3 0h1m2 0h1m8 0h2m4 0h2m5 0h2m-69 1h2m34 0h1m5 0h2m12 0h1m7 0h1m2 0h2m2 0h1m-83 1h2m13 0h1m32 0h1m1 0h1m3 0h1m12 0h1m13 0h1m-84 1h1m3 0h1m2 0h1m2 0h1m55 0h1m1 0h1m11 0h1m-81 1h2m4 0h1m4 0h1m12 0h2m2 0h1m24 0h1m15 0h1m7 0h1m1 0h1m-74 1h1m2 0h4m10 0h1m2 0h1m1 0h1m17 0h2m2 0h2m1 0h1m15 0h1m8 0h2m-55 1h1m4 0h1m1 0h1m12 0h1m2 0h2m14 0h1m10 0h1m2 0h2m-73 1h1m14 0h3m8 0h1m7 0h1m3 0h1m3 0h1m11 0h1m2 0h2m2 0h1m-63 1h1m29 0h1m3 0h1m4 0h3m2 0h1m8 0h2m9 0h2m2 0h1m-49 1h1m12 0h1m7 0h2m4 0h1m4 0h1m1 0h1m4 0h2m3 0h3m-57 1h1m1 0h1m9 0h1m28 0h1m8 0h1m3 0h1m-54 1h1m4 0h1m28 0h4m11 0h2m1 0h1m-48 1h1m1 0h1m3 0h1m5 0h1m14 0h2m2 0h1m9 0h1m2 0h1m-48 1h1m6 0h1m1 0h1m3 0h1m1 0h2m5 0h1m4 0h1m3 0h1m-25 1h2m2 0h1m2 0h2m5 0h1m20 0h2m-36 1h2m1 0h1m5 0h2m2 0h1m15 0h1m1 0h1m1 0h1"/>
<path stroke="#92bf73" d="M0 0m42 1h1m1 0h1m14 0h3m10 0h1m6 0h1m4 0h1m18 0h1m9 0h2m-71 1h1m31 0h1m2 0h1m2 0h1m-45 1h1m1 0h1m1 0h1m10 0h3m17 0h1m17 0h1m25 0h1m-60 1h1m18 0h1m7 0h1m-57 1h1m6 0h1m1 0h1m1 0h1m13 0h1m2 0h1m26 0h2m3 0h1m4 0h1m-43 1h1m2 0h1m5 0h1m24 0h1m35 0h1m-36 1h1m6 0h1m1 0h1m-10 1h1m3 0h1m6 0h1m1 0h2m-80 1h1m1 0h1m1 0h1m14 0h1m-19 1h1m14 0h1m1 0h1m12 0h1m-12 1h1m24 0h1m1 0h2m12 0h1m38 0h1m-99 1h2m1 0h1m12 0h1m1 0h1m1 0h1m31 0h1m5 0h1m-57 1h2m42 0h1m6 0h1m11 0h1m-69 1h1m4 0h1m2 0h2m4 0h1m40 0h1m1 0h1m7 0h1m-68 1h1m6 0h2m1 0h1m13 0h1m23 0h1m18 0h1m2 0h2m2 0h1m-75 1h2m13 0h1m22 0h1m36 0h3m-76 1h1m62 0h1m6 0h2m6 0h2m4 0h1m3 0h2m11 0h1m6 0h1m-112 1h2m26 0h1m22 0h1m25 0h1m1 0h1m7 0h1m4 0h1m15 0h1m-111 1h1m21 0h1m5 0h4m54 0h1m1 0h1m2 0h1m15 0h1m-81 1h2m1 0h1m36 0h1m19 0h1m20 0h1m2 0h1m-93 1h2m44 0h1m1 0h1m1 0h2m18 0h1m3 0h1m18 0h1m2 0h1m-97 1h2m3 0h1m8 0h1m32 0h1m3 0h1m21 0h1m14 0h1m-98 1h1m7 0h2m11 0h2m33 0h2m24 0h1m22 0h1m-100 1h2m3 0h1m68 0h1m4 0h1m14 0h1m1 0h2m-104 1h1m5 0h2m18 0h1m27 0h1m28 0h1m-81 1h1m23 0h1m39 0h1m15 0h2m18 0h3m-113 1h1m11 0h1m98 0h1m-112 1h1m5 0h1m3 0h2m-16 1h1m14 0h3m-18 1h2m7 0h1m3 0h1m2 0h1m3 0h1m28 0h2m49 0h1m11 0h2m-112 1h1m3 0h1m5 0h1m2 0h2m32 0h2m49 0h2m17 0h1m-122 1h1m7 0h3m91 0h2m18 0h1m-117 1h1m30 0h1m12 0h1m2 0h2m67 0h1m-122 1h1m15 0h1m35 0h3m49 0h1m-112 1h1m13 0h2m5 0h1m-10 1h3m6 0h1m91 0h1m-108 1h1m12 0h1m19 0h1m73 0h2m-110 1h2m10 0h1m21 0h1m-35 1h1m9 0h3m15 0h1m2 0h1m1 0h1m10 0h2m-35 1h2m3 0h1m-18 1h2m10 0h1m18 0h1m1 0h1m87 0h2m-123 1h1m4 0h1m6 0h1m16 0h1m1 0h1m9 0h2m68 0h1m11 0h1m-126 1h1m7 0h1m3 0h1m8 0h1m21 0h2m76 0h3m2 0h1m-128 1h2m10 0h2m1 0h1m16 0h2m9 0h2m77 0h1m-128 1h2m16 0h1m12 0h1m4 0h1m2 0h1m64 0h1m28 0h1m-133 1h1m24 0h2m2 0h2m13 0h1m1 0h4m52 0h2m23 0h1m-116 1h3m2 0h1m6 0h1m1 0h3m7 0h2m6 0h1m1 0h3m77 0h1m2 0h1m1 0h1m1 0h1m-135 1h1m11 0h2m1 0h3m5 0h1m2 0h2m2 0h1m4 0h1m8 0h3m1 0h1m2 0h1m1 0h2m71 0h2m5 0h1m-134 1h1m23 0h1m3 0h3m4 0h1m2 0h1m4 0h1m1 0h1m2 0h3m2 0h3m41 0h1m31 0h1m4 0h1m-132 1h1m12 0h1m11 0h2m6 0h1m6 0h1m4 0h1m2 0h3m36 0h1m-77 1h2m19 0h2m5 0h2m3 0h1m4 0h4m35 0h1m35 0h1m4 0h1m2 0h1m-123 1h1m29 0h1m3 0h1m1 0h1m1 0h1m3 0h1m6 0h1m6 0h1m19 0h1m1 0h1m2 0h1m33 0h2m3 0h1m-132 1h1m1 0h1m4 0h1m5 0h1m12 0h1m2 0h1m8 0h1m2 0h1m2 0h1m2 0h1m1 0h1m10 0h1m8 0h2m18 0h1m2 0h1m37 0h1m1 0h2m-134 1h2m5 0h2m1 0h1m2 0h1m3 0h2m6 0h2m6 0h1m3 0h1m12 0h2m2 0h1m8 0h4m1 0h1m20 0h1m3 0h1m30 0h1m4 0h1m-129 1h1m10 0h1m6 0h1m4 0h2m6 0h1m3 0h2m2 0h1m1 0h1m2 0h1m3 0h1m2 0h2m10 0h1m2 0h1m1 0h3m17 0h2m31 0h2m-124 1h1m11 0h1m11 0h2m5 0h1m3 0h1m4 0h3m3 0h2m1 0h6m5 0h3m1 0h1m25 0h1m2 0h1m2 0h1m3 0h2m21 0h2m8 0h2m-131 1h1m3 0h1m3 0h1m9 0h1m16 0h1m5 0h1m2 0h1m2 0h1m2 0h1m2 0h1m1 0h4m9 0h1m1 0h1m16 0h1m1 0h3m26 0h1m8 0h2m1 0h1m-125 1h1m6 0h1m6 0h1m8 0h1m6 0h1m2 0h1m1 0h1m3 0h4m4 0h1m3 0h1m12 0h3m10 0h1m3 0h1m6 0h3m2 0h2m10 0h1m8 0h2m-128 1h1m8 0h1m10 0h1m1 0h1m1 0h2m1 0h1m2 0h1m2 0h4m5 0h1m1 0h4m4 0h8m2 0h2m13 0h4m8 0h9m2 0h4m1 0h4m7 0h1m7 0h1m1 0h1m5 0h1m3 0h1m-134 1h1m15 0h1m3 0h1m1 0h1m6 0h1m1 0h1m7 0h1m2 0h3m1 0h2m5 0h1m1 0h3m17 0h1m10 0h3m4 0h3m3 0h2m1 0h3m1 0h1m6 0h1m7 0h1m1 0h1m-117 1h3m12 0h2m3 0h6m3 0h2m2 0h3m1 0h4m7 0h1m5 0h1m1 0h2m1 0h2m4 0h2m6 0h1m5 0h3m1 0h5m1 0h1m4 0h4m2 0h1m2 0h3m10 0h1m-119 1h2m12 0h1m1 0h2m6 0h2m8 0h2m1 0h3m1 0h3m6 0h3m2 0h1m1 0h5m1 0h1m2 0h3m2 0h1m5 0h2m2 0h1m8 0h3m3 0h3m2 0h1m4 0h1m3 0h1m6 0h3m1 0h1m2 0h1m3 0h1m-130 1h4m11 0h2m4 0h1m1 0h4m5 0h1m1 0h1m4 0h1m2 0h1m8 0h2m1 0h3m3 0h6m1 0h14m4 0h1m7 0h2m5 0h1m6 0h1m12 0h1m1 0h1m-122 1h1m1 0h1m12 0h1m14 0h3m5 0h1m12 0h6m2 0h4m1 0h2m1 0h2m1 0h3m1 0h1m2 0h1m2 0h1m3 0h1m24 0h1m1 0h1m7 0h1m-120 1h1m17 0h1m2 0h1m9 0h3m3 0h2m2 0h2m8 0h3m1 0h1m2 0h7m2 0h5m8 0h1m1 0h3m8 0h1m4 0h1m1 0h1m4 0h2m12 0h2m-119 1h2m13 0h2m2 0h1m9 0h3m2 0h2m2 0h1m9 0h1m7 0h3m2 0h1m2 0h1m2 0h2m9 0h1m3 0h1m9 0h1m2 0h1m2 0h1m6 0h2m3 0h1m7 0h2m-105 1h1m3 0h1m1 0h2m6 0h2m1 0h1m2 0h1m1 0h1m1 0h1m16 0h3m2 0h4m3 0h2m11 0h1m2 0h1m4 0h2m1 0h1m2 0h2m7 0h2m2 0h1m1 0h1m-116 1h2m16 0h1m1 0h1m3 0h1m1 0h1m6 0h1m1 0h1m4 0h1m1 0h3m16 0h2m1 0h2m6 0h1m10 0h4m1 0h1m6 0h1m4 0h1m-100 1h1m16 0h1m1 0h1m11 0h2m1 0h1m1 0h2m21 0h3m1 0h2m5 0h2m13 0h4m5 0h1m2 0h1m1 0h1m10 0h4m8 0h1m-111 1h1m4 0h1m13 0h1m1 0h6m2 0h2m19 0h1m18 0h1m2 0h2m2 0h1m5 0h1m1 0h1m7 0h1m3 0h1m1 0h4m-103 1h1m21 0h1m3 0h2m42 0h1m2 0h5m5 0h5m6 0h1m3 0h2m1 0h2m-113 1h1m8 0h1m1 0h1m4 0h3m2 0h1m3 0h2m8 0h3m1 0h1m33 0h2m8 0h3m1 0h1m8 0h2m9 0h2m2 0h1m13 0h2m1 0h1m-119 1h1m4 0h2m5 0h1m1 0h1m1 0h1m9 0h1m2 0h1m33 0h2m6 0h2m1 0h1m2 0h1m5 0h1m4 0h1m5 0h1m20 0h2m1 0h1m-130 1h1m15 0h2m2 0h1m4 0h1m10 0h2m1 0h1m42 0h1m3 0h3m1 0h1m4 0h1m1 0h1m10 0h1m2 0h2m14 0h1m1 0h1m-137 1h1m5 0h1m31 0h1m4 0h5m49 0h1m6 0h1m8 0h1m6 0h1m14 0h1m-132 1h1m20 0h1m14 0h2m1 0h5m47 0h1m1 0h1m19 0h1m17 0h3m-121 1h1m11 0h1m10 0h1m1 0h5m10 0h1m36 0h3m9 0h1m4 0h2m4 0h1m1 0h1m14 0h3m-137 1h1m5 0h1m16 0h3m2 0h2m12 0h3m1 0h1m10 0h1m31 0h2m3 0h2m16 0h2m3 0h1m1 0h1m14 0h4m-116 1h5m2 0h1m14 0h3m10 0h1m31 0h2m5 0h1m9 0h3m2 0h2m4 0h4m-120 1h1m20 0h4m4 0h1m12 0h1m1 0h1m50 0h1m5 0h1m4 0h3m1 0h1m1 0h1m2 0h1m1 0h2m14 0h1m-113 1h1m3 0h1m2 0h1m11 0h1m1 0h1m1 0h1m70 0h1m-118 1h2m13 0h1m8 0h2m1 0h2m2 0h3m12 0h1m51 0h1m4 0h1m8 0h2m6 0h2m15 0h1m-122 1h1m2 0h1m4 0h2m2 0h1m2 0h1m1 0h1m8 0h3m51 0h1m10 0h2m3 0h4m4 0h2m7 0h1m1 0h1m-130 1h1m14 0h1m1 0h2m4 0h1m6 0h2m8 0h2m1 0h2m6 0h3m39 0h1m2 0h1m8 0h1m4 0h1m2 0h1m1 0h1m-101 1h4m6 0h1m6 0h1m9 0h1m1 0h1m7 0h2m40 0h1m1 0h1m7 0h1m4 0h1m4 0h2m2 0h1m2 0h1m2 0h1m2 0h1m2 0h1m-93 1h1m4 0h2m48 0h1m1 0h2m12 0h1m8 0h2m7 0h1m2 0h1m-109 1h2m7 0h1m9 0h1m2 0h2m7 0h1m39 0h1m1 0h3m2 0h1m17 0h2m7 0h1m4 0h1m2 0h1m-114 1h3m2 0h1m1 0h3m8 0h6m46 0h2m3 0h2m11 0h1m2 0h2m5 0h2m1 0h1m1 0h1m2 0h1m3 0h1m2 0h1m-136 1h1m22 0h4m2 0h1m10 0h2m2 0h2m4 0h3m39 0h2m2 0h1m2 0h2m8 0h2m1 0h5m3 0h1m3 0h1m2 0h1m1 0h1m1 0h1m3 0h1m-114 1h1m1 0h3m12 0h3m1 0h2m5 0h3m27 0h1m10 0h3m2 0h1m12 0h1m3 0h1m1 0h1m10 0h1m2 0h1m-107 1h2m2 0h2m1 0h1m9 0h5m1 0h1m7 0h2m35 0h4m14 0h3m4 0h2m-95 1h6m2 0h1m10 0h4m6 0h1m2 0h2m34 0h3m7 0h2m4 0h1m2 0h1m4 0h2m18 0h1m-111 1h4m2 0h1m9 0h1m1 0h4m4 0h3m2 0h1m32 0h3m1 0h1m4 0h1m2 0h2m1 0h4m1 0h1m1 0h3m1 0h2m12 0h1m-111 1h1m2 0h1m1 0h4m13 0h1m1 0h5m3 0h5m1 0h1m24 0h2m4 0h5m4 0h1m5 0h2m1 0h1m7 0h1m2 0h1m4 0h1m6 0h1m-123 1h1m4 0h1m2 0h1m2 0h1m8 0h1m4 0h1m9 0h3m1 0h3m5 0h2m1 0h1m24 0h2m2 0h6m1 0h1m6 0h2m1 0h1m1 0h2m3 0h1m1 0h1m1 0h2m4 0h1m-110 1h1m6 0h1m7 0h1m1 0h1m3 0h1m11 0h1m2 0h1m5 0h6m26 0h1m2 0h1m8 0h1m3 0h3m1 0h3m1 0h1m3 0h1m4 0h1m2 0h1m7 0h1m-119 1h3m1 0h3m1 0h2m5 0h1m2 0h2m1 0h1m11 0h1m4 0h1m4 0h7m3 0h1m3 0h2m13 0h3m4 0h1m10 0h1m1 0h1m3 0h1m1 0h1m9 0h1m3 0h1m5 0h1m2 0h1m-128 1h1m2 0h1m2 0h2m1 0h1m1 0h1m2 0h1m1 0h1m1 0h1m1 0h1m1 0h1m2 0h1m1 0h1m13 0h2m8 0h2m9 0h7m3 0h1m1 0h1m1 0h1m1 0h1m5 0h1m6 0h1m4 0h1m2 0h1m4 0h1m10 0h1m2 0h2m6 0h1m-121 1h1m3 0h3m5 0h1m1 0h1m4 0h1m1 0h2m11 0h6m5 0h2m2 0h2m8 0h3m1 0h1m1 0h3m7 0h3m6 0h2m3 0h3m2 0h2m1 0h2m18 0h1m-108 1h3m7 0h3m1 0h1m1 0h1m7 0h1m3 0h1m7 0h2m2 0h2m10 0h3m1 0h2m1 0h1m7 0h3m4 0h1m4 0h4m4 0h1m5 0h1m3 0h1m4 0h2m2 0h2m-117 1h1m3 0h2m3 0h1m2 0h2m5 0h1m1 0h1m4 0h2m4 0h2m5 0h1m23 0h1m2 0h2m1 0h1m6 0h2m9 0h1m1 0h3m1 0h1m1 0h2m3 0h1m7 0h1m3 0h1m3 0h2m-116 1h2m6 0h1m1 0h1m3 0h5m1 0h1m2 0h2m1 0h1m10 0h1m1 0h1m21 0h2m1 0h1m20 0h1m4 0h1m1 0h2m6 0h1m9 0h2m2 0h1m-120 1h1m4 0h1m3 0h2m12 0h2m2 0h2m9 0h3m3 0h1m17 0h1m3 0h4m19 0h1m1 0h1m2 0h1m1 0h3m10 0h1m-109 1h1m1 0h1m5 0h1m5 0h2m3 0h1m4 0h5m4 0h1m2 0h4m19 0h1m2 0h4m15 0h2m5 0h4m2 0h1m1 0h4m1 0h2m1 0h1m6 0h2m-113 1h1m1 0h2m8 0h2m7 0h5m2 0h2m2 0h2m2 0h2m1 0h3m16 0h5m2 0h1m14 0h1m1 0h1m6 0h2m1 0h4m1 0h1m9 0h4m2 0h1m-105 1h1m4 0h1m6 0h1m1 0h7m1 0h6m1 0h1m2 0h1m19 0h1m1 0h3m11 0h2m3 0h2m4 0h1m1 0h1m2 0h2m2 0h1m9 0h1m5 0h1m4 0h1m-96 1h2m4 0h1m4 0h1m3 0h5m31 0h2m1 0h1m5 0h1m1 0h1m1 0h1m1 0h2m2 0h4m11 0h2m1 0h1m7 0h1m-120 1h1m14 0h1m8 0h1m7 0h2m1 0h4m26 0h1m8 0h2m4 0h3m1 0h1m4 0h1m21 0h1m-113 1h2m23 0h1m7 0h5m3 0h1m3 0h1m2 0h1m2 0h3m13 0h1m6 0h5m1 0h2m1 0h3m1 0h1m1 0h3m2 0h1m14 0h1m3 0h1m-112 1h1m9 0h1m1 0h2m1 0h1m15 0h6m5 0h3m1 0h2m3 0h2m18 0h4m6 0h1m1 0h1m1 0h1m6 0h1m19 0h1m-101 1h2m2 0h1m14 0h1m8 0h1m1 0h2m3 0h2m2 0h2m14 0h1m1 0h1m1 0h1m2 0h1m2 0h2m1 0h2m1 0h1m2 0h2m2 0h1m14 0h1m-91 1h2m18 0h2m1 0h4m4 0h5m2 0h1m8 0h2m1 0h1m1 0h3m7 0h1m2 0h2m4 0h1m3 0h4m-94 1h1m4 0h1m10 0h2m16 0h1m1 0h1m4 0h2m2 0h1m1 0h3m3 0h2m7 0h2m2 0h1m2 0h1m9 0h1m11 0h1m1 0h1m9 0h1m-99 1h1m1 0h1m4 0h1m2 0h1m1 0h1m12 0h2m8 0h4m4 0h1m1 0h2m4 0h1m2 0h1m1 0h3m2 0h1m3 0h3m1 0h3m2 0h3m6 0h4m-87 1h1m2 0h1m1 0h1m7 0h1m6 0h2m5 0h1m3 0h2m3 0h3m8 0h1m6 0h2m9 0h2m2 0h5m2 0h1m5 0h1m2 0h1m21 0h1m-106 1h1m3 0h2m2 0h1m3 0h1m10 0h3m10 0h4m12 0h1m2 0h1m7 0h1m3 0h1m2 0h2m1 0h1m1 0h2m18 0h1m1 0h2m1 0h1m1 0h1m-91 1h1m1 0h2m10 0h1m9 0h1m3 0h2m8 0h4m5 0h1m6 0h3m1 0h1m3 0h1m4 0h1m2 0h1m2 0h1m3 0h1m7 0h1m-96 1h1m2 0h1m1 0h2m3 0h1m11 0h1m2 0h2m5 0h1m1 0h1m4 0h4m8 0h1m1 0h1m1 0h1m8 0h1m2 0h1m5 0h1m5 0h1m1 0h1m1 0h1m3 0h1m9 0h1m-103 1h1m7 0h1m2 0h1m11 0h1m2 0h4m1 0h1m6 0h1m1 0h1m1 0h2m8 0h1m1 0h2m3 0h3m6 0h1m1 0h1m1 0h2m1 0h1m5 0h1m4 0h4m-88 1h1m3 0h1m6 0h1m12 0h2m1 0h1m8 0h1m3 0h1m4 0h5m3 0h5m1 0h1m13 0h1m3 0h2m1 0h1m2 0h1m1 0h2m2 0h1m3 0h1m-88 1h1m5 0h1m17 0h1m8 0h2m7 0h2m1 0h1m2 0h3m17 0h2m6 0h1m1 0h1m1 0h1m1 0h1m-83 1h1m5 0h1m8 0h2m5 0h2m9 0h2m1 0h2m2 0h3m1 0h1m1 0h1m3 0h1m15 0h1m7 0h1m4 0h1m2 0h1m2 0h2m-80 1h1m2 0h1m6 0h1m15 0h2m1 0h1m8 0h1m4 0h3m33 0h1m-80 1h1m7 0h2m1 0h1m26 0h1m3 0h4m7 0h1m11 0h1m2 0h1m1 0h2m6 0h1m2 0h1m3 0h1m-79 1h1m1 0h1m4 0h1m6 0h1m25 0h1m5 0h1m2 0h1m7 0h2m1 0h1m1 0h1m2 0h1m4 0h2m-72 1h1m4 0h1m2 0h1m1 0h1m36 0h1m1 0h1m1 0h1m3 0h1m1 0h1m4 0h1m7 0h1m2 0h1m-84 1h1m2 0h3m2 0h1m8 0h1m4 0h1m3 0h1m4 0h1m21 0h2m2 0h3m2 0h1m1 0h2m3 0h1m2 0h1m6 0h1m-79 1h1m7 0h1m5 0h1m5 0h1m9 0h2m4 0h1m9 0h1m5 0h2m1 0h1m1 0h2m2 0h1m3 0h1m5 0h1m3 0h1m-67 1h1m4 0h2m4 0h1m2 0h1m1 0h2m3 0h1m3 0h1m4 0h2m3 0h1m1 0h1m3 0h1m2 0h1m1 0h1m9 0h1m8 0h1m1 0h1m-69 1h1m6 0h1m7 0h2m4 0h2m3 0h1m4 0h2m2 0h1m7 0h1m16 0h1m-60 1h1m2 0h1m20 0h1m1 0h3m1 0h1m12 0h2m7 0h1m1 0h2m2 0h2m8 0h1m-61 1h2m1 0h1m4 0h1m12 0h1m14 0h2m2 0h1m1 0h1m2 0h5m7 0h1m-59 1h4m1 0h1m31 0h1m14 0h1m-51 1h1m34 0h1m6 0h1m5 0h1m1 0h1m1 0h1m-54 1h1m4 0h1m6 0h1m26 0h3m1 0h1m4 0h2m-48 1h1m8 0h1m1 0h2m20 0h2m9 0h1m-41 1h1m6 0h3m10 0h1m4 0h3m2 0h1m6 0h1m1 0h3m-36 1h1m2 0h2m5 0h1m2 0h1m3 0h1m3 0h1m7 0h1m1 0h2m2 0h1m-33 1h3m13 0h1m5 0h2m2 0h1m1 0h1"/>
<path stroke="#9cbf6f" d="M0 0m45 1h1m16 0h1m15 0h1m11 0h1m9 0h1m3 0h1m5 0h2m-59 1h1m1 0h1m1 0h2m16 0h1m1 0h2m1 0h1m4 0h1m24 0h2m4 0h1m-87 1h1m8 0h1m16 0h1m1 0h1m13 0h1m2 0h1m1 0h2m2 0h1m1 0h1m4 0h1m4 0h2m9 0h1m-69 1h2m2 0h1m1 0h1m10 0h1m21 0h1m8 0h1m7 0h1m2 0h1m-69 1h2m1 0h1m16 0h1m8 0h1m31 0h1m3 0h1m-68 1h1m23 0h2m3 0h1m29 0h2m1 0h1m4 0h2m24 0h1m4 0h1m-72 1h1m32 0h2m2 0h1m2 0h1m6 0h1m21 0h2m-87 1h1m6 0h1m5 0h2m37 0h1m3 0h1m3 0h2m1 0h1m2 0h1m19 0h1m-84 1h2m7 0h1m39 0h1m36 0h1m-101 1h1m16 0h1m7 0h1m28 0h2m3 0h1m34 0h1m2 0h1m2 0h1m-102 1h1m2 0h1m15 0h2m21 0h1m1 0h1m13 0h1m2 0h2m32 0h1m-97 1h1m12 0h1m30 0h1m6 0h1m6 0h1m3 0h1m2 0h1m20 0h1m12 0h1m-102 1h1m2 0h2m2 0h1m6 0h1m3 0h1m14 0h2m10 0h1m4 0h2m6 0h4m-58 1h1m1 0h1m11 0h1m12 0h1m12 0h2m2 0h2m1 0h2m3 0h1m1 0h1m3 0h1m3 0h1m-52 1h2m14 0h1m5 0h1m6 0h2m1 0h1m5 0h3m1 0h1m9 0h1m2 0h1m15 0h1m-81 1h3m6 0h1m6 0h1m12 0h1m2 0h1m6 0h2m8 0h1m1 0h1m2 0h2m1 0h1m5 0h1m1 0h1m10 0h1m3 0h1m1 0h2m17 0h1m-111 1h1m3 0h1m5 0h1m13 0h1m24 0h1m11 0h1m1 0h2m5 0h1m7 0h2m4 0h1m1 0h1m1 0h1m1 0h1m14 0h2m-105 1h1m5 0h1m14 0h1m3 0h1m20 0h1m3 0h1m13 0h1m11 0h1m1 0h2m2 0h1m1 0h1m3 0h1m5 0h1m8 0h3m1 0h1m-89 1h1m3 0h1m22 0h1m2 0h1m25 0h1m1 0h2m2 0h1m1 0h1m4 0h1m1 0h1m2 0h1m12 0h1m-90 1h3m2 0h1m4 0h1m4 0h1m13 0h1m15 0h1m3 0h1m11 0h2m10 0h1m6 0h2m3 0h1m6 0h1m-96 1h1m9 0h4m2 0h1m31 0h1m18 0h1m2 0h1m1 0h1m6 0h1m5 0h2m3 0h1m-84 1h3m4 0h1m4 0h2m23 0h1m1 0h2m3 0h1m20 0h2m14 0h1m-102 1h1m10 0h2m2 0h1m6 0h1m36 0h1m3 0h2m21 0h1m1 0h1m13 0h1m-103 1h1m5 0h1m6 0h1m1 0h1m11 0h1m4 0h1m15 0h2m36 0h3m14 0h2m1 0h1m-97 1h1m19 0h1m1 0h1m57 0h1m12 0h1m5 0h1m-106 1h1m2 0h1m4 0h1m18 0h1m1 0h1m43 0h2m28 0h1m-115 1h1m5 0h1m5 0h2m4 0h1m59 0h1m2 0h2m1 0h1m27 0h1m-113 1h1m3 0h1m5 0h1m1 0h3m2 0h1m47 0h1m16 0h1m15 0h1m1 0h1m11 0h2m2 0h1m-117 1h1m7 0h3m1 0h1m2 0h1m50 0h2m33 0h1m13 0h2m-118 1h1m7 0h1m8 0h1m1 0h1m3 0h1m25 0h2m2 0h1m47 0h1m14 0h1m3 0h1m-124 1h1m13 0h1m3 0h2m2 0h1m1 0h1m31 0h1m66 0h1m1 0h1m-116 1h1m3 0h1m6 0h2m30 0h5m-52 1h1m6 0h1m7 0h1m36 0h1m49 0h1m-106 1h1m1 0h1m5 0h1m2 0h1m10 0h1m27 0h1m1 0h1m3 0h1m32 0h1m27 0h1m-123 1h1m2 0h2m1 0h1m5 0h1m14 0h1m20 0h1m6 0h2m1 0h1m51 0h3m10 0h1m3 0h1m-123 1h1m8 0h1m38 0h1m39 0h1m17 0h1m10 0h2m-114 1h1m6 0h1m1 0h2m11 0h1m3 0h1m56 0h1m-91 1h1m9 0h2m2 0h1m14 0h2m1 0h1m3 0h1m10 0h1m-54 1h1m5 0h1m8 0h1m4 0h1m15 0h1m4 0h1m32 0h1m24 0h1m17 0h1m8 0h1m-113 1h2m22 0h2m77 0h1m7 0h1m3 0h1m-115 1h1m1 0h1m1 0h1m6 0h1m8 0h1m2 0h1m1 0h1m6 0h4m66 0h1m7 0h2m-115 1h1m2 0h1m1 0h1m7 0h1m10 0h1m2 0h3m7 0h1m29 0h1m36 0h1m8 0h1m7 0h1m-131 1h1m1 0h1m15 0h1m4 0h1m8 0h1m1 0h1m8 0h1m2 0h1m49 0h1m31 0h1m-134 1h2m5 0h1m5 0h1m9 0h1m3 0h1m11 0h1m6 0h2m2 0h2m7 0h1m39 0h2m-96 1h1m4 0h1m1 0h2m2 0h1m3 0h1m1 0h1m6 0h2m19 0h1m6 0h2m12 0h1m31 0h1m22 0h2m-128 1h1m6 0h1m3 0h1m3 0h2m2 0h1m2 0h1m1 0h2m2 0h1m6 0h4m5 0h1m6 0h1m75 0h1m-124 1h1m14 0h3m1 0h1m12 0h1m2 0h2m3 0h1m6 0h1m1 0h3m69 0h1m-115 1h1m6 0h1m2 0h2m1 0h2m10 0h6m5 0h1m1 0h2m1 0h1m2 0h1m3 0h2m10 0h1m56 0h1m3 0h1m1 0h1m-132 1h1m1 0h1m7 0h2m1 0h1m5 0h2m1 0h2m4 0h1m2 0h1m2 0h1m1 0h1m6 0h1m10 0h1m1 0h2m1 0h1m12 0h1m6 0h1m15 0h1m29 0h1m-125 1h2m5 0h4m2 0h1m6 0h2m1 0h1m2 0h1m3 0h2m1 0h2m3 0h1m1 0h4m7 0h4m8 0h2m3 0h1m5 0h1m3 0h1m8 0h1m6 0h1m13 0h1m11 0h1m1 0h1m2 0h1m4 0h2m-133 1h1m7 0h1m4 0h2m10 0h2m8 0h1m1 0h2m2 0h3m9 0h4m1 0h2m1 0h1m2 0h5m10 0h1m6 0h2m1 0h1m33 0h1m1 0h2m3 0h1m-123 1h2m2 0h1m19 0h6m3 0h1m1 0h1m5 0h3m1 0h2m3 0h1m2 0h1m2 0h1m2 0h1m1 0h1m8 0h1m6 0h1m1 0h1m4 0h1m-86 1h2m14 0h2m1 0h2m1 0h1m1 0h3m1 0h2m4 0h2m6 0h1m2 0h2m4 0h1m3 0h6m2 0h2m6 0h1m2 0h1m4 0h1m5 0h2m18 0h1m12 0h1m4 0h1m-133 1h1m2 0h1m16 0h1m1 0h4m3 0h1m2 0h1m2 0h1m1 0h1m5 0h1m4 0h3m2 0h2m3 0h6m4 0h1m3 0h3m9 0h1m20 0h2m16 0h1m8 0h1m2 0h1m-132 1h1m6 0h1m7 0h1m1 0h1m1 0h2m2 0h2m2 0h2m2 0h2m5 0h1m6 0h1m5 0h2m2 0h6m4 0h1m3 0h3m19 0h1m4 0h2m4 0h1m15 0h1m6 0h1m-130 1h1m4 0h1m1 0h1m3 0h1m9 0h1m5 0h1m3 0h1m1 0h1m1 0h1m20 0h1m1 0h3m3 0h1m1 0h11m11 0h1m1 0h1m4 0h2m6 0h1m2 0h2m12 0h2m1 0h1m5 0h1m2 0h2m-134 1h2m5 0h2m3 0h1m9 0h1m1 0h1m3 0h6m1 0h1m5 0h3m3 0h2m5 0h1m2 0h1m1 0h1m5 0h2m2 0h4m1 0h1m1 0h3m8 0h5m5 0h1m2 0h2m1 0h1m16 0h2m4 0h1m2 0h2m-131 1h1m7 0h1m8 0h1m1 0h6m2 0h6m9 0h2m1 0h1m1 0h3m4 0h4m5 0h1m4 0h7m3 0h4m4 0h2m1 0h3m5 0h2m7 0h2m7 0h1m5 0h1m5 0h2m2 0h5m-136 1h1m1 0h1m3 0h1m4 0h2m4 0h1m2 0h1m9 0h2m15 0h1m1 0h2m12 0h1m8 0h2m6 0h1m6 0h1m20 0h1m5 0h1m1 0h1m9 0h2m6 0h1m-132 1h1m2 0h1m4 0h2m4 0h1m2 0h1m8 0h2m1 0h1m9 0h2m3 0h1m2 0h1m9 0h1m1 0h3m2 0h9m2 0h3m1 0h2m7 0h4m3 0h3m6 0h1m1 0h1m2 0h3m2 0h1m8 0h1m3 0h1m1 0h1m-133 1h1m6 0h2m8 0h3m2 0h1m3 0h3m21 0h1m9 0h3m1 0h1m2 0h1m2 0h4m2 0h6m1 0h5m3 0h1m7 0h4m4 0h2m13 0h3m-126 1h1m6 0h1m4 0h1m8 0h1m5 0h5m12 0h1m16 0h2m9 0h2m3 0h2m1 0h5m2 0h2m1 0h3m8 0h2m4 0h2m1 0h1m12 0h1m11 0h1m-116 1h2m2 0h1m4 0h1m12 0h2m1 0h1m14 0h1m12 0h1m14 0h2m1 0h1m12 0h2m2 0h2m7 0h3m3 0h1m1 0h1m2 0h1m3 0h2m1 0h1m-136 1h1m6 0h1m1 0h1m1 0h1m7 0h2m1 0h1m1 0h1m3 0h2m11 0h2m1 0h2m2 0h2m21 0h1m17 0h3m9 0h1m2 0h2m2 0h1m4 0h1m6 0h2m2 0h1m3 0h1m-123 1h2m3 0h1m7 0h1m2 0h1m2 0h1m16 0h1m1 0h1m2 0h2m40 0h1m12 0h1m1 0h1m10 0h1m4 0h2m2 0h1m1 0h1m-127 1h2m7 0h1m8 0h2m2 0h1m19 0h2m2 0h2m41 0h3m17 0h1m14 0h1m-125 1h2m8 0h1m7 0h1m5 0h1m1 0h2m13 0h1m1 0h2m1 0h1m46 0h1m9 0h2m4 0h1m6 0h1m7 0h2m-126 1h1m8 0h1m16 0h1m14 0h4m1 0h1m45 0h1m10 0h2m10 0h5m7 0h1m-121 1h1m4 0h1m5 0h1m3 0h1m3 0h1m14 0h1m2 0h5m41 0h1m19 0h1m3 0h2m11 0h1m-122 1h1m10 0h1m1 0h1m2 0h1m3 0h1m19 0h1m45 0h2m7 0h1m11 0h1m1 0h1m11 0h2m4 0h1m-128 1h1m13 0h1m2 0h1m2 0h3m83 0h3m5 0h1m13 0h1m-131 1h1m16 0h1m4 0h2m65 0h1m1 0h1m16 0h2m6 0h1m-117 1h1m2 0h1m10 0h1m2 0h1m4 0h3m15 0h1m47 0h2m1 0h1m18 0h1m19 0h1m-134 1h1m3 0h1m12 0h1m2 0h1m22 0h1m50 0h1m16 0h1m6 0h1m12 0h1m3 0h1m-137 1h1m2 0h1m3 0h1m33 0h1m52 0h2m18 0h1m2 0h2m1 0h1m9 0h1m2 0h1m1 0h2m-137 1h1m15 0h2m23 0h1m53 0h1m15 0h1m8 0h1m-104 1h2m3 0h1m1 0h1m87 0h1m4 0h1m-120 1h1m7 0h1m9 0h1m96 0h1m5 0h2m-121 1h1m11 0h1m13 0h2m84 0h2m18 0h3m-136 1h1m25 0h4m14 0h1m61 0h1m5 0h1m4 0h1m17 0h1m-134 1h1m11 0h1m2 0h1m7 0h1m1 0h2m1 0h1m13 0h1m57 0h1m9 0h2m4 0h3m10 0h1m4 0h1m-136 1h1m5 0h1m7 0h5m2 0h1m2 0h1m2 0h2m96 0h2m2 0h2m1 0h1m-135 1h2m13 0h1m2 0h1m1 0h1m5 0h2m2 0h1m1 0h1m94 0h2m4 0h1m-119 1h2m1 0h1m4 0h2m6 0h1m12 0h1m68 0h2m3 0h1m1 0h2m5 0h1m5 0h1m-110 1h3m5 0h2m11 0h1m61 0h1m4 0h1m1 0h2m2 0h1m2 0h2m1 0h1m2 0h1m-110 1h2m1 0h1m2 0h4m5 0h1m62 0h1m15 0h1m3 0h2m5 0h1m2 0h1m4 0h1m-113 1h1m3 0h1m2 0h1m1 0h1m2 0h2m63 0h1m19 0h1m2 0h1m2 0h1m4 0h1m3 0h3m-107 1h2m1 0h1m65 0h2m4 0h1m10 0h1m4 0h1m2 0h1m4 0h1m2 0h1m1 0h1m1 0h1m-133 1h1m17 0h1m10 0h1m13 0h2m47 0h1m2 0h1m16 0h1m11 0h1m1 0h2m5 0h1m-133 1h1m6 0h1m20 0h2m12 0h1m51 0h2m14 0h3m1 0h1m1 0h3m2 0h2m2 0h1m6 0h1m-127 1h2m21 0h1m15 0h1m66 0h4m2 0h1m10 0h1m2 0h1m-126 1h1m6 0h1m15 0h1m58 0h2m22 0h1m5 0h4m9 0h1m-125 1h1m5 0h1m5 0h1m1 0h1m1 0h1m17 0h1m71 0h1m2 0h3m2 0h1m9 0h1m-126 1h1m8 0h3m1 0h1m7 0h1m2 0h1m10 0h1m55 0h1m3 0h1m2 0h1m12 0h1m2 0h1m-112 1h1m3 0h1m1 0h2m1 0h2m2 0h1m1 0h2m1 0h1m2 0h1m60 0h1m24 0h2m10 0h1m3 0h1m-126 1h1m3 0h2m1 0h2m2 0h2m2 0h1m3 0h1m2 0h2m54 0h2m1 0h1m20 0h3m1 0h3m3 0h1m9 0h1m-130 1h1m3 0h1m17 0h1m7 0h1m54 0h4m12 0h1m1 0h1m1 0h1m7 0h3m3 0h1m-120 1h1m5 0h1m2 0h1m2 0h1m15 0h1m1 0h1m52 0h5m13 0h2m1 0h4m4 0h5m1 0h1m8 0h1m-124 1h2m1 0h2m3 0h2m3 0h2m1 0h2m4 0h1m3 0h1m41 0h1m5 0h1m4 0h2m17 0h2m2 0h1m2 0h2m1 0h2m1 0h3m4 0h2m-117 1h1m2 0h1m1 0h4m2 0h1m4 0h2m1 0h1m48 0h1m2 0h1m24 0h4m2 0h3m4 0h1m1 0h1m9 0h1m-121 1h1m1 0h1m2 0h2m2 0h1m3 0h1m3 0h1m3 0h1m45 0h1m3 0h1m19 0h1m3 0h1m4 0h1m9 0h1m-109 1h3m2 0h3m4 0h1m2 0h1m6 0h1m2 0h1m2 0h1m7 0h1m4 0h1m47 0h4m5 0h1m7 0h1m1 0h1m10 0h1m-118 1h1m10 0h1m3 0h2m8 0h3m60 0h2m7 0h2m1 0h3m1 0h1m11 0h1m-117 1h2m11 0h1m12 0h2m27 0h1m34 0h1m1 0h1m4 0h1m-102 1h1m4 0h1m4 0h1m4 0h1m1 0h1m3 0h1m5 0h2m2 0h1m32 0h2m16 0h1m16 0h1m2 0h2m1 0h1m6 0h1m-109 1h1m1 0h1m12 0h1m11 0h1m8 0h2m43 0h1m4 0h1m1 0h2m18 0h2m6 0h1m-111 1h1m5 0h1m5 0h1m3 0h1m2 0h1m1 0h3m45 0h1m5 0h1m3 0h1m2 0h1m5 0h1m2 0h1m6 0h1m-109 1h1m9 0h1m20 0h2m2 0h1m4 0h1m1 0h2m33 0h3m6 0h1m4 0h1m2 0h2m1 0h2m1 0h1m4 0h1m3 0h1m9 0h2m-97 1h1m7 0h1m9 0h3m43 0h1m6 0h4m6 0h2m5 0h1m1 0h3m-101 1h1m3 0h2m2 0h1m17 0h2m3 0h1m36 0h1m4 0h3m3 0h1m8 0h1m1 0h1m2 0h1m2 0h2m-113 1h2m7 0h1m1 0h1m3 0h1m15 0h1m1 0h4m5 0h1m2 0h3m35 0h1m1 0h2m2 0h2m1 0h3m17 0h2m-114 1h2m7 0h1m1 0h1m6 0h3m9 0h6m2 0h1m4 0h4m6 0h1m29 0h4m1 0h1m1 0h1m13 0h3m5 0h1m-104 1h1m6 0h1m2 0h1m8 0h1m1 0h5m4 0h2m4 0h1m1 0h1m3 0h3m12 0h1m1 0h2m11 0h3m6 0h2m11 0h1m5 0h1m2 0h1m-110 1h2m12 0h1m1 0h3m4 0h1m2 0h2m4 0h4m6 0h2m1 0h1m1 0h1m2 0h2m1 0h1m8 0h2m1 0h1m15 0h1m2 0h2m8 0h3m1 0h1m-99 1h3m2 0h1m11 0h1m1 0h1m7 0h2m4 0h1m4 0h1m3 0h3m3 0h1m2 0h2m3 0h1m2 0h4m14 0h2m1 0h5m4 0h1m6 0h2m2 0h1m4 0h1m3 0h1m1 0h1m-100 1h1m6 0h1m3 0h2m10 0h2m1 0h3m9 0h2m1 0h4m1 0h2m1 0h1m4 0h1m6 0h2m2 0h1m1 0h1m4 0h1m7 0h1m4 0h1m10 0h1m-86 1h1m8 0h1m5 0h3m7 0h2m2 0h2m5 0h2m2 0h1m1 0h1m8 0h1m1 0h3m3 0h1m8 0h3m2 0h2m3 0h1m6 0h1m-98 1h1m3 0h1m3 0h2m5 0h3m2 0h1m2 0h1m1 0h1m1 0h1m11 0h2m2 0h2m1 0h1m3 0h1m13 0h4m2 0h1m1 0h1m3 0h1m5 0h1m2 0h1m-94 1h1m3 0h1m7 0h1m1 0h3m12 0h1m1 0h1m3 0h1m2 0h1m8 0h3m2 0h1m23 0h4m2 0h3m4 0h3m2 0h1m-88 1h1m3 0h1m1 0h1m8 0h1m15 0h3m34 0h1m1 0h1m2 0h1m1 0h2m1 0h1m2 0h2m-87 1h1m2 0h1m7 0h3m5 0h1m4 0h1m1 0h1m7 0h2m8 0h2m25 0h1m2 0h1m3 0h2m7 0h1m1 0h2m-86 1h2m4 0h2m2 0h2m1 0h1m6 0h1m3 0h2m5 0h1m2 0h1m7 0h1m3 0h1m1 0h1m17 0h2m-68 1h1m20 0h1m2 0h4m6 0h1m1 0h3m2 0h3m1 0h4m14 0h1m1 0h2m5 0h1m4 0h3m4 0h1m-76 1h1m6 0h1m4 0h1m4 0h1m1 0h1m3 0h1m1 0h5m7 0h2m4 0h1m11 0h3m3 0h1m4 0h1m7 0h1m4 0h1m-82 1h2m7 0h2m3 0h2m2 0h2m1 0h2m10 0h1m1 0h1m1 0h2m5 0h2m10 0h2m1 0h1m1 0h2m7 0h1m1 0h1m8 0h1m-84 1h1m4 0h3m1 0h1m4 0h2m3 0h2m1 0h1m3 0h2m19 0h3m3 0h2m3 0h1m1 0h3m1 0h1m1 0h1m5 0h1m4 0h1m1 0h2m-84 1h1m1 0h1m8 0h2m1 0h4m1 0h4m1 0h3m1 0h1m2 0h1m1 0h1m17 0h3m2 0h2m3 0h1m2 0h1m3 0h1m6 0h1m3 0h1m1 0h2m-72 1h1m9 0h1m1 0h4m2 0h2m4 0h2m10 0h1m1 0h1m2 0h1m5 0h1m5 0h1m1 0h1m9 0h1m1 0h2m-70 1h1m22 0h1m1 0h1m1 0h4m6 0h1m3 0h1m8 0h1m2 0h2m10 0h1m1 0h1m-65 1h4m1 0h1m8 0h1m9 0h4m2 0h2m9 0h3m4 0h1m3 0h2m4 0h2m2 0h3m-63 1h1m4 0h1m19 0h1m1 0h2m9 0h1m2 0h1m2 0h2m1 0h1m9 0h1m1 0h1m1 0h3m-69 1h2m6 0h1m7 0h1m1 0h1m25 0h1m2 0h2m1 0h1m8 0h2m4 0h1m-52 1h1m29 0h1m5 0h1m3 0h4m-50 1h1m5 0h1m4 0h1m24 0h1m1 0h4m1 0h1m1 0h1m1 0h3m-50 1h1m7 0h1m3 0h1m30 0h1m1 0h1m2 0h1m-47 1h1m3 0h1m1 0h1m2 0h1m32 0h1m1 0h1m-44 1h1m1 0h2m1 0h3m28 0h1m2 0h2m-34 1h1m3 0h1m9 0h1m3 0h2m1 0h1m1 0h1m1 0h1m5 0h1m1 0h1m-33 1h1m7 0h2m3 0h1m1 0h1m2 0h3m1 0h1m6 0h1"/>
<path stroke="#a5be6b" d="M0 0m31 1h1m9 0h1m7 0h3m5 0h2m9 0h4m3 0h1m1 0h1m2 0h1m1 0h2m3 0h1m1 0h1m1 0h1m9 0h2m6 0h1m-79 1h1m6 0h1m1 0h1m4 0h1m5 0h2m1 0h1m1 0h1m4 0h1m7 0h1m1 0h3m7 0h1m4 0h5m9 0h2m2 0h1m4 0h1m2 0h1m-70 1h1m1 0h1m15 0h1m2 0h1m5 0h1m3 0h1m5 0h1m6 0h1m21 0h1m1 0h1m-83 1h2m23 0h4m3 0h1m3 0h1m4 0h1m8 0h4m23 0h1m1 0h1m8 0h1m-92 1h1m10 0h1m7 0h1m2 0h1m2 0h1m1 0h1m4 0h1m1 0h1m21 0h2m14 0h2m17 0h2m-83 1h1m2 0h1m5 0h1m5 0h1m1 0h1m6 0h1m20 0h1m15 0h1m1 0h2m16 0h1m2 0h1m-96 1h1m1 0h1m8 0h1m1 0h1m10 0h1m3 0h1m24 0h2m3 0h2m10 0h1m1 0h2m1 0h1m18 0h2m-95 1h1m13 0h1m1 0h1m1 0h1m8 0h1m13 0h1m11 0h1m6 0h1m2 0h1m31 0h1m-99 1h1m12 0h1m5 0h1m8 0h1m13 0h3m17 0h3m11 0h3m22 0h1m-99 1h1m10 0h1m8 0h1m1 0h1m13 0h1m3 0h2m2 0h1m12 0h1m4 0h1m31 0h1m2 0h1m-96 1h1m35 0h1m6 0h1m9 0h1m5 0h2m-63 1h1m1 0h2m34 0h3m1 0h3m6 0h1m8 0h2m18 0h1m1 0h1m-89 1h1m1 0h1m7 0h1m34 0h1m1 0h1m5 0h3m2 0h1m8 0h2m1 0h1m18 0h1m12 0h1m3 0h1m-99 1h1m15 0h1m8 0h1m14 0h1m2 0h1m2 0h2m4 0h3m2 0h1m3 0h2m5 0h2m28 0h1m-104 1h3m4 0h1m20 0h1m5 0h1m14 0h1m6 0h1m1 0h2m1 0h2m6 0h1m1 0h1m8 0h2m1 0h1m2 0h1m11 0h2m5 0h1m-108 1h1m4 0h1m8 0h1m19 0h1m2 0h1m1 0h1m3 0h1m3 0h1m8 0h1m5 0h1m4 0h1m2 0h1m7 0h3m3 0h2m15 0h2m-90 1h2m9 0h1m2 0h2m6 0h2m4 0h2m2 0h1m1 0h1m8 0h1m2 0h1m4 0h2m3 0h1m12 0h1m3 0h1m-91 1h1m3 0h1m5 0h1m7 0h1m3 0h2m6 0h2m7 0h2m10 0h1m10 0h3m3 0h2m1 0h1m3 0h3m18 0h1m14 0h1m-109 1h2m18 0h1m7 0h1m6 0h2m7 0h2m2 0h1m12 0h1m2 0h1m4 0h1m16 0h1m4 0h2m14 0h1m-112 1h1m7 0h1m9 0h1m5 0h1m7 0h1m6 0h1m8 0h2m1 0h1m20 0h1m8 0h1m2 0h2m2 0h1m1 0h4m1 0h1m1 0h1m2 0h1m2 0h1m8 0h1m-112 1h2m21 0h1m1 0h1m5 0h2m3 0h2m25 0h1m6 0h2m6 0h3m4 0h1m5 0h1m1 0h1m3 0h1m14 0h2m1 0h1m-111 1h1m10 0h2m4 0h1m7 0h1m2 0h1m28 0h1m7 0h1m8 0h1m4 0h3m1 0h1m3 0h1m14 0h1m4 0h1m-110 1h1m6 0h1m14 0h1m3 0h1m2 0h1m4 0h1m14 0h1m8 0h2m6 0h2m17 0h2m4 0h2m9 0h1m1 0h1m7 0h1m-115 1h1m1 0h1m1 0h1m12 0h1m10 0h1m2 0h1m1 0h1m16 0h1m9 0h1m1 0h3m2 0h1m1 0h3m20 0h1m12 0h1m6 0h1m1 0h1m-108 1h1m24 0h1m3 0h1m7 0h2m5 0h2m4 0h1m2 0h1m8 0h2m1 0h1m3 0h1m1 0h1m31 0h2m1 0h1m-112 1h1m6 0h1m6 0h2m14 0h2m3 0h1m5 0h1m18 0h1m11 0h1m1 0h4m27 0h1m-110 1h1m7 0h1m3 0h1m5 0h1m18 0h1m40 0h1m2 0h1m15 0h1m11 0h1m-115 1h1m1 0h1m1 0h3m2 0h1m12 0h2m58 0h1m3 0h1m27 0h1m5 0h1m-119 1h1m5 0h1m5 0h1m8 0h1m37 0h1m6 0h1m16 0h1m16 0h2m11 0h3m-119 1h1m3 0h1m5 0h1m8 0h1m4 0h1m33 0h2m4 0h1m38 0h1m12 0h1m7 0h1m-126 1h1m8 0h2m49 0h2m13 0h1m3 0h1m9 0h1m28 0h1m-119 1h1m7 0h2m16 0h1m26 0h1m6 0h1m18 0h1m9 0h1m18 0h1m15 0h1m-101 1h1m1 0h1m15 0h1m6 0h1m3 0h1m1 0h2m20 0h2m12 0h3m13 0h2m16 0h1m-126 1h1m10 0h1m10 0h1m4 0h1m12 0h1m9 0h1m2 0h1m1 0h1m36 0h1m1 0h1m27 0h2m-120 1h1m9 0h1m1 0h1m3 0h4m3 0h3m4 0h1m2 0h1m8 0h1m1 0h1m4 0h1m2 0h1m1 0h4m30 0h1m34 0h1m-129 1h1m2 0h2m1 0h1m8 0h1m1 0h1m3 0h1m2 0h1m1 0h1m3 0h9m13 0h1m1 0h1m6 0h2m3 0h1m14 0h1m10 0h1m20 0h1m15 0h1m-127 1h1m7 0h1m1 0h4m4 0h1m8 0h2m1 0h1m1 0h1m25 0h1m21 0h1m10 0h2m24 0h1m2 0h1m3 0h1m1 0h1m-130 1h1m11 0h1m2 0h1m6 0h1m7 0h2m19 0h1m19 0h2m3 0h1m19 0h1m16 0h1m-116 1h2m9 0h1m3 0h1m4 0h3m9 0h2m2 0h1m4 0h2m31 0h3m5 0h1m1 0h1m7 0h1m1 0h2m3 0h1m14 0h1m11 0h1m5 0h1m-132 1h1m3 0h1m9 0h2m4 0h1m1 0h1m8 0h1m1 0h3m2 0h2m9 0h1m11 0h1m11 0h1m11 0h1m7 0h1m30 0h2m-112 1h1m5 0h1m2 0h1m10 0h1m4 0h1m9 0h1m4 0h1m5 0h2m25 0h1m5 0h2m5 0h1m8 0h1m4 0h1m7 0h1m4 0h1m2 0h1m-134 1h1m3 0h1m3 0h1m8 0h1m5 0h1m1 0h1m1 0h1m3 0h2m6 0h1m3 0h1m3 0h1m12 0h1m20 0h1m14 0h2m21 0h1m7 0h2m2 0h3m-127 1h1m3 0h1m11 0h3m5 0h1m5 0h1m1 0h1m1 0h1m38 0h3m15 0h2m1 0h1m31 0h2m-128 1h1m2 0h2m3 0h1m9 0h1m9 0h1m3 0h1m11 0h1m3 0h2m2 0h1m22 0h1m14 0h1m2 0h1m24 0h1m-124 1h1m11 0h1m5 0h1m2 0h3m8 0h1m9 0h1m5 0h1m7 0h2m7 0h1m1 0h1m3 0h2m3 0h1m19 0h4m25 0h1m-130 1h1m3 0h1m6 0h1m1 0h3m19 0h1m4 0h1m3 0h1m8 0h2m1 0h1m1 0h3m8 0h5m3 0h2m1 0h5m9 0h1m8 0h1m-100 1h1m1 0h1m6 0h1m21 0h2m5 0h3m8 0h1m5 0h1m8 0h2m3 0h1m4 0h7m18 0h2m22 0h1m1 0h1m-128 1h1m3 0h1m4 0h1m20 0h1m2 0h1m7 0h2m12 0h1m1 0h1m2 0h2m3 0h1m3 0h1m1 0h4m2 0h6m5 0h3m2 0h1m2 0h2m2 0h1m1 0h1m21 0h1m4 0h1m-130 1h1m9 0h1m9 0h1m5 0h1m8 0h1m3 0h3m4 0h1m8 0h1m4 0h1m1 0h1m2 0h2m2 0h5m1 0h4m1 0h1m1 0h1m3 0h1m1 0h2m4 0h2m2 0h1m6 0h1m23 0h1m-132 1h2m17 0h1m1 0h2m4 0h1m6 0h1m5 0h1m1 0h1m12 0h1m4 0h2m3 0h1m1 0h1m2 0h1m1 0h1m1 0h3m1 0h1m1 0h1m1 0h1m1 0h1m3 0h1m1 0h1m7 0h1m1 0h1m4 0h1m8 0h2m10 0h1m1 0h2m4 0h1m2 0h1m-135 1h1m9 0h2m6 0h1m3 0h4m2 0h1m3 0h1m4 0h1m20 0h1m2 0h1m1 0h2m5 0h4m2 0h1m2 0h1m1 0h1m3 0h2m4 0h3m2 0h2m5 0h1m5 0h3m11 0h1m10 0h1m-138 1h1m9 0h2m9 0h1m7 0h3m1 0h1m1 0h1m10 0h1m12 0h3m2 0h1m1 0h2m4 0h1m1 0h3m3 0h2m1 0h6m12 0h1m11 0h1m11 0h1m2 0h1m2 0h3m-126 1h1m8 0h1m2 0h4m2 0h1m7 0h1m3 0h1m15 0h2m2 0h4m2 0h2m10 0h1m3 0h2m2 0h1m1 0h1m1 0h2m8 0h1m8 0h1m2 0h1m2 0h1m12 0h2m2 0h3m-126 1h1m4 0h1m17 0h1m7 0h1m5 0h1m13 0h2m17 0h1m6 0h2m1 0h1m2 0h2m5 0h1m3 0h4m11 0h1m14 0h1m-131 1h1m3 0h1m1 0h1m3 0h1m4 0h1m1 0h1m1 0h1m3 0h1m6 0h2m26 0h2m17 0h3m6 0h5m6 0h2m1 0h1m2 0h1m4 0h1m5 0h1m3 0h1m8 0h1m5 0h1m-127 1h1m1 0h3m9 0h1m1 0h3m3 0h3m3 0h1m14 0h1m7 0h1m19 0h2m6 0h3m1 0h1m10 0h1m29 0h1m-132 1h1m2 0h1m3 0h1m3 0h2m6 0h1m15 0h1m21 0h1m7 0h1m2 0h2m10 0h2m4 0h2m17 0h1m9 0h3m14 0h1m-130 1h1m1 0h2m3 0h2m2 0h1m19 0h1m30 0h4m14 0h1m2 0h1m22 0h1m5 0h1m7 0h1m6 0h1m-129 1h1m2 0h2m4 0h1m37 0h1m15 0h8m2 0h2m5 0h3m2 0h1m10 0h2m22 0h2m5 0h1m3 0h1m-133 1h1m8 0h2m5 0h1m4 0h1m39 0h1m3 0h2m9 0h1m4 0h1m2 0h2m1 0h1m22 0h2m17 0h1m1 0h1m-130 1h2m2 0h1m13 0h2m88 0h2m15 0h6m-132 1h1m16 0h2m82 0h1m15 0h1m4 0h1m3 0h1m1 0h1m2 0h1m-122 1h1m31 0h1m45 0h1m11 0h1m7 0h1m19 0h1m3 0h1m1 0h1m-131 1h1m11 0h1m2 0h1m21 0h1m58 0h2m5 0h1m13 0h1m1 0h1m4 0h1m1 0h2m-134 1h1m8 0h2m10 0h1m5 0h2m14 0h1m59 0h1m5 0h1m13 0h1m5 0h1m2 0h1m-127 1h1m5 0h1m4 0h1m3 0h1m2 0h1m3 0h1m74 0h2m5 0h1m2 0h1m7 0h1m1 0h1m1 0h3m2 0h1m-132 1h1m5 0h2m4 0h1m7 0h1m1 0h1m1 0h1m4 0h1m63 0h1m35 0h2m-131 1h1m1 0h1m8 0h1m5 0h2m1 0h4m4 0h2m85 0h1m5 0h1m7 0h1m4 0h1m2 0h1m-132 1h1m5 0h1m5 0h1m1 0h1m1 0h1m5 0h2m84 0h1m15 0h1m3 0h1m-131 1h1m1 0h1m1 0h1m3 0h1m8 0h2m5 0h2m16 0h1m80 0h1m2 0h1m-126 1h2m1 0h1m8 0h1m1 0h2m1 0h2m22 0h2m82 0h1m3 0h1m-129 1h1m4 0h1m9 0h1m1 0h1m22 0h1m-43 1h1m1 0h1m3 0h1m2 0h1m3 0h1m3 0h1m24 0h1m66 0h2m6 0h1m6 0h1m8 0h1m-139 1h1m1 0h1m1 0h3m7 0h1m4 0h1m95 0h1m6 0h2m3 0h1m-125 1h2m3 0h1m5 0h1m5 0h1m2 0h2m100 0h1m-125 1h1m2 0h1m2 0h1m1 0h1m10 0h1m3 0h1m89 0h1m5 0h1m14 0h1m-14 1h1m-121 1h1m20 0h1m110 0h1m-135 1h2m13 0h2m3 0h1m110 0h1m5 0h1m-135 1h1m14 0h3m101 0h1m2 0h1m5 0h2m-133 1h1m3 0h1m2 0h1m8 0h1m2 0h1m104 0h2m5 0h1m-120 1h1m106 0h1m4 0h3m2 0h2m7 0h1m-131 1h1m3 0h2m9 0h1m5 0h1m89 0h1m4 0h1m7 0h1m-133 1h1m7 0h1m4 0h1m7 0h2m4 0h4m92 0h1m2 0h1m1 0h1m3 0h1m-132 1h2m18 0h2m5 0h1m2 0h1m81 0h1m5 0h1m5 0h1m2 0h1m-112 1h1m2 0h1m7 0h1m2 0h2m80 0h3m2 0h2m2 0h1m1 0h1m2 0h2m-121 1h2m8 0h1m8 0h1m1 0h1m83 0h1m1 0h1m1 0h2m5 0h3m-109 1h2m3 0h1m74 0h1m15 0h1m2 0h1m10 0h1m3 0h1m-115 1h1m4 0h1m73 0h1m23 0h1m10 0h1m-132 1h1m18 0h1m100 0h2m6 0h1m3 0h1m-131 1h2m15 0h2m2 0h1m96 0h3m-118 1h1m1 0h1m1 0h1m4 0h1m5 0h2m1 0h1m6 0h1m100 0h1m-130 1h1m5 0h1m3 0h2m5 0h2m1 0h1m7 0h2m89 0h2m-122 1h1m3 0h1m5 0h1m4 0h1m5 0h1m7 0h2m80 0h2m7 0h1m9 0h2m-124 1h1m12 0h2m6 0h2m80 0h1m7 0h1m10 0h1m-124 1h1m2 0h1m6 0h1m11 0h1m87 0h1m-111 1h1m2 0h1m10 0h2m82 0h1m4 0h4m4 0h1m9 0h1m2 0h1m-128 1h1m1 0h1m15 0h1m3 0h1m83 0h3m5 0h1m10 0h2m-127 1h1m5 0h1m15 0h1m85 0h1m2 0h1m3 0h1m9 0h2m-125 1h1m2 0h1m16 0h1m82 0h1m5 0h2m13 0h2m-125 1h2m1 0h1m16 0h1m83 0h1m3 0h4m11 0h1m-123 1h2m17 0h1m83 0h1m3 0h1m2 0h1m-107 1h1m2 0h3m9 0h1m88 0h1m-110 1h2m6 0h1m1 0h1m9 0h2m73 0h1m10 0h1m1 0h2m-102 1h1m2 0h1m6 0h1m1 0h3m79 0h2m2 0h1m1 0h2m5 0h1m-113 1h1m1 0h1m1 0h1m10 0h3m82 0h2m3 0h2m3 0h1m-94 1h4m5 0h1m6 0h1m58 0h1m5 0h1m7 0h1m-109 1h1m4 0h1m13 0h7m1 0h1m65 0h2m2 0h1m2 0h1m1 0h1m4 0h1m1 0h1m9 0h1m-114 1h1m11 0h1m2 0h1m2 0h1m68 0h2m5 0h2m3 0h1m3 0h1m-108 1h1m9 0h1m13 0h1m5 0h2m55 0h1m3 0h2m5 0h1m3 0h1m15 0h1m-101 1h2m10 0h1m71 0h2m4 0h2m4 0h1m-107 1h1m19 0h2m59 0h1m5 0h1m11 0h1m1 0h1m1 0h1m-112 1h1m1 0h2m3 0h2m1 0h2m8 0h1m1 0h3m4 0h1m8 0h1m45 0h5m6 0h1m5 0h2m-103 1h1m10 0h1m10 0h1m2 0h1m1 0h2m4 0h2m4 0h2m6 0h1m7 0h1m13 0h2m12 0h1m1 0h2m9 0h1m3 0h1m1 0h1m1 0h1m4 0h2m-90 1h1m3 0h1m3 0h1m5 0h1m3 0h1m8 0h3m1 0h1m3 0h3m7 0h5m24 0h3m11 0h3m-89 1h1m4 0h1m5 0h4m10 0h5m2 0h1m9 0h1m19 0h2m5 0h1m1 0h1m1 0h2m1 0h1m2 0h1m9 0h2m-89 1h1m2 0h2m1 0h1m4 0h4m10 0h1m2 0h2m2 0h1m6 0h2m20 0h1m4 0h2m19 0h1m-94 1h1m1 0h1m6 0h1m9 0h1m1 0h1m15 0h1m2 0h1m25 0h1m25 0h1m-98 1h2m8 0h2m1 0h1m11 0h2m15 0h1m24 0h1m16 0h2m-90 1h1m3 0h2m5 0h2m1 0h3m11 0h1m2 0h2m39 0h1m14 0h1m-88 1h1m3 0h1m3 0h1m4 0h2m13 0h1m6 0h1m38 0h2m11 0h1m-86 1h1m3 0h1m5 0h1m14 0h1m5 0h1m17 0h1m20 0h2m7 0h1m1 0h2m-82 1h1m1 0h2m2 0h1m1 0h2m1 0h2m1 0h1m8 0h1m5 0h1m38 0h1m3 0h1m8 0h1m2 0h1m-80 1h1m2 0h2m13 0h1m1 0h2m7 0h1m5 0h5m1 0h1m21 0h3m10 0h1m1 0h1m-81 1h5m5 0h1m1 0h1m9 0h1m5 0h1m1 0h1m1 0h2m1 0h1m1 0h1m1 0h1m1 0h1m2 0h2m17 0h1m1 0h1m4 0h1m3 0h1m4 0h1m-79 1h2m4 0h1m5 0h3m8 0h1m1 0h3m3 0h2m6 0h1m2 0h1m5 0h1m20 0h2m2 0h1m1 0h2m1 0h1m-51 1h2m5 0h2m8 0h4m12 0h1m4 0h1m8 0h2m-61 1h2m15 0h1m2 0h1m1 0h1m2 0h1m8 0h1m1 0h1m7 0h2m2 0h1m9 0h1m-58 1h1m2 0h1m1 0h1m10 0h1m10 0h1m13 0h1m1 0h2m2 0h2m6 0h1m-63 1h1m7 0h2m1 0h1m1 0h1m35 0h1m1 0h2m-48 1h2m1 0h1m4 0h1m33 0h1m2 0h1m11 0h1m1 0h1m-64 1h2m1 0h2m4 0h1m-12 1h3m4 0h1m39 0h3m-43 1h1m7 0h1m38 0h1m-38 1h1m29 1h1m1 0h1m1 0h1m-3 1h1m3 0h1m-42 1h2m1 0h3m17 0h1m4 0h1m3 0h1m-27 1h1m12 0h1m11 0h2"/>
<path stroke="#aebe67" d="M0 0m32 1h1m13 0h1m1 0h1m3 0h1m11 0h1m8 0h1m2 0h1m4 0h1m6 0h1m10 0h1m-68 1h1m31 0h1m5 0h1m3 0h1m16 0h1m5 0h1m4 0h1m2 0h1m8 0h1m-63 1h1m4 0h1m4 0h1m2 0h2m1 0h1m2 0h1m20 0h1m7 0h3m2 0h1m4 0h1m-80 1h1m11 0h1m1 0h1m2 0h1m2 0h1m16 0h1m2 0h1m2 0h1m3 0h1m17 0h2m4 0h1m4 0h1m3 0h1m-71 1h1m4 0h1m5 0h1m28 0h1m20 0h1m7 0h1m-85 1h1m10 0h2m1 0h2m5 0h1m8 0h1m6 0h1m14 0h1m3 0h2m14 0h1m-75 1h1m1 0h1m10 0h1m3 0h2m1 0h2m8 0h1m13 0h1m5 0h1m2 0h1m23 0h2m20 0h1m-100 1h1m6 0h1m5 0h1m3 0h1m6 0h1m5 0h1m19 0h1m3 0h1m5 0h2m9 0h1m24 0h1m-84 1h1m14 0h2m16 0h2m5 0h1m1 0h1m9 0h2m5 0h1m7 0h1m10 0h1m4 0h3m-102 1h1m21 0h2m2 0h1m4 0h1m15 0h1m3 0h3m2 0h2m36 0h2m4 0h1m2 0h1m-105 1h4m1 0h2m7 0h2m1 0h1m7 0h1m4 0h2m22 0h1m1 0h1m1 0h2m36 0h2m5 0h1m-102 1h1m12 0h1m9 0h1m3 0h1m21 0h1m1 0h1m1 0h1m2 0h3m2 0h2m4 0h3m2 0h1m10 0h1m4 0h1m8 0h1m-97 1h1m10 0h1m9 0h2m4 0h1m10 0h2m5 0h2m14 0h1m1 0h1m7 0h1m2 0h1m6 0h2m4 0h1m9 0h2m5 0h1m-109 1h1m4 0h1m6 0h1m13 0h1m5 0h1m2 0h6m7 0h1m16 0h1m3 0h1m4 0h1m8 0h2m1 0h1m1 0h1m1 0h1m11 0h1m-100 1h1m5 0h1m2 0h1m13 0h1m13 0h1m4 0h1m4 0h1m3 0h1m3 0h1m2 0h1m6 0h1m7 0h2m2 0h2m1 0h1m2 0h1m2 0h1m1 0h1m2 0h1m-96 1h1m3 0h2m6 0h1m18 0h1m11 0h3m1 0h1m9 0h1m4 0h1m4 0h3m1 0h1m7 0h2m9 0h1m2 0h1m2 0h1m6 0h1m-97 1h1m17 0h1m11 0h1m2 0h4m7 0h1m4 0h1m3 0h1m8 0h1m23 0h1m2 0h2m5 0h1m3 0h1m-101 1h1m6 0h2m31 0h1m5 0h1m17 0h3m11 0h1m12 0h1m5 0h1m-106 1h2m4 0h3m15 0h2m11 0h1m2 0h1m12 0h1m14 0h1m2 0h1m16 0h1m3 0h1m4 0h1m1 0h1m-102 1h1m1 0h1m4 0h1m2 0h1m24 0h2m1 0h2m13 0h2m11 0h1m5 0h1m4 0h2m1 0h1m9 0h1m6 0h1m1 0h1m-101 1h3m20 0h3m1 0h1m1 0h1m8 0h1m11 0h1m4 0h1m28 0h1m4 0h1m3 0h1m3 0h1m5 0h1m3 0h1m-105 1h1m3 0h1m1 0h1m4 0h2m7 0h1m6 0h1m1 0h1m5 0h1m2 0h1m32 0h1m6 0h1m8 0h1m5 0h2m19 0h1m-118 1h1m2 0h2m18 0h1m12 0h2m1 0h1m1 0h2m9 0h1m1 0h1m1 0h1m1 0h2m7 0h1m6 0h1m8 0h1m3 0h2m1 0h1m5 0h1m10 0h1m3 0h1m-101 1h1m3 0h1m1 0h1m6 0h1m15 0h1m4 0h1m4 0h1m2 0h1m3 0h1m3 0h1m3 0h1m3 0h2m1 0h1m3 0h2m20 0h2m8 0h1m8 0h1m-112 1h1m6 0h2m5 0h1m9 0h1m4 0h1m5 0h2m4 0h1m2 0h5m8 0h1m1 0h1m9 0h1m1 0h3m4 0h2m7 0h2m10 0h1m2 0h2m1 0h1m6 0h1m-114 1h1m16 0h1m8 0h1m10 0h1m1 0h3m1 0h4m2 0h2m12 0h2m6 0h2m11 0h1m4 0h1m2 0h1m10 0h3m-112 1h1m4 0h1m14 0h1m2 0h1m1 0h1m15 0h1m4 0h3m17 0h1m2 0h1m8 0h1m7 0h1m12 0h1m10 0h1m4 0h1m2 0h1m-109 1h1m8 0h1m2 0h3m5 0h1m11 0h2m1 0h1m9 0h1m11 0h1m11 0h1m1 0h2m2 0h1m12 0h1m1 0h1m1 0h1m8 0h1m4 0h1m2 0h1m-124 1h2m22 0h1m1 0h2m18 0h2m8 0h1m1 0h2m2 0h1m10 0h2m11 0h1m1 0h1m26 0h2m5 0h1m-121 1h2m20 0h1m3 0h1m17 0h2m10 0h1m12 0h1m3 0h1m1 0h1m8 0h3m2 0h1m-94 1h2m4 0h2m5 0h1m12 0h1m2 0h1m2 0h1m11 0h1m9 0h3m3 0h2m13 0h2m1 0h1m11 0h1m2 0h1m13 0h1m2 0h1m6 0h1m3 0h1m-117 1h1m6 0h1m13 0h2m3 0h2m4 0h1m5 0h2m9 0h1m6 0h1m5 0h1m1 0h1m4 0h3m1 0h3m11 0h2m13 0h1m-107 1h1m3 0h1m4 0h2m15 0h1m7 0h2m5 0h1m2 0h2m3 0h1m1 0h3m7 0h1m3 0h2m10 0h1m12 0h2m3 0h1m11 0h1m14 0h1m2 0h1m-127 1h2m1 0h1m1 0h1m10 0h1m8 0h3m2 0h1m4 0h2m3 0h2m1 0h1m4 0h4m2 0h1m8 0h1m3 0h2m9 0h2m11 0h1m5 0h1m14 0h1m-111 1h1m9 0h1m4 0h1m8 0h2m4 0h2m1 0h1m1 0h2m1 0h3m2 0h1m5 0h2m1 0h1m42 0h1m12 0h1m3 0h1m-115 1h1m23 0h1m1 0h1m1 0h1m1 0h1m10 0h3m2 0h1m5 0h1m3 0h1m1 0h2m6 0h1m1 0h1m2 0h1m8 0h2m13 0h3m23 0h1m3 0h1m2 0h1m-130 1h1m1 0h1m11 0h1m9 0h1m2 0h1m2 0h2m4 0h1m6 0h1m9 0h4m2 0h1m2 0h1m1 0h1m1 0h1m1 0h1m4 0h3m5 0h1m1 0h2m7 0h3m26 0h1m1 0h2m1 0h1m3 0h1m-119 1h2m6 0h1m6 0h2m7 0h1m5 0h2m6 0h2m8 0h1m2 0h3m6 0h1m2 0h1m3 0h1m1 0h6m1 0h1m3 0h1m1 0h1m4 0h1m14 0h1m8 0h1m1 0h4m1 0h2m-130 1h3m2 0h1m4 0h2m9 0h1m6 0h2m20 0h1m7 0h1m4 0h2m4 0h2m5 0h4m1 0h1m1 0h2m2 0h3m25 0h1m10 0h1m-131 1h1m3 0h1m1 0h1m6 0h2m7 0h1m3 0h2m1 0h1m5 0h1m7 0h1m5 0h3m1 0h1m3 0h2m4 0h1m3 0h1m9 0h1m4 0h1m1 0h2m5 0h2m1 0h1m2 0h3m1 0h2m9 0h1m3 0h1m2 0h2m4 0h1m5 0h1m1 0h2m-135 1h1m3 0h1m1 0h1m2 0h7m8 0h2m2 0h1m3 0h1m2 0h1m7 0h1m2 0h2m6 0h3m1 0h1m1 0h1m17 0h1m3 0h2m1 0h3m1 0h1m1 0h2m5 0h1m12 0h1m7 0h1m14 0h1m-130 1h2m7 0h2m5 0h2m1 0h1m10 0h1m8 0h2m5 0h2m3 0h1m1 0h2m3 0h1m14 0h1m3 0h1m7 0h2m6 0h4m1 0h1m11 0h1m-117 1h2m14 0h2m15 0h1m7 0h1m1 0h5m4 0h1m3 0h2m1 0h4m17 0h1m16 0h1m15 0h1m4 0h1m7 0h1m-125 1h1m18 0h1m2 0h1m4 0h4m2 0h1m5 0h1m2 0h2m7 0h1m4 0h1m9 0h4m7 0h2m1 0h1m14 0h1m4 0h2m15 0h1m-118 1h1m4 0h1m6 0h1m8 0h1m8 0h1m7 0h1m2 0h2m7 0h2m2 0h1m4 0h1m7 0h1m2 0h2m2 0h1m3 0h1m2 0h1m8 0h3m39 0h1m-131 1h1m1 0h1m1 0h1m11 0h2m1 0h1m5 0h1m2 0h1m7 0h1m1 0h1m11 0h1m5 0h1m12 0h3m2 0h1m5 0h3m12 0h3m24 0h1m7 0h1m-135 1h1m10 0h1m10 0h1m33 0h2m1 0h2m2 0h4m2 0h3m1 0h2m18 0h2m2 0h3m4 0h1m24 0h1m5 0h1m-133 1h1m16 0h1m11 0h1m24 0h1m5 0h3m1 0h3m6 0h2m6 0h1m1 0h3m3 0h2m1 0h2m2 0h2m1 0h1m3 0h1m4 0h2m1 0h3m19 0h1m-120 1h1m46 0h2m2 0h2m10 0h1m3 0h1m1 0h1m1 0h1m2 0h3m6 0h1m2 0h1m1 0h1m5 0h2m1 0h1m10 0h1m1 0h1m-109 1h1m2 0h1m8 0h2m7 0h1m20 0h3m1 0h1m4 0h1m5 0h1m3 0h1m3 0h3m1 0h1m3 0h1m3 0h1m3 0h1m4 0h2m3 0h2m11 0h1m6 0h1m-127 1h1m13 0h2m1 0h1m9 0h3m42 0h1m2 0h2m3 0h3m9 0h1m7 0h1m1 0h2m6 0h2m7 0h2m5 0h1m-129 1h1m13 0h2m1 0h1m1 0h1m1 0h5m5 0h1m42 0h2m18 0h1m2 0h1m1 0h1m3 0h3m6 0h2m7 0h1m2 0h1m-128 1h1m8 0h1m9 0h1m4 0h2m51 0h2m4 0h1m3 0h1m3 0h1m7 0h5m2 0h1m2 0h1m4 0h2m8 0h2m2 0h1m8 0h1m-137 1h1m4 0h1m1 0h2m13 0h1m9 0h1m44 0h3m7 0h2m8 0h3m5 0h1m6 0h3m8 0h1m3 0h2m-122 1h3m1 0h1m6 0h1m61 0h1m3 0h2m13 0h1m4 0h1m1 0h1m2 0h1m3 0h1m1 0h1m5 0h1m7 0h1m2 0h1m-133 1h1m2 0h1m1 0h1m9 0h4m1 0h1m59 0h2m3 0h1m13 0h2m4 0h2m7 0h2m2 0h1m8 0h1m4 0h1m-128 1h1m9 0h1m2 0h1m1 0h1m1 0h1m59 0h1m16 0h2m5 0h3m5 0h1m3 0h1m1 0h1m2 0h1m-124 1h1m3 0h1m3 0h1m75 0h2m27 0h2m3 0h1m2 0h1m-118 1h1m5 0h1m6 0h1m10 0h2m55 0h2m23 0h1m1 0h3m3 0h1m11 0h1m3 0h1m-135 1h1m1 0h1m25 0h1m58 0h1m33 0h3m4 0h2m-130 1h1m4 0h1m7 0h1m108 0h1m-119 1h1m13 0h1m92 0h2m8 0h2m8 0h1m2 0h1m-137 1h1m19 0h2m83 0h1m7 0h2m7 0h1m3 0h1m6 0h1m-131 1h1m10 0h1m98 0h1m10 0h1m6 0h1m4 0h3m-136 1h1m2 0h2m11 0h2m1 0h1m2 0h2m85 0h1m14 0h1m7 0h1m2 0h1m-130 1h2m11 0h1m2 0h1m3 0h1m94 0h1m9 0h1m-135 1h1m5 0h1m4 0h1m7 0h1m2 0h1m1 0h1m100 0h1m3 0h1m8 0h1m-139 1h1m5 0h1m2 0h2m2 0h2m5 0h1m91 0h1m13 0h1m4 0h1m4 0h1m-137 1h1m9 0h3m5 0h1m3 0h1m91 0h1m7 0h1m5 0h1m5 0h1m1 0h1m-133 1h1m1 0h1m5 0h1m5 0h1m95 0h1m12 0h1m4 0h1m1 0h1m1 0h1m-135 1h2m6 0h5m113 0h3m1 0h1m4 0h1m-133 1h1m4 0h2m1 0h2m2 0h1m3 0h1m105 0h3m1 0h1m-130 1h1m7 0h1m1 0h2m7 0h1m105 0h1m2 0h1m-130 1h1m7 0h1m5 0h1m1 0h1m3 0h1m103 0h2m1 0h4m-126 1h1m6 0h1m4 0h2m1 0h1m93 0h1m10 0h2m3 0h1m-129 1h1m2 0h1m1 0h1m4 0h4m4 0h3m91 0h1m3 0h1m-113 1h1m1 0h1m2 0h1m1 0h2m99 0h1m10 0h1m7 0h1m-121 1h2m4 0h1m104 0h1m1 0h1m-121 1h1m5 0h1m3 0h3m102 0h1m4 0h1m4 0h1m5 0h1m-139 1h1m5 0h2m6 0h4m106 0h1m2 0h1m2 0h1m3 0h1m2 0h2m-134 1h2m1 0h1m8 0h1m2 0h1m101 0h2m3 0h1m2 0h1m3 0h1m-132 1h2m8 0h1m109 0h1m9 0h1m-132 1h1m4 0h1m13 0h1m100 0h2m1 0h1m-119 1h1m3 0h1m2 0h1m11 0h1m92 0h1m2 0h1m1 0h1m4 0h1m-130 1h1m2 0h2m5 0h7m6 0h1m6 0h1m-29 1h1m10 0h2m1 0h1m5 0h2m6 0h1m94 0h1m-125 1h1m2 0h1m2 0h1m9 0h1m2 0h1m1 0h1m7 0h1m83 0h1m8 0h1m4 0h1m-128 1h1m15 1h1m2 0h1m-16 1h1m2 0h1m2 0h2m4 0h1m1 0h1m3 0h1m-18 1h1m4 0h1m2 0h2m-14 1h4m1 0h1m3 0h2m1 0h1m2 0h1m1 0h2m-15 1h1m5 0h1m2 0h1m1 0h1m1 0h1m112 0h1m-130 1h1m3 0h1m2 0h1m4 0h2m104 0h1m12 0h1m-133 1h1m4 0h1m7 0h1m-14 1h2m3 0h2m2 0h1m12 0h1m109 0h1m-127 1h1m1 0h2m107 0h1m12 0h1m-122 1h1m-3 1h1m-3 1h1m4 0h1m6 0h2m-14 1h2m6 0h1m96 0h1m-104 1h1m2 0h1m99 0h1m5 0h1m-109 1h1m1 0h1m0 1h1m4 0h1m-9 1h1m2 0h1m4 0h1m-1 1h1m12 0h2m77 0h2m2 0h3m-109 1h3m1 0h5m3 0h1m7 0h1m10 0h1m71 0h1m1 0h1m3 0h1m4 0h1m-114 1h1m3 0h2m1 0h1m1 0h2m8 0h1m9 0h1m2 0h1m71 0h1m1 0h1m5 0h2m-106 1h1m3 0h1m10 0h2m3 0h1m74 0h1m5 0h1m2 0h2m5 0h1m1 0h1m-117 1h1m1 0h1m4 0h1m7 0h2m3 0h1m6 0h1m65 0h1m1 0h1m2 0h1m3 0h1m4 0h2m3 0h1m-113 1h1m4 0h2m11 0h1m3 0h2m2 0h2m65 0h1m2 0h4m2 0h2m4 0h2m-108 1h1m5 0h1m10 0h1m2 0h2m73 0h2m2 0h1m4 0h1m1 0h1m2 0h1m2 0h1m-113 1h2m15 0h1m3 0h1m1 0h1m16 0h1m44 0h1m8 0h3m4 0h2m3 0h2m1 0h2m-110 1h1m17 0h2m68 0h3m7 0h1m2 0h1m4 0h2m-90 1h2m3 0h1m5 0h1m5 0h1m60 0h2m3 0h2m-87 1h1m3 0h1m3 0h2m9 0h1m25 0h1m1 0h1m24 0h1m4 0h1m2 0h1m2 0h1m2 0h1m-87 1h1m2 0h1m2 0h1m12 0h1m-17 1h2m1 0h1m-9 1h1m3 0h1m14 0h1m-23 1h1m3 0h1m2 0h1m3 0h1m11 0h2m57 0h2m-89 1h1m3 0h2m8 0h3m6 0h1m4 0h2m1 0h1m43 0h1m-77 1h1m7 0h1m7 0h1m13 0h1m1 0h1m1 0h1m39 0h3m-70 1h1m19 0h1m5 0h3m7 0h2m27 0h2m11 0h2m-81 1h2m1 0h1m4 0h2m1 0h1m15 0h3m-23 1h1m1 0h1m11 0h1m7 0h1m1 0h1m2 0h1m1 0h1m11 0h1m29 0h1m-79 1h1m3 0h1m26 0h1m2 0h1m2 0h1m1 0h1m1 0h2m2 0h2m1 0h1m29 0h1m-45 1h2m3 0h1m2 0h1m7 0h1m23 0h1m3 0h1m-60 1h2m19 0h2m1 0h1m2 0h1m3 0h1m23 0h1m-51 1h1m18 0h2m13 0h1m-36 1h1m33 0h1m1 0h1m4 0h1m8 0h1m-61 1h1m4 0h1m3 0h1m34 0h1m-44 1h1m2 0h1m5 0h3m-13 1h1m2 0h1m8 0h1m1 0h2m-1 1h1m0 1h1m34 0h2m-38 1h1m29 0h1m1 0h1m2 0h1m-6 1h1m-2 1h1m-31 1h1m17 0h2m5 0h1"/>
<path stroke="#b7bd64" d="M0 0m30 1h1m16 0h1m5 0h1m2 0h1m6 0h1m1 0h2m7 0h1m10 0h2m10 0h2m9 0h1m-70 1h1m6 0h1m15 0h1m5 0h1m23 0h1m5 0h1m4 0h1m9 0h1m1 0h1m-85 1h1m12 0h1m4 0h1m1 0h1m11 0h1m5 0h1m29 0h1m3 0h1m2 0h1m1 0h1m3 0h1m3 0h1m-65 1h1m16 0h1m13 0h1m14 0h4m2 0h2m6 0h1m-82 1h1m17 0h2m8 0h1m1 0h1m1 0h1m6 0h1m3 0h1m2 0h1m1 0h2m16 0h1m3 0h1m9 0h1m4 0h1m-93 1h1m2 0h1m1 0h1m14 0h1m1 0h1m1 0h1m13 0h1m4 0h2m5 0h2m1 0h1m1 0h1m29 0h3m-90 1h2m7 0h1m14 0h1m1 0h1m1 0h1m4 0h1m5 0h1m7 0h1m12 0h1m30 0h2m-93 1h1m9 0h1m6 0h1m7 0h1m3 0h2m11 0h1m1 0h1m1 0h1m4 0h1m3 0h1m2 0h1m1 0h2m28 0h3m4 0h1m4 0h1m-104 1h1m16 0h1m4 0h2m2 0h1m6 0h1m17 0h1m2 0h2m1 0h1m1 0h5m6 0h3m4 0h1m3 0h1m2 0h1m8 0h1m4 0h1m-84 1h1m8 0h1m5 0h1m3 0h1m9 0h1m3 0h1m1 0h1m4 0h1m4 0h1m3 0h3m10 0h1m19 0h1m-83 1h1m11 0h1m3 0h1m9 0h1m9 0h2m3 0h1m2 0h1m17 0h1m2 0h1m6 0h2m10 0h1m-100 1h1m8 0h1m2 0h2m15 0h1m48 0h2m3 0h1m2 0h1m9 0h1m8 0h1m-79 1h2m1 0h1m1 0h1m2 0h1m1 0h1m5 0h1m20 0h1m10 0h1m2 0h1m3 0h1m3 0h2m2 0h1m11 0h1m1 0h1m-94 1h2m12 0h1m3 0h1m40 0h2m1 0h1m3 0h1m2 0h1m8 0h1m1 0h1m9 0h2m-103 1h1m10 0h1m11 0h1m5 0h1m2 0h1m6 0h1m10 0h1m25 0h2m2 0h1m9 0h1m11 0h1m1 0h2m-96 1h3m12 0h1m3 0h1m18 0h1m9 0h1m22 0h1m9 0h1m13 0h2m-111 1h1m13 0h2m13 0h1m23 0h3m3 0h1m12 0h1m37 0h2m-107 1h1m8 0h1m2 0h1m7 0h1m1 0h1m4 0h1m2 0h4m2 0h1m5 0h1m7 0h1m1 0h1m1 0h3m36 0h1m-101 1h1m3 0h1m2 0h1m26 0h1m2 0h2m20 0h1m5 0h1m5 0h1m3 0h1m1 0h3m1 0h1m20 0h1m-105 1h1m4 0h4m1 0h1m17 0h1m7 0h1m20 0h1m7 0h1m1 0h1m8 0h1m4 0h1m1 0h1m18 0h1m4 0h2m-103 1h2m2 0h2m1 0h1m2 0h1m3 0h1m17 0h1m3 0h1m3 0h2m5 0h3m9 0h1m10 0h1m2 0h3m17 0h1m3 0h1m-103 1h1m1 0h1m1 0h1m5 0h1m2 0h1m4 0h1m5 0h1m12 0h1m6 0h2m1 0h1m5 0h1m1 0h3m17 0h2m9 0h1m11 0h3m4 0h1m10 0h1m-116 1h2m5 0h3m3 0h2m8 0h4m2 0h1m7 0h1m14 0h1m3 0h1m18 0h2m2 0h3m1 0h2m3 0h1m9 0h1m3 0h1m-105 1h2m4 0h1m8 0h1m1 0h1m12 0h3m6 0h1m2 0h1m2 0h1m6 0h2m5 0h1m4 0h1m15 0h2m1 0h2m3 0h1m3 0h1m11 0h2m2 0h1m-103 1h1m15 0h2m1 0h3m4 0h1m1 0h1m9 0h2m1 0h1m15 0h1m6 0h2m1 0h1m8 0h1m1 0h1m2 0h1m2 0h2m7 0h1m1 0h2m2 0h1m-109 1h2m6 0h1m19 0h1m5 0h1m12 0h1m13 0h1m3 0h5m1 0h1m2 0h1m2 0h1m12 0h1m1 0h1m1 0h1m7 0h2m7 0h1m4 0h1m-112 1h1m1 0h1m17 0h1m3 0h2m3 0h1m7 0h1m5 0h1m3 0h1m5 0h2m13 0h1m17 0h1m3 0h2m1 0h2m4 0h1m9 0h1m2 0h1m-106 1h1m15 0h1m1 0h1m1 0h1m19 0h1m7 0h2m1 0h2m1 0h3m2 0h1m1 0h1m7 0h1m9 0h1m2 0h2m10 0h1m11 0h1m-118 1h2m7 0h2m15 0h1m19 0h1m1 0h1m2 0h1m1 0h1m1 0h1m2 0h1m3 0h2m2 0h2m5 0h1m5 0h2m1 0h2m3 0h1m13 0h1m3 0h1m5 0h1m9 0h2m-92 1h2m10 0h1m2 0h1m1 0h1m1 0h1m8 0h1m2 0h1m3 0h1m1 0h1m5 0h1m3 0h1m8 0h1m5 0h1m11 0h1m3 0h1m2 0h2m7 0h1m-122 1h2m25 0h1m1 0h2m8 0h1m1 0h1m4 0h1m2 0h1m10 0h1m2 0h3m4 0h1m4 0h1m12 0h1m13 0h1m12 0h1m2 0h1m-120 1h1m32 0h1m5 0h1m2 0h2m3 0h2m1 0h1m9 0h1m1 0h2m3 0h2m1 0h1m3 0h1m12 0h1m3 0h1m16 0h1m9 0h1m-97 1h1m3 0h3m2 0h1m2 0h4m6 0h1m17 0h1m2 0h2m1 0h5m1 0h1m3 0h1m1 0h1m6 0h1m21 0h2m11 0h1m-95 1h1m5 0h3m4 0h4m5 0h1m11 0h1m4 0h1m1 0h3m5 0h2m11 0h1m16 0h1m15 0h2m-125 1h1m4 0h1m34 0h2m1 0h2m5 0h1m10 0h1m1 0h1m1 0h1m5 0h1m4 0h4m10 0h1m1 0h1m2 0h1m20 0h1m2 0h1m2 0h1m-124 1h1m5 0h2m1 0h1m5 0h1m5 0h1m5 0h1m10 0h1m4 0h1m2 0h2m1 0h1m5 0h1m2 0h2m7 0h2m1 0h3m8 0h1m3 0h1m1 0h1m2 0h1m5 0h1m12 0h1m3 0h1m3 0h2m1 0h1m3 0h1m2 0h1m-130 1h1m6 0h2m1 0h1m13 0h2m1 0h2m11 0h2m1 0h1m2 0h3m1 0h2m7 0h1m4 0h1m1 0h1m1 0h1m2 0h1m4 0h2m1 0h1m1 0h1m3 0h1m11 0h1m14 0h1m2 0h2m2 0h1m-110 1h1m9 0h1m1 0h1m1 0h1m3 0h3m17 0h1m4 0h2m3 0h1m1 0h2m3 0h1m1 0h1m2 0h1m8 0h1m6 0h1m1 0h2m2 0h1m1 0h1m20 0h3m3 0h1m6 0h1m-120 1h1m13 0h1m2 0h2m20 0h1m3 0h7m1 0h4m12 0h1m10 0h1m4 0h1m2 0h2m20 0h1m4 0h2m4 0h3m-133 1h2m6 0h1m1 0h2m8 0h1m6 0h1m3 0h2m12 0h3m5 0h3m2 0h3m3 0h2m1 0h1m4 0h1m1 0h1m2 0h4m1 0h1m2 0h2m1 0h2m4 0h1m4 0h1m12 0h1m7 0h1m1 0h1m8 0h1m-132 1h1m1 0h1m1 0h1m16 0h1m6 0h1m3 0h2m18 0h1m5 0h1m1 0h2m14 0h1m1 0h3m2 0h1m3 0h1m4 0h3m3 0h1m2 0h1m1 0h1m1 0h2m5 0h1m6 0h1m11 0h1m-123 1h1m9 0h1m7 0h1m4 0h1m12 0h1m6 0h1m1 0h1m1 0h1m3 0h2m12 0h1m3 0h1m3 0h3m3 0h1m2 0h1m2 0h1m6 0h1m1 0h3m4 0h2m12 0h1m-116 1h1m3 0h1m13 0h3m4 0h1m16 0h3m2 0h1m4 0h1m4 0h2m6 0h1m1 0h2m4 0h1m3 0h9m1 0h1m4 0h5m3 0h1m7 0h3m-119 1h2m9 0h1m7 0h1m2 0h1m16 0h2m11 0h1m5 0h1m10 0h1m4 0h2m2 0h1m2 0h1m4 0h1m1 0h2m1 0h3m7 0h2m1 0h1m5 0h1m-110 1h1m1 0h1m2 0h1m24 0h1m6 0h2m12 0h1m6 0h1m1 0h2m11 0h2m5 0h2m2 0h2m1 0h1m3 0h1m1 0h2m6 0h1m3 0h1m2 0h1m12 0h1m-124 1h1m2 0h1m35 0h1m14 0h1m4 0h2m1 0h2m1 0h1m19 0h2m5 0h1m2 0h2m6 0h1m19 0h1m-125 1h2m4 0h4m21 0h1m28 0h2m12 0h2m7 0h6m5 0h2m3 0h2m3 0h3m3 0h2m1 0h2m1 0h1m-116 1h1m16 0h1m13 0h1m51 0h1m18 0h2m1 0h1m1 0h1m3 0h1m3 0h1m-119 1h1m10 0h1m7 0h1m13 0h2m51 0h1m8 0h1m6 0h2m1 0h1m4 0h2m2 0h1m1 0h2m7 0h1m1 0h1m-125 1h1m7 0h1m12 0h1m69 0h3m11 0h1m-109 1h3m3 0h1m3 0h2m11 0h2m53 0h1m19 0h1m2 0h4m4 0h1m7 0h1m-112 1h1m16 0h1m8 0h1m46 0h1m18 0h1m4 0h2m7 0h1m1 0h1m2 0h1m8 0h1m-128 1h1m18 0h1m60 0h1m24 0h1m3 0h1m3 0h1m4 0h1m-101 1h1m1 0h1m61 0h3m21 0h1m3 0h2m1 0h1m4 0h2m2 0h1m8 0h1m-132 1h1m17 0h1m65 0h2m21 0h1m5 0h1m4 0h1m2 0h2m1 0h1m5 0h1m2 0h1m-134 1h1m20 0h1m62 0h3m24 0h1m3 0h1m2 0h1m3 0h1m7 0h2m-109 1h1m61 0h3m23 0h3m1 0h1m14 0h2m-123 1h1m102 0h3m18 0h1m-133 1h1m111 0h1m19 0h1m-126 1h1m22 0h1m89 0h2m-115 1h1m10 0h1m101 0h1m1 0h1m-117 1h2m113 0h1m-122 1h1m2 0h1m2 0h2m114 0h2m-119 1h2m104 0h1m1 0h1m18 0h1m-120 1h1m98 0h1m10 0h1m7 0h1m3 0h1m-133 1h1m1 0h2m10 0h1m94 0h1m-110 1h1m5 0h1m3 0h2m2 0h1m93 0h2m1 0h1m7 0h2m3 0h1m8 0h1m-123 1h1m97 0h3m12 0h1m-128 1h3m11 0h1m97 0h1m12 0h1m5 0h2m4 0h1m-138 1h1m12 0h1m98 0h1m8 0h1m10 0h1m-134 1h2m2 0h2m11 0h1m107 0h1m1 0h1m6 0h1m-135 1h1m1 0h1m122 0h2m3 0h1m1 0h1m-129 1h1m10 0h1m1 0h1m105 0h1m1 0h2m1 0h1m3 0h2m-124 1h2m1 0h1m4 0h1m3 0h1m110 0h1m-134 1h1m9 0h3m2 0h3m4 0h1m100 0h2m3 0h1m4 0h2m-135 1h1m11 0h1m4 0h1m108 0h1m5 0h2m-133 1h5m2 0h1m4 0h1m8 0h2m101 0h1m7 0h1m-131 1h2m1 0h1m4 0h3m2 0h2m1 0h1m103 0h2m1 0h1m4 0h3m-131 1h1m2 0h1m1 0h1m13 0h1m101 0h2m4 0h1m-127 1h2m15 0h2m-9 1h1m7 0h1m103 0h1m6 0h1m4 0h1m-134 1h1m1 0h1m1 0h1m4 0h1m107 0h1m-118 1h1m5 0h1m2 0h1m7 0h1m103 0h1m-118 1h1m2 0h1m112 0h1m-121 1h2m1 0h2m19 0h1m-27 1h8m1 0h1m2 0h1m13 0h1m-24 1h1m9 0h1m4 0h1m-15 1h1m6 0h1m1 0h2m2 0h1m-16 1h1m1 0h1m1 0h1m-7 1h2m2 0h1m7 0h2m1 0h1m2 0h1m-21 1h2m2 0h1m1 0h1m2 0h1m1 0h1m3 0h2m5 0h1m108 0h2m-133 1h1m11 0h1m9 0h1m109 0h1m-132 1h1m2 0h1m1 0h1m10 0h1m114 0h1m-129 1h1m2 0h1m-3 1h1m1 0h1m2 0h1m121 0h1m-128 1h1m16 0h1m109 0h1m-130 1h1m1 0h1m-3 1h2m-2 1h1m1 1h1m2 0h1m-2 2h1m4 1h1m-6 1h1m0 1h1m9 0h1m-9 1h1m1 0h1m6 0h1m-10 1h1m5 0h3m95 0h2m-109 1h1m8 0h1m21 0h2m77 0h1m-109 1h1m3 0h2m2 0h3m8 0h2m7 0h5m70 0h1m15 0h1m-113 1h1m2 0h1m12 0h1m3 0h1m2 0h1m67 0h1m2 0h1m1 0h1m-99 1h1m1 0h2m3 0h1m10 0h1m1 0h1m3 0h1m68 0h2m-96 1h2m1 0h3m15 0h1m3 0h1m68 0h1m1 0h1m2 0h2m-77 1h1m69 0h2m10 0h1m-4 1h1m1 0h2m5 0h1m-22 1h2m3 0h1m5 0h1m-81 1h1m42 0h1m-38 1h1m-5 1h1m28 0h1m-30 1h1m-10 2h1m23 0h1m-31 1h1m11 0h1m17 0h1m54 0h2m-86 1h1m5 0h1m7 0h1m57 0h1m-72 1h1m12 0h1m10 0h1m57 0h1m-81 1h1m8 0h1m37 0h1m-48 1h1m35 0h2m1 0h1m8 0h1m-10 1h1m1 0h2m1 0h1m1 0h1m-2 1h2m-27 1h2m53 0h1m-54 1h1m36 0h1m15 0h1m-63 1h1m8 0h1m1 0h1m-10 2h2m10 0h1m-12 1h2m9 0h1m1 1h1m-5 3h1m30 0h2m1 0h1"/>
<path stroke="#c0bc60" d="M0 0m33 1h4m1 0h3m14 0h1m36 0h1m12 0h1m1 0h1m-75 1h1m3 0h1m9 0h3m13 0h1m2 0h1m26 0h2m4 0h1m-68 1h1m4 0h1m8 0h1m20 0h1m27 0h1m1 0h2m8 0h1m5 0h2m-74 1h1m7 0h2m11 0h1m3 0h1m5 0h2m35 0h1m4 0h1m1 0h1m-82 1h1m26 0h1m1 0h2m2 0h1m2 0h1m1 0h1m1 0h2m1 0h1m21 0h1m7 0h2m-82 1h1m5 0h1m22 0h1m1 0h1m4 0h1m4 0h3m29 0h2m-75 1h1m3 0h1m1 0h1m4 0h2m2 0h1m3 0h1m8 0h2m4 0h3m1 0h2m2 0h1m4 0h1m5 0h1m28 0h3m-75 1h1m6 0h1m19 0h1m9 0h1m5 0h1m33 0h1m-89 1h1m2 0h2m23 0h1m6 0h1m31 0h2m1 0h1m14 0h1m5 0h1m4 0h1m-97 1h1m2 0h2m3 0h1m13 0h1m4 0h1m8 0h1m11 0h1m6 0h1m6 0h1m2 0h2m2 0h2m1 0h1m1 0h4m7 0h1m4 0h1m-88 1h4m12 0h2m1 0h1m3 0h1m2 0h2m3 0h1m1 0h1m1 0h1m9 0h1m15 0h1m1 0h1m1 0h3m4 0h3m2 0h1m10 0h1m6 0h1m-106 1h1m11 0h1m15 0h1m2 0h1m2 0h3m4 0h3m8 0h1m22 0h1m2 0h1m4 0h1m7 0h1m9 0h1m-65 1h1m5 0h1m19 0h1m7 0h1m6 0h1m1 0h1m1 0h1m3 0h1m5 0h1m6 0h1m-102 1h1m3 0h1m37 0h1m1 0h3m30 0h1m3 0h2m3 0h1m1 0h1m1 0h1m2 0h1m15 0h1m-111 1h2m27 0h1m1 0h1m7 0h1m13 0h1m53 0h1m2 0h1m-112 1h2m6 0h2m18 0h2m2 0h1m2 0h1m19 0h4m40 0h1m9 0h1m-110 1h1m27 0h1m2 0h1m6 0h1m10 0h1m7 0h1m1 0h1m36 0h1m3 0h1m9 0h1m-111 1h1m6 0h2m3 0h1m14 0h1m15 0h1m1 0h3m9 0h1m1 0h1m35 0h2m4 0h1m3 0h1m-96 1h1m2 0h1m2 0h1m1 0h1m15 0h2m21 0h1m1 0h2m1 0h2m11 0h1m-66 1h1m34 0h3m12 0h2m13 0h1m-79 1h1m8 0h1m2 0h1m1 0h1m2 0h1m30 0h3m1 0h1m4 0h2m5 0h1m1 0h1m10 0h1m9 0h1m14 0h1m2 0h1m-104 1h1m3 0h2m24 0h1m10 0h2m2 0h1m1 0h1m1 0h1m3 0h1m3 0h1m21 0h1m2 0h3m15 0h2m3 0h2m10 0h1m-120 1h1m5 0h1m10 0h2m13 0h1m11 0h1m1 0h1m4 0h2m8 0h1m2 0h1m11 0h1m2 0h2m6 0h1m13 0h1m3 0h2m-105 1h1m1 0h1m6 0h1m15 0h1m15 0h2m3 0h3m9 0h2m1 0h1m15 0h1m5 0h1m1 0h1m2 0h2m9 0h1m-102 1h1m3 0h2m2 0h2m23 0h1m1 0h1m10 0h1m11 0h4m6 0h2m19 0h1m3 0h1m14 0h1m4 0h2m-116 1h1m1 0h1m1 0h2m21 0h2m26 0h1m2 0h1m1 0h2m12 0h1m1 0h1m16 0h2m11 0h2m7 0h1m4 0h1m-123 1h3m8 0h1m15 0h1m5 0h1m1 0h1m4 0h2m3 0h3m6 0h2m1 0h1m2 0h1m1 0h3m1 0h3m1 0h2m2 0h2m1 0h1m12 0h1m1 0h1m1 0h1m5 0h2m4 0h1m4 0h2m-116 1h1m2 0h1m1 0h1m8 0h1m19 0h1m2 0h2m8 0h1m2 0h1m1 0h3m4 0h2m1 0h1m2 0h1m9 0h1m3 0h1m3 0h1m8 0h1m2 0h2m3 0h1m9 0h3m3 0h1m-83 1h4m13 0h1m4 0h1m6 0h1m14 0h2m2 0h1m2 0h1m6 0h3m15 0h2m4 0h1m10 0h1m-128 1h3m30 0h2m2 0h1m13 0h1m12 0h2m3 0h1m1 0h1m2 0h3m3 0h1m4 0h3m4 0h1m3 0h1m13 0h1m4 0h1m2 0h1m-89 1h1m4 0h3m8 0h1m2 0h1m1 0h1m14 0h1m3 0h1m1 0h2m6 0h1m1 0h1m2 0h2m2 0h1m4 0h1m2 0h1m18 0h1m1 0h1m6 0h1m-126 1h2m31 0h3m2 0h2m24 0h1m3 0h1m3 0h1m9 0h3m10 0h1m5 0h1m11 0h2m1 0h2m4 0h2m-124 1h1m1 0h1m29 0h1m8 0h1m6 0h2m13 0h2m5 0h1m5 0h1m5 0h1m1 0h1m29 0h1m6 0h2m1 0h1m-121 1h1m4 0h1m2 0h1m19 0h2m30 0h1m1 0h1m4 0h1m3 0h3m4 0h1m1 0h1m5 0h1m1 0h1m16 0h1m3 0h1m5 0h1m2 0h1m-114 1h1m55 0h1m1 0h1m1 0h3m1 0h1m1 0h4m4 0h2m1 0h1m1 0h2m1 0h1m4 0h1m5 0h1m24 0h1m-125 1h1m6 0h1m33 0h1m2 0h1m2 0h1m13 0h2m11 0h1m1 0h1m4 0h3m4 0h1m16 0h1m-107 1h2m40 0h1m4 0h1m6 0h1m3 0h1m8 0h2m4 0h1m2 0h1m7 0h2m1 0h2m8 0h2m4 0h1m3 0h1m7 0h2m7 0h2m-129 1h2m1 0h1m18 0h1m3 0h1m17 0h1m1 0h3m7 0h3m8 0h1m1 0h1m6 0h2m13 0h1m4 0h2m2 0h2m4 0h1m2 0h1m-112 1h1m26 0h2m2 0h1m13 0h1m1 0h4m18 0h4m16 0h1m12 0h1m12 0h1m7 0h1m-119 1h1m38 0h2m16 0h1m6 0h1m1 0h2m1 0h1m18 0h1m9 0h1m1 0h2m3 0h2m2 0h1m7 0h1m1 0h1m-104 1h1m22 0h2m19 0h1m1 0h2m7 0h1m23 0h2m3 0h1m3 0h2m3 0h1m6 0h1m9 0h1m-133 1h1m1 0h3m5 0h1m44 0h1m9 0h1m2 0h2m7 0h2m8 0h3m4 0h2m14 0h2m2 0h2m-113 1h1m5 0h1m12 0h1m11 0h2m28 0h1m1 0h1m3 0h3m4 0h1m7 0h3m20 0h1m1 0h1m1 0h1m3 0h2m5 0h1m1 0h1m-117 1h2m4 0h1m18 0h1m19 0h1m7 0h6m5 0h4m8 0h1m1 0h2m1 0h1m2 0h1m12 0h1m3 0h1m7 0h1m1 0h2m3 0h1m-127 1h1m54 0h1m8 0h1m2 0h2m13 0h2m3 0h2m2 0h1m5 0h1m13 0h2m-103 1h1m23 0h1m29 0h1m2 0h1m22 0h2m1 0h1m2 0h2m25 0h1m1 0h1m-126 1h1m6 0h1m26 0h1m56 0h3m16 0h1m3 0h1m2 0h1m1 0h1m3 0h1m1 0h1m11 0h1m-138 1h1m8 0h2m98 0h1m1 0h1m7 0h2m2 0h1m6 0h1m5 0h1m-134 1h1m6 0h1m10 0h1m86 0h2m13 0h2m11 0h2m-128 1h1m91 0h1m1 0h1m4 0h2m5 0h3m-110 1h1m101 0h1m6 0h1m-120 1h1m7 0h1m1 0h1m9 0h1m79 0h1m5 0h1m3 0h2m26 0h1m-137 1h2m3 0h2m97 0h1m5 0h1m9 0h1m-104 1h1m92 0h1m7 0h1m2 0h1m-41 1h1m28 0h1m1 0h1m4 0h1m-114 1h1m105 0h2m5 0h1m1 0h1m3 0h1m-120 1h1m107 0h1m6 0h1m-121 1h1m17 0h1m102 0h1m-123 1h1m15 0h1m104 0h1m1 0h1m-123 1h1m5 0h1m114 1h1m-123 1h1m4 0h1m13 0h1m-14 1h1m-7 1h2m2 0h1m14 0h1m-19 1h1m16 0h1m118 0h1m-138 1h2m112 0h1m18 0h1m1 0h1m-131 1h1m3 0h1m104 0h1m17 0h1m2 0h2m-133 1h1m118 0h3m1 0h1m6 0h1m2 0h1m-134 1h1m1 0h1m116 0h1m1 0h1m1 0h1m9 0h1m-138 1h1m1 0h2m6 0h2m4 0h2m107 0h2m10 0h1m-15 1h2m1 0h1m6 0h1m4 0h1m-138 1h1m2 0h1m10 0h1m117 0h1m4 0h1m-139 1h2m1 0h1m120 0h1m6 0h1m-116 1h1m107 0h1m7 0h1m-4 1h2m-121 1h2m111 0h1m1 0h1m1 0h5m2 0h1m-135 1h1m5 0h1m3 0h2m4 0h2m3 0h1m101 0h1m3 0h1m2 0h3m-128 1h1m15 0h2m107 0h1m-127 1h2m5 0h2m8 0h1m-14 1h1m4 0h1m109 0h1m2 0h1m6 0h1m-122 1h1m-2 1h1m9 0h2m-20 1h1m2 0h1m2 0h2m-8 1h4m3 0h1m-4 1h1m3 1h1m-12 1h1m4 0h1m6 0h1m1 0h1m-15 1h1m1 0h5m1 0h2m2 0h1m2 0h1m6 0h1m-20 1h1m2 0h1m1 0h1m3 0h1m1 0h3m4 0h1m-16 1h1m3 0h1m2 0h1m8 0h1m109 0h1m-120 1h1m5 0h1m2 0h1m-5 1h1m-18 1h1m6 0h1m2 0h1m-8 1h1m6 0h1m-9 1h1m1 0h1m-1 4h1m0 2h1m0 1h1m0 1h2m-3 1h1m0 1h1m-1 1h3m8 0h1m94 1h1m-95 1h1m93 0h1m-1 1h1m-100 1h1m2 0h2m18 0h2m87 0h3m-114 1h1m17 0h1m3 0h1m89 0h1m-95 1h1m3 0h1m70 0h1m16 0h1m-8 1h1m7 0h1m-3 1h1m-9 1h1m-89 7h1m-4 2h2m47 1h1m-4 1h1m-1 1h1m-33 3h1m14 4h1m28 3h1m-32 2h2m28 0h1"/>
<path stroke="#c8bc5d" d="M0 0m37 1h1m16 0h1m12 0h1m25 0h2m11 0h1m-73 1h1m1 0h1m13 0h1m55 0h2m-61 1h2m1 0h1m64 0h1m-84 1h1m11 0h1m1 0h2m16 0h1m38 0h1m6 0h1m2 0h1m1 0h1m-84 1h3m7 0h3m22 0h1m1 0h1m36 0h1m-77 1h1m2 0h1m1 0h1m6 0h2m22 0h1m5 0h2m2 0h1m3 0h1m22 0h1m-75 1h1m3 0h1m17 0h1m6 0h1m1 0h1m4 0h1m5 0h1m31 0h1m5 0h1m7 0h2m-96 1h1m3 0h1m1 0h1m3 0h1m1 0h1m10 0h1m8 0h2m4 0h1m1 0h1m7 0h2m3 0h1m41 0h1m4 0h1m-92 1h1m23 0h1m6 0h2m3 0h2m3 0h2m28 0h1m12 0h2m-98 1h1m7 0h2m3 0h2m21 0h1m7 0h1m25 0h2m3 0h1m9 0h1m7 0h1m-85 1h1m25 0h1m4 0h1m28 0h2m1 0h1m1 0h1m4 0h1m5 0h2m14 0h1m2 0h1m-94 1h1m20 0h2m3 0h2m1 0h1m55 0h1m1 0h1m4 0h3m-95 1h3m12 0h2m11 0h2m32 0h1m7 0h1m22 0h1m-102 1h1m23 0h1m13 0h1m51 0h1m6 0h1m-74 1h1m1 0h1m4 0h2m5 0h1m50 0h1m1 0h1m5 0h1m-74 1h1m4 0h3m15 0h1m42 0h1m10 0h1m-102 1h1m9 0h1m16 0h1m2 0h1m10 0h1m48 0h1m-64 1h2m8 0h1m26 0h1m-60 1h1m1 0h2m1 0h1m24 0h2m3 0h1m7 0h2m4 0h1m37 0h1m2 0h1m3 0h1m-92 1h1m24 0h1m15 0h2m5 0h1m10 0h1m-79 1h1m8 0h1m6 0h1m2 0h2m25 0h1m13 0h1m3 0h1m22 0h1m-70 1h1m32 0h1m1 0h2m6 0h2m2 0h1m39 0h1m-60 1h1m2 0h1m13 0h1m40 0h1m-101 1h1m6 0h1m15 0h1m20 0h1m34 0h1m3 0h1m2 0h1m-93 1h1m1 0h1m11 0h1m12 0h1m63 0h1m11 0h1m3 0h1m2 0h1m-112 1h1m3 0h1m7 0h1m1 0h2m16 0h1m4 0h1m2 0h1m16 0h1m7 0h1m32 0h1m7 0h1m4 0h1m-113 1h1m14 0h1m18 0h1m20 0h1m2 0h1m4 0h1m3 0h1m10 0h1m1 0h1m1 0h1m12 0h1m11 0h1m1 0h1m-110 1h1m30 0h1m6 0h2m27 0h1m8 0h2m1 0h3m10 0h1m5 0h1m1 0h1m1 0h1m-103 1h1m36 0h1m6 0h1m1 0h1m5 0h2m13 0h2m11 0h1m13 0h1m1 0h2m1 0h1m3 0h1m7 0h3m-84 1h1m13 0h2m6 0h1m14 0h1m12 0h1m1 0h2m9 0h1m3 0h1m6 0h1m17 0h2m-87 1h1m8 0h2m3 0h1m12 0h1m5 0h1m16 0h1m7 0h1m1 0h1m5 0h2m7 0h1m9 0h1m-120 1h1m24 0h2m9 0h1m7 0h1m3 0h1m43 0h2m8 0h1m5 0h1m2 0h1m4 0h1m-117 1h1m28 0h1m51 0h2m10 0h1m8 0h2m11 0h2m-87 1h1m34 0h1m13 0h1m1 0h1m3 0h1m8 0h1m2 0h2m3 0h1m7 0h1m-104 1h1m22 0h1m37 0h1m12 0h1m1 0h1m4 0h1m16 0h1m8 0h1m-44 1h2m1 0h1m9 0h1m1 0h1m8 0h2m1 0h1m4 0h1m2 0h1m5 0h1m10 0h1m-119 1h1m35 0h1m11 0h1m30 0h1m9 0h1m9 0h1m1 0h2m-114 1h1m4 0h1m3 0h1m1 0h1m34 0h1m24 0h1m31 0h1m2 0h1m1 0h1m2 0h1m1 0h2m5 0h1m1 0h1m2 0h1m-116 1h1m34 0h1m62 0h6m7 0h1m1 0h1m-126 1h1m10 0h1m19 0h1m73 0h1m2 0h1m1 0h1m5 0h1m-114 1h1m28 0h1m34 0h1m5 0h4m32 0h1m6 0h2m5 0h1m-112 1h1m22 0h1m30 0h2m3 0h1m2 0h2m32 0h1m8 0h1m3 0h3m1 0h1m-124 1h1m1 0h1m16 0h1m43 0h1m1 0h1m5 0h1m1 0h1m38 0h2m6 0h1m1 0h1m-92 1h1m52 0h1m21 0h2m1 0h2m1 0h1m1 0h2m4 0h1m11 0h1m-127 1h1m24 0h1m73 0h2m4 0h2m5 0h2m-31 1h1m14 0h2m3 0h2m1 0h2m1 0h1m-10 1h1m1 0h1m-105 1h1m114 0h1m2 0h1m-119 1h1m1 0h1m10 0h1m97 0h3m-119 1h1m4 0h1m95 0h1m15 0h1m1 0h1m-12 1h1m8 0h1m1 0h1m-121 1h2m108 0h1m6 0h1m1 0h2m1 0h1m-4 1h1m-122 1h1m120 0h1m-121 1h1m-1 1h1m112 0h1m-114 1h1m16 0h2m-3 1h2m102 0h1m0 1h1m-107 1h1m-16 1h1m14 0h1m-2 1h1m-1 1h1m2 0h2m-15 1h1m12 0h1m-19 1h1m113 0h1m18 0h1m-119 1h1m1 0h1m118 0h3m-122 1h1m115 0h2m-3 1h2m-129 1h1m10 0h2m106 0h1m-110 1h1m107 0h1m14 0h1m-124 1h2m-14 1h1m119 0h2m-109 1h1m-5 1h1m111 2h1m-1 1h1m4 0h1m-121 1h2m-2 1h1m113 0h1m2 0h1m6 0h1m-125 1h1m1 0h2m115 0h2m-119 1h1m1 0h1m7 0h1m106 0h2m-124 1h1m-7 4h2m0 1h2m6 0h2m1 0h1m1 0h1m-6 1h2m9 0h1m-18 1h1m5 0h2m1 0h1m8 0h1m-9 1h1m3 1h1m-15 2h1m129 2h1m-130 2h1m-1 3h1m0 2h1m0 1h1m-1 2h1m-1 1h1m-1 1h1m119 4h1"/>
<path stroke="#d1bb59" d="M0 0m96 1h1m-32 1h1m29 0h1m12 0h1m-13 1h1m-62 1h1m27 0h1m3 0h1m-2 1h1m36 0h1m3 0h1m4 0h1m1 0h1m-83 1h1m25 0h1m6 0h1m42 0h1m5 0h1m1 0h1m-87 1h1m4 0h1m23 0h1m13 0h1m2 0h1m3 0h1m34 0h1m-88 1h1m1 0h1m26 0h1m11 0h2m32 0h2m-76 1h1m3 0h1m1 0h1m10 0h1m66 0h1m-54 1h2m44 0h1m1 0h2m4 0h1m-61 1h1m3 0h2m40 0h1m9 0h1m4 0h1m-97 1h1m26 0h2m11 0h1m33 0h1m2 0h1m4 0h2m9 0h1m7 0h1m-102 1h1m32 0h1m39 0h1m2 0h1m-48 1h2m69 0h1m4 0h2m-64 1h2m56 1h1m-106 1h1m8 0h1m4 0h1m22 0h1m-23 1h1m-18 1h1m13 0h1m32 0h1m1 0h1m24 0h1m31 0h1m1 0h1m-93 1h2m2 0h1m23 0h4m10 0h1m2 0h2m-20 1h2m17 0h1m15 0h1m-82 1h2m1 0h1m12 0h1m64 0h2m25 0h1m-109 1h3m12 0h1m34 0h1m1 0h2m12 0h1m38 0h1m-106 1h1m30 0h2m76 0h2m-110 1h1m2 0h1m8 0h1m19 0h1m41 0h1m19 0h1m10 0h1m-102 1h1m6 0h1m14 0h1m9 0h1m37 0h1m15 0h1m12 0h1m1 0h2m-109 1h1m31 0h1m5 0h1m1 0h1m39 0h1m17 0h1m10 0h3m11 0h1m-124 1h1m38 0h1m3 0h2m9 0h3m43 0h1m11 0h2m10 0h1m-96 1h1m1 0h1m5 0h2m5 0h1m33 0h1m15 0h1m2 0h1m1 0h1m1 0h1m-72 1h1m5 0h1m1 0h2m1 0h1m51 0h1m6 0h3m6 0h1m2 0h1m-76 1h1m2 0h1m41 0h1m2 0h1m7 0h1m6 0h2m11 0h1m8 0h1m-84 1h1m5 0h1m1 0h1m35 0h1m3 0h1m8 0h3m1 0h1m15 0h1m-116 1h1m84 0h2m8 0h2m1 0h1m3 0h1m9 0h2m1 0h1m-109 1h1m75 0h1m12 0h1m4 0h2m1 0h2m6 0h2m1 0h1m1 0h1m-111 1h1m79 0h1m10 0h1m4 0h2m7 0h3m2 0h2m4 0h1m-26 1h1m4 0h1m2 0h1m8 0h1m-18 1h1m4 0h1m-99 1h1m98 0h1m2 0h1m-104 1h1m93 0h5m12 0h1m-91 1h1m38 0h1m37 0h1m-110 1h1m69 0h3m51 0h2m-96 1h2m38 0h1m1 0h2m35 0h1m14 0h1m-115 1h1m63 0h1m34 0h1m14 1h1m10 0h1m-30 1h1m8 0h4m3 0h1m1 0h1m-17 1h3m5 0h1m6 0h1m11 0h1m-17 1h1m-113 1h1m112 0h1m-114 1h1m0 1h1m110 0h1m2 0h1m-116 1h1m111 0h1m2 0h1m-116 1h1m110 0h1m-2 1h1m4 1h1m-125 4h1m-1 2h1m16 0h2m-19 1h1m16 0h1m-17 1h1m14 0h2m-14 3h2m-1 3h1m11 0h1m106 2h1m-109 2h1m111 5h1m-1 1h2m-2 1h2m-120 1h1m-2 1h1m0 1h1m-7 1h1m8 5h1m-10 7h1m-1 1h1m122 16h1m-102 13h1"/>
<path stroke="#d9ba56" d="M0 0m35 2h1m31 0h1m28 0h1m-64 2h2m37 1h1m40 0h1m-83 1h1m72 0h1m7 0h1m-41 1h1m31 0h1m3 0h1m-75 1h1m23 0h2m2 0h1m48 0h1m4 0h2m-84 1h1m10 0h1m14 0h2m44 0h1m3 0h2m-80 1h1m26 0h1m34 0h1m5 0h1m6 0h1m2 0h1m-19 2h1m4 0h1m15 0h2m4 3h1m-105 1h1m100 0h1m-87 1h1m86 0h1m-105 1h1m1 0h1m104 0h1m-60 1h1m-50 1h1m1 0h1m12 0h1m4 0h1m-22 1h1m61 0h1m-62 1h1m12 0h1m5 0h1m43 0h2m16 0h1m26 1h1m-109 1h1m102 0h2m-108 1h1m5 0h2m24 0h1m0 1h2m45 0h1m-44 1h1m1 0h1m84 0h1m-85 1h1m70 0h1m-114 1h1m31 0h1m8 0h1m-3 1h1m2 0h1m1 0h1m54 0h3m10 0h1m-73 1h2m41 0h1m15 0h1m1 0h1m9 0h1m2 0h1m-29 1h1m1 0h1m14 0h3m13 0h1m4 0h2m-39 1h1m12 0h1m1 0h1m1 0h1m12 0h1m-107 1h1m75 0h2m11 0h1m2 0h1m17 0h1m-19 1h2m3 0h1m-6 1h1m1 0h1m11 0h1m-14 1h1m14 1h1m-20 1h1m-74 2h1m83 3h1m7 0h1m-5 1h1m15 0h1m-23 1h1m4 0h1m1 0h2m-1 1h1m1 0h1m-1 1h1m-3 1h1m-115 1h1m113 0h1m-116 1h1m114 0h1m-4 2h1m-120 1h1m15 5h2m-1 2h1m-2 2h1m-3 1h1m-1 1h1m-11 1h1m10 0h1m-1 1h1m-7 12h1m-1 2h1m-6 15h1"/>
<path stroke="#e1b952" d="M0 0m95 1h1m-63 2h1m2 0h1m67 2h1m10 0h1m-3 1h1m-7 1h1m-48 1h1m47 1h1m-52 1h2m52 0h1m-1 1h4m0 1h1m-3 1h2m2 3h1m1 0h1m-69 1h1m67 0h2m-107 1h1m14 0h1m88 0h1m-105 1h1m105 0h1m-110 1h1m16 0h1m-19 1h1m63 0h1m-64 3h1m30 1h1m-35 1h1m39 0h1m-27 1h1m27 1h2m-3 1h2m58 0h1m9 2h1m-26 1h1m15 1h1m13 1h1m-19 1h2m4 0h1m-2 1h1m-2 1h1m3 0h1m-6 1h2m15 7h1m-5 1h1m0 1h1m-1 2h1m0 3h1m-1 1h1m-124 4h1m17 5h1m-14 1h1m10 0h1m0 1h1m-1 1h1m-2 3h1"/>
<path stroke="#e9b94e" d="M0 0m34 3h2m69 2h1m1 1h1m7 0h1m0 1h1m-7 1h1m-52 1h1m49 0h1m7 4h2m-2 1h2m-1 1h1m-105 2h1m103 0h1m-107 1h1m106 0h1m-108 1h1m38 10h1m55 2h1m1 6h1m15 16h1m-109 12h1"/>
<path stroke="#f1b94a" d="M0 0m106 6h1m-2 2h1m2 0h1m-81 1h1m28 0h1m57 4h2m-3 1h1m0 1h1m1 0h1m0 1h1m-102 48h1"/>
<path stroke="#f8bb44" d="M0 0m106 8h2m1 0h1m-52 1h1"/>
<path stroke="#fdbe3d" d="M0 0m105 6h1m0 1h1m0 2h1"/>
<path stroke="#ffc337" d="M0 0m115 14h2m-1 1h1"/>
<path stroke="#fec832" d="M0 0m105 7h1"/>
</g></svg>
<path d="M1742.3 451.5v-5.4M1742.3 17.2v5.4M1667.4 77.26h5.4M2209 77.26h-5.4M1819.12 451.5v-5.4M1819.12 17.2v5.4M1667.4 138.87h5.4M2209 138.87h-5.4M1895.95 451.5v-5.4M1895.95 17.2v5.4M1667.4 200.47h5.4M2209 200.47h-5.4M1972.77 451.5v-5.4M1972.77 17.2v5.4M1667.4 262.07h5.4M2209 262.07h-5.4M2049.59 451.5v-5.4M2049.59 17.2v5.4M1667.4 323.67h5.4M2209 323.67h-5.4M2126.42 451.5v-5.4M2126.42 17.2v5.4M1667.4 385.28h5.4M2209 385.28h-5.4M2203.24 451.5v-5.4M2203.24 17.2v5.4M1667.4 446.88h5.4M2209 446.88h-5.4" stroke="#262626" stroke-width="1" fill="none" opacity=".75"/>
<rect x="1667.4" y="17.2" width="541.6" height="434.3" fill="none" stroke="#262626" stroke-width="1" opacity=".55"/>
<text class="t" text-anchor="middle" x="1742.3" y="487.9">20</text>
<text class="t" text-anchor="end" x="1657.9" y="89.06">20</text>
<text class="t" text-anchor="middle" x="1819.12" y="487.9">40</text>
<text class="t" text-anchor="end" x="1657.9" y="150.67">40</text>
<text class="t" text-anchor="middle" x="1895.95" y="487.9">60</text>
<text class="t" text-anchor="end" x="1657.9" y="212.27">60</text>
<text class="t" text-anchor="middle" x="1972.77" y="487.9">80</text>
<text class="t" text-anchor="end" x="1657.9" y="273.87">80</text>
<text class="t" text-anchor="middle" x="2049.59" y="487.9">100</text>
<text class="t" text-anchor="end" x="1657.9" y="335.47">100</text>
<text class="t" text-anchor="middle" x="2126.42" y="487.9">120</text>
<text class="t" text-anchor="end" x="1657.9" y="397.08">120</text>
<text class="t" text-anchor="middle" x="2203.24" y="487.9">140</text>
<text class="t" text-anchor="end" x="1657.9" y="458.68">140</text>
<text class="l" text-anchor="middle" x="1938.2" y="525.8">Pixels</text>
<text class="l" text-anchor="middle" transform="translate(1603.4 234.35) rotate(-90)">Pixels</text>
<rect x="2237.2" y="17.2" width="25.8" height="434.3" fill="url(#pg)" stroke="#262626" stroke-width="1" stroke-opacity=".6"/>
<text class="cb" x="2271" y="462.3">0</text>
<text class="cb" x="2271" y="353.45">2000</text>
<text class="cb" x="2271" y="244.6">4000</text>
<text class="cb" x="2271" y="135.75">6000</text>
<text class="cb" x="2271" y="26.9">8000</text>
<path d="M2263 342.93h-4M2263 234.35h-4M2263 125.77h-4" stroke="#262626" stroke-width="1" fill="none" opacity=".8"/>
<text class="c" text-anchor="middle" x="1963.6" y="616.7" font-size="49"><tspan dy="-3.5">(</tspan><tspan class="b" font-size="53" dy="3.5" dx="0.4">c</tspan><tspan dy="-3.5" dx="0.4">)</tspan></text>
<!-- panel d -->
<svg class="hm" x="98" y="663.2" width="555.2" height="434.5" viewBox="0 0 111 111" preserveAspectRatio="none" shape-rendering="crispEdges"><g transform="translate(0 .5)">
<rect y="-.5" width="111" height="111" fill="#3637a0"/>
<path stroke="#352a87" d="M0 0m98 11h1m3 90h1m-88 3h1"/>
<path stroke="#363093" d="M0 0m77 0h2m1 0h6m1 0h9m1 0h3m4 0h1m-97 1h1m58 0h1m13 0h5m6 0h4m2 0h3m2 0h4m-41 1h2m5 0h1m19 0h3m3 0h8m-42 1h2m6 0h2m12 0h2m4 0h2m4 0h1m2 0h5m-33 1h1m12 0h3m1 0h3m3 0h4m1 0h6m-21 1h3m1 0h4m1 0h13m-24 1h19m3 0h4m-26 1h19m4 0h3m-29 1h1m1 0h22m-23 1h9m1 0h7m2 0h6m-24 1h7m2 0h7m3 0h7m-25 1h6m2 0h5m1 0h2m3 0h7m-26 1h2m6 0h2m1 0h4m7 0h3m-26 1h3m9 0h4m-15 1h2m11 0h5m-4 1h5m3 0h1m-13 1h2m1 0h6m6 0h1m-16 1h2m1 0h9m3 0h1m-13 1h9m-8 1h9m1 0h1m-15 1h1m3 0h2m1 0h9m-16 1h1m9 0h6m-2 1h2m-2 1h2m-2 1h2m-2 1h2m-4 1h2m1 0h1m-4 1h2m1 0h1m-1 1h1m-2 1h2m-7 1h1m4 0h1m0 4h1m-1 1h1m-3 8h1m1 22h1m-2 1h2m-1 1h1m-1 1h1m-1 1h1m-1 1h1m-1 1h1m-1 1h1m-1 1h1m-3 7h1m-1 1h3m-2 1h2m-1 1h1m-4 2h2m-109 1h1m106 0h4m-111 1h2m105 0h4m-111 1h3m103 0h4m-110 1h3m103 0h4m-110 1h3m2 0h1m101 0h3m-110 1h3m1 0h2m97 0h1m3 0h3m-110 1h7m96 0h5m-108 1h2m2 0h3m96 0h5m2 0h1m-111 1h1m5 0h3m93 0h5m3 0h1m-105 1h4m93 0h3m-105 1h9m97 0h1m-108 1h10m90 0h1m5 0h3m-106 1h6m90 0h3m4 0h3m-106 1h6m91 0h3m-101 1h4m94 0h4m5 0h1m-108 1h7m85 0h3m3 0h2m1 0h2m1 0h1m1 0h2m-108 1h7m84 0h3m4 0h7m2 0h1m-103 1h2m4 0h4m76 0h4m3 0h10m-108 1h2m9 0h2m1 0h1m74 0h6m3 0h4m3 0h3m-109 1h4m8 0h4m74 0h5m4 0h4m3 0h2m-108 1h5m7 0h4m63 0h3m8 0h7m1 0h2m1 0h2m3 0h2m-108 1h5m6 0h5m63 0h5m6 0h9m3 0h2m-105 1h10m4 0h2m64 0h4m1 0h1m5 0h3m2 0h4m3 0h6m-109 1h1m5 0h7m3 0h2m7 0h1m54 0h3m2 0h2m1 0h1m1 0h4m3 0h2m4 0h8m-111 1h1m4 0h8m3 0h3m6 0h1m51 0h1m2 0h3m4 0h7m2 0h3m3 0h9"/>
<path stroke="#353dad" d="M0 0m0 0h2m2 0h2m7 0h6m6 0h1m2 0h2m4 0h11m1 0h5m3 0h2m-56 1h5m8 0h6m6 0h5m4 0h5m1 0h5m1 0h5m3 0h2m6 0h1m-63 1h5m8 0h1m2 0h3m4 0h1m3 0h2m7 0h2m2 0h4m3 0h3m3 0h3m-56 1h5m5 0h4m3 0h3m2 0h2m5 0h1m10 0h3m5 0h6m1 0h1m2 0h1m3 0h1m5 0h2m-69 1h4m4 0h5m3 0h3m2 0h2m32 0h8m3 0h5m-69 1h7m1 0h2m2 0h3m3 0h3m35 0h10m1 0h3m-73 1h1m2 0h7m5 0h2m4 0h3m42 0h2m5 0h1m-74 1h2m1 0h7m2 0h1m2 0h1m57 0h5m-78 1h3m2 0h6m1 0h1m64 0h2m-79 1h4m1 0h4m1 0h3m65 0h3m-81 1h8m3 0h2m67 0h2m-82 1h7m3 0h4m67 0h1m-82 1h14m67 0h1m-82 1h2m2 0h6m1 0h4m66 0h1m9 0h1m-92 1h2m2 0h3m7 0h1m65 0h3m8 0h1m-92 1h2m80 0h3m-85 1h5m79 0h3m-87 1h2m1 0h2m80 0h8m-93 1h4m84 0h6m-94 1h5m83 0h6m-94 1h5m84 0h5m-94 1h3m87 0h4m-94 1h3m91 0h1m-95 1h5m90 0h2m-97 1h5m91 0h2m-97 1h4m92 0h2m-98 1h3m92 0h4m-99 1h3m92 0h4m-99 1h3m92 0h4m-100 1h3m93 0h5m-101 1h2m95 0h5m-102 1h3m94 0h5m-100 1h1m95 0h4m-101 1h2m95 0h5m5 0h1m-109 1h1m99 0h2m3 0h1m-106 1h1m99 0h1m4 0h3m-108 1h4m96 0h3m2 0h4m-109 1h5m95 0h9m-109 1h5m95 0h2m2 0h5m-109 1h4m97 0h1m2 0h5m-109 1h4m97 0h8m-109 1h3m98 0h6m-107 1h3m99 0h5m-107 1h3m100 0h2m-105 1h5m98 0h2m-105 1h1m1 0h3m99 0h2m-106 1h5m99 0h2m-106 1h3m102 0h2m-107 1h2m104 0h1m-107 1h1m105 0h2m2 0h1m-111 1h1m105 0h2m1 0h2m-111 1h2m104 0h5m-111 1h3m104 0h4m-111 1h2m106 0h3m-111 1h1m108 0h2m-111 1h1m108 0h2m-2 1h2m-2 1h2m-4 1h4m-4 1h4m-4 1h4m-3 1h2m-2 1h1m-3 1h3m-3 1h1m-1 1h1m-1 1h2m-2 1h3m-1 1h1m-1 1h1m-1 1h1m-1 1h1m-1 1h1m-1 1h1m-1 1h1m-109 1h2m106 0h2m-109 1h1m106 0h1m-108 1h1m105 0h2m-108 1h2m103 0h2m-106 1h1m103 0h1m-105 1h1m102 0h1m-105 1h2m102 0h1m-106 1h3m102 0h1m-105 1h2m102 0h1m-105 1h3m100 0h2m-104 1h3m98 0h2m-102 1h3m96 0h3m-100 1h2m95 0h2m-98 1h3m92 0h2m-95 1h2m90 0h2m-93 1h1m89 0h3m-93 1h2m88 0h2m-92 1h2m87 0h4m-93 1h2m86 0h4m-91 1h2m85 0h4m-90 1h1m85 0h1m2 0h1m-89 1h1m83 0h1m-85 1h1m83 0h1m-84 1h1m81 0h2m-84 1h1m77 0h4m-82 1h2m75 0h4m-80 1h3m73 0h2m-75 1h1m71 0h2m-73 1h4m60 0h4m2 0h3m-70 1h2m57 0h4m2 0h4m-68 1h6m51 0h1m-58 1h1m5 0h2m48 0h1m-50 1h3m45 0h1m-47 1h3m39 0h1m2 0h1m-56 1h2m9 0h3m26 0h2m9 0h4m-44 1h4m22 0h8m6 0h3"/>
<path stroke="#3243ba" d="M0 0m19 0h6m1 0h2m2 0h4m11 0h1m-27 1h6m5 0h4m5 0h1m5 0h1m-32 1h2m3 0h4m1 0h3m2 0h7m2 0h2m4 0h1m1 0h1m-33 1h3m3 0h2m2 0h5m1 0h10m3 0h2m1 0h2m6 0h1m-41 1h3m3 0h2m2 0h10m2 0h9m2 0h9m-46 1h1m2 0h2m3 0h3m3 0h9m13 0h6m6 0h1m10 0h1m-60 1h5m2 0h4m3 0h8m15 0h4m8 0h7m2 0h5m-63 1h2m1 0h2m1 0h9m2 0h4m34 0h3m2 0h3m-62 1h1m1 0h12m38 0h2m8 0h4m-64 1h11m50 0h4m-65 1h6m55 0h6m-66 1h5m57 0h5m-67 1h4m61 0h2m-79 1h2m6 0h1m4 0h2m62 0h2m-79 1h2m3 0h7m1 0h1m63 0h1m-78 1h14m64 0h2m-77 1h11m64 0h4m-79 1h12m65 0h3m-81 1h13m67 0h4m-83 1h12m69 0h2m-83 1h9m73 0h2m-86 1h4m1 0h2m1 0h3m75 0h1m-87 1h11m76 0h4m-89 1h10m76 0h4m-90 1h10m76 0h5m-91 1h2m2 0h5m78 0h5m-93 1h3m2 0h4m80 0h3m-92 1h3m2 0h3m82 0h2m-92 1h4m1 0h4m80 0h3m-93 1h6m1 0h2m82 0h2m-94 1h2m2 0h6m84 0h1m-94 1h1m5 0h2m85 0h1m-94 1h2m92 0h1m-95 1h4m90 0h1m-97 1h6m90 0h3m-99 1h6m91 0h2m-96 1h3m91 0h2m-95 1h2m92 0h1m-95 1h2m92 0h1m2 0h2m-100 1h2m94 0h1m1 0h2m-100 1h1m95 0h1m-98 1h3m94 0h1m-98 1h4m93 0h2m-99 1h3m95 0h2m-98 1h1m96 0h1m-102 1h1m3 0h1m96 0h2m-99 1h1m97 0h1m-101 1h2m98 0h2m-103 1h5m97 0h2m-105 1h5m98 0h2m-105 1h3m100 0h2m-104 1h2m100 0h2m-103 1h1m100 0h3m-105 1h2m99 0h5m-107 1h2m100 0h6m-108 1h1m102 0h5m-109 1h2m104 0h3m-108 1h1m104 0h3m-3 1h1m-1 1h1m-1 1h1m-1 1h2m-3 1h3m-3 1h1m-1 1h1m-1 1h1m-1 1h1m-1 1h1m-1 1h3m-108 1h1m104 0h3m-108 1h1m104 0h3m-108 1h2m104 0h2m-108 1h2m105 0h1m-108 1h2m105 0h1m-108 1h3m104 0h1m-106 1h1m103 0h2m-106 1h1m103 0h2m-106 1h2m102 0h1m-104 1h1m101 0h1m-103 1h1m101 0h1m-103 1h1m100 0h1m-102 1h1m100 0h1m-102 1h1m100 0h1m-102 1h1m99 0h2m-101 1h2m96 0h2m-99 1h2m94 0h2m-97 1h1m94 0h1m-95 1h2m92 0h1m-93 1h1m90 0h1m-91 1h1m88 0h1m-90 1h2m86 0h1m-88 1h1m86 0h1m-88 1h1m85 0h1m-87 1h2m83 0h1m-85 1h1m83 0h1m-85 1h2m82 0h1m-84 1h1m81 0h1m-83 1h1m77 0h1m2 0h2m-82 1h1m75 0h5m-81 1h1m75 0h1m-76 1h1m73 0h1m-73 1h1m66 0h2m2 0h2m-72 1h3m60 0h8m-67 1h2m56 0h2m4 0h2m-65 1h5m51 0h1m-52 1h3m47 0h1m-49 1h2m44 0h2m-46 1h3m2 0h3m33 0h4m-43 1h7m19 0h3m9 0h1m1 0h2m-41 1h8m14 0h4m2 0h4m4 0h1m-36 1h7m4 0h1m8 0h2m8 0h1m3 0h2"/>
<path stroke="#2c4ac7" d="M0 0m45 2h1m-1 1h1m-12 1h2m9 0h2m-14 1h13m6 0h6m-26 1h1m6 0h3m2 0h3m4 0h3m4 0h1m-34 1h2m4 0h1m14 0h7m6 0h6m3 0h2m-45 1h7m17 0h3m10 0h1m2 0h8m-49 1h5m33 0h7m3 0h2m-55 1h7m47 0h1m-55 1h1m1 0h1m52 0h2m-58 1h2m55 0h4m-62 1h3m57 0h2m-63 1h3m-3 1h2m61 0h1m-64 1h2m61 0h1m-63 1h2m61 0h2m-65 1h2m62 0h3m-67 1h2m65 0h2m-72 1h3m68 0h2m-80 1h1m2 0h1m3 0h2m70 0h3m-75 1h2m72 0h2m-75 1h1m72 0h3m-76 1h1m73 0h2m-84 1h2m5 0h2m74 0h2m-85 1h2m4 0h2m76 0h2m-86 1h2m3 0h3m77 0h2m-86 1h1m4 0h2m77 0h1m-84 1h1m2 0h3m77 0h2m-90 1h2m6 0h2m79 0h3m-92 1h5m2 0h2m82 0h1m-91 1h7m84 0h1m-90 1h4m85 0h1m-90 1h2m-2 1h1m89 0h1m-91 1h1m89 0h1m-91 1h1m90 0h1m-92 1h1m90 0h1m-93 1h2m91 0h1m-95 1h2m92 0h1m-94 1h1m92 0h1m-1 1h1m-94 1h1m92 0h2m-95 1h1m93 0h2m-96 1h2m93 0h1m-96 1h3m93 0h1m-98 1h3m94 0h1m-96 1h1m95 0h1m-98 1h2m95 0h1m-100 1h3m96 0h1m-100 1h2m97 0h1m-100 1h1m98 0h1m-100 1h1m97 0h1m-100 1h2m97 0h1m-101 1h3m98 0h1m-102 1h3m99 0h2m-106 1h1m1 0h2m101 0h1m-106 1h3m102 0h1m-106 1h1m104 0h1m-1 1h1m-1 1h1m-2 1h1m-1 1h1m-1 1h1m-1 1h1m-1 1h1m-105 1h1m103 0h1m-105 1h2m102 0h1m-104 1h1m102 0h1m-104 1h1m102 0h1m-103 1h3m100 0h1m-104 1h4m99 0h2m-105 1h4m99 0h2m-104 1h3m99 0h2m-104 1h2m100 0h1m-103 1h2m100 0h1m-102 1h1m100 0h1m-102 1h1m99 0h1m-101 1h1m99 0h1m-2 1h1m-1 1h1m-100 1h1m97 0h2m-100 1h2m96 0h1m-97 1h1m94 0h1m-95 1h1m-1 1h1m92 0h1m-92 1h1m90 0h1m-91 1h2m87 0h1m-89 1h2m84 0h2m-87 1h1m84 0h1m-86 1h1m84 0h1m-86 1h1m83 0h1m-84 1h1m81 0h1m-83 1h1m81 0h1m-2 1h2m-5 1h4m-81 1h1m75 0h1m1 0h2m-5 1h1m-75 1h1m72 0h2m-74 1h1m67 0h5m-71 1h2m62 0h2m2 0h2m-67 1h3m56 0h1m-57 1h3m52 0h1m-52 1h1m49 0h1m-48 1h1m45 0h1m-46 1h8m33 0h3m-41 1h2m3 0h1m19 0h2m4 0h1m5 0h1m-32 1h3m13 0h3m3 0h5m3 0h1m-29 1h5m8 0h1m10 0h1m1 0h2m-28 1h4m1 0h2m5 0h1m11 0h3"/>
<path stroke="#2053d4" d="M0 0m33 6h6m3 0h2m10 0h4m-26 1h14m7 0h6m-27 1h17m3 0h2m6 0h2m-33 1h6m5 0h3m4 0h5m9 0h1m7 0h3m-46 1h8m7 0h2m20 0h10m-53 1h1m1 0h6m44 0h2m-54 1h3m2 0h2m46 0h2m-55 1h3m52 0h2m-58 1h5m53 0h2m-61 1h2m58 0h1m-61 1h2m58 0h1m-60 1h1m59 0h1m-61 1h1m60 0h1m-62 1h1m62 0h2m-67 1h4m63 0h1m-69 1h5m64 0h1m-70 1h5m65 0h2m-72 1h4m67 0h1m-72 1h3m69 0h1m-73 1h2m71 0h1m-75 1h2m73 0h1m-76 1h2m73 0h2m-77 1h1m75 0h1m-77 1h1m75 0h1m-78 1h2m76 0h1m-80 1h2m78 0h2m-83 1h2m81 0h1m-85 1h2m82 0h1m-87 1h3m84 0h1m-89 1h3m85 0h1m-89 1h2m86 0h1m-89 1h1m88 0h1m-90 1h1m89 1h1m-92 1h1m90 0h1m-92 1h2m89 0h1m-92 1h1m90 0h1m-92 1h1m90 0h1m-92 1h2m89 0h2m-92 1h1m89 0h3m-2 1h3m-94 1h1m92 0h1m-94 1h1m93 0h1m-1 1h1m-96 1h1m94 0h1m-97 1h2m94 0h1m-98 1h2m94 0h2m-98 1h1m95 0h1m-97 1h1m95 0h1m-97 1h1m96 0h1m-98 1h1m96 0h2m-100 1h2m97 0h2m-102 1h3m98 0h1m-104 1h3m100 0h1m-105 1h1m102 0h2m-2 1h2m-2 1h1m-1 1h1m-1 1h1m-104 1h2m101 0h1m-104 1h3m-2 1h2m-1 1h1m100 0h1m-102 1h4m97 0h1m-102 1h5m96 0h1m-99 1h2m97 0h1m-99 1h1m97 0h1m-99 1h2m96 0h1m-99 1h3m95 0h1m-100 1h3m96 0h1m-100 1h1m98 0h1m-100 1h1m98 0h1m-100 1h1m97 1h1m-100 1h1m-1 1h1m97 0h1m-98 1h1m0 1h1m94 0h1m-95 1h1m92 0h1m-1 1h1m-93 1h2m89 0h1m-90 1h2m87 0h1m-88 1h1m84 0h2m-86 1h1m-1 1h1m82 0h1m-84 1h1m82 0h1m-84 1h1m81 0h1m-82 1h1m79 0h1m-81 1h1m79 0h1m-81 1h1m76 0h3m-80 1h1m75 0h1m-76 1h1m73 0h1m-75 1h1m71 0h2m-73 1h2m66 0h4m-71 1h3m62 0h2m-64 1h4m56 0h2m-58 1h2m53 0h1m-53 1h1m50 0h1m-50 1h3m45 0h1m-46 1h8m35 0h2m-37 1h1m19 0h1m10 0h2m-32 1h6m10 0h3m2 0h4m1 0h2m2 0h1m-28 1h4m7 0h2m11 0h3m-23 1h2m4 0h2m12 0h1m-19 1h1m2 0h2"/>
<path stroke="#0f5cdd" d="M0 0m54 8h6m-25 1h5m3 0h4m5 0h9m-27 1h7m2 0h12m6 0h2m-35 1h9m3 0h8m2 0h1m13 0h2m1 0h5m-49 1h2m2 0h11m33 0h2m-50 1h14m35 0h3m-51 1h8m44 0h1m-57 1h7m50 0h1m-58 1h6m-6 1h4m54 0h1m-59 1h4m55 0h1m-60 1h4m56 0h2m-61 1h2m60 0h1m-63 1h2m60 0h2m-64 1h1m62 0h2m-66 1h2m64 0h1m-68 1h2m66 0h1m-70 1h1m69 0h1m-72 1h2m69 0h2m-73 1h1m71 0h1m-74 1h1m73 0h1m-75 1h1m73 0h1m-75 1h1m74 0h1m-77 1h2m75 0h1m-79 1h1m79 0h1m-82 1h1m80 0h1m-83 1h2m81 0h1m-85 1h2m82 0h1m-86 1h3m82 0h1m-87 1h2m85 0h1m-88 1h1m86 0h2m-90 1h1m88 0h1m-90 1h2m87 0h1m-89 1h1m87 0h1m-90 1h2m87 0h1m-90 1h1m88 0h1m-89 1h1m87 0h1m-89 1h1m-1 1h1m88 0h1m-90 1h1m89 0h2m-92 1h1m89 0h3m-94 1h2m90 0h2m-94 1h2m90 0h2m-94 1h2m90 0h2m-95 1h2m91 0h1m-95 1h3m91 0h1m-95 1h2m-2 1h2m93 0h1m-96 1h2m93 0h1m-96 1h2m94 0h1m-97 1h2m95 0h1m-100 1h3m96 0h1m-103 1h5m-6 1h2m-2 1h2m-2 1h3m99 0h1m-103 1h3m99 0h1m-101 1h2m98 0h1m-100 1h1m99 0h1m-101 1h4m96 0h1m-101 1h6m-3 1h3m93 0h1m-96 1h2m93 0h1m-96 1h1m94 0h2m-97 1h2m94 0h1m-96 1h1m94 0h1m-95 1h1m93 0h1m-96 1h2m93 0h1m-98 1h4m93 0h1m-98 1h4m93 0h1m-98 1h1m96 0h1m-99 1h1m-1 1h1m96 0h1m-98 1h1m0 1h1m4 0h1m89 0h1m-95 1h1m92 0h1m-93 1h1m-1 1h2m89 0h1m-90 1h4m84 0h1m-87 1h2m83 0h2m-86 1h2m81 0h1m-83 1h1m81 0h1m-83 1h1m-1 1h1m80 0h1m-82 1h1m79 0h1m-80 1h1m77 0h1m-79 1h1m75 0h3m-79 1h1m74 0h1m-76 1h1m73 0h1m-74 1h1m70 0h2m-73 1h2m65 0h4m-69 1h1m63 0h2m-64 1h1m59 0h2m-58 1h2m53 0h1m-54 1h2m50 0h1m-51 1h3m3 0h2m41 0h1m-46 1h8m35 0h2m-37 1h1m29 0h5m-34 1h6m10 0h3m1 0h10m-24 1h1m2 0h2m3 0h2m12 0h2m-23 1h7m-5 1h4m-3 1h2"/>
<path stroke="#0363e1" d="M0 0m55 10h6m-24 1h3m8 0h2m1 0h5m6 0h2m2 0h1m-29 1h17m8 0h3m2 0h3m-34 1h4m23 0h2m4 0h2m-40 1h6m34 0h4m-49 1h8m40 0h2m-51 1h8m42 0h2m-54 1h9m44 0h1m-54 1h8m45 0h2m-55 1h2m2 0h2m48 0h2m-57 1h3m3 0h1m51 0h2m-60 1h3m56 0h1m-61 1h4m57 0h1m-62 1h4m57 0h3m-65 1h5m58 0h3m-68 1h3m2 0h1m61 0h2m-69 1h3m65 0h1m-70 1h4m66 0h1m-72 1h4m68 0h1m-73 1h1m71 0h1m-73 1h1m72 0h1m-74 1h1m72 0h2m-77 1h2m75 0h2m-80 1h1m78 0h1m-80 1h1m79 0h1m-82 1h1m80 0h1m-82 1h1m80 0h1m-84 1h3m81 0h1m-86 1h3m82 0h1m-87 1h3m83 0h2m-87 1h2m84 0h1m-87 1h2m84 0h1m-87 1h1m-2 1h1m0 2h1m86 0h1m-88 1h1m86 0h1m-88 1h1m87 0h1m-89 1h1m87 0h1m-89 1h1m88 0h1m-90 1h1m88 0h1m-90 1h1m88 0h1m-91 1h1m89 0h1m-91 1h1m89 0h1m-92 1h2m90 0h1m-93 1h1m91 0h1m-93 1h1m-1 1h1m92 0h1m-94 1h1m92 0h2m-96 1h1m94 0h1m-97 1h2m94 0h1m-101 1h5m95 0h1m-101 1h4m96 0h1m-100 1h2m-2 1h4m-3 1h4m-4 1h5m93 0h1m-96 1h4m91 0h1m-94 1h1m91 0h2m-94 1h1m91 0h1m-93 1h1m91 0h1m-94 1h3m90 0h1m-93 1h2m90 0h2m-94 1h2m91 0h1m-1 1h1m-93 1h1m91 0h1m-93 1h2m90 0h1m-93 1h2m90 0h1m-96 1h4m91 0h1m-97 1h1m95 0h1m-97 1h1m4 0h2m88 0h1m-96 1h2m2 0h4m87 0h1m-95 1h1m2 0h1m1 0h2m86 0h1m-93 1h1m1 0h3m-4 1h4m86 0h1m-90 1h4m84 0h1m-85 1h1m82 0h1m-84 1h2m80 0h1m-82 1h1m-1 1h2m78 0h1m-81 1h2m78 0h1m-81 1h1m78 0h1m-80 1h1m77 0h1m-4 1h3m-77 1h1m72 0h2m-75 1h2m71 0h1m-74 1h2m69 0h2m-72 1h2m65 0h3m-69 1h1m63 0h1m-64 1h2m59 0h2m-61 1h4m54 0h1m-54 1h1m51 0h1m-51 1h1m5 0h3m40 0h1m-47 1h3m2 0h4m35 0h2m-37 1h5m25 0h5m-34 1h6m11 0h12m-23 1h1m1 0h3m3 0h2m-9 1h2m2 0h3"/>
<path stroke="#0268e1" d="M0 0m56 11h6m-7 1h2m4 0h2m3 0h2m-27 1h15m6 0h2m2 0h4m-32 1h4m7 0h4m11 0h8m-37 1h3m34 0h3m-41 1h2m37 0h3m-43 1h2m40 0h2m-45 1h3m41 0h1m-51 1h2m2 0h2m1 0h1m43 0h1m-52 1h3m1 0h1m47 0h3m-55 1h5m49 0h2m-56 1h1m1 0h2m51 0h2m-57 1h1m55 0h1m-57 1h1m56 0h1m-62 1h2m1 0h2m57 0h2m-64 1h5m58 0h2m-65 1h2m61 0h3m-67 1h3m62 0h3m-71 1h4m64 0h3m-71 1h3m68 0h1m-72 1h2m69 0h1m-73 1h1m71 0h3m-77 1h2m74 0h2m-78 1h1m76 0h2m-80 1h1m78 0h1m-80 1h1m-1 1h1m79 0h1m-82 1h1m80 0h1m-83 1h1m81 0h1m-83 1h1m82 0h1m-84 1h1m82 0h1m-85 1h1m84 0h1m-87 1h1m85 0h1m-87 1h1m85 0h1m-1 1h1m-86 2h1m85 0h1m-87 1h1m-1 1h1m86 0h1m-1 1h1m-89 2h1m-1 1h1m88 1h1m-91 1h1m89 0h1m-91 1h1m90 0h1m-92 1h1m90 0h1m-92 1h1m-2 1h1m92 0h1m-94 1h1m92 0h1m-95 1h2m92 0h1m-96 1h4m91 0h1m-97 1h6m90 0h1m-95 1h3m91 0h1m-94 1h2m90 0h2m-93 1h2m89 0h2m-2 1h2m-92 1h1m89 0h1m-91 1h1m89 0h1m-91 1h1m89 0h1m-90 1h1m88 0h1m-90 1h1m88 0h1m-90 1h1m89 0h1m-92 1h2m89 0h1m-91 1h1m89 0h1m-90 1h1m88 0h1m-90 1h1m88 0h1m-91 1h2m88 0h1m-95 1h6m88 0h1m-95 1h4m2 0h1m-6 1h2m4 0h1m85 0h1m-93 1h2m4 0h1m84 0h1m-91 1h1m3 0h2m84 0h1m-87 1h3m82 0h1m-85 1h2m81 0h1m-83 1h1m80 0h1m-81 1h1m78 0h1m-80 1h2m77 0h1m-79 1h1m76 0h1m-78 1h2m74 0h2m-79 1h3m73 0h2m-78 1h2m72 0h3m-77 1h2m71 0h1m-73 1h2m69 0h1m-71 1h1m67 0h3m-71 1h1m65 0h3m-68 1h1m61 0h3m-65 1h2m59 0h2m-61 1h3m55 0h1m-55 1h3m50 0h1m-52 1h3m46 0h2m-49 1h5m3 0h2m37 0h1m-37 1h5m24 0h4m1 0h1m-30 1h2m13 0h10m-23 1h1m3 0h1m2 0h4m-10 1h1m3 0h3"/>
<path stroke="#046de0" d="M0 0m57 12h4m-5 1h6m-20 1h7m4 0h4m1 0h1m1 0h4m-26 1h2m9 0h6m9 0h8m-36 1h2m33 0h2m-38 1h2m36 0h2m-40 1h1m38 0h2m-44 1h1m1 0h1m40 0h2m-46 1h3m42 0h2m-47 1h1m44 0h4m-53 1h1m2 0h1m45 0h5m-54 1h4m47 0h4m-55 1h3m52 0h1m-56 1h1m55 0h1m-57 1h1m55 0h2m-61 1h3m57 0h1m-61 1h2m58 0h2m-64 1h2m61 0h1m-65 1h1m64 0h3m-69 1h1m67 0h1m-71 1h1m69 0h1m-72 1h1m71 0h2m-75 1h1m73 0h2m-77 1h1m76 0h1m-78 1h1m77 0h1m-79 1h1m77 0h1m-80 1h1m78 0h1m-81 1h1m79 0h1m-81 1h1m80 0h1m-1 1h1m-83 1h1m82 0h1m-85 1h1m83 0h1m-85 1h1m-1 1h1m-1 1h1m84 0h1m0 2h1m-1 1h1m-87 1h1m-1 1h1m86 0h1m-88 1h1m86 0h1m-1 1h1m-89 1h1m87 0h1m-89 1h1m-1 1h1m88 0h1m-90 1h1m89 1h1m-92 1h1m90 0h1m-92 1h1m90 0h1m-92 1h2m89 0h1m-91 1h1m89 0h1m-1 1h1m-91 1h1m89 0h1m-91 1h1m88 0h1m-1 1h1m-89 1h1m87 0h1m-89 1h1m87 0h1m-89 1h1m87 0h1m-89 1h1m87 0h1m-88 1h1m-1 1h1m-1 1h1m87 0h1m-89 1h1m87 0h1m-89 1h2m86 0h1m-88 1h1m86 0h1m-88 1h1m86 0h1m-88 1h1m86 0h1m-88 1h2m85 0h1m-87 1h2m83 0h2m-86 1h1m82 0h2m-85 1h1m82 0h1m-84 1h2m80 0h2m-83 1h1m78 0h3m-82 1h1m78 0h2m-81 1h1m78 0h1m-79 1h1m76 0h1m-77 1h1m75 0h1m-77 1h1m74 0h1m-75 1h1m71 0h2m-74 1h2m69 0h2m-74 1h3m67 0h2m-72 1h3m66 0h2m-70 1h2m63 0h4m-69 1h2m61 0h4m-67 1h3m58 0h4m-64 1h2m57 0h2m-60 1h3m55 0h1m-56 1h3m51 0h1m-51 1h3m45 0h2m-48 1h8m37 0h1m-37 1h5m24 0h4m2 0h2m-31 1h2m15 0h7m4 0h1m-27 1h1m4 0h8m-12 1h3m1 0h2"/>
<path stroke="#0871de" d="M0 0m57 14h1m1 0h1m-20 1h9m6 0h9m-26 1h2m9 0h5m12 0h5m-34 1h1m33 0h2m-37 1h1m35 0h2m-39 1h1m38 0h1m-41 1h1m39 0h2m-44 1h1m41 0h2m-45 1h1m43 0h1m-45 1h1m44 0h2m-48 1h1m47 0h4m-54 1h2m52 0h1m-55 1h1m53 0h1m-56 1h1m54 0h2m-58 1h1m56 0h1m-60 1h1m59 0h1m-63 1h2m61 0h1m-65 1h1m64 0h2m-69 1h2m66 0h1m-70 1h1m69 0h1m-72 1h1m71 0h1m-74 1h1m74 0h1m0 1h1m-1 1h1m-78 1h1m76 0h1m-79 1h1m77 0h1m-1 1h2m-81 1h1m79 0h1m0 1h1m-83 1h1m81 0h1m-83 1h1m82 0h1m-84 1h1m82 0h1m-84 1h1m-1 1h1m83 0h1m-85 1h1m84 2h1m-1 1h1m-1 1h1m-87 1h1m85 0h1m-87 1h1m-1 1h1m86 0h1m-88 1h1m86 0h1m-88 1h1m87 0h1m-90 1h2m87 0h1m-90 1h1m88 0h1m-90 1h1m88 0h1m-89 1h1m87 0h1m-89 1h1m87 0h1m-89 1h1m87 0h1m-89 1h1m87 0h1m-89 1h1m-1 1h1m86 0h1m-87 1h1m85 0h1m-87 1h1m84 0h2m-87 1h1m85 0h1m-87 1h2m84 0h1m-86 1h1m85 0h1m-87 1h1m85 0h1m-87 1h1m85 0h1m-87 1h1m84 0h2m-86 1h1m84 0h1m-86 1h1m84 0h1m-86 1h1m84 0h1m-86 1h2m82 0h2m-85 1h2m81 0h2m-84 1h1m81 0h1m-83 1h2m79 0h1m-82 1h2m78 0h2m-4 1h3m-3 1h1m-78 1h1m75 0h2m-78 1h2m74 0h2m-77 1h1m74 0h1m-2 1h2m-75 1h1m71 0h2m-73 1h1m69 0h1m-70 1h1m65 0h3m-69 1h1m64 0h2m-67 1h1m62 0h3m-66 1h1m61 0h1m-63 1h2m57 0h2m-60 1h1m56 0h1m-58 1h2m54 0h1m-55 1h6m48 0h1m-52 1h9m41 0h1m-47 1h7m3 0h2m31 0h2m-38 1h7m24 0h6m-31 1h2m6 0h2m9 0h5m4 0h2m-27 1h2m1 0h6m2 0h4m-14 1h4"/>
<path stroke="#0d75dc" d="M0 0m40 16h9m5 0h12m-28 1h8m5 0h2m9 0h2m2 0h5m-34 1h4m30 0h1m-36 1h1m35 0h2m-39 1h2m36 0h1m-41 1h2m38 0h1m-42 1h1m40 0h2m-43 1h1m41 0h2m-45 1h1m43 0h3m-48 1h1m49 0h2m-53 1h1m51 0h1m-54 1h1m52 0h1m0 1h1m-58 1h1m57 0h1m-60 1h1m59 0h1m-63 1h2m61 0h1m-65 1h1m64 0h1m-68 1h1m67 0h1m-70 1h1m69 0h1m-72 1h1m71 0h2m-75 1h1m73 0h2m-76 1h1m74 0h1m-76 1h1m74 0h1m-77 1h1m75 0h1m-78 1h1m-1 1h1m77 0h1m-80 1h1m79 0h1m-81 1h1m-1 1h1m80 0h1m-82 1h1m81 1h1m-1 1h1m0 1h1m-85 1h1m83 0h1m-85 1h1m83 0h1m-1 1h1m-85 1h1m-1 1h1m-1 1h1m84 0h1m-86 1h1m84 0h1m-86 1h1m84 0h1m-86 1h1m85 0h1m-87 1h1m-2 1h3m-3 1h3m84 0h1m-87 1h1m85 0h1m-87 1h1m-1 1h1m-1 1h1m85 0h1m-87 1h1m85 0h1m-87 1h1m84 0h1m-85 1h1m83 0h1m-85 1h1m-1 1h1m83 0h1m-84 1h1m82 0h1m-84 1h1m83 0h1m-85 1h1m83 0h1m-85 1h1m82 0h2m-85 1h1m82 0h1m-1 1h2m-84 1h1m81 0h2m-84 1h2m80 0h2m-83 1h1m80 0h1m-81 1h1m78 0h2m-81 1h1m78 0h2m-80 1h1m77 0h1m-4 1h3m-79 1h1m75 0h1m-77 1h1m75 0h1m-76 1h1m73 0h1m-74 1h1m72 0h1m-74 1h1m72 0h1m-74 1h1m71 0h1m-72 1h1m69 0h1m-70 1h1m65 0h3m-4 1h1m-65 1h1m61 0h2m-64 1h1m60 0h1m-62 1h1m56 0h4m-60 1h1m55 0h1m-57 1h1m53 0h2m-55 1h6m3 0h1m42 0h2m-48 1h7m38 0h3m-42 1h7m28 0h6m-39 1h3m2 0h2m18 0h2m4 0h5m-29 1h4m13 0h7m-23 1h6m2 0h2m2 0h5m-14 1h1m6 0h2"/>
<path stroke="#1079da" d="M0 0m46 17h5m2 0h9m2 0h2m-25 1h6m4 0h2m5 0h1m3 0h9m-34 1h8m23 0h4m-31 1h2m27 0h3m-38 1h1m35 0h2m-40 1h2m37 0h1m-40 1h1m39 0h1m-42 1h1m40 0h2m-44 1h1m42 0h6m-50 1h1m49 0h1m-52 1h1m50 0h1m-54 1h2m52 0h1m-56 1h1m55 0h1m-58 1h1m56 0h2m-60 1h1m59 0h1m-63 1h2m61 0h1m-66 1h1m64 0h2m-68 1h1m66 0h2m-70 1h1m69 0h1m-72 1h1m71 0h1m0 1h1m-1 1h1m-75 1h1m73 0h1m-76 1h1m75 0h1m-77 1h1m75 0h1m-78 1h1m77 0h1m0 1h1m0 2h1m-82 1h1m80 0h1m-82 1h1m80 0h1m-82 1h1m81 0h1m-84 3h1m83 1h1m-1 1h1m-84 1h1m82 0h1m-84 1h1m82 0h1m-1 1h1m-84 1h1m83 0h1m-85 1h1m83 0h2m-85 1h1m82 0h2m-85 1h1m-2 1h1m-1 1h1m84 0h1m-86 1h1m83 0h2m-86 1h1m83 0h1m-85 1h1m82 0h2m-85 1h1m82 0h1m-83 1h1m81 0h1m-83 1h1m81 0h1m-83 1h2m80 0h1m-82 1h1m80 0h1m-82 1h2m79 0h2m-83 1h1m80 0h2m-83 1h1m80 0h1m-82 1h1m80 0h1m-82 1h1m80 0h1m-81 1h1m79 0h1m-1 1h1m-80 1h1m77 0h2m-2 1h1m-78 1h1m74 0h3m-4 1h4m-78 1h1m73 0h1m-75 1h1m72 0h2m-75 1h2m72 0h1m-74 1h1m71 0h1m-72 1h1m70 0h1m-72 1h1m70 0h1m-72 1h1m69 0h1m-70 1h1m64 0h4m-5 1h2m-65 1h1m61 0h2m-3 1h1m-61 1h1m55 0h4m-60 1h2m53 0h1m-55 1h2m52 0h1m-55 1h6m2 0h5m38 0h2m-47 1h3m1 0h3m37 0h2m-39 1h6m20 0h2m5 0h5m-32 1h2m10 0h1m6 0h4m1 0h4m-26 1h4m6 0h5m1 0h2m2 0h4m-20 1h13m-6 1h2"/>
<path stroke="#127dd8" d="M0 0m47 18h4m2 0h5m1 0h3m-17 1h3m3 0h2m9 0h6m-31 1h4m2 0h3m21 0h3m-34 1h1m4 0h1m28 0h1m-36 1h1m34 0h2m-38 1h1m36 0h2m-40 1h1m38 0h1m-41 1h1m40 0h1m-43 1h1m42 0h3m1 0h2m-50 1h1m48 0h1m-51 1h1m50 0h1m-54 1h2m51 0h2m-56 1h1m-2 1h1m57 0h1m-60 1h1m59 0h1m-64 1h2m-3 1h1m64 0h1m-67 1h1m66 0h2m-70 1h1m69 0h1m-72 1h1m71 0h1m-73 1h1m71 0h1m-74 2h1m73 0h1m-76 2h1m75 0h1m-78 1h1m77 0h1m-79 1h1m78 0h1m-1 1h1m-1 1h1m-1 1h1m0 1h1m-82 1h1m81 0h1m-83 1h1m81 0h1m-83 1h1m81 0h1m-83 1h1m81 0h1m-83 1h1m81 0h1m-1 1h1m-1 1h1m-83 1h1m81 0h1m0 1h1m-83 1h1m81 0h1m-1 1h1m0 1h1m-84 1h1m82 0h1m-84 1h1m82 0h1m-84 1h1m81 0h1m-83 1h1m80 0h2m-83 1h1m80 0h1m-82 1h2m79 0h1m-81 1h1m78 0h2m-81 1h2m77 0h2m-80 1h1m78 0h1m-80 1h2m77 0h1m-79 1h1m77 0h1m-80 1h1m78 0h1m-80 1h1m78 0h1m-80 1h1m78 0h1m-80 1h1m78 0h1m-1 1h1m-79 1h1m77 0h1m-78 1h1m75 0h1m-77 1h1m74 0h2m-76 1h1m71 0h2m-74 1h1m71 0h1m-73 1h1m70 0h2m-73 1h1m70 0h1m-71 1h1m69 0h2m-72 1h1m69 0h1m-70 1h1m68 0h1m-70 1h1m61 0h4m3 0h1m-70 1h1m60 0h8m-8 1h4m-64 1h1m55 0h1m3 0h3m-62 1h1m54 0h2m1 0h3m-61 1h1m54 0h5m-59 1h1m52 0h2m-54 1h1m6 0h2m43 0h1m-52 1h11m39 0h2m-48 1h2m5 0h1m24 0h1m2 0h1m8 0h1m-38 1h6m9 0h5m4 0h13m-31 1h3m1 0h10m1 0h5m2 0h5m-25 1h10m1 0h6m4 0h1m-18 1h6m5 0h1"/>
<path stroke="#1481d6" d="M0 0m48 19h3m2 0h9m-16 1h8m8 0h5m-30 1h4m1 0h4m16 0h1m2 0h5m-34 1h2m2 0h2m24 0h4m-35 1h1m31 0h4m-37 1h1m33 0h4m-39 1h1m38 0h1m-41 1h2m39 0h1m3 0h1m-47 1h1m43 0h4m-49 1h1m46 0h3m-51 1h1m48 0h2m-53 1h2m51 0h2m-56 1h1m55 0h1m-58 1h1m57 0h1m-61 1h2m59 0h1m-64 1h2m62 1h1m-67 1h1m66 0h2m-70 1h1m69 0h1m-72 2h1m71 0h1m-1 1h1m-74 1h1m73 0h1m-76 2h1m75 0h1m0 1h1m-79 1h1m77 0h1m-79 1h1m77 0h1m-79 1h1m-1 1h1m78 0h1m-80 1h1m79 0h1m-1 1h1m-1 1h1m-81 2h1m-1 1h1m79 0h1m-81 1h1m79 0h1m-81 1h1m79 0h1m-81 1h1m79 0h2m-1 1h1m-81 1h1m79 0h1m-81 1h1m79 0h2m-82 1h1m80 0h1m-82 1h1m80 0h1m-82 1h1m79 0h1m-81 1h1m78 0h1m-80 1h1m77 0h2m-79 1h1m76 0h2m-79 1h1m76 0h1m-77 1h1m75 0h1m-77 1h1m75 0h2m-77 1h1m75 0h1m-1 1h1m-78 1h1m76 0h1m-78 1h1m76 0h1m-1 1h1m-78 1h1m76 0h1m-78 1h1m76 0h1m-77 1h1m74 0h2m-3 1h2m-75 1h1m71 0h2m-3 1h1m-71 1h1m68 0h2m-71 1h1m68 0h1m-70 1h1m68 0h1m-1 1h1m-69 1h1m67 0h1m-7 1h7m-68 1h1m56 0h4m4 0h3m-68 1h1m56 0h3m-60 1h1m54 0h5m-59 1h1m53 0h1m1 0h3m-58 1h1m52 0h1m2 0h1m-57 1h2m7 0h1m43 0h1m-53 1h3m3 0h4m2 0h1m38 0h1m-51 1h6m2 0h5m37 0h1m-40 1h4m10 0h7m2 0h6m3 0h2m3 0h2m-38 1h6m6 0h12m1 0h2m1 0h8m-31 1h9m5 0h4m-15 1h1m10 0h1"/>
<path stroke="#1485d4" d="M0 0m54 20h8m-16 1h9m2 0h1m3 0h1m1 0h2m-27 1h2m2 0h11m8 0h5m-30 1h3m9 0h3m11 0h5m-32 1h1m12 0h1m14 0h5m-34 1h1m30 0h7m-38 1h1m36 0h2m-41 1h2m38 0h3m-44 1h1m43 0h2m-47 1h1m45 0h2m-49 1h1m48 0h2m-53 1h1m52 0h2m-56 1h1m54 0h2m-58 1h1m57 0h1m-61 1h2m59 0h1m-65 1h4m60 0h1m-65 1h1m-2 1h1m67 0h1m-70 1h1m69 0h1m-1 1h1m-72 1h1m71 1h1m-74 1h1m72 0h2m-75 1h1m73 0h1m-76 1h1m75 0h1m-1 1h1m0 2h1m-1 1h1m0 1h1m-80 1h1m78 0h1m-80 1h1m78 0h1m-80 1h1m78 0h2m-1 1h1m-80 1h1m-1 1h1m-1 1h1m77 0h1m-79 1h1m77 0h1m-79 1h1m77 0h2m-1 1h1m-79 1h1m77 0h1m-79 1h1m78 0h1m-80 1h1m78 0h1m-80 1h1m76 0h2m-79 1h1m76 0h1m-78 1h1m75 0h1m-76 1h1m74 0h1m-76 1h2m73 0h1m-75 1h1m73 0h1m-75 1h1m73 0h1m-1 1h2m-76 1h1m73 0h2m-76 1h1m74 0h1m-1 1h1m-77 1h1m75 0h1m-1 1h1m-76 1h1m73 0h2m-3 1h2m-74 1h1m69 0h3m-4 1h3m-71 1h1m67 0h2m-3 1h2m-68 1h1m65 0h2m-68 1h1m62 0h1m2 0h2m-68 1h1m62 0h5m-67 1h1m57 0h9m-67 1h1m56 0h4m-60 1h1m54 0h1m-56 1h1m53 0h2m-56 1h2m-1 1h2m50 0h1m-52 1h3m4 0h4m40 0h1m-51 1h7m1 0h4m37 0h2m-49 1h3m4 0h2m1 0h3m10 0h2m10 0h2m10 0h1m-37 1h3m8 0h17m2 0h1m4 0h2m-35 1h4m1 0h5m7 0h2m6 0h3m2 0h3m-30 1h6"/>
<path stroke="#1389d3" d="M0 0m55 21h2m1 0h3m-8 1h5m-19 1h9m3 0h2m8 0h1m-26 1h4m6 0h2m1 0h3m10 0h1m-28 1h3m9 0h2m15 0h1m-30 1h1m30 0h5m-37 1h1m36 0h1m-40 1h2m37 0h4m-44 1h1m42 0h2m-46 1h1m45 0h2m-50 1h2m47 0h3m-53 1h1m52 0h1m-55 1h1m54 0h2m-58 1h1m57 0h1m-60 1h1m-4 1h3m61 0h1m0 1h1m0 1h1m-70 1h1m68 0h1m0 1h1m-72 1h1m70 0h1m-72 1h1m71 1h1m-74 1h1m73 0h1m-76 1h1m74 0h1m-76 1h1m75 0h1m-77 1h1m75 0h1m-77 1h1m75 0h1m0 1h1m-78 2h1m76 0h1m-78 1h1m-1 1h1m77 0h1m-1 1h1m-1 1h1m-2 2h1m-77 1h1m75 0h1m-77 1h1m76 0h1m-77 1h1m75 0h1m-77 1h1m75 0h2m-78 1h1m75 0h2m-78 1h2m73 0h1m-76 1h2m73 0h1m-76 1h2m-1 1h2m71 0h1m-73 1h1m71 0h1m-73 1h1m71 0h1m-73 1h1m71 0h1m-73 1h1m71 0h1m-1 1h1m-1 1h2m-75 1h1m73 0h1m-75 1h1m73 0h1m-75 1h1m73 0h1m-74 1h1m71 0h1m-73 1h1m67 0h4m-71 1h1m66 0h2m-69 1h1m66 0h1m-4 1h1m1 0h2m-67 1h1m61 0h4m-65 1h1m60 0h4m-65 1h1m60 0h1m1 0h2m-65 1h1m56 0h5m-61 1h1m54 0h2m-57 1h2m52 0h2m-55 1h2m51 0h1m-54 1h2m50 0h1m-52 1h2m48 0h2m-51 1h10m39 0h1m-48 1h4m4 0h2m15 0h4m5 0h1m11 0h2m-38 1h4m9 0h6m3 0h6m7 0h2m-34 1h10m2 0h10m2 0h5m3 0h2m-33 1h8m17 0h2m1 0h4m-29 1h1"/>
<path stroke="#108ed2" d="M0 0m58 22h3m-8 1h5m2 0h1m-21 1h3m1 0h2m6 0h3m6 0h1m-24 1h2m5 0h2m2 0h2m11 0h2m-28 1h2m8 0h2m16 0h2m-31 1h2m30 0h4m-37 1h2m34 0h1m-39 1h2m36 0h4m-43 1h1m42 0h2m-46 1h1m45 0h1m-49 1h1m49 0h2m-53 1h1m52 0h1m-55 1h1m55 0h1m-58 1h1m57 0h1m-60 1h1m58 0h2m-65 1h4m61 0h1m-67 1h2m65 0h1m-68 1h1m-2 1h1m68 0h1m-70 1h1m68 0h1m0 1h1m-72 1h1m70 0h1m-72 1h1m71 0h1m-74 1h1m-1 1h1m73 0h1m-1 1h1m-1 1h1m-76 1h1m75 0h1m-77 1h1m76 0h1m-77 2h1m75 0h1m-77 1h1m75 0h1m-77 1h1m75 0h1m-77 1h1m75 0h1m-77 1h1m75 0h1m-77 1h1m74 0h1m-75 1h1m73 0h1m-75 1h1m73 0h2m-2 1h2m-75 1h1m73 0h1m-75 1h1m72 0h2m-2 1h1m-73 1h1m71 0h1m-73 1h1m70 0h2m-72 1h1m69 0h1m-71 1h1m69 0h1m-71 1h1m69 0h1m-1 1h1m-1 1h1m-72 1h1m70 0h1m-72 1h1m70 0h1m-72 1h1m70 0h2m-73 1h1m69 0h3m-73 1h1m67 0h5m-72 1h1m65 0h5m-71 1h1m64 0h2m-3 1h3m-4 1h4m-66 1h1m60 0h2m1 0h1m-64 1h1m59 0h1m-60 1h1m56 0h3m-60 1h1m54 0h5m-60 1h1m54 0h1m-55 1h1m52 0h1m-53 1h2m49 0h1m-51 1h1m49 0h1m-51 1h2m2 0h1m43 0h2m-49 1h8m26 0h1m11 0h2m-39 1h2m14 0h6m2 0h5m8 0h2m-37 1h3m2 0h2m5 0h3m4 0h1m1 0h3m1 0h5m5 0h1m-32 1h9m6 0h3m6 0h7m-3 1h3"/>
<path stroke="#0c93d2" d="M0 0m58 23h2m-17 1h1m11 0h6m-21 1h5m6 0h8m2 0h1m-24 1h2m5 0h1m2 0h3m2 0h3m1 0h1m4 0h2m-27 1h2m7 0h3m16 0h2m-31 1h2m28 0h4m-36 1h2m33 0h1m-38 1h2m37 0h3m-43 1h2m41 0h2m-47 1h3m45 0h1m-50 1h1m50 0h1m-53 1h1m53 0h1m-56 1h2m54 0h1m-58 1h2m55 0h1m-59 1h1m58 0h2m-64 1h3m60 0h2m-66 1h1m64 0h2m-68 1h2m65 0h1m-69 2h1m68 0h1m-70 1h1m68 0h1m0 1h1m-72 1h1m71 0h1m-1 1h1m-74 1h1m72 0h1m-74 1h1m73 1h1m-75 1h1m73 0h2m-76 1h1m73 0h2m-1 1h1m-75 1h1m73 0h1m-75 1h1m73 0h1m-2 1h2m-75 1h1m72 0h2m-75 1h1m72 0h1m-1 1h1m-73 1h1m71 0h1m-73 1h1m71 0h1m0 1h1m-73 1h1m70 0h1m-72 1h1m70 0h1m-71 1h1m68 0h2m-71 1h1m68 0h1m-69 1h1m67 0h1m-69 1h1m67 0h1m-1 1h1m-70 1h1m67 0h2m-70 1h1m66 0h3m-70 1h1m65 0h4m-70 1h1m64 0h5m-70 1h1m65 0h4m-70 1h1m65 0h3m-69 1h1m64 0h2m-66 1h1m63 0h1m-65 1h1m62 0h1m-64 1h1m61 0h1m-63 1h2m59 0h1m-61 1h1m57 0h2m-59 1h1m55 0h3m-4 1h2m-56 1h1m52 0h1m-54 1h1m51 0h2m-53 1h3m47 0h2m-50 1h2m45 0h2m-49 1h5m41 0h3m-48 1h2m1 0h4m21 0h3m13 0h2m-39 1h2m14 0h10m1 0h3m7 0h1m-35 1h3m1 0h4m4 0h2m6 0h2m5 0h2m5 0h1m-32 1h2m2 0h5m8 0h1m9 0h5"/>
<path stroke="#0998d1" d="M0 0m59 25h2m-21 1h5m6 0h2m3 0h1m1 0h4m-23 1h1m5 0h1m3 0h2m1 0h7m2 0h4m-27 1h1m8 0h2m5 0h5m5 0h2m-30 1h2m27 0h4m-35 1h2m33 0h2m-38 1h1m39 0h1m-42 1h2m41 0h2m-48 1h3m46 0h1m-51 1h1m51 0h1m-53 1h1m52 0h1m-55 1h1m-3 1h3m54 0h1m-59 1h1m58 0h1m-63 1h3m59 0h2m-64 1h1m63 0h1m-67 1h2m65 0h1m-68 1h1m66 0h1m-1 1h1m-69 1h1m68 0h1m0 1h1m-72 1h1m70 0h1m-72 1h1m71 1h1m-74 1h1m72 0h1m-1 1h1m-1 1h1m-73 1h1m71 0h2m-1 1h1m-1 1h1m-74 1h1m71 0h1m-72 1h1m70 0h1m-72 1h1m70 0h1m-72 1h1m70 0h1m-71 2h1m-1 1h1m70 0h1m-71 2h1m68 0h1m-2 1h1m-68 1h1m66 0h1m-67 1h1m65 0h1m-67 1h1m65 0h1m-68 1h1m65 0h2m-68 1h1m64 0h2m-67 1h1m64 0h1m-66 1h1m63 0h1m-65 1h1m62 0h1m-64 1h1m62 0h2m-65 1h1m62 0h2m-65 1h1m62 0h1m-2 1h2m-63 1h1m59 0h2m-62 1h1m58 0h2m-60 1h1m56 0h2m-59 1h1m54 0h2m-56 1h1m52 0h2m-55 1h1m52 0h1m-53 1h1m50 0h1m-52 1h3m46 0h2m-48 1h2m43 0h2m-46 1h4m38 0h3m-42 1h3m20 0h7m9 0h2m-38 1h1m15 0h5m3 0h7m5 0h1m-35 1h10m2 0h2m14 0h4m1 0h2m-31 1h1m4 0h4m17 0h5"/>
<path stroke="#079ccf" d="M0 0m40 27h5m6 0h1m7 0h2m-22 1h1m3 0h4m2 0h5m5 0h5m-26 1h2m7 0h2m7 0h4m3 0h2m-29 1h1m28 0h4m-35 1h2m34 0h3m-39 1h1m39 0h1m-43 1h2m41 0h3m-49 1h2m48 0h1m-51 1h1m50 0h1m-53 1h2m51 0h1m-54 1h1m-4 1h4m53 0h1m-59 1h1m-3 1h2m59 0h2m-64 1h2m61 0h2m-66 1h3m62 0h1m-67 1h1m66 1h1m-69 1h1m67 0h2m-70 1h1m68 0h1m0 1h1m-72 1h1m70 0h1m-72 1h1m70 0h1m-72 1h1m70 0h1m-72 1h1m70 0h1m-1 1h1m0 1h1m-72 1h1m70 0h1m-72 1h1m69 0h1m-1 1h1m-1 1h1m-70 1h1m-1 1h1m69 0h1m-70 1h1m68 0h1m-1 1h1m-70 1h1m67 0h2m-2 1h1m-68 1h1m65 0h1m-66 1h1m64 0h1m-1 1h1m-2 1h2m-66 1h1m62 0h2m-65 1h1m62 0h1m-64 1h1m62 0h1m-64 1h1m61 0h1m-63 1h1m60 0h1m-62 1h1m60 0h1m-62 1h1m60 0h1m-62 1h1m59 0h2m-62 1h1m58 0h2m-3 1h2m-59 1h1m55 0h2m-57 1h1m53 0h2m-56 1h1m52 0h1m-53 1h1m50 0h1m-52 1h1m49 0h2m-51 1h3m45 0h2m-48 1h2m42 0h2m-44 1h3m25 0h2m9 0h4m-40 1h1m21 0h7m3 0h1m2 0h3m-36 1h1m15 0h4m7 0h9m-35 1h15m15 0h5m-24 1h2m20 0h1"/>
<path stroke="#06a0cd" d="M0 0m40 28h3m-3 1h7m2 0h7m4 0h3m-26 1h3m2 0h2m4 0h1m7 0h9m-29 1h1m28 0h5m-35 1h1m35 0h3m-40 1h1m39 0h1m-44 1h3m41 0h1m1 0h2m-49 1h1m48 0h1m-50 1h1m49 0h1m-52 1h2m50 0h1m-53 1h2m50 0h1m-57 1h5m52 0h1m-59 1h2m-3 1h2m58 0h1m-61 1h1m60 0h1m-65 1h2m63 0h1m-67 1h1m65 0h1m-67 1h1m65 0h1m-67 1h1m66 0h1m-69 1h1m68 0h1m-70 1h1m68 0h1m-1 1h1m-1 1h1m-70 1h1m68 0h1m-70 1h1m68 0h1m-70 1h1m69 0h1m-2 1h2m-70 1h1m67 0h1m-69 1h1m-1 1h1m68 1h1m-69 1h1m67 0h1m-1 1h1m-69 1h1m66 0h2m-2 1h1m-67 1h1m65 0h1m-66 1h1m63 0h1m-64 1h1m62 0h1m-64 1h1m62 0h1m-64 1h1m61 0h1m-63 1h1m60 0h1m-62 1h1m60 0h1m-62 1h1m59 0h2m-62 1h1m58 0h2m-61 1h1m58 0h1m-60 1h1m58 0h1m-60 1h2m56 0h2m-60 1h2m56 0h1m-59 1h1m56 0h1m-58 1h2m54 0h1m-56 1h1m53 0h1m-54 1h1m50 0h2m-53 1h2m49 0h1m-51 1h2m47 0h1m-50 1h4m43 0h2m-46 1h2m40 0h3m-44 1h3m31 0h2m2 0h4m-39 1h1m22 0h2m2 0h1m3 0h5m-35 1h2m12 0h1m2 0h4m7 0h3m1 0h2m-32 1h7m3 0h5"/>
<path stroke="#06a4ca" d="M0 0m40 30h2m2 0h4m1 0h7m-19 1h2m9 0h1m10 0h6m-29 1h1m29 0h2m2 0h1m-36 1h1m35 0h3m-40 1h1m39 0h1m1 0h1m-46 1h3m43 0h2m-48 1h1m46 0h2m-49 1h1m48 0h1m-51 2h1m50 0h1m-56 1h4m52 0h1m-58 1h4m53 0h1m-59 1h4m55 0h1m-62 1h6m56 0h1m-65 1h1m63 0h1m-1 1h1m-1 1h2m-67 1h1m65 0h2m-68 1h1m66 0h1m-69 1h1m67 0h1m-69 1h1m67 0h1m-1 1h1m-1 1h1m-1 1h2m-69 1h1m66 0h1m-67 1h1m65 0h1m-67 1h1m66 0h1m-68 1h1m66 0h1m-68 1h1m66 0h1m-67 1h1m65 0h1m-67 1h1m65 0h1m-67 1h1m-1 1h1m64 0h1m-65 1h1m63 0h1m-64 1h1m61 0h1m-1 1h1m-62 1h1m59 0h2m-62 1h1m59 0h1m-2 1h1m-2 1h2m-2 1h1m-59 1h1m56 0h1m-58 1h1m56 0h1m-58 1h2m55 0h1m-57 1h1m-1 1h1m53 0h2m-57 1h1m53 0h2m-55 1h1m51 0h2m-54 1h1m50 0h2m-52 1h1m0 1h2m45 0h2m-48 1h2m43 0h2m-45 1h2m39 0h2m-42 1h3m25 0h1m4 0h2m3 0h2m-38 1h2m22 0h4m2 0h1m2 0h2m-34 1h2m12 0h5m1 0h2m5 0h3m-28 1h7m4 0h1m1 0h2m-8 1h3"/>
<path stroke="#06a7c6" d="M0 0m39 31h9m1 0h10m-22 1h4m22 0h3m2 0h2m-34 1h2m32 0h1m-36 1h1m36 0h2m-40 1h1m39 0h3m-45 1h3m42 0h1m-46 1h1m45 0h2m-49 1h1m48 0h1m-50 1h1m-2 1h1m50 0h1m-53 1h1m51 0h1m-54 1h1m53 0h1m-1 1h2m-63 1h7m55 0h1m-64 1h2m61 0h1m-64 1h2m61 0h1m-64 1h1m63 0h1m-65 1h1m64 0h1m-67 1h1m65 0h1m-67 1h2m64 0h1m-67 1h1m65 0h1m-67 1h1m-1 1h1m0 1h1m64 0h1m0 2h1m-66 1h1m64 0h1m-66 1h1m64 0h1m-65 1h1m63 0h1m-65 1h1m63 0h1m-65 1h1m63 0h1m-65 1h1m62 1h1m-2 1h1m-61 1h1m59 0h1m-2 1h1m-1 1h1m-60 1h1m57 0h1m-59 1h1m56 0h1m-58 1h1m56 0h1m-57 1h1m-1 1h1m0 1h1m53 0h1m-55 1h1m52 0h2m-55 1h1m50 0h2m-54 1h1m50 0h2m-52 1h1m49 0h1m-51 1h1m48 0h1m-49 1h1m45 0h3m-47 1h2m41 0h2m-44 1h2m39 0h2m-41 1h2m25 0h1m2 0h3m4 0h2m-37 1h1m22 0h2m1 0h1m1 0h2m2 0h3m-34 1h1m11 0h5m4 0h1m4 0h2m-27 1h4m7 0h1m5 0h1m-11 1h4"/>
<path stroke="#07a9c2" d="M0 0m41 32h22m-25 1h3m10 0h1m12 0h6m-34 1h2m32 0h2m-37 1h1m37 0h1m-39 1h1m39 0h2m-44 1h2m42 0h1m-46 1h1m46 0h1m0 1h1m-50 1h1m48 0h1m-51 1h1m-2 1h1m51 0h1m-54 1h1m-1 1h1m53 0h1m-61 1h5m55 0h1m-61 1h1m-2 1h2m60 0h1m-63 1h1m61 0h2m-65 1h1m63 0h1m-1 1h1m-65 1h1m-1 1h1m64 0h1m-66 1h2m63 0h1m-65 1h1m-1 1h1m63 0h1m-65 1h1m63 0h1m-64 1h1m62 0h1m-64 1h1m62 0h1m-1 1h1m-1 1h1m-63 1h1m-1 1h1m61 0h1m-63 1h1m59 0h2m-61 1h1m57 0h2m-2 1h2m-59 1h1m56 0h1m-58 1h1m56 0h1m-58 1h1m55 0h1m-57 1h1m-1 1h1m54 0h1m-1 1h1m-55 1h1m53 0h1m-54 1h1m50 0h2m-53 1h1m49 0h2m-3 1h1m-51 1h1m48 0h1m-49 1h1m46 0h2m-49 1h3m43 0h2m-47 1h4m40 0h1m-42 1h2m37 0h2m-40 1h3m26 0h4m3 0h3m-37 1h2m21 0h2m1 0h2m3 0h4m-34 1h1m11 0h5m4 0h1m4 0h1m-26 1h2m8 0h1m5 0h4m-16 1h7"/>
<path stroke="#0aacbe" d="M0 0m41 33h10m1 0h4m5 0h3m-26 1h3m23 0h6m-34 1h1m34 0h2m-37 1h1m37 0h1m-40 1h1m39 0h2m-44 1h2m42 0h2m-47 1h1m46 0h1m-48 1h1m46 0h1m-49 1h1m48 0h1m-51 1h2m48 0h1m-52 1h2m50 0h1m-53 1h1m51 0h1m-55 1h2m52 0h1m-59 1h3m56 0h1m-60 1h1m58 0h1m-61 1h1m59 0h1m-62 1h2m60 0h1m-63 1h1m61 0h1m-63 1h1m62 0h1m-64 1h1m62 0h1m-63 1h1m61 0h1m-63 1h1m61 0h1m-63 1h1m61 0h1m-63 1h1m61 0h1m-1 1h1m-62 1h1m60 0h1m-62 1h1m60 0h1m-62 1h1m60 0h1m-1 1h2m-62 1h1m57 0h3m-61 1h1m57 0h1m-58 1h1m55 0h1m-57 1h1m54 0h2m-1 1h1m-56 1h1m54 0h1m-56 1h1m53 0h1m-55 1h1m53 0h1m-55 1h1m52 0h1m-54 1h1m52 0h1m-53 1h1m50 0h2m-52 1h1m48 0h1m-50 1h1m47 0h1m-50 1h3m45 0h1m-49 1h4m43 0h1m-47 1h3m41 0h2m-44 1h2m39 0h2m-41 1h1m36 0h3m-39 1h2m27 0h8m-35 1h1m20 0h5m4 0h3m-32 1h1m10 0h4m5 0h1m-21 1h2m7 0h2m5 0h4m-18 1h2m3 0h3"/>
<path stroke="#0faeb9" d="M0 0m56 33h5m-20 1h4m4 0h5m7 0h1m1 0h1m-27 1h4m27 0h3m0 1h3m-38 1h1m37 0h1m-40 1h1m40 0h1m-44 1h2m42 0h2m-46 1h1m44 0h1m-47 1h1m46 0h1m-48 1h1m-2 1h1m48 0h1m-51 1h1m-2 1h1m-4 1h2m53 0h1m-58 1h2m55 0h1m-59 1h2m-2 1h1m58 0h1m-61 1h2m58 0h1m-61 1h1m60 0h1m-62 1h1m60 0h1m-61 4h1m-1 1h1m59 1h1m-1 1h1m-2 1h2m-60 1h1m57 0h2m-59 1h1m55 0h1m-57 1h1m55 0h1m-56 1h1m53 0h1m-55 1h1m-1 1h1m53 0h1m-1 1h1m-54 2h1m51 0h1m-53 1h1m50 0h1m-52 1h1m49 0h2m-51 1h1m47 0h2m-49 1h1m45 0h2m-48 1h2m43 0h2m-46 1h1m42 0h2m-44 1h1m40 0h2m-43 1h1m39 0h1m-40 1h1m32 0h6m-38 1h2m28 0h6m-34 1h1m20 0h6m-26 1h1m8 0h5m4 0h2m-19 1h1m6 0h3m4 0h5m-18 1h3m2 0h2m-5 1h3"/>
<path stroke="#15b1b4" d="M0 0m45 34h4m5 0h7m1 0h1m-22 1h3m6 0h2m8 0h8m-31 1h4m27 0h3m-34 1h3m31 0h3m-38 1h1m38 0h1m-41 1h2m39 0h1m-43 1h1m42 0h1m-45 1h1m44 0h1m0 1h1m-48 1h1m46 0h1m-49 1h2m47 0h1m-51 1h2m48 0h1m-53 1h3m49 0h1m-55 1h3m-4 1h2m54 0h1m-58 1h2m55 0h1m-58 1h1m56 0h1m-59 1h1m58 0h1m-60 1h1m-1 1h1m59 0h1m-61 1h1m59 0h1m-61 1h1m59 0h1m-1 1h1m-60 1h1m58 0h1m-60 1h1m57 0h1m-59 1h1m57 0h1m-59 1h1m56 0h1m-57 1h1m55 0h1m-56 1h1m53 0h1m-55 1h1m53 0h1m-54 2h1m51 0h1m-53 1h1m51 0h1m-53 1h1m51 0h1m-53 1h2m50 0h1m-52 1h1m49 0h1m-51 1h1m48 0h1m-50 1h2m46 0h1m-48 1h1m45 0h1m-46 1h1m42 0h2m-44 1h1m40 0h2m-43 1h1m39 0h2m-41 1h1m37 0h2m-40 1h2m28 0h9m-38 1h2m26 0h4m-30 1h1m24 0h3m-27 1h1m8 0h4m4 0h3m-19 1h2m5 0h1m5 0h4m-16 1h6m-3 1h2"/>
<path stroke="#1db3af" d="M0 0m44 35h6m2 0h8m-19 1h1m20 0h6m-28 1h1m28 0h2m-34 1h2m33 0h3m0 1h1m-41 1h1m40 0h1m-43 1h1m42 0h1m-45 1h1m43 0h2m-46 1h1m44 0h1m0 1h1m-48 1h1m46 0h1m-49 1h1m-3 1h1m50 0h1m-54 1h1m52 0h1m-55 1h1m53 0h1m-56 1h1m-2 1h1m56 0h1m-58 1h1m57 0h1m-59 1h1m57 0h1m-59 1h1m57 0h1m-59 1h1m-1 1h1m57 0h1m-1 1h1m-58 2h1m55 0h1m-57 1h1m54 0h1m-55 1h1m53 0h1m-54 2h1m-1 1h1m51 0h1m-52 1h1m-1 1h1m-1 1h1m0 1h1m48 0h1m-50 1h1m47 0h1m-49 1h1m46 0h1m-47 1h1m43 0h2m-46 1h2m41 0h2m-44 1h2m38 0h2m-41 1h1m36 0h3m-40 1h2m34 0h3m-38 1h2m28 0h7m-36 1h1m25 0h2m-27 1h1m24 0h1m-25 1h1m8 0h3m4 0h8m-23 1h2m5 0h1m4 0h4m-14 1h5"/>
<path stroke="#25b5a9" d="M0 0m42 36h4m2 0h5m3 0h6m-21 1h1m25 0h2m-30 1h1m29 0h3m-35 1h1m33 0h4m-39 1h1m37 0h2m-41 1h1m39 0h2m-43 1h1m41 0h1m0 1h1m-45 1h1m43 0h2m-1 1h1m0 1h1m-50 1h1m-3 1h1m-2 1h1m-2 1h1m53 0h1m-56 1h1m-1 1h1m55 0h1m-57 1h1m-1 1h1m-1 1h1m56 0h1m-58 1h1m-1 1h1m55 0h1m-57 1h1m55 0h1m-56 1h1m-1 1h1m52 1h1m-53 1h1m51 0h1m-1 1h1m-52 1h1m49 0h1m-1 1h1m-1 1h1m-50 1h1m48 0h1m-49 1h1m46 0h1m-48 1h1m45 0h1m-47 1h2m42 0h2m-45 1h1m41 0h1m-42 1h1m38 0h2m-40 1h2m33 0h3m-38 1h2m32 0h2m-35 1h2m28 0h4m-33 1h1m24 0h3m-28 1h2m22 0h1m-24 1h1m8 0h3m3 0h9m-23 1h2m5 0h1m3 0h4m-13 1h5"/>
<path stroke="#2eb7a4" d="M0 0m46 36h2m5 0h3m-14 1h1m6 0h2m6 0h2m2 0h6m-27 1h1m26 0h2m-31 1h2m30 0h1m-34 1h1m34 0h2m-38 1h1m36 0h2m-40 1h1m39 0h1m-42 1h1m41 0h1m-1 1h1m-44 1h1m43 0h1m-46 1h1m45 0h1m-48 1h1m47 0h1m-51 1h2m48 0h1m-52 1h1m50 0h1m-53 1h1m51 0h1m-54 1h2m52 0h1m-55 1h1m54 1h1m-1 1h1m-56 1h1m54 0h1m-56 1h1m54 0h1m-56 1h1m-1 1h1m0 1h1m52 0h1m-54 1h1m51 0h1m-53 1h1m50 1h1m-51 1h1m49 0h1m-50 2h1m-1 1h1m0 1h1m46 0h1m-2 1h1m-46 1h1m43 0h1m-44 1h1m40 0h1m-42 1h1m39 0h1m-40 1h2m33 0h3m-36 1h1m30 0h2m-33 1h1m28 0h3m-31 1h1m25 0h2m-28 1h2m21 0h1m-23 1h4m2 0h5m4 0h2m2 0h3m-22 1h3m2 0h3m3 0h3m-12 1h5"/>
<path stroke="#38b99e" d="M0 0m43 37h6m2 0h6m2 0h2m-20 1h1m20 0h5m-27 1h1m27 0h2m-32 1h1m31 0h2m-35 1h1m34 0h1m-37 1h1m36 0h2m-40 1h1m38 0h2m-42 1h1m40 0h1m0 1h1m-44 1h1m42 0h2m-46 1h1m45 0h1m-48 1h1m-3 1h2m-3 1h1m50 1h1m0 1h1m-55 1h1m53 0h1m-55 1h1m53 0h1m-54 1h1m52 0h1m-54 1h1m52 0h1m-1 1h1m-54 1h1m52 0h1m-2 1h1m-2 1h1m-51 1h1m49 0h1m-51 1h1m48 0h1m-1 1h1m-49 1h1m47 0h1m-1 1h1m-48 1h1m46 0h1m-2 1h1m-46 1h1m43 0h1m-44 1h1m40 0h2m-42 1h1m38 0h1m-40 1h2m33 0h4m-37 1h1m31 0h1m-4 1h2m-30 1h1m25 0h2m-27 1h2m5 0h1m15 0h2m-24 1h9m9 0h3m-18 1h2m5 0h4m2 0h2m-16 1h2"/>
<path stroke="#42bb98" d="M0 0m42 38h3m2 0h15m-21 1h1m24 0h2m1 1h1m1 1h1m-35 1h1m-3 2h1m38 0h1m-41 1h1m40 0h1m1 2h1m0 1h1m-48 1h1m46 0h1m-50 1h1m48 0h1m-51 1h1m49 0h1m-52 1h1m51 0h1m-53 1h1m51 0h1m-53 1h1m51 0h1m-52 1h1m50 0h1m-52 1h1m50 0h1m-53 1h1m51 0h1m-1 1h1m-52 1h1m-1 1h1m48 1h1m-49 1h1m-1 1h1m46 0h1m-1 1h1m-47 1h1m45 0h1m-46 1h1m44 0h1m-46 1h1m43 0h1m-44 1h1m41 0h1m-42 1h1m38 0h1m-39 1h1m33 0h4m-37 1h1m31 0h1m-3 1h2m-31 1h1m25 0h2m-27 1h3m21 0h1m-23 1h5m1 0h2m11 0h2m-13 1h9"/>
<path stroke="#4dbc92" d="M0 0m45 38h2m-5 1h1m6 0h7m2 0h8m-27 1h2m27 0h1m-31 1h1m31 0h1m1 1h1m-37 1h1m36 0h1m-39 2h1m-2 1h1m40 0h1m-43 1h1m42 0h1m-45 1h1m44 0h1m-46 1h1m44 0h1m-48 1h1m-2 1h1m-2 1h1m49 0h1m-51 1h1m49 0h1m-51 1h1m49 0h1m-1 1h1m-51 2h1m-1 1h1m49 1h1m-2 1h1m-49 1h1m46 1h1m-47 1h1m-1 1h1m44 0h1m-45 1h1m43 0h1m-1 1h1m-44 1h1m41 0h1m-42 1h1m38 0h2m-40 1h1m33 0h4m-5 1h1m-32 1h1m28 0h2m-31 1h2m25 0h2m-28 1h2m22 0h1m-22 1h6m13 0h2m-14 1h1m7 0h3"/>
<path stroke="#59bd8c" d="M0 0m43 39h6m7 0h2m-17 1h1m12 0h1m11 0h2m1 1h1m-32 1h1m31 0h2m-35 1h1m34 0h1m-37 1h1m36 0h1m0 1h1m-41 2h1m40 0h1m-43 1h1m42 0h1m-46 2h1m45 0h1m-48 1h1m46 0h1m-49 1h1m47 0h1m-49 1h1m47 0h1m-49 1h1m47 0h1m-49 1h1m-1 1h1m48 0h1m-1 1h1m-1 1h1m-50 1h1m47 0h1m-49 1h1m0 1h1m45 0h1m-47 1h1m44 1h1m-45 1h1m0 1h1m41 0h1m-43 1h1m40 0h2m-42 1h1m38 0h2m-40 1h1m33 0h4m-5 1h1m-33 1h1m30 0h1m-30 1h1m26 0h1m-27 1h1m22 0h2m-24 1h5m16 0h1m-15 1h3m7 0h3m-11 1h7"/>
<path stroke="#65be86" d="M0 0m42 40h12m1 0h11m-27 1h2m27 0h1m0 1h1m-32 1h1m32 0h1m0 1h1m-37 1h1m36 0h1m-39 1h1m38 0h1m-1 1h1m-41 1h1m40 0h1m-43 1h1m42 0h1m-45 1h1m43 0h1m-46 1h1m44 0h1m-47 1h1m45 0h1m-1 1h1m0 2h1m-1 1h1m-49 1h1m47 0h1m-49 1h1m47 0h1m-48 1h1m-1 1h1m45 0h1m-46 2h1m43 0h1m-45 1h1m0 1h1m41 0h1m-42 1h1m39 0h1m-41 1h1m38 0h1m-39 1h1m33 0h4m-37 1h1m31 0h1m-33 1h1m30 0h1m-31 1h3m26 0h1m-28 1h2m22 0h2m-25 1h4m17 0h1m-17 1h4m10 0h2m-11 1h2m4 0h1"/>
<path stroke="#71bf80" d="M0 0m41 41h1m12 0h3m8 0h3m-29 1h1m30 1h1m-34 1h1m33 0h1m0 1h1m-37 1h1m36 0h1m-39 1h1m38 1h1m-41 1h1m40 0h1m-43 1h1m41 0h1m-44 1h1m-3 2h1m-1 1h1m45 0h1m-47 1h1m45 0h1m-47 1h1m-1 1h1m45 0h1m-47 1h1m45 0h1m-46 1h1m44 0h1m-46 1h1m-1 1h1m43 0h1m-44 2h1m41 0h1m-42 1h1m39 0h1m-40 1h1m37 0h1m-39 1h1m34 0h3m-37 1h1m31 0h1m-32 1h1m29 0h1m-31 1h3m26 0h1m-27 1h2m21 0h3m-25 1h2m19 0h1m-19 1h3m12 0h2m-12 1h2m5 0h3m-7 1h4"/>
<path stroke="#7cbf7b" d="M0 0m42 41h1m1 0h10m3 0h8m-25 1h1m25 0h3m-30 1h1m29 0h1m-32 1h1m31 0h1m-34 1h1m33 0h1m-36 2h1m36 0h1m-39 1h1m-1 1h1m38 0h1m-41 1h1m-2 1h1m41 0h1m-45 1h2m42 0h1m-45 1h1m43 0h1m-45 1h1m43 0h1m-45 1h1m-1 1h1m44 0h1m-46 1h1m-1 1h1m0 2h1m42 0h1m-44 1h1m41 0h1m-43 1h1m41 0h1m-42 1h1m39 0h1m-40 1h1m37 0h1m-38 1h1m35 0h1m-37 1h1m31 0h2m-33 1h2m28 0h1m-30 1h2m25 0h2m-27 1h3m21 0h2m-24 1h3m17 0h1m-20 1h3m14 0h2m-15 1h3m8 0h1m-8 1h1m2 0h2"/>
<path stroke="#87bf77" d="M0 0m43 41h1m-3 1h1m12 0h5m5 0h2m2 1h1m-30 1h1m29 0h1m0 1h1m-34 1h1m34 0h1m-37 2h1m36 0h1m-1 1h1m0 1h1m-41 1h1m39 0h1m-42 1h1m40 0h1m-43 1h1m-1 1h1m-1 1h1m42 0h1m-44 1h1m42 0h1m-44 1h1m42 0h1m-44 1h1m42 0h1m-44 1h1m42 0h1m-2 1h1m-42 1h1m-1 1h1m39 0h1m-40 1h1m36 0h2m-38 1h1m34 0h2m-5 1h4m-35 1h1m29 0h1m-29 1h1m24 0h3m-27 1h2m21 0h2m-22 1h2m17 0h2m-19 1h2m14 0h1m-16 1h4m9 0h1m-10 1h1m4 0h3m-6 1h2"/>
<path stroke="#92bf73" d="M0 0m42 42h2m3 0h7m5 0h5m-24 1h1m24 0h3m0 1h1m-31 1h1m30 0h1m-32 1h1m32 0h1m-35 1h1m34 0h1m-1 1h1m-37 1h1m35 0h1m-38 1h1m37 0h1m-1 1h1m-40 1h1m-2 1h1m40 0h1m-42 1h1m40 0h1m-42 1h1m40 0h1m-42 1h1m40 0h1m-42 1h1m40 0h1m-42 1h1m40 0h1m-42 1h1m39 0h2m-42 1h1m39 0h1m-40 1h1m38 0h1m-40 1h2m36 0h1m-38 1h1m34 0h1m-35 1h1m31 0h2m-34 1h1m29 0h1m-30 1h3m24 0h2m-27 1h2m21 0h1m-22 1h3m17 0h1m-18 1h3m13 0h1m-15 1h2m10 0h2m-11 1h1m6 0h2m-8 1h4"/>
<path stroke="#9cbf6f" d="M0 0m44 42h3m-6 1h1m9 0h9m2 0h3m-25 1h1m25 0h2m-29 1h1m28 0h1m0 1h2m-33 1h1m32 0h1m-35 1h2m32 0h1m-35 1h1m33 0h1m-36 1h1m35 0h1m-38 1h1m36 0h1m-38 1h1m36 0h2m-40 1h2m37 0h1m-40 1h1m38 0h1m-40 1h1m38 0h1m-1 1h1m-40 1h1m38 0h1m-40 1h1m38 0h1m-40 1h1m37 0h1m-39 1h2m36 0h1m-38 1h2m35 0h1m-37 1h2m31 0h3m-36 1h2m29 0h3m-33 1h1m28 0h2m-31 1h4m23 0h2m-26 1h2m20 0h2m-23 1h3m17 0h1m-18 1h3m13 0h1m-14 1h2m10 0h1m-12 1h2m7 0h1m-8 1h6"/>
<path stroke="#a5be6b" d="M0 0m42 43h3m2 0h4m9 0h2m-21 1h1m9 0h5m6 0h4m-26 1h1m25 0h2m-29 1h2m27 0h1m-30 1h1m29 0h2m-32 1h1m30 0h1m-33 1h1m31 0h1m-34 1h1m33 0h1m-36 1h2m33 0h1m-36 1h1m34 0h1m-36 1h1m34 0h2m-38 1h1m36 0h1m-38 1h1m36 0h1m-39 1h2m36 0h1m-38 1h1m36 0h1m-38 1h1m36 0h1m-38 1h1m35 0h1m-36 1h1m32 0h1m1 0h1m-35 1h1m30 0h4m-34 1h1m28 0h2m-31 1h1m26 0h2m-29 1h4m22 0h2m-25 1h2m19 0h2m-22 1h2m17 0h1m-18 1h3m13 0h1m-14 1h3m9 0h1m-11 1h2m5 0h3m-9 1h7"/>
<path stroke="#aebe67" d="M0 0m45 43h2m-5 1h3m3 0h3m5 0h6m-21 1h1m10 0h2m10 0h2m-25 1h1m24 0h2m-28 1h2m26 0h1m-29 1h1m28 0h1m-31 1h2m28 0h1m-32 1h1m31 0h1m-33 1h1m31 0h1m-34 1h2m31 0h1m-34 1h2m31 0h1m-35 1h2m32 0h2m-36 1h2m32 0h2m-36 1h2m32 0h2m-36 1h2m33 0h1m-36 1h1m34 0h1m-36 1h2m31 0h2m-34 1h4m27 0h1m1 0h1m-33 1h4m25 0h1m-29 1h3m23 0h2m-28 1h4m21 0h1m-23 1h1m19 0h2m-21 1h3m15 0h1m-18 1h3m13 0h1m-14 1h4m2 0h2m4 0h1m-10 1h9m-8 1h5"/>
<path stroke="#b7bd64" d="M0 0m45 44h3m-6 1h5m3 0h2m2 0h10m-22 1h3m19 0h2m-24 1h1m23 0h2m-27 1h2m24 0h2m-28 1h1m26 0h1m-30 1h3m26 0h2m-31 1h3m27 0h1m-31 1h2m28 0h1m-31 1h1m28 0h2m-32 1h2m28 0h2m-32 1h1m30 0h1m-32 1h2m29 0h1m-32 1h2m29 0h2m-34 1h4m27 0h3m-33 1h5m24 0h2m-28 1h2m24 0h1m-26 1h1m22 0h2m-25 1h1m21 0h1m-22 1h1m18 0h2m-21 1h4m14 0h1m-16 1h2m11 0h2m-14 1h4m2 0h2m3 0h2m-9 1h2m2 0h4"/>
<path stroke="#c0bc60" d="M0 0m47 45h3m-5 1h3m3 0h4m2 0h3m1 0h3m-21 1h4m16 0h3m-23 1h1m21 0h2m-25 1h2m22 0h2m-26 1h1m24 0h1m-26 1h1m24 0h2m-28 1h1m26 0h1m-29 1h2m-3 2h1m28 0h1m-29 1h1m27 0h1m-29 1h1m27 0h1m-28 1h3m23 0h1m-25 1h1m22 0h1m-24 1h1m21 0h2m-24 1h1m20 0h1m-22 1h2m18 0h1m-20 1h4m13 0h1m-15 1h2m10 0h2m-13 1h3m1 0h3m2 0h2m-8 1h2m2 0h3"/>
<path stroke="#c8bc5d" d="M0 0m48 46h3m4 0h2m3 0h1m-14 1h3m2 0h1m4 0h1m3 0h2m-19 1h5m14 0h2m-21 1h1m19 0h2m-23 1h2m20 0h2m-24 1h1m22 0h1m-25 1h1m24 0h1m-26 1h1m24 0h1m-28 1h3m24 0h1m-28 1h1m26 0h1m-27 1h1m25 0h1m-27 1h3m23 0h1m-24 1h1m21 0h1m-23 1h1m20 0h1m-22 1h1m19 0h1m-21 1h4m15 0h1m-19 1h5m11 0h2m-15 1h3m8 0h2m-12 1h7m1 0h2m-8 1h1m3 0h2"/>
<path stroke="#d1bb59" d="M0 0m50 47h2m1 0h4m1 0h3m-12 1h2m10 0h2m-18 1h2m16 0h1m-19 1h1m18 0h1m-21 1h1m20 0h1m-23 1h1m22 0h1m-24 1h1m22 0h1m-24 1h1m22 0h1m-26 1h3m22 0h1m-25 1h2m0 1h1m21 0h1m-2 1h1m-21 1h1m18 0h1m-20 1h1m2 1h2m12 0h1m-13 1h1m8 0h2m-10 1h8m-3 1h1"/>
<path stroke="#d9ba56" d="M0 0m51 48h2m4 0h4m-14 1h3m12 0h1m-17 1h1m-2 1h1m18 0h1m-21 1h1m20 0h1m-22 1h1m-1 1h1m-1 1h1m-1 1h1m21 0h1m-22 2h1m0 2h3m14 0h1m-14 1h1m10 0h1m-11 1h5m2 0h1"/>
<path stroke="#e1b952" d="M0 0m53 48h4m-7 1h2m7 0h3m-15 1h1m15 0h1m-18 1h1m-2 1h1m18 0h1m0 1h1m-1 1h1m-1 1h1m-1 1h1m-21 1h1m19 0h1m-2 1h1m-19 1h2m15 0h1m-15 1h1m12 0h1m-12 1h4m3 0h3m-5 1h2"/>
<path stroke="#e9b94e" d="M0 0m52 49h2m3 0h2m-11 1h3m9 0h3m-16 1h1m15 0h1m-18 1h1m-2 1h1m18 0h1m-20 1h1m-1 1h1m-1 1h1m18 1h1m-19 1h1m16 0h1m-16 1h2m12 0h1m-13 1h4m7 0h1m-7 1h3"/>
<path stroke="#f1b94a" d="M0 0m54 49h3m-6 1h2m5 0h2m-12 1h3m9 0h3m-16 1h4m12 0h1m-18 1h1m16 0h1m0 1h1m-1 1h1m-19 1h1m17 0h1m-19 1h1m16 0h1m-17 1h2m13 0h1m-13 1h1m10 0h1m-8 1h1m3 0h3"/>
<path stroke="#f8bb44" d="M0 0m53 50h5m-7 1h2m5 0h2m-9 1h1m8 0h3m-16 1h4m11 0h1m-17 1h1m16 0h1m-18 1h1m0 1h1m15 0h1m-17 1h2m13 0h1m-14 1h2m10 0h1m-11 1h4m4 0h2m-6 1h3"/>
<path stroke="#fdbe3d" d="M0 0m53 51h5m-6 1h1m4 0h3m-9 1h1m6 0h4m-15 1h5m6 0h1m2 0h2m-16 1h4m10 0h3m-16 1h2m11 0h2m-14 1h3m8 0h2m-11 1h4m3 0h3m-6 1h4"/>
<path stroke="#ffc337" d="M0 0m53 52h4m-5 1h2m1 0h3m-6 1h1m4 0h1m1 0h2m-10 1h1m5 0h4m-11 1h3m3 0h5m-9 1h8m-5 1h3"/>
<path stroke="#fec832" d="M0 0m54 53h1m-2 1h4m-5 1h2m1 0h2m-4 1h3"/>
<path stroke="#fcce2e" d="M0 0m54 55h1"/>
</g></svg>
<path d="M195.54 1097.7v-5.4M195.54 663.2v5.4M98 739.53h5.4M653.2 739.53h-5.4M295.57 1097.7v-5.4M295.57 663.2v5.4M98 817.82h5.4M653.2 817.82h-5.4M395.61 1097.7v-5.4M395.61 663.2v5.4M98 896.11h5.4M653.2 896.11h-5.4M495.64 1097.7v-5.4M495.64 663.2v5.4M98 974.4h5.4M653.2 974.4h-5.4M595.68 1097.7v-5.4M595.68 663.2v5.4M98 1052.68h5.4M653.2 1052.68h-5.4" stroke="#262626" stroke-width="1" fill="none" opacity=".75"/>
<rect x="98" y="663.2" width="555.2" height="434.5" fill="none" stroke="#262626" stroke-width="1" opacity=".55"/>
<text class="t" text-anchor="middle" x="195.54" y="1134.1">20</text>
<text class="t" text-anchor="end" x="88.5" y="751.33">20</text>
<text class="t" text-anchor="middle" x="295.57" y="1134.1">40</text>
<text class="t" text-anchor="end" x="88.5" y="829.62">40</text>
<text class="t" text-anchor="middle" x="395.61" y="1134.1">60</text>
<text class="t" text-anchor="end" x="88.5" y="907.91">60</text>
<text class="t" text-anchor="middle" x="495.64" y="1134.1">80</text>
<text class="t" text-anchor="end" x="88.5" y="986.2">80</text>
<text class="t" text-anchor="middle" x="595.68" y="1134.1">100</text>
<text class="t" text-anchor="end" x="88.5" y="1064.48">100</text>
<text class="l" text-anchor="middle" x="375.6" y="1172">Pixels</text>
<text class="l" text-anchor="middle" transform="translate(34 880.45) rotate(-90)">Pixels</text>
<rect x="665" y="663.2" width="25.6" height="434.5" fill="url(#pg)" stroke="#262626" stroke-width="1" stroke-opacity=".6"/>
<text class="cb" x="698.6" y="1108.5">0</text>
<text class="cb" x="698.6" y="1021.38">200</text>
<text class="cb" x="698.6" y="934.26">400</text>
<text class="cb" x="698.6" y="847.14">600</text>
<text class="cb" x="698.6" y="760.02">800</text>
<text class="cb" x="698.6" y="672.9">1000</text>
<path d="M690.6 1010.8h-4M690.6 923.9h-4M690.6 837h-4M690.6 750.1h-4" stroke="#262626" stroke-width="1" fill="none" opacity=".8"/>
<text class="c" text-anchor="middle" x="393.6" y="1262.9" font-size="53"><tspan dy="-0.2">(</tspan><tspan class="b" font-size="55" dy="0.2" dx="-0.5">d</tspan><tspan dy="-0.2" dx="-0.5">)</tspan></text>
<!-- panel e -->
<svg class="hm" x="886.2" y="663.2" width="555.4" height="434.5" viewBox="0 0 111 111" preserveAspectRatio="none" shape-rendering="crispEdges"><g transform="translate(0 .5)">
<rect y="-.5" width="111" height="111" fill="#352a87"/>
<path stroke="#2c4ac7" d="M0 0m94 46h1m-42 10h2m3 1h3m-2 1h2m-3 2h2m-5 1h4m-5 1h4m-4 1h3m15 11h1m-2 1h1m-1 1h2m-13 6h1m-2 1h1m1 0h1m-3 1h1m1 0h1m-3 1h1m-22 10h1m1 3h2m-2 1h2"/>
<path stroke="#2053d4" d="M0 0m55 53h1m-1 1h1m-2 1h2m-1 1h1m2 0h3m-8 1h2m6 0h1m-10 1h1m5 0h1m2 0h1m-3 1h2m-4 1h1m1 1h1m-2 1h1m-2 1h1m-3 1h1m12 5h2m-2 1h1m-33 1h1m36 3h1m-4 1h1m-1 1h1m-12 6h1m1 0h1m1 0h1m-6 1h1m3 0h1m-1 1h1m-5 1h1m2 0h1m2 0h1m-6 1h3"/>
<path stroke="#0f5cdd" d="M0 0m47 26h2m-2 1h2m4 7h1m-1 6h1m1 1h1m-1 1h1m-2 1h1m1 4h1m1 1h1m4 0h1m-38 1h2m29 0h1m-33 1h3m12 1h1m12 2h2m1 0h1m-4 1h2m1 0h1m-4 1h1m2 0h1m-5 1h1m4 0h1m3 0h1m-10 1h1m2 0h1m1 0h1m4 0h1m-10 1h2m7 0h1m-11 1h1m5 0h1m2 0h1m-2 1h1m-7 1h1m4 1h1m-4 2h1m5 5h1m-1 1h1m6 0h1m-33 1h1m33 0h1m-35 1h1m33 0h1m0 1h2m-3 1h1m-1 3h2m7 0h2m-20 5h1m0 1h1m-1 1h3m-4 1h2m1 0h1m-8 1h1m7 0h1m-8 1h3"/>
<path stroke="#0363e1" d="M0 0m46 26h1m2 0h1m-4 1h1m2 0h1m2 5h2m-3 1h3m0 1h1m-2 1h2m-1 1h1m-2 3h1m-2 1h1m0 1h2m1 0h1m-3 1h1m-2 1h1m1 0h1m-2 1h1m13 0h2m-16 1h1m0 1h2m-2 1h1m7 0h1m-8 1h1m5 0h1m-38 1h1m30 0h1m5 0h3m-26 1h3m14 0h2m6 0h1m-40 1h2m12 0h1m1 0h2m-5 1h5m10 0h3m-20 3h2m14 0h1m4 0h4m-5 1h1m5 0h1m-7 1h1m6 0h1m-7 1h1m7 0h1m-15 1h1m1 0h2m-2 1h4m-12 1h2m6 0h1m6 0h1m-16 1h1m7 0h1m4 1h1m-5 1h1m14 4h2m-4 1h1m2 0h1m-35 1h1m30 0h1m2 0h1m-36 1h1m34 0h1m1 0h1m-37 1h1m35 0h2m-3 1h1m-2 1h1m-2 1h1m-3 1h3m11 0h1m-16 1h3m1 0h1m8 0h1m2 0h1m-12 1h2m9 0h1m-23 3h5m-1 1h1m-8 1h1m6 0h1m-8 1h1m8 0h1m-1 1h2m-6 1h1m1 0h2m1 0h1m-10 1h1m3 0h1m3 0h1m-7 1h1m-6 4h2m-1 1h1"/>
<path stroke="#0268e1" d="M0 0m54 29h1m-5 2h1m2 0h1m-3 1h1m2 1h1m-18 1h1m14 0h1m-16 1h1m17 0h1m-3 1h1m8 0h1m-1 1h2m-10 2h1m-1 1h3m-5 1h1m-1 1h2m2 0h1m12 1h1m3 0h1m-21 1h1m1 0h1m11 0h1m9 0h1m-25 1h1m13 0h2m-15 1h1m2 0h1m5 0h3m-9 1h3m4 0h1m-40 1h3m20 0h1m6 0h1m3 0h1m4 0h1m-37 1h1m18 0h2m16 0h1m-42 1h1m13 0h1m8 0h3m5 0h1m2 0h1m4 0h1m1 0h1m-39 1h1m7 0h4m4 0h2m2 0h3m7 0h1m-32 1h1m9 0h2m5 0h2m11 0h1m4 0h1m-28 1h6m12 0h1m-18 1h4m13 0h1m5 0h1m-24 1h1m25 0h2m-28 1h2m26 0h1m-13 2h1m3 0h1m7 0h1m2 0h3m-24 1h1m11 0h1m4 0h1m3 0h3m-24 1h3m3 0h2m8 0h1m-15 1h1m4 0h1m20 0h3m-30 1h1m13 0h1m-8 1h1m5 0h1m-3 1h1m-4 1h2m6 3h2m3 0h2m2 0h1m-38 1h2m27 0h1m7 0h1m-38 1h2m1 0h1m25 0h1m7 0h1m-40 1h2m4 0h1m29 0h2m3 0h1m-42 1h2m1 0h1m2 0h1m31 0h1m3 0h1m-38 1h1m32 0h1m3 0h1m-6 1h1m11 0h1m2 0h1m-18 1h2m12 0h1m2 0h1m-21 1h3m12 0h2m1 0h1m-19 1h2m3 0h1m3 0h1m-10 1h7m2 0h1m4 0h1m-11 1h5m-10 1h2m3 0h1m9 0h1m-20 1h1m5 0h1m-1 2h2m-10 2h1m-1 1h1m5 0h1m-1 1h3m1 0h1m-44 1h1m33 0h2m1 0h1m-37 1h1m31 0h3m-35 1h1m31 0h3m-5 3h1m0 1h1"/>
<path stroke="#046de0" d="M0 0m76 25h1m-27 2h1m3 1h2m-3 1h1m1 0h1m-3 1h2m-4 1h2m1 0h1m-5 1h1m3 0h1m-19 2h1m1 0h1m-3 1h1m1 0h1m13 0h1m3 0h1m-23 1h2m1 0h3m12 0h1m2 0h1m5 0h1m1 0h1m15 0h2m-47 1h3m17 0h1m6 0h1m-8 1h1m7 0h2m-12 1h1m2 0h2m8 0h1m-1 1h1m-15 1h1m-1 1h1m5 0h1m-6 1h1m3 0h1m13 0h1m1 0h1m3 0h2m-22 1h1m9 0h1m3 0h1m5 0h1m-22 1h1m7 0h2m1 0h1m2 0h1m-17 1h1m12 0h1m-41 1h1m26 0h2m5 0h1m1 0h1m2 0h1m-38 1h1m18 0h1m6 0h1m5 0h2m-38 1h1m30 0h1m3 0h1m1 0h1m-34 1h1m6 0h3m4 0h1m1 0h3m15 0h1m-39 1h1m20 0h2m6 0h4m1 0h1m4 0h3m-41 1h1m6 0h4m9 0h1m1 0h4m1 0h1m4 0h2m3 0h1m-38 1h1m14 0h2m3 0h1m11 0h3m-26 1h1m4 0h1m7 0h1m9 0h1m1 0h1m1 0h1m1 0h1m-38 1h2m6 0h1m3 0h1m12 0h1m11 0h1m-27 1h1m13 0h1m-6 1h1m4 0h1m12 0h3m-11 1h1m12 0h1m-24 1h2m7 0h2m6 0h1m1 0h1m3 0h1m22 0h1m-49 1h1m3 0h1m1 0h1m23 0h2m-32 1h1m3 0h1m12 0h1m10 0h1m-29 1h1m2 0h1m4 0h1m20 0h2m-31 1h3m13 0h1m10 0h2m-28 1h2m6 0h1m4 0h1m1 0h1m10 0h1m1 0h2m-30 1h1m6 0h2m2 0h1m1 0h1m11 0h2m-20 1h3m4 0h1m1 0h1m2 0h2m6 0h1m-13 1h5m3 0h3m-10 1h1m2 0h1m-29 1h1m24 0h1m2 0h1m7 0h1m-12 1h1m2 0h1m7 0h1m-42 1h1m2 0h1m27 0h2m10 0h1m-44 1h1m2 0h1m27 0h1m-32 1h1m4 0h1m1 0h1m3 0h1m26 0h1m14 0h1m-17 1h1m5 0h1m5 0h1m1 0h2m-10 1h1m7 0h2m-1 1h1m-65 1h1m43 0h1m14 0h1m4 0h1m-66 1h2m43 0h1m10 0h2m3 0h3m1 0h1m-65 1h1m43 0h5m5 0h1m1 0h5m-61 1h2m41 0h1m2 0h3m1 0h3m3 0h3m-12 1h1m10 0h2m-22 1h1m7 0h5m-3 1h1m-1 1h1m23 0h1m-39 1h1m14 0h1m-13 1h1m11 0h1m21 0h1m-34 1h1m10 0h1m20 0h1m-65 1h1m31 0h1m4 0h2m2 0h1m-41 1h1m33 0h1m-35 1h1m-2 1h2m29 0h2m-4 1h1m2 0h1m-4 1h1m2 0h1m-3 1h1m1 0h1m-2 1h1"/>
<path stroke="#0871de" d="M0 0m68 12h1m-1 1h2m-1 1h1m-24 11h3m1 1h1m25 0h1m-30 2h1m1 0h2m-1 1h1m-1 1h3m2 0h1m1 0h1m-37 1h1m16 0h1m10 0h1m5 0h1m-18 1h2m9 0h1m5 0h1m-19 1h3m10 0h1m-16 1h1m3 0h1m11 0h1m3 0h3m-23 1h1m3 0h1m21 0h3m15 0h1m-47 1h1m2 0h1m22 0h2m-28 1h1m3 0h3m15 0h1m3 0h2m3 0h1m8 0h1m2 0h5m-50 1h1m1 0h2m3 0h2m13 0h1m1 0h1m8 0h1m11 0h1m-38 1h1m24 0h1m1 0h1m8 0h1m-41 1h1m4 0h1m10 0h1m23 0h1m-41 1h2m13 0h1m6 0h1m-8 1h1m22 0h1m3 0h1m-27 1h1m5 0h1m10 0h1m2 0h1m2 0h2m2 0h1m-8 1h2m5 0h1m-23 1h1m5 0h1m2 0h1m11 0h1m-20 1h1m3 0h1m4 0h1m-43 1h1m1 0h1m20 0h2m1 0h2m8 0h1m4 0h1m-18 1h1m1 0h3m11 0h1m-37 1h1m5 0h1m3 0h3m7 0h2m3 0h1m5 0h1m-38 1h1m5 0h2m3 0h1m8 0h1m6 0h1m8 0h3m4 0h1m-44 1h1m4 0h1m4 0h2m15 0h1m10 0h2m3 0h1m-44 1h2m3 0h2m16 0h1m4 0h1m8 0h1m2 0h2m-41 1h1m1 0h1m5 0h2m8 0h1m1 0h1m1 0h6m8 0h2m1 0h1m-39 1h2m1 0h1m2 0h3m11 0h2m1 0h2m1 0h1m8 0h1m1 0h1m-38 1h1m21 0h2m15 0h2m-41 1h3m6 0h1m11 0h1m17 0h2m-40 1h1m8 0h2m30 0h1m-33 1h2m8 0h2m17 0h1m-32 1h3m12 0h1m1 0h1m13 0h1m26 0h1m-59 1h3m13 0h1m12 0h1m3 0h2m1 0h1m3 0h1m2 0h1m-27 1h2m24 0h1m13 0h1m-55 1h3m22 0h1m10 0h1m2 0h1m1 0h1m11 0h2m-56 1h4m13 0h1m15 0h1m4 0h3m10 0h1m-43 1h1m2 0h1m4 0h1m6 0h1m1 0h2m5 0h3m1 0h1m2 0h2m8 0h2m-43 1h1m1 0h1m4 0h1m5 0h1m1 0h3m2 0h6m2 0h2m1 0h2m8 0h1m-41 1h2m4 0h1m3 0h1m2 0h1m1 0h1m1 0h2m2 0h6m1 0h1m1 0h1m-11 1h1m1 0h1m3 0h2m-38 1h2m23 0h1m4 0h2m5 0h1m-40 1h1m3 0h1m27 0h2m-35 1h2m4 0h1m26 0h2m6 0h1m-13 1h1m2 0h2m1 0h1m-29 1h2m20 0h1m1 0h1m5 0h1m-38 1h1m1 0h2m3 0h1m3 0h2m16 0h1m21 0h1m-47 1h2m3 0h3m15 0h2m23 0h1m-27 1h3m2 0h3m12 0h2m-20 1h1m1 0h1m14 0h1m-61 1h1m55 0h1m2 0h1m-58 1h1m55 0h2m-60 1h1m1 0h1m41 0h1m11 0h1m7 0h1m-62 1h1m37 0h3m10 0h3m4 0h1m-60 1h1m46 0h5m-2 1h1m7 0h1m-11 1h2m-18 1h2m2 0h1m11 0h1m-13 1h1m34 0h1m-1 1h1m-36 1h1m7 1h2m1 0h1m-45 1h1m37 0h1m-38 1h1m31 0h1m3 0h1m-37 1h1m30 0h1m2 0h2m-7 1h1m-16 2h1m19 0h1m-17 1h2m11 0h1m1 0h1m12 9h1"/>
<path stroke="#0d75dc" d="M0 0m66 11h3m0 1h1m-2 2h1m0 1h1m-2 1h1m6 2h1m-28 6h1m0 1h1m-5 1h1m5 0h2m24 0h1m-33 1h1m5 0h2m1 0h2m-18 1h1m7 0h1m1 0h1m2 0h3m2 0h1m-36 1h1m15 0h2m12 0h2m3 0h1m-38 1h3m15 0h2m10 0h1m6 0h1m-35 1h1m14 0h1m1 0h1m16 0h2m-36 1h1m14 0h1m18 0h1m3 0h3m-42 1h2m12 0h2m3 0h1m8 0h1m5 0h2m5 0h1m-23 1h1m9 0h1m7 0h1m2 0h3m-30 1h1m5 0h1m16 0h4m14 0h1m4 0h1m-49 1h1m7 0h1m15 0h1m1 0h1m5 0h1m9 0h5m2 0h1m-50 1h1m7 0h1m12 0h1m4 0h1m13 0h1m1 0h2m5 0h1m-50 1h1m2 0h3m2 0h1m11 0h1m3 0h6m3 0h2m6 0h3m1 0h4m-46 1h1m2 0h1m1 0h2m15 0h1m9 0h1m6 0h1m1 0h1m-41 1h1m1 0h2m1 0h1m8 0h1m6 0h1m6 0h1m1 0h1m7 0h1m1 0h1m-40 1h1m2 0h1m1 0h1m32 0h3m-43 1h2m5 0h1m15 0h1m10 0h4m1 0h3m1 0h1m-29 1h1m7 0h1m7 0h2m-34 1h2m14 0h3m4 0h1m3 0h5m7 0h3m3 0h1m-28 1h1m4 0h1m3 0h1m8 0h1m5 0h1m1 0h1m-28 1h2m6 0h3m6 0h1m-41 1h1m21 0h1m49 0h1m-51 1h1m15 0h1m-35 1h1m1 0h1m1 0h1m1 0h1m3 0h1m8 0h1m14 0h1m-45 1h1m10 0h1m17 0h1m2 0h1m-33 1h1m6 0h4m18 0h2m6 0h2m-34 1h1m3 0h1m27 0h1m5 0h1m-43 1h1m4 0h2m1 0h1m11 0h1m18 0h1m1 0h1m-38 1h1m1 0h1m13 0h2m5 0h1m13 0h1m-37 1h1m4 0h1m10 0h3m2 0h2m-13 1h1m4 0h3m1 0h1m18 0h1m28 0h1m1 0h1m-64 1h1m10 0h1m1 0h1m2 0h1m17 0h1m-36 1h2m12 0h2m1 0h1m40 0h2m-57 1h1m7 0h1m4 0h1m20 0h1m5 0h1m13 0h1m2 0h1m-62 1h1m3 0h1m6 0h1m24 0h1m1 0h1m1 0h1m4 0h1m12 0h3m-60 1h4m6 0h1m5 0h1m12 0h1m6 0h1m1 0h1m6 0h3m8 0h1m1 0h1m-59 1h3m12 0h1m2 0h1m10 0h1m8 0h1m4 0h1m1 0h3m10 0h1m-58 1h1m12 0h2m2 0h1m9 0h3m3 0h1m1 0h2m5 0h2m7 0h1m1 0h1m1 0h1m-56 1h2m12 0h1m2 0h1m13 0h3m19 0h1m-57 1h1m15 0h1m14 0h1m11 0h1m11 0h1m-54 1h1m13 0h1m8 0h1m19 0h1m-32 1h3m3 0h1m1 0h2m4 0h1m6 0h1m6 0h3m-42 1h1m38 0h1m-27 1h2m24 0h1m-43 1h1m16 0h1m25 0h1m-45 1h1m8 0h1m26 0h1m8 0h1m-46 1h1m10 0h2m17 0h1m3 0h1m3 0h1m6 0h1m-43 1h1m6 0h2m3 0h1m13 0h2m1 0h3m3 0h1m6 0h1m5 0h2m2 0h2m-56 1h2m6 0h1m5 0h1m13 0h1m2 0h1m4 0h1m11 0h1m6 0h1m-25 1h2m21 0h1m-26 1h1m1 0h1m21 0h1m-65 1h1m41 0h1m12 0h1m-59 1h1m44 0h1m-4 1h2m19 0h2m1 0h1m-62 1h1m57 0h3m-62 1h2m25 0h2m7 0h1m18 0h1m5 0h2m8 0h1m-73 1h1m35 0h1m19 0h1m6 0h1m9 0h1m-42 1h2m2 0h1m18 0h1m6 0h2m-30 1h1m14 0h1m-18 1h1m1 0h1m-2 1h1m35 0h1m-65 1h1m27 0h1m15 0h1m21 0h1m-70 1h1m33 0h1m11 0h1m-47 1h1m33 0h1m-34 1h1m3 1h1m25 0h2m-30 1h1m25 0h1m6 0h1m-22 1h1m2 0h1m12 0h1m4 0h1m-18 1h4m9 0h1m3 1h1m-17 3h1m26 6h1"/>
<path stroke="#1079da" d="M0 0m69 11h1m0 1h1m-3 3h1m-3 1h2m8 0h2m-12 1h3m8 0h1m-2 1h2m-3 1h1m1 0h1m-31 2h2m-3 1h2m2 0h1m-25 1h1m18 0h1m3 0h3m2 0h2m19 0h2m-1 1h2m-33 1h1m5 0h2m22 1h1m-40 1h1m16 0h1m-33 1h1m14 0h2m-18 1h1m36 0h1m-36 1h1m13 0h1m21 0h1m-40 1h1m28 0h1m9 0h2m-20 1h2m6 0h1m10 0h1m-19 1h1m6 0h1m8 0h4m2 0h1m-30 1h1m6 0h1m7 0h1m9 0h2m13 0h1m-42 1h1m17 0h1m12 0h1m9 0h1m3 0h1m2 0h1m-31 1h1m5 0h1m15 0h1m-43 1h1m20 0h1m3 0h2m7 0h1m-15 1h1m15 0h1m13 0h1m-48 1h1m2 0h1m4 0h1m7 0h2m6 0h1m1 0h4m13 0h4m-47 1h1m2 0h1m4 0h1m20 0h1m15 0h1m-46 1h1m3 0h2m1 0h1m7 0h1m13 0h3m8 0h1m3 0h2m-43 1h1m11 0h1m9 0h1m3 0h1m4 0h1m18 0h1m-54 1h3m5 0h1m16 0h5m1 0h1m13 0h2m7 0h2m-41 1h1m8 0h3m19 0h1m9 0h1m-42 1h1m1 0h1m6 0h3m10 0h1m2 0h2m25 0h1m-54 1h3m18 0h1m8 0h1m20 0h1m1 0h1m-78 1h1m42 0h1m26 0h1m6 0h1m-80 1h1m6 0h1m5 0h1m3 0h2m5 0h1m-28 1h3m8 0h2m1 0h1m3 0h1m5 0h2m1 0h1m5 0h2m-35 1h1m1 0h1m9 0h2m19 0h2m13 0h1m-49 1h1m1 0h1m45 0h1m12 0h1m-59 1h1m7 0h1m35 0h1m-45 1h1m4 0h1m2 0h1m-7 1h1m5 0h1m9 0h3m22 0h1m-42 1h1m4 0h1m9 0h1m3 0h1m45 0h1m-66 1h1m3 0h1m4 0h1m14 0h1m1 0h1m26 0h1m1 0h1m-55 1h1m1 0h1m5 0h1m3 0h1m6 0h1m25 0h1m-34 1h1m6 0h1m25 0h1m19 0h1m2 0h1m-62 1h1m9 0h1m31 0h2m1 0h1m-15 1h1m1 0h1m5 0h1m-6 1h1m3 0h1m21 0h1m-61 1h1m6 0h1m28 0h2m15 0h1m2 0h1m-59 1h3m6 0h1m24 0h1m1 0h1m11 0h2m8 0h1m-59 1h3m3 0h3m10 0h1m13 0h2m12 0h2m9 0h1m-57 1h3m14 0h2m12 0h1m13 0h2m8 0h1m-56 1h1m1 0h2m7 0h2m3 0h2m7 0h1m16 0h1m2 0h2m6 0h1m-54 1h4m12 0h1m3 0h1m2 0h1m20 0h1m-44 1h1m7 0h2m3 0h3m10 0h1m25 0h1m-54 1h1m5 0h1m2 0h1m4 0h1m2 0h1m10 0h1m24 0h1m12 0h1m-60 1h4m3 0h2m1 0h1m10 0h1m-21 1h4m-1 1h5m11 0h1m5 0h3m-38 1h1m15 0h2m17 0h3m11 0h2m6 0h1m-58 1h1m2 0h1m2 0h1m4 0h1m21 0h1m1 0h2m20 0h1m-44 1h1m33 0h1m-20 1h1m17 0h1m-18 1h2m22 0h1m-64 1h1m39 0h1m22 0h1m-64 1h1m36 0h1m2 0h1m30 0h1m-70 1h1m24 0h2m33 0h1m8 0h1m-75 1h1m4 0h1m23 0h1m2 0h1m21 0h1m2 0h1m3 0h1m1 0h1m9 0h1m-44 1h3m1 0h2m17 0h1m3 0h1m3 0h4m6 0h1m-35 1h1m14 0h1m7 0h1m1 0h2m11 0h1m-39 1h1m20 0h1m5 0h2m-29 1h1m13 0h1m19 0h1m-66 1h2m29 0h1m13 0h1m-47 1h1m30 0h2m29 0h2m1 0h1m3 0h1m-72 1h1m47 0h1m13 0h2m4 0h1m-63 1h1m27 0h1m6 0h3m4 0h2m12 0h2m-31 1h1m6 0h1m-12 1h2m8 0h1m-35 1h1m13 0h1m9 0h1m1 0h1m-17 1h1m1 0h2m1 0h1m-6 1h2m2 0h1m2 2h1m13 0h1m-16 3h1m26 4h1m-2 1h1"/>
<path stroke="#127dd8" d="M0 0m66 10h2m-3 1h1m4 2h1m-4 2h1m1 1h1m5 0h1m2 0h1m-10 1h1m5 0h2m-8 1h1m4 0h1m-2 1h2m-28 1h3m6 0h1m-12 1h2m2 0h3m3 0h1m19 0h1m-52 1h1m20 0h1m2 0h2m1 0h1m2 0h2m19 0h2m-49 1h1m15 0h1m1 0h3m25 0h1m-49 1h1m1 0h1m15 0h2m1 0h1m1 0h1m1 0h2m1 0h2m-28 1h1m21 0h1m27 0h1m-43 1h1m18 0h1m22 0h1m-44 1h1m1 0h1m18 0h1m-22 1h1m9 0h1m11 0h1m-39 1h1m2 0h1m13 0h1m2 0h1m7 0h1m1 0h1m-11 1h1m8 0h1m10 0h2m1 0h1m-27 1h1m3 0h1m19 0h3m-44 1h1m3 0h1m1 0h1m10 0h1m20 0h2m4 0h1m-41 1h1m10 0h1m7 0h1m21 0h1m9 0h1m-60 1h2m5 0h1m19 0h1m21 0h1m8 0h1m1 0h1m4 0h1m-66 1h1m6 0h1m8 0h2m8 0h1m8 0h1m25 0h1m-61 1h1m14 0h1m9 0h1m40 0h1m-56 1h1m23 0h1m14 0h2m14 0h1m-42 1h1m30 0h1m-41 1h1m3 0h1m22 0h1m8 0h1m3 0h2m7 0h1m-53 1h1m13 0h1m5 0h1m11 0h1m5 0h1m5 0h1m3 0h1m2 0h1m-38 1h1m14 0h1m9 0h1m2 0h3m6 0h2m3 0h3m-54 1h1m3 0h4m1 0h1m16 0h2m2 0h2m1 0h1m11 0h3m4 0h1m1 0h2m-60 1h1m12 0h1m5 0h1m14 0h1m16 0h1m4 0h2m2 0h1m-63 1h1m7 0h1m44 0h1m6 0h2m-62 1h1m6 0h1m12 0h1m1 0h1m21 0h2m5 0h1m20 0h1m1 0h1m-77 1h3m1 0h1m39 0h1m4 0h2m25 0h1m-74 1h2m5 0h1m9 0h2m20 0h1m22 0h1m-76 1h3m2 0h1m8 0h1m5 0h3m6 0h1m21 0h1m-51 1h2m26 0h1m21 0h1m-50 1h1m1 0h1m-1 1h1m78 0h1m-80 1h2m57 0h2m-60 1h1m43 0h1m13 0h1m-58 1h2m65 0h1m-59 1h2m33 0h1m6 0h1m3 0h3m10 0h1m4 0h3m-49 1h1m17 0h1m5 0h1m2 0h1m1 0h1m1 0h1m8 0h2m3 0h1m3 0h1m-56 1h1m4 0h1m20 0h1m6 0h2m11 0h7m1 0h1m-66 1h1m9 0h2m5 0h1m44 0h1m6 0h1m-65 1h1m5 0h1m27 0h1m22 0h1m-64 1h1m10 0h1m21 0h1m13 0h2m9 0h1m3 0h1m-62 1h1m4 0h1m4 0h1m24 0h2m19 0h1m-59 1h2m9 0h3m5 0h2m12 0h1m2 0h2m2 0h1m13 0h1m1 0h2m-59 1h1m3 0h1m15 0h1m15 0h1m14 0h1m9 0h1m-58 1h1m5 0h2m2 0h1m6 0h1m28 0h2m8 0h1m-60 1h1m4 0h1m7 0h1m4 0h1m30 0h1m-49 1h1m9 0h2m36 0h1m6 0h1m-62 1h1m10 0h1m4 0h4m11 0h1m1 0h1m25 0h2m-60 1h1m5 0h1m4 0h1m2 0h1m3 0h2m6 0h2m20 0h1m11 0h1m-60 1h1m11 0h2m1 0h4m28 0h1m1 0h1m9 0h1m12 0h1m-70 1h1m12 0h3m29 0h3m8 0h2m-44 1h6m9 0h2m15 0h1m-19 1h1m17 0h1m3 0h1m2 0h6m-31 1h1m17 0h1m11 0h2m-56 1h2m4 0h1m5 0h1m1 0h1m9 0h1m5 0h1m23 0h2m-60 1h3m4 0h5m1 0h1m4 0h1m9 0h1m27 0h1m-68 1h2m9 0h2m11 0h2m40 0h1m-69 1h1m3 0h1m4 0h1m32 0h1m-34 1h1m28 0h1m3 0h2m-39 1h1m32 0h1m1 0h1m-11 1h1m2 0h3m4 0h1m33 0h1m1 0h1m-42 1h1m1 0h3m16 0h2m5 0h1m8 0h2m2 0h1m-73 1h1m29 0h1m2 0h2m18 0h1m9 0h1m-34 1h1m2 0h1m19 0h1m4 0h1m4 0h1m4 0h1m-39 1h1m21 0h1m1 0h1m2 0h2m-56 1h2m20 0h1m-11 1h2m16 0h1m33 0h1m-67 1h1m11 0h2m1 0h1m46 0h1m-55 1h1m3 0h1m18 0h1m1 0h1m14 0h1m14 0h4m-68 1h1m8 0h1m23 0h1m10 0h3m14 0h1m-61 1h1m5 0h1m22 0h1m10 0h1m7 0h1m-41 1h1m9 0h1m11 0h1m-17 1h4m1 0h1m3 0h1m13 0h1m-18 1h1m1 0h2m4 0h3m-14 1h1m5 0h1m7 0h1m5 0h1m-25 1h1m18 0h1m-1 1h1m11 6h2m-23 1h1m21 0h2m1 0h1m-4 1h1"/>
<path stroke="#1481d6" d="M0 0m49 7h1m15 3h1m1 2h1m3 0h1m-2 2h1m-5 1h1m8 0h2m-13 1h2m8 1h1m3 0h1m-58 1h1m35 0h2m9 0h1m4 0h1m4 0h2m-32 1h1m23 0h1m5 0h2m-35 1h2m3 0h2m22 0h1m2 0h2m-53 1h2m24 0h1m3 0h1m17 0h1m-23 1h2m-30 1h1m27 0h2m2 0h1m16 0h1m-28 1h1m3 0h1m2 0h1m2 0h1m-4 1h4m-20 1h1m1 0h2m12 0h2m1 0h1m17 0h1m-37 1h2m-6 1h1m4 0h2m-24 1h2m15 0h2m4 0h1m7 0h1m9 0h3m1 0h1m-46 1h2m4 0h1m23 0h1m13 0h1m-45 1h2m4 0h1m23 0h1m15 0h1m19 0h1m-66 1h1m5 0h1m10 0h1m6 0h1m4 0h1m16 0h1m17 0h2m-69 1h3m12 0h1m2 0h1m13 0h1m25 0h1m6 0h1m1 0h1m-62 1h1m1 0h1m6 0h2m1 0h1m9 0h1m4 0h1m29 0h2m-64 1h1m4 0h1m1 0h1m18 0h1m6 0h1m23 0h1m3 0h1m4 0h1m-68 1h1m6 0h1m4 0h1m22 0h1m14 0h1m1 0h1m-27 1h1m41 0h1m-57 1h1m22 0h1m17 0h1m1 0h2m-29 1h1m5 0h1m19 0h3m-42 1h1m28 0h2m7 0h1m1 0h3m5 0h1m2 0h1m-38 1h1m3 0h1m12 0h1m4 0h2m1 0h2m17 0h1m1 0h2m-44 1h1m13 0h1m3 0h1m18 0h1m4 0h2m-55 1h1m3 0h1m49 0h1m-65 1h1m12 0h4m4 0h1m33 0h1m8 0h1m8 0h1m-74 1h1m2 0h1m3 0h1m1 0h1m3 0h2m38 0h1m8 0h2m8 0h1m-71 1h1m6 0h1m6 0h1m3 0h1m23 0h2m1 0h1m2 0h1m1 0h1m9 0h3m-74 1h1m4 0h1m11 0h1m1 0h2m4 0h1m1 0h1m23 0h1m8 0h1m13 0h2m-75 1h2m10 0h4m6 0h1m1 0h2m23 0h1m23 0h1m6 0h1m1 0h1m-10 1h2m4 0h2m-83 1h1m74 0h1m6 0h1m-82 1h1m60 0h1m20 0h1m-82 1h1m47 0h1m-48 1h1m45 0h1m11 0h1m1 0h1m7 0h1m10 0h1m-79 1h1m44 0h1m11 0h2m8 0h1m1 0h1m6 0h1m-75 1h1m6 0h1m9 0h1m1 0h1m33 0h1m3 0h1m7 0h1m5 0h1m3 0h1m-70 1h1m2 0h1m6 0h1m28 0h1m5 0h2m5 0h1m9 0h2m9 0h1m-79 1h1m3 0h1m3 0h1m16 0h1m21 0h1m1 0h1m1 0h1m2 0h1m22 0h2m-77 1h2m43 0h1m4 0h3m10 0h1m5 0h2m-56 1h1m30 0h2m4 0h1m10 0h1m11 0h2m-23 1h1m-57 1h1m5 0h2m6 0h2m1 0h1m21 0h1m1 0h1m17 0h4m6 0h1m-65 1h1m10 0h1m23 0h2m26 0h1m-53 1h2m1 0h1m6 0h1m40 0h1m-63 1h1m11 0h1m63 0h1m-77 1h1m7 0h6m37 0h1m-56 1h1m1 0h4m7 0h1m48 0h1m-64 1h1m1 0h1m1 0h2m1 0h1m6 0h1m1 0h1m16 0h1m19 0h3m3 0h1m2 0h1m8 0h1m-71 1h1m1 0h3m1 0h1m6 0h2m3 0h1m10 0h1m3 0h1m16 0h3m6 0h1m12 0h1m-70 1h1m2 0h1m27 0h1m15 0h1m1 0h1m6 0h1m2 0h1m4 0h1m7 0h2m-75 1h1m22 0h2m7 0h1m18 0h1m5 0h2m2 0h1m-63 1h1m2 0h1m20 0h1m7 0h1m18 0h1m7 0h6m-65 1h1m2 0h1m18 0h2m27 0h3m1 0h2m6 0h1m-61 1h1m18 0h2m27 0h2m-50 1h1m17 0h1m1 0h1m28 0h1m27 0h1m-74 1h1m8 0h1m2 0h1m3 0h1m37 0h2m-71 1h1m2 0h1m7 0h1m2 0h2m24 0h1m-32 1h1m3 0h1m11 0h1m45 0h1m-68 1h1m4 0h1m15 0h1m14 0h1m-36 1h2m2 0h1m23 0h2m3 0h1m27 0h1m8 0h1m-70 1h1m28 0h4m27 0h1m-61 1h1m26 0h1m1 0h1m30 0h1m-63 1h3m21 0h2m24 0h2m14 0h1m5 0h1m-75 1h3m1 0h1m21 0h1m3 0h1m20 0h1m1 0h1m20 0h1m-74 1h2m1 0h3m14 0h2m1 0h3m23 0h1m3 0h1m5 0h2m2 0h1m4 0h1m4 0h1m-73 1h2m2 0h1m18 0h1m5 0h1m21 0h1m6 0h1m2 0h1m4 0h1m5 0h1m-73 1h1m12 0h1m2 0h1m1 0h1m5 0h1m37 0h3m-59 1h2m6 0h1m10 0h1m3 0h1m18 0h1m12 0h1m3 0h1m-60 1h2m1 0h3m1 0h1m18 0h1m27 0h1m-55 1h2m2 0h1m17 0h2m16 0h1m2 0h3m11 0h3m-36 1h1m18 0h1m11 0h2m12 0h1m-62 1h4m1 0h1m2 0h3m2 0h1m12 0h1m34 0h1m-63 1h1m6 0h1m1 0h1m1 0h1m13 0h1m-26 1h1m7 0h1m15 0h1m-26 1h2m16 0h1m7 0h1m-2 1h1m-18 1h1m1 0h1m13 0h1m-17 1h2m2 5h1m1 0h1m16 0h1m3 0h1m-24 1h1m17 0h1m7 0h1m-9 1h1m1 0h1"/>
<path stroke="#1485d4" d="M0 0m48 7h1m0 1h1m16 1h1m-33 3h1m6 0h1m-7 1h2m30 1h1m-4 1h2m11 0h1m-42 1h1m-16 1h1m31 0h2m10 0h1m7 0h1m-54 1h1m32 0h1m12 0h2m4 0h1m-52 1h1m27 0h1m-30 1h2m4 0h1m25 0h3m17 0h1m6 0h1m-56 1h2m18 0h1m8 0h2m22 0h2m1 0h1m-53 1h1m15 0h1m11 0h1m-33 2h1m4 0h1m27 0h1m15 0h1m-48 1h1m9 0h1m7 0h1m28 0h1m-46 1h1m9 0h1m1 1h1m16 0h1m-25 1h1m7 0h1m16 0h1m3 0h1m-40 1h1m9 0h1m12 0h1m14 0h1m1 0h1m-31 1h3m4 0h1m4 0h2m16 0h1m-40 1h4m6 0h2m5 0h2m1 0h3m19 0h1m15 0h1m-68 1h3m8 0h1m6 0h2m9 0h2m35 0h1m-64 1h2m4 0h1m6 0h2m10 0h2m36 0h1m-65 1h1m14 0h1m11 0h1m2 0h1m33 0h3m-41 1h1m4 0h1m16 0h1m17 0h1m-63 1h1m1 0h1m18 0h2m5 0h1m16 0h1m16 0h1m-58 1h1m15 0h2m6 0h1m20 0h1m-53 1h1m22 0h3m24 0h1m-41 1h1m1 0h1m12 0h1m-1 1h1m24 0h1m12 0h1m2 0h1m1 0h2m-30 1h2m21 0h1m1 0h1m4 0h1m2 0h1m13 0h1m-63 1h1m47 0h1m-66 1h3m8 0h3m3 0h2m2 0h1m33 0h2m1 0h1m-57 1h2m6 0h1m6 0h1m42 0h1m11 0h1m3 0h2m-76 1h1m12 0h3m2 0h1m43 0h1m6 0h1m4 0h1m-87 1h3m5 0h1m11 0h1m4 0h1m1 0h1m1 0h1m26 0h1m24 0h1m-83 1h2m1 0h1m1 0h2m8 0h1m7 0h2m3 0h1m25 0h1m4 0h1m14 0h1m-49 1h1m26 0h1m21 0h1m1 0h1m4 0h1m-83 1h1m51 0h1m12 0h1m9 0h1m8 0h2m-34 1h1m11 0h1m12 0h1m4 0h1m1 0h2m-96 1h2m60 0h1m23 0h1m5 0h1m2 0h1m-34 1h1m9 0h1m19 0h1m-10 1h1m8 0h1m-79 1h1m53 0h2m1 0h1m2 0h1m15 0h1m1 0h4m-81 1h2m18 0h1m25 0h2m3 0h1m1 0h2m15 0h1m7 0h4m-80 1h1m7 0h1m8 0h1m28 0h2m1 0h1m15 0h1m4 0h1m5 0h1m1 0h1m1 0h1m-66 1h2m2 0h1m29 0h1m1 0h1m4 0h2m17 0h1m1 0h1m-76 1h1m12 0h1m2 0h1m30 0h1m2 0h1m21 0h2m1 0h1m1 0h1m-72 1h1m6 0h1m40 0h1m15 0h1m-66 1h1m6 0h1m3 0h1m39 0h1m1 0h1m10 0h1m6 0h2m-74 1h1m10 0h1m23 0h1m-41 1h2m-4 1h4m2 0h1m13 0h1m49 0h1m11 0h2m-84 1h2m4 0h1m13 0h1m47 0h1m13 0h1m-83 1h1m4 0h2m7 0h1m44 0h2m5 0h1m13 0h1m2 0h2m-83 1h1m1 0h1m9 0h2m1 0h2m41 0h1m-56 1h1m2 0h1m6 0h1m1 0h1m40 0h3m10 0h1m2 0h1m4 0h2m-73 1h1m24 0h1m22 0h1m1 0h4m10 0h2m-71 1h1m3 0h2m21 0h1m2 0h1m2 0h1m19 0h1m9 0h2m1 0h1m1 0h1m3 0h1m-70 1h2m28 0h1m30 0h2m8 0h1m-73 1h1m23 0h1m26 0h3m-54 1h1m22 0h1m39 0h1m-65 1h3m21 0h1m39 0h1m12 0h1m2 0h1m-88 1h1m6 0h3m21 0h1m6 0h1m32 0h1m-71 1h1m8 0h1m4 0h3m9 0h2m2 0h1m6 0h1m31 0h1m16 0h1m-81 1h3m11 0h3m2 0h1m2 0h2m7 0h1m28 0h4m-74 1h1m8 0h1m2 0h3m1 0h2m15 0h3m2 0h1m2 0h2m26 0h1m2 0h1m-73 1h1m6 0h3m5 0h1m12 0h1m4 0h6m1 0h2m31 0h1m2 0h1m-68 1h2m1 0h1m2 0h2m13 0h5m2 0h2m36 0h1m-67 1h2m4 0h2m55 0h2m-73 1h1m7 0h3m3 0h2m12 0h1m42 0h1m-71 1h1m6 0h4m3 0h1m-14 1h1m3 0h1m2 0h4m2 0h1m8 0h1m5 0h3m22 0h1m12 0h1m2 0h1m-66 1h1m3 0h4m1 0h2m9 0h1m3 0h1m24 0h1m-46 1h3m2 0h2m2 0h2m2 0h5m2 0h1m22 0h1m1 0h1m1 0h3m2 0h1m1 0h2m1 0h1m2 0h1m-60 1h2m1 0h4m4 0h1m5 0h1m1 0h1m2 0h1m19 0h1m2 0h2m5 0h2m1 0h1m3 0h1m-58 1h4m4 0h1m7 0h1m2 0h2m22 0h2m7 0h1m11 0h1m-59 1h2m9 0h1m2 0h2m19 0h1m1 0h1m-43 1h1m1 0h5m9 0h2m32 0h1m-61 1h1m15 0h4m4 0h2m1 0h1m14 0h1m3 0h1m4 0h1m12 0h1m-51 1h1m34 0h1m-28 1h1m4 0h1m12 0h1m-28 1h1m11 0h1m13 0h2m2 0h3m-34 1h1m17 0h1m-19 1h1m2 0h1m8 0h1m-11 1h1m3 1h2m15 0h1m-11 3h1m0 1h2m-2 1h1m1 0h1m14 0h1m3 0h1m1 0h1m-24 1h2m17 0h1m4 0h1m1 0h1m-11 1h1m1 0h1"/>
<path stroke="#1389d3" d="M0 0m50 7h1m-3 1h1m1 0h1m13 1h2m-33 1h1m29 0h2m-35 1h4m7 0h1m-10 1h1m2 0h1m4 0h1m24 0h1m6 0h1m-39 1h1m36 0h1m-36 1h1m27 0h1m-30 1h2m26 0h1m6 0h1m3 0h1m-40 1h1m17 0h1m9 0h1m6 0h1m3 0h1m4 0h1m-60 1h1m35 0h4m3 0h2m5 0h1m1 0h1m6 0h1m-58 1h1m26 0h2m8 0h1m-40 1h1m1 0h1m24 0h1m2 0h2m1 0h1m4 0h1m9 0h2m1 0h1m-53 1h1m2 0h1m12 0h1m21 0h1m22 0h1m-58 1h1m11 0h1m36 0h1m-54 1h1m52 0h1m7 0h1m-52 1h1m13 0h1m28 0h1m-35 1h1m4 0h1m27 0h2m-36 1h4m2 0h1m13 0h1m14 0h1m14 0h2m-48 1h1m29 0h2m6 0h1m7 0h3m-58 1h2m7 0h1m2 0h1m42 0h2m-71 1h1m41 0h2m1 0h1m-48 1h1m24 0h1m39 0h1m-66 1h1m7 0h1m1 0h2m13 0h1m39 0h1m1 0h1m-68 1h1m15 0h2m9 0h1m20 0h1m16 0h1m-68 1h1m17 0h1m10 0h1m2 0h1m18 0h2m6 0h2m5 0h1m-67 1h1m10 0h1m2 0h2m15 0h2m18 0h1m12 0h2m-66 1h1m9 0h1m2 0h3m16 0h1m18 0h1m10 0h1m-63 1h1m2 0h1m6 0h1m19 0h1m2 0h1m-31 1h1m2 0h1m3 0h1m1 0h1m17 0h1m2 0h2m23 0h1m-56 1h1m1 0h5m4 0h1m15 0h1m3 0h1m21 0h1m13 0h1m-67 1h1m1 0h1m1 0h2m25 0h1m34 0h1m-52 1h1m11 0h1m38 0h1m20 0h1m-23 1h2m1 0h1m4 0h1m13 0h1m-23 1h1m21 0h1m-76 1h1m16 0h1m34 0h3m18 0h1m-78 1h1m19 0h2m36 0h1m15 0h1m2 0h1m-65 1h1m5 0h1m37 0h1m2 0h1m11 0h1m-82 1h1m1 0h1m6 0h1m10 0h1m43 0h3m3 0h2m15 0h1m-81 1h1m10 0h1m2 0h1m1 0h2m3 0h1m34 0h1m22 0h1m-89 1h1m4 0h1m11 0h3m6 0h2m28 0h4m1 0h2m17 0h1m1 0h1m5 0h1m-89 1h1m57 0h1m4 0h1m2 0h1m12 0h1m7 0h1m-96 1h1m61 0h1m10 0h1m-75 1h1m9 0h1m62 0h1m1 0h1m9 0h1m-84 1h1m8 0h1m60 0h1m12 0h1m1 0h1m8 0h1m-97 1h2m61 0h1m6 0h2m3 0h1m9 0h2m-87 1h2m11 0h1m47 0h3m4 0h4m3 0h1m5 0h1m4 0h1m4 0h1m4 0h1m-36 1h5m1 0h1m2 0h1m18 0h1m6 0h1m-32 1h1m9 0h1m5 0h1m4 0h2m-64 1h1m11 0h1m28 0h1m10 0h1m4 0h1m12 0h1m-95 1h2m15 0h1m5 0h1m10 0h2m39 0h1m6 0h1m10 0h1m3 0h1m-96 1h2m14 0h1m49 0h1m4 0h1m1 0h1m6 0h1m10 0h1m-76 1h1m2 0h1m52 0h3m-60 1h2m13 0h1m1 0h1m47 0h1m-66 1h1m1 0h1m2 0h1m58 0h1m12 0h2m-80 1h2m2 0h1m1 0h1m72 0h2m1 0h2m-85 1h1m80 0h1m-83 1h2m2 0h2m1 0h1m74 0h2m2 0h1m-87 1h2m1 0h1m2 0h1m62 0h1m4 0h1m8 0h2m-83 1h2m56 0h2m6 0h1m4 0h1m7 0h4m-82 1h1m63 0h1m4 0h1m4 0h1m-74 1h1m31 0h2m21 0h1m7 0h3m2 0h2m-41 1h2m25 0h2m1 0h1m6 0h1m3 0h1m-70 1h1m26 0h1m26 0h1m11 0h1m5 0h1m2 0h2m-77 1h1m2 0h1m28 0h1m23 0h1m1 0h2m15 0h1m1 0h1m-78 1h1m2 0h1m28 0h1m45 0h1m-79 1h1m31 0h1m44 0h1m1 0h1m-87 1h1m1 0h1m80 0h4m-87 1h2m1 0h1m3 0h4m22 0h1m-35 1h1m4 0h1m2 0h1m8 0h1m1 0h4m6 0h2m2 0h2m-30 1h1m18 0h2m1 0h1m1 0h3m3 0h2m1 0h2m29 0h2m2 0h1m-63 1h3m1 0h1m14 0h2m39 0h1m1 0h2m-63 1h2m12 0h3m42 0h2m-63 1h2m12 0h1m43 0h1m4 0h1m3 0h1m-67 1h1m12 0h1m52 0h1m-66 1h1m1 0h1m9 0h2m42 0h1m9 0h1m-71 1h1m4 0h2m1 0h1m8 0h4m49 0h1m-77 1h1m11 0h1m2 0h1m5 0h1m7 0h3m20 0h1m13 0h1m1 0h2m6 0h1m-66 1h2m2 0h2m2 0h2m8 0h1m1 0h1m34 0h2m-46 1h2m5 0h2m21 0h2m2 0h1m6 0h1m11 0h1m-55 1h1m30 0h2m2 0h1m4 0h2m-62 1h1m17 0h1m7 0h1m25 0h1m1 0h2m3 0h3m-62 1h1m17 0h2m6 0h1m33 0h1m7 0h2m1 0h1m-61 1h1m3 0h2m7 0h1m19 0h3m2 0h1m3 0h1m7 0h2m3 0h1m-45 1h2m19 0h1m7 0h1m-38 1h1m12 0h1m14 0h5m-41 1h1m6 0h1m15 0h1m12 0h2m-18 1h1m3 0h1m10 0h1m-30 1h1m27 0h1m-16 1h1m7 0h1m-21 1h2m12 3h1m17 1h2m-5 1h1m-1 1h1"/>
<path stroke="#108ed2" d="M0 0m47 7h1m8 0h1m7 1h1m-30 1h1m13 0h1m13 0h1m-32 1h1m3 0h1m25 0h1m-29 1h1m5 0h1m1 0h1m21 0h1m-34 1h1m1 0h1m2 0h1m2 0h1m-1 1h3m20 0h1m1 0h1m-30 1h1m3 0h1m23 0h1m10 0h1m-23 2h1m7 0h1m11 0h2m-24 1h1m9 0h1m10 0h1m-24 1h1m2 0h2m12 0h1m14 0h1m-62 1h1m3 0h1m12 0h2m7 0h2m5 0h1m13 0h1m-44 1h2m11 0h2m31 0h2m-49 1h1m13 0h1m34 0h1m-37 1h1m7 0h1m27 0h1m-37 1h1m21 0h1m13 0h1m-36 1h2m1 0h3m-18 1h1m6 0h2m8 0h2m28 0h1m7 0h4m3 0h1m2 0h1m-61 1h1m1 0h2m11 0h1m12 0h1m15 0h1m7 0h2m3 0h1m-56 1h1m26 0h1m1 0h1m1 0h1m11 0h1m4 0h1m6 0h1m2 0h1m-70 1h1m1 0h1m3 0h1m5 0h1m9 0h1m1 0h1m14 0h1m15 0h1m7 0h1m3 0h3m-64 1h1m5 0h1m9 0h1m2 0h1m18 0h1m15 0h1m1 0h2m-59 1h1m4 0h3m9 0h1m1 0h1m19 0h3m13 0h1m1 0h1m7 0h2m-78 1h1m13 0h1m1 0h2m33 0h1m1 0h1m12 0h1m20 0h1m-75 1h5m-6 1h2m38 0h1m-49 1h1m6 0h2m18 0h1m31 0h1m-59 1h1m5 0h1m1 0h1m17 0h2m19 0h1m5 0h1m-59 1h1m4 0h1m5 0h1m2 0h1m55 0h1m-70 1h1m2 0h1m28 0h1m1 0h1m-33 1h1m3 0h1m4 0h1m18 0h1m2 0h1m40 0h1m14 0h1m-87 1h6m6 0h1m57 0h2m14 0h1m-60 1h1m2 0h1m-4 1h1m1 0h1m45 0h1m10 0h1m-81 1h2m19 0h1m47 0h2m9 0h1m1 0h2m-9 1h1m4 0h2m-80 1h1m11 0h1m8 0h1m36 0h2m19 0h1m-90 1h1m3 0h1m4 0h1m12 0h2m5 0h2m-32 1h2m3 0h2m12 0h1m4 0h1m43 0h1m2 0h1m1 0h1m4 0h1m3 0h1m-18 1h1m8 0h1m6 0h1m-27 1h1m1 0h1m1 0h1m2 0h1m2 0h1m9 0h1m5 0h2m-26 1h2m4 0h2m14 0h1m7 0h1m-95 1h1m69 0h1m11 0h1m3 0h1m2 0h1m4 0h1m-34 1h1m11 0h1m8 0h1m6 0h1m-80 1h1m51 0h1m22 0h1m3 0h1m-28 1h2m1 0h1m22 0h1m-91 1h1m12 0h1m52 0h1m8 0h1m4 0h2m4 0h3m-75 1h1m48 0h2m15 0h1m16 0h1m-98 1h3m11 0h3m18 0h1m44 0h1m17 0h1m-97 1h2m20 0h2m50 0h2m3 0h1m16 0h1m-99 1h2m15 0h1m4 0h1m2 0h1m7 0h2m32 0h1m6 0h1m1 0h1m20 0h1m-85 1h1m3 0h1m1 0h2m3 0h1m8 0h2m46 0h2m7 0h1m3 0h1m2 0h1m-84 1h1m4 0h1m1 0h3m9 0h1m44 0h1m1 0h2m7 0h1m4 0h1m2 0h1m-86 1h1m1 0h1m6 0h1m66 0h1m4 0h1m2 0h1m-85 1h1m2 0h1m5 0h1m65 0h1m5 0h2m2 0h1m-89 1h1m10 0h2m72 0h2m1 0h1m3 0h1m-82 1h1m64 0h3m7 0h1m-78 1h2m64 0h1m2 0h1m7 0h1m5 0h1m-19 1h1m2 0h1m3 0h1m1 0h1m1 0h1m4 0h2m-19 1h1m2 0h1m7 0h2m-10 1h1m-36 1h1m22 0h1m2 0h1m-30 1h5m22 0h1m2 0h1m8 0h2m1 0h2m-92 1h1m46 0h1m29 0h1m15 0h2m1 0h1m1 0h1m-53 1h2m40 0h1m4 0h1m3 0h1m1 0h1m-86 1h1m4 0h1m26 0h1m39 0h1m6 0h2m-83 1h1m3 0h3m1 0h1m25 0h2m38 0h1m7 0h1m-83 1h1m4 0h1m1 0h1m31 0h1m33 0h1m8 0h3m-79 1h2m10 0h1m16 0h3m1 0h1m33 0h1m-68 1h2m20 0h1m-31 1h1m17 0h1m8 0h1m2 0h2m40 0h1m5 0h1m-78 1h1m16 0h1m5 0h1m1 0h2m42 0h1m4 0h1m7 0h1m-70 1h2m2 0h1m6 0h1m45 0h2m-58 1h1m2 0h1m6 0h1m1 0h1m42 0h1m1 0h1m7 0h1m-63 1h1m53 0h1m-70 1h1m15 0h2m2 0h1m1 0h1m45 0h1m-69 1h1m16 0h5m46 0h1m-38 1h1m21 0h1m-42 1h1m12 0h2m31 0h1m2 0h1m15 0h1m-57 1h1m1 0h2m2 0h1m30 0h1m2 0h1m16 0h1m-78 1h1m19 0h3m34 0h3m-39 1h1m4 0h1m28 0h6m-48 1h1m1 0h1m6 0h3m36 0h1m-48 1h2m29 0h1m7 0h2m-41 1h1m36 0h1m-39 1h1m14 0h1m22 0h1m-39 1h1m16 0h1m12 0h5m5 0h1m-20 1h1m16 0h1m2 0h1m-42 1h1m26 0h1m-16 1h1m9 0h2m2 0h1m-26 1h1m9 0h1m11 0h2m-12 1h2m1 1h1m17 0h1m12 0h1m-31 1h1m14 0h1m2 0h1m2 0h1m8 0h1m-30 1h1m20 0h3m0 1h1"/>
<path stroke="#0c93d2" d="M0 0m51 7h1m1 0h2m-8 1h1m8 0h1m-23 1h1m1 0h1m11 0h1m1 0h1m10 0h2m-29 1h1m6 0h1m19 0h1m-26 1h3m4 0h1m18 0h2m-39 1h1m4 0h1m6 0h2m3 0h2m18 0h1m1 0h1m1 0h1m-36 1h3m3 0h1m23 0h1m1 0h1m8 0h1m-39 1h1m2 0h2m1 0h2m18 0h3m8 0h1m1 0h1m-37 1h5m18 0h1m11 0h2m-55 1h3m15 0h3m14 0h1m2 0h1m3 0h2m8 0h1m-55 1h1m1 0h1m2 0h1m12 0h1m3 0h1m9 0h1m1 0h2m8 0h2m17 0h1m-62 1h1m3 0h1m11 0h1m9 0h3m16 0h1m-39 1h1m2 0h1m4 0h2m29 0h1m1 0h1m26 0h1m-70 1h1m3 0h1m4 0h1m31 0h1m1 0h1m-48 1h1m7 0h1m4 0h1m34 0h2m22 0h1m-71 1h1m10 0h1m-16 1h1m10 0h1m3 0h1m1 0h1m1 0h2m2 0h1m-13 1h1m11 0h1m15 0h1m22 0h1m6 0h1m-31 1h1m25 0h1m5 0h1m2 0h1m-64 1h1m11 0h2m15 0h2m19 0h1m3 0h1m5 0h1m-65 1h2m14 0h1m16 0h1m1 0h1m1 0h1m16 0h2m1 0h1m9 0h1m-67 1h1m3 0h1m11 0h1m20 0h1m11 0h1m3 0h3m1 0h3m5 0h1m-69 1h2m1 0h1m16 0h1m20 0h1m18 0h1m1 0h4m11 0h1m-74 1h1m14 0h1m23 0h1m21 0h1m11 0h1m-87 1h1m13 0h1m43 0h2m9 0h1m5 0h1m-24 1h1m16 0h1m-10 1h1m8 0h1m-13 1h1m11 0h1m-59 1h1m40 0h1m16 0h1m-67 1h1m26 0h2m-33 1h1m9 0h2m19 0h1m58 0h1m-89 1h1m7 0h2m2 0h1m17 0h2m37 0h1m4 0h1m-74 1h1m6 0h3m21 0h1m36 0h1m1 0h1m-70 1h4m1 0h2m69 0h1m-78 1h1m5 0h3m3 0h1m64 0h1m-69 1h3m17 0h1m48 0h1m9 0h1m-87 1h1m4 0h2m72 0h1m7 0h1m-89 1h1m27 0h1m59 0h1m-92 1h1m8 0h1m80 0h1m1 0h1m-94 1h1m7 0h2m57 0h2m4 0h1m16 0h1m-91 2h1m56 0h1m3 0h1m19 0h1m7 0h1m-96 1h1m6 0h1m54 0h2m2 0h1m2 0h1m12 0h1m5 0h1m6 0h1m-35 1h1m2 0h2m3 0h1m-68 1h1m5 0h1m53 0h1m5 0h2m11 0h1m4 0h1m1 0h1m-89 1h1m62 0h1m1 0h3m6 0h1m11 0h1m1 0h1m-89 1h1m9 0h1m53 0h1m13 0h1m6 0h3m7 0h1m-97 1h2m73 0h1m20 0h1m-98 1h3m10 0h1m62 0h1m21 0h1m-86 1h1m63 0h1m-66 1h1m3 0h1m-3 1h2m7 0h2m52 0h1m3 0h1m16 0h1m-97 1h2m8 0h1m1 0h3m60 0h1m2 0h1m10 0h1m1 0h1m4 0h1m-87 1h2m1 0h2m3 0h1m58 0h1m10 0h1m2 0h1m-83 1h1m1 0h1m1 0h2m3 0h1m71 0h1m4 0h2m-89 1h2m1 0h2m73 0h1m3 0h1m9 0h2m-92 1h3m72 0h1m5 0h1m-84 1h1m2 0h1m74 0h1m5 0h1m-10 1h1m8 0h1m7 0h1m-89 1h2m69 0h1m7 0h1m7 0h2m-87 1h1m66 0h2m-68 1h1m66 0h1m-67 1h1m32 0h1m23 1h2m11 0h1m-71 1h1m31 0h1m48 0h1m-82 1h1m31 0h1m43 0h2m-85 1h1m2 0h2m30 0h1m44 0h1m2 0h2m-78 1h1m72 0h1m2 0h1m-78 1h1m28 0h1m49 0h2m-88 1h1m38 0h1m45 0h1m-87 1h1m21 0h1m2 0h1m50 0h1m5 0h1m-57 1h1m44 0h1m-73 1h1m25 0h1m45 0h2m6 0h1m4 0h3m-63 1h1m2 0h2m51 0h1m5 0h2m-74 1h1m9 0h1m3 0h1m42 0h1m-57 1h1m3 0h2m4 0h1m2 0h1m42 0h1m9 0h1m-61 1h2m49 0h1m8 0h1m4 1h1m-6 2h1m-78 1h1m23 0h2m32 0h2m-61 1h1m23 0h1m1 0h2m-28 1h2m21 0h2m1 0h1m-25 1h1m12 0h1m34 0h1m5 0h1m1 0h4m7 0h1m3 0h1m-27 1h2m-19 2h1m-2 1h1m25 0h1m-37 1h1m8 0h1m5 0h1m8 0h1m4 0h1m4 0h2m-36 1h1m8 0h1m20 0h2m-37 1h1m-1 1h1m1 0h2m10 0h2m18 0h1m-35 1h2m9 0h1m3 0h1m19 0h3m-2 1h1m9 0h1m-17 1h1m5 0h1m2 0h1m-21 1h1m23 0h1m-16 1h2m13 0h1"/>
<path stroke="#0998d1" d="M0 0m52 7h1m-2 1h1m3 0h1m1 0h2m1 0h2m1 0h1m-27 1h1m7 0h1m1 0h1m8 0h1m-22 1h1m1 0h1m2 0h1m1 0h2m1 0h1m-11 1h1m3 0h1m4 0h1m16 0h1m-35 1h3m31 0h1m-38 1h1m5 0h1m7 0h1m3 0h2m29 0h1m-53 1h1m2 0h1m6 0h3m38 0h1m-54 1h3m9 0h1m2 0h1m7 0h1m1 0h1m7 0h2m5 0h1m1 0h2m8 0h1m-32 1h3m6 0h2m5 0h1m1 0h2m-26 1h1m5 0h1m4 0h4m-31 1h1m11 0h1m3 0h1m25 0h1m2 0h1m-47 1h2m5 0h2m7 0h1m30 0h1m28 0h1m-29 1h1m1 0h1m24 0h2m-74 1h1m16 0h1m5 0h1m20 0h1m-35 1h1m5 0h1m1 0h1m24 0h2m28 0h1m-57 1h1m2 0h2m22 0h2m27 0h1m-71 1h1m61 0h3m1 0h1m3 0h1m-35 1h1m10 0h1m21 0h1m-35 1h1m2 0h3m6 0h1m22 0h1m7 0h1m-77 1h1m2 0h3m12 0h1m27 0h1m1 0h1m10 0h1m5 0h3m1 0h1m6 0h1m-86 1h2m1 0h1m3 0h3m4 0h1m34 0h1m4 0h2m2 0h1m15 0h1m2 0h1m7 0h1m-87 1h1m14 0h2m11 0h1m41 0h1m6 0h1m-79 1h2m13 0h1m54 0h1m1 0h3m-17 1h1m16 1h2m1 0h1m-26 1h1m4 0h1m18 0h1m-26 1h1m37 0h1m-20 1h1m-73 1h1m71 0h1m7 0h1m-48 1h1m38 0h1m7 0h2m-7 1h1m2 0h1m-46 1h1m39 0h1m4 0h2m-76 1h1m4 0h1m2 0h1m21 0h1m47 0h1m-77 1h1m2 0h1m3 0h1m3 0h1m15 0h1m48 0h1m-73 1h1m5 0h1m3 0h1m62 0h1m2 0h1m-87 1h1m9 0h1m7 0h1m65 0h1m9 0h1m-91 1h1m2 0h1m3 0h2m5 0h1m65 0h1m9 0h1m-87 1h1m75 0h1m8 0h1m-94 1h1m71 0h1m21 0h1m-95 1h1m67 0h1m22 0h1m-92 1h1m62 0h1m11 0h2m14 0h1m3 0h1m-100 1h1m72 0h1m12 0h1m8 0h1m-95 1h1m4 0h1m55 0h1m2 0h1m20 0h2m6 0h1m-33 1h5m27 0h1m-32 1h1m32 0h1m-24 1h1m23 0h1m-89 1h1m87 0h2m-99 1h1m73 0h3m19 0h3m-99 1h1m8 0h1m65 0h2m-67 1h3m62 0h1m1 0h1m-77 1h1m7 0h2m2 0h1m61 0h3m18 0h1m-100 1h2m2 0h1m17 0h2m54 0h2m12 0h1m-82 1h1m79 0h1m-90 1h1m88 0h1m10 0h2m-103 1h1m4 0h4m81 0h1m-87 1h2m4 0h1m76 0h1m3 0h1m9 0h1m-94 1h1m83 0h1m7 0h2m-17 1h1m3 0h1m2 0h1m9 0h1m-20 1h1m17 1h1m-85 3h1m28 1h2m51 0h1m-90 1h1m89 0h1m-86 1h2m32 0h1m-41 1h1m39 0h1m39 0h1m-81 1h1m36 0h3m41 0h2m-3 1h2m1 0h1m4 0h2m-71 1h2m1 0h1m53 0h1m3 0h1m1 0h1m-65 1h1m4 0h2m56 0h3m-62 1h1m56 0h1m6 0h2m1 0h1m-72 1h1m68 0h1m-70 1h2m60 0h1m5 0h1m-87 1h1m19 0h2m1 0h1m-1 1h1m61 0h2m-92 1h2m83 0h1m-79 1h1m24 3h1m-1 1h1m31 1h1m12 0h2m-23 1h1m6 0h1m1 0h2m3 0h2m-14 1h1m1 0h3m9 0h1m9 0h1m-23 1h2m-47 1h1m21 0h1m25 0h1m-28 1h5m10 0h1m2 0h1m8 0h1m-34 1h1m5 0h2m3 0h1m13 0h1m2 0h1m3 0h2m-30 1h3m11 0h1m6 0h1m6 0h1m-30 1h2m8 0h1m2 0h1m9 0h3m-35 1h1m30 0h1m3 0h1m8 0h1m-13 1h1m1 0h2m9 0h1m-1 1h1m-29 1h1m4 0h2m1 0h2m12 0h1m3 0h2m-21 1h1"/>
<path stroke="#079ccf" d="M0 0m46 7h1m-2 1h2m7 0h1m4 0h1m2 0h1m-19 1h1m1 0h1m4 0h1m3 0h1m4 0h1m-23 1h2m4 0h1m3 0h2m5 0h2m3 0h1m-16 1h1m14 0h1m-17 1h1m15 0h1m2 0h1m-44 1h4m3 0h3m14 0h1m15 0h1m-41 1h1m1 0h2m6 0h1m11 0h3m13 0h2m-38 1h1m1 0h2m4 0h1m12 0h1m10 0h2m1 0h2m-37 1h1m11 0h1m8 0h2m1 0h3m2 0h1m-23 1h1m-6 1h3m6 0h1m6 0h1m20 0h2m-47 1h1m15 0h1m26 0h1m32 0h1m-62 1h3m24 0h1m5 0h1m-46 1h1m10 0h2m1 0h1m6 0h1m22 0h1m1 0h2m1 0h1m-36 1h1m3 0h1m4 0h1m22 0h1m4 0h1m10 0h1m-20 1h2m2 0h1m3 0h1m10 0h1m-23 1h1m1 0h2m2 0h1m4 0h1m12 0h2m-25 1h4m27 0h1m-28 1h1m27 0h1m7 0h1m-85 1h1m7 0h1m39 0h1m5 0h1m1 0h1m22 0h2m-82 1h1m12 0h2m48 0h1m16 0h2m-83 1h1m13 0h2m36 0h1m3 0h2m2 0h1m4 0h1m-7 1h2m10 0h1m2 1h1m3 0h1m-21 1h1m5 0h1m6 0h1m16 0h1m-36 2h1m36 1h1m-36 1h2m21 0h1m11 0h1m-92 1h1m54 0h1m20 0h4m10 0h1m-90 1h2m13 0h2m55 0h2m-72 1h1m10 0h1m19 0h1m45 0h1m-80 1h1m1 0h1m9 0h1m5 0h2m12 0h1m51 0h2m-86 1h1m1 0h1m3 0h1m75 0h3m-88 1h4m7 0h1m74 0h2m-88 1h2m1 0h1m7 0h1m9 0h1m-12 1h1m1 0h1m-12 1h3m7 0h2m-12 1h1m92 0h1m1 1h1m-99 1h1m72 0h1m24 0h1m-98 1h1m65 0h1m-66 1h1m58 0h1m4 0h2m12 0h1m14 0h1m-94 1h1m73 0h1m18 0h2m-96 1h1m72 0h1m1 0h2m19 0h1m-98 1h1m75 0h1m19 0h1m1 0h1m-23 1h1m18 0h2m-88 1h1m-9 2h1m6 0h1m67 0h1m-75 1h1m-1 1h1m5 0h1m-12 1h1m91 0h1m-93 1h1m3 0h1m2 0h1m2 0h1m78 0h2m-91 1h1m4 0h1m1 1h1m81 0h1m1 0h1m-86 1h3m2 0h2m78 0h1m11 0h1m-98 1h1m84 0h2m-80 1h1m1 1h1m0 1h1m0 1h1m-1 1h1m-18 1h1m48 0h1m-49 1h1m8 0h1m6 0h1m29 0h1m-47 1h1m45 0h1m-1 1h1m42 1h1m-82 1h1m75 0h1m6 0h1m3 0h2m-90 1h1m24 0h1m59 0h1m1 0h4m-70 1h1m1 0h2m55 0h1m1 0h1m3 0h1m1 0h2m1 0h1m-94 1h1m24 0h1m58 0h2m6 0h1m-93 1h3m20 0h1m2 0h1m66 0h1m-69 1h2m62 0h1m1 0h1m-66 1h1m62 0h1m-90 1h1m3 0h1m-4 1h1m88 0h1m-89 1h1m81 0h1m-79 1h1m-1 1h1m49 4h2m8 0h3m5 0h1m-5 1h1m-10 1h2m10 1h1m-55 1h1m31 0h1m-33 1h1m28 0h1m9 0h3m16 0h1m-59 1h1m4 0h1m11 0h1m22 0h2m1 0h1m-44 1h1m38 0h3m3 0h1m-46 1h1m2 0h1m22 0h2m12 0h1m6 0h1m1 0h1m-25 1h1m1 0h2m2 0h1m8 0h1m5 0h1m-21 1h5m10 0h1m-14 1h1m16 0h2m-21 1h2m1 1h1"/>
<path stroke="#06a0cd" d="M0 0m44 7h2m-7 1h1m3 0h2m7 0h2m-16 1h6m10 0h1m4 0h1m-14 1h2m2 0h1m6 0h1m1 0h1m-14 1h2m9 0h3m-4 1h2m1 0h1m-15 1h1m11 0h3m-34 1h1m2 0h1m15 0h1m8 0h1m2 0h1m-35 1h1m4 0h1m3 0h2m11 0h1m1 0h1m8 0h1m-32 1h3m1 0h3m13 0h1m-23 1h1m1 0h2m3 0h2m1 0h1m7 0h1m-11 1h2m8 0h1m-11 1h1m9 0h1m20 0h2m-23 1h1m21 0h1m-32 1h1m8 0h2m15 0h1m8 0h1m-37 1h1m30 0h1m5 0h2m-47 1h1m37 0h1m28 0h1m-31 1h1m2 0h2m33 0h1m-80 1h1m3 0h1m40 0h2m3 0h1m-54 1h1m52 0h1m21 0h1m2 0h1m3 0h1m-78 1h1m1 0h1m41 0h1m0 1h1m5 0h2m3 0h1m1 0h1m14 0h1m-28 1h1m5 0h1m19 0h3m-28 1h1m1 0h3m19 0h1m-25 1h1m16 0h1m14 0h1m-24 1h1m1 0h1m8 0h1m-12 1h1m14 0h1m-24 1h1m20 0h2m-64 1h1m40 0h1m16 0h1m3 0h2m-24 1h1m17 0h1m4 0h1m-23 1h1m16 0h3m5 1h1m4 0h1m3 0h1m-90 1h2m-1 1h1m-4 1h2m1 0h1m5 0h1m-5 2h1m2 0h2m70 0h1m-81 1h5m5 0h1m-12 2h1m19 0h1m74 0h1m-96 1h2m92 0h2m-97 1h1m94 0h1m-95 1h3m61 0h1m13 0h1m17 0h2m-4 1h1m-91 1h1m72 0h1m17 0h1m-90 1h1m66 0h1m-68 1h1m66 0h1m-76 1h1m7 0h1m65 0h1m-68 2h2m-2 1h1m-5 1h6m-6 1h2m1 0h2m-6 1h1m4 0h1m91 0h1m-98 1h2m1 0h2m-8 1h1m86 0h2m-1 1h1m12 0h1m-12 1h1m-86 1h1m6 2h1m87 1h1m-92 3h1m5 0h1m69 0h1m13 0h1m-54 1h1m-47 1h1m84 0h1m-87 1h1m1 0h1m45 0h1m-48 1h2m-2 1h2m82 0h1m-85 1h1m84 0h1m11 0h1m-94 1h1m82 0h1m5 0h1m2 0h1m-70 1h2m-28 1h1m26 0h2m58 0h1m7 0h1m-93 1h4m20 0h1m-26 1h2m1 0h1m87 0h2m-95 1h3m1 0h2m88 0h1m-90 1h3m0 1h1m83 0h1m-27 6h1m-8 1h1m5 0h4m-50 1h1m40 0h1m5 0h1m3 0h1m-5 1h1m3 0h2m-17 1h1m10 0h1m10 0h1m2 0h1m-15 1h1m-35 1h1m33 0h2m3 0h1m-51 1h1m17 0h1m24 0h1m1 0h1m2 0h3m-33 1h1m23 0h1m4 0h1m-37 1h1m15 0h1m7 0h1m-27 1h1m10 0h1m2 1h1m2 0h1m-3 2h1m2 0h3"/>
<path stroke="#06a4ca" d="M0 0m43 7h1m-4 1h3m9 1h1m4 0h2m-5 1h1m3 0h1m-11 1h1m4 0h4m-12 1h3m6 0h2m2 0h1m-5 1h3m-30 1h2m23 0h2m1 0h2m-31 1h2m1 0h1m16 0h1m1 0h1m2 0h1m-29 1h2m7 0h2m-10 1h1m7 0h1m27 2h2m0 1h1m-1 1h1m-22 1h1m24 0h2m26 0h1m-36 1h1m7 0h3m-51 1h1m46 0h1m2 0h1m-3 1h2m-54 1h1m4 0h1m44 0h1m1 0h2m-3 1h2m-1 1h1m1 0h1m27 0h1m-30 1h2m2 0h1m2 0h1m1 0h1m-9 1h1m9 0h1m-11 1h3m5 0h1m8 0h2m5 1h1m-18 1h1m8 0h1m2 0h1m12 0h2m-33 1h2m13 0h1m3 0h1m-60 1h1m40 0h1m15 1h1m2 0h1m-78 2h1m-1 1h1m84 0h3m-88 1h1m-3 1h1m16 0h1m4 0h1m-19 1h1m4 0h2m9 0h1m-17 1h1m17 0h1m-23 1h1m-1 1h1m-2 1h1m22 0h1m58 0h1m-83 1h1m72 0h1m4 0h1m-78 1h1m94 0h1m-2 1h2m-94 1h2m73 0h1m17 0h2m-94 1h1m67 0h1m24 0h1m-97 1h1m95 0h1m-98 1h1m72 0h1m0 1h1m-75 2h1m0 1h1m2 0h2m-2 2h1m-11 1h1m7 0h4m-11 1h1m-2 1h2m-3 2h1m7 0h1m-1 1h1m3 0h2m1 0h1m-7 1h1m8 2h1m0 1h1m-1 1h1m-16 1h1m83 0h1m-84 1h1m6 0h1m4 0h3m32 0h1m-47 1h1m5 0h1m38 0h2m-2 1h1m-40 1h1m75 0h1m-83 2h1m2 0h1m81 0h2m-86 1h1m-2 1h3m-2 1h1m-2 1h3m92 0h1m-96 1h2m2 0h1m90 0h1m-90 3h2m-2 1h1m1 0h1m-1 1h1m80 1h1m-21 4h3m-5 1h3m1 0h1m2 0h1m-8 1h3m-38 1h1m34 0h1m8 0h1m1 0h2m-13 1h1m4 0h2m-30 1h1m6 0h1m18 0h1m-6 1h1m2 0h1m-48 1h1m23 0h1m4 0h1m-5 1h1m4 0h1m11 0h1m-22 1h2m3 0h1m24 0h1m-28 2h3m-2 1h2"/>
<path stroke="#06a7c6" d="M0 0m53 9h1m-3 1h2m-4 1h2m1 0h1m0 1h1m-8 1h1m-1 1h2m1 1h2m32 3h1m7 1h1m-33 1h1m31 0h1m-33 1h1m31 0h1m-33 1h1m0 1h1m6 1h2m-3 1h1m27 0h1m-72 1h1m42 0h1m-52 1h1m4 0h1m47 0h2m-2 1h1m7 1h1m19 0h1m-20 1h1m16 0h3m-4 1h1m-19 1h1m10 0h1m-1 1h2m15 0h1m-17 1h2m-21 1h1m18 0h1m1 1h1m-62 3h1m68 0h1m-86 1h1m14 1h1m-12 1h1m15 0h1m61 1h1m0 3h1m-13 3h1m4 0h1m-76 2h1m73 0h1m-72 1h1m91 0h1m-93 1h1m91 0h1m-99 1h1m5 0h1m-7 1h1m6 0h1m-3 1h1m-4 1h2m95 1h1m-2 1h2m-1 1h1m-101 2h1m-6 1h1m1 0h1m3 0h1m3 2h1m2 0h1m-7 1h1m7 1h1m0 1h1m82 0h1m-83 1h1m-16 1h1m10 0h3m-12 1h1m6 0h1m6 0h1m-14 1h1m81 0h1m0 1h1m-83 1h1m4 0h1m-5 1h1m2 0h1m-5 1h2m1 0h1m-3 1h1m88 3h1m-2 5h1m-84 1h1m82 0h1m-33 6h1m13 1h2m3 0h1m-18 1h1m12 0h2m2 0h1m-8 1h5m-32 2h1m24 0h2m-50 1h1m6 0h1m12 2h1m4 0h1m6 0h1m-9 1h1m0 1h2"/>
<path stroke="#07a9c2" d="M0 0m53 10h1m-3 1h1m-4 1h1m3 0h1m-6 1h1m5 0h1m29 6h1m-24 1h1m20 1h1m-21 1h1m28 0h1m-71 1h1m61 0h1m-5 6h1m-4 1h1m17 0h1m-19 1h1m2 0h2m19 0h1m-32 1h1m18 0h1m6 0h1m6 0h1m-33 1h1m30 0h1m-15 1h1m15 0h2m-34 1h1m17 0h1m13 2h1m-91 1h1m89 0h1m-91 1h1m18 1h1m-1 1h1m-16 2h1m75 1h1m-61 2h1m49 1h1m-1 3h1m25 0h1m-1 1h1m-97 1h4m-5 1h1m3 0h1m0 2h1m-3 1h1m93 2h1m-102 5h1m-4 1h1m-1 1h1m2 0h1m-3 1h1m7 0h1m4 0h1m84 1h1m3 0h1m-92 2h5m-5 1h1m3 0h2m-13 1h1m4 0h1m5 0h1m73 0h1m-85 2h1m2 2h1m-4 2h1m88 3h1m-8 12h1m-12 2h1m-5 1h1m6 0h1m-8 1h4m-21 2h1m12 1h1m7 1h1m-28 1h2m26 0h1"/>
<path stroke="#0aacbe" d="M0 0m49 12h1m2 1h1m12 0h1m-18 1h1m16 0h1m-22 3h1m36 0h1m-21 3h1m20 0h1m-23 1h2m20 0h1m-23 1h1m24 1h1m-64 4h1m53 3h1m17 1h1m-26 1h1m-2 1h1m1 0h2m-4 1h1m-40 1h1m73 0h1m-75 1h2m66 0h1m-69 1h2m69 1h2m-91 2h1m15 0h2m3 4h1m59 1h1m-10 6h1m-70 2h1m-4 1h1m-1 1h2m-2 1h2m95 0h1m-101 7h1m-6 2h1m1 0h1m8 1h2m-5 1h2m3 1h1m1 0h2m-5 1h1m87 0h1m4 0h1m-88 2h1m-12 1h1m0 1h1m2 0h1m-3 1h3m15 20h1m8 1h1m38 0h1m-41 1h1m26 0h1m17 0h1m-47 1h1m1 1h1m-1 1h1m20 0h1m4 0h1m10 2h1m-36 1h1"/>
<path stroke="#0faeb9" d="M0 0m50 12h2m-4 1h1m2 0h1m-1 1h1m29 5h1m-64 1h1m62 0h1m12 0h1m-1 1h1m-77 1h1m65 1h1m2 0h2m6 0h1m-1 3h1m-18 4h1m21 0h1m-6 1h1m-26 1h2m28 0h1m-3 2h1m2 0h1m-4 1h1m1 0h1m-2 2h1m-4 9h1m-13 3h1m-1 2h1m-73 2h1m1 1h2m-3 1h3m-3 1h1m-5 7h1m-5 1h1m10 2h2m-5 1h1m4 0h1m86 0h1m-93 1h3m1 0h1m-4 1h1m-6 1h1m4 0h1m-4 2h1m0 1h2m81 1h1m-1 2h1m1 10h1m-4 2h1m-3 5h1m-53 3h1m20 0h2m0 2h1m12 1h1m-37 1h1m22 0h2"/>
<path stroke="#15b1b4" d="M0 0m49 13h2m-2 1h2m15 0h1m-25 4h1m47 1h1m-69 3h1m59 0h1m-65 1h1m64 0h1m2 0h1m7 0h1m-73 1h1m-6 3h1m79 0h1m-22 5h1m16 1h1m-2 1h1m-22 2h1m24 2h1m-64 6h1m-3 1h1m1 0h1m52 2h2m-5 1h1m2 0h1m-4 2h3m0 1h1m-74 2h1m-2 1h2m0 13h4m-6 1h1m94 0h1m-99 1h1m3 0h1m-7 1h2m4 0h1m-4 1h1m2 0h1m-1 1h1m78 0h1m2 3h1m-3 13h1m-7 3h1m-21 2h1m23 0h1m-18 6h1m-35 2h1m32 0h1"/>
<path stroke="#1db3af" d="M0 0m67 13h1m-25 5h1m37 0h1m1 3h1m13 1h1m0 1h1m0 1h1m-83 2h1m0 1h1m81 0h1m-4 3h1m-22 1h1m18 1h1m3 1h1m0 1h1m-9 1h1m9 1h1m-8 1h1m2 1h1m-67 3h1m63 2h1m-4 2h1m-7 3h1m21 9h1m-103 7h1m2 1h1m-2 3h1m1 0h1m-4 1h1m3 0h1m93 0h1m-97 1h1m0 1h2m79 0h1m-81 1h1m82 1h1m-4 1h1m4 6h1m2 5h1m-9 3h1m-25 5h1m-20 3h1m13 1h1m-11 3h1m19 0h1m2 0h1m-39 1h1"/>
<path stroke="#25b5a9" d="M0 0m42 17h1m39 0h1m-61 6h1m74 0h1m-1 6h1m-2 8h1m-3 7h1m-1 1h1m-11 2h2m-1 2h1m24 6h1m-1 2h1m-105 7h1m2 2h2m1 4h1m87 16h1m-72 8h1m33 2h1m-34 1h1m32 2h1m11 0h1m5 0h1"/>
<path stroke="#2eb7a4" d="M0 0m84 18h1m-41 2h1m45 0h1m4 0h1m-76 2h2m61 0h1m10 2h1m4 2h1m-3 6h1m1 0h1m-5 1h1m2 0h1m0 1h1m-1 1h1m-7 8h1m1 0h1m0 2h1m-87 19h1m-1 4h1m-1 1h2m-1 1h1m82 2h1m-2 4h2m-67 19h1m10 1h1m48 0h1m-61 1h1m20 0h1m1 0h1m9 0h1m-9 1h1m-1 1h1m-2 1h1m21 0h1"/>
<path stroke="#38b99e" d="M0 0m82 19h1m0 1h1m0 2h1m10 0h1m-74 4h1m75 1h1m0 3h1m-4 2h1m0 1h1m4 2h1m-5 1h2m-3 2h1m-14 10h1m1 1h1m-81 16h1m3 2h1m-3 1h1m-3 1h2m89 16h1m-70 9h1m58 0h1m-60 2h1m35 0h1m21 0h1m-49 1h1m23 0h1m-14 1h1m11 1h1m-25 1h1"/>
<path stroke="#42bb98" d="M0 0m42 19h1m0 1h1m52 3h1m-78 4h1m78 3h1m-1 2h1m-3 1h1m0 2h1m3 0h1m-8 1h1m5 0h1m-6 8h1m-1 1h1m-11 3h1m21 21h1m-1 1h1m-16 5h1m2 13h1m-6 3h1m-61 4h1m-1 1h1m-2 1h1m20 0h1m30 0h1m-21 1h1m-13 1h1m12 0h1m11 2h2"/>
<path stroke="#4dbc92" d="M0 0m87 17h1m-44 1h1m-3 2h1m52 4h1m1 0h1m-76 1h1m74 1h1m-4 7h1m-2 1h1m2 10h1m-65 1h1m54 4h1m-1 1h1m16 17h1m1 0h1m-100 1h1m86 7h1m3 5h1m1 1h1m-4 6h1m-10 4h1m-60 4h1m10 0h1m9 1h2m33 0h1m1 0h1m-37 2h1m-14 2h2m10 0h1"/>
<path stroke="#59bd8c" d="M0 0m82 16h1m-40 1h1m38 1h1m-40 1h1m-26 2h1m80 4h1m0 3h1m-4 9h1m-12 13h1m-79 14h2m-4 2h1m99 2h1m-13 5h1m-1 1h1m-2 15h1m-3 2h1m-5 1h1m3 0h1m-8 4h1m-23 2h1m1 0h1m-1 1h1m-14 1h1"/>
<path stroke="#65be86" d="M0 0m89 19h1m-1 1h1m9 7h1m-4 9h1m4 0h1m-2 1h2m-9 7h1m16 12h1m-103 10h1m-3 2h1m99 2h1m-14 4h1m-2 15h1m-4 3h1m-8 8h1"/>
<path stroke="#71bf80" d="M0 0m44 19h1m50 2h1m-11 1h2m9 0h1m-79 2h1m-3 1h1m2 1h1m76 0h1m3 3h1m-4 5h1m-5 1h1m1 1h1m-87 29h1m-3 1h1m-2 1h1m2 0h1m83 8h1m-5 16h1m-3 2h1m-24 4h1m16 1h1"/>
<path stroke="#7cbf7b" d="M0 0m86 19h1m-66 4h1m-6 1h1m81 1h1m-1 12h1m-91 28h1m81 29h1m-62 2h1m7 2h1m37 2h1"/>
<path stroke="#87bf77" d="M0 0m87 18h1m-2 2h1m0 2h1m-70 3h1m76 9h2m1 53h1m-11 10h1m-37 1h1"/>
<path stroke="#92bf73" d="M0 0m66 13h1m18 6h1m-69 1h1m69 0h1m-2 1h1m-66 5h1m72 8h1m0 1h2m-89 32h1m95 1h1m-17 26h1m-7 3h1"/>
<path stroke="#9cbf6f" d="M0 0m85 18h1m2 0h1m-5 2h1m-69 1h2m79 4h1m6 44h1m-11 20h1m-6 5h1m-7 3h1m-47 2h1m12 0h1m1 0h1"/>
<path stroke="#a5be6b" d="M0 0m89 18h1m-74 2h1m68 0h1m-70 2h1m78 3h1m9 43h1m-16 24h1m-41 6h1m0 1h1"/>
<path stroke="#aebe67" d="M0 0m84 19h1m11 2h1m-81 2h1m77 12h1m5 47h1m-3 4h1m-11 7h1"/>
<path stroke="#b7bd64" d="M0 0m84 21h1m2 0h1m-71 1h1m-1 2h1m-1 1h1m91 31h1m-103 11h1m97 2h1m-9 12h1m-1 1h1m-14 15h1m-1 2h1"/>
<path stroke="#c0bc60" d="M0 0m87 19h1m-3 2h1m-69 2h1m0 3h1m79 3h2m8 25h1m-71 44h1"/>
<path stroke="#c8bc5d" d="M0 0m98 28h2m-16 70h1m-47 1h1m43 0h1"/>
<path stroke="#d1bb59" d="M0 0m88 20h1m-1 1h1m10 60h1m-18 17h1m2 0h1"/>
<path stroke="#d9ba56" d="M0 0m85 97h3m-5 1h1m2 0h2m-5 1h1"/>
<path stroke="#e1b952" d="M0 0m89 93h1"/>
<path stroke="#e9b94e" d="M0 0m88 19h1m19 36h2"/>
<path stroke="#f1b94a" d="M0 0m90 93h1"/>
<path stroke="#fdbe3d" d="M0 0m86 18h1"/>
<path stroke="#ffc337" d="M0 0m96 24h1m-1 1h1"/>
<path stroke="#fec832" d="M0 0m98 81h1m0 1h1"/>
<path stroke="#f9fb0e" d="M0 0m55 7h1m-30 5h1m-2 1h2m-2 1h1m-8 2h1m9 0h1m26 0h1m24 0h2m-64 1h1m8 0h2m7 0h3m16 0h1m27 0h4m-70 1h1m9 0h3m6 0h4m14 0h3m13 0h2m-45 1h2m1 0h1m7 0h3m13 0h4m12 0h1m5 0h1m3 0h1m-54 1h2m1 0h1m7 0h3m14 0h1m15 0h1m1 0h1m1 0h2m-49 1h1m9 0h2m17 0h1m15 0h1m2 0h1m2 0h1m9 0h2m1 0h1m-68 1h3m1 0h1m2 0h1m6 0h2m16 0h2m14 0h2m2 0h3m8 0h2m1 0h2m-68 1h1m1 0h1m3 0h3m24 0h1m18 0h4m8 0h1m1 0h2m-73 1h2m3 0h1m1 0h1m3 0h5m38 0h2m2 0h3m1 0h1m7 0h3m-73 1h2m3 0h1m1 0h1m1 0h2m2 0h3m38 0h2m1 0h1m5 0h1m1 0h1m-62 1h4m5 0h3m47 0h1m1 0h1m-52 1h1m40 0h4m3 0h1m2 0h1m5 1h1m-2 1h2m-72 2h1m68 0h1m1 0h1m4 0h3m-79 1h2m69 0h1m-72 1h1m40 0h1m21 0h1m5 0h2m-72 1h2m-3 1h1m1 0h1m68 0h1m-2 1h1m14 0h1m-88 1h1m65 1h2m8 0h2m1 0h1m-14 1h2m6 0h1m3 0h3m4 0h3m-46 1h1m3 0h1m26 0h2m1 0h2m2 0h2m2 0h5m-87 1h1m43 0h1m36 0h5m-87 1h3m80 0h3m-85 1h1m82 0h2m-84 1h1m81 0h2m-93 1h1m7 0h1m65 0h3m-3 1h1m15 0h1m-92 1h1m4 0h1m64 0h1m18 0h2m2 0h1m-91 1h1m10 0h2m32 0h1m21 0h1m20 0h1m-87 1h1m7 0h2m34 0h1m38 0h1m-91 1h1m1 0h1m2 0h1m-4 1h1m2 0h1m82 0h1m-87 1h1m77 0h4m4 0h1m3 0h6m-15 1h2m8 0h2m2 0h1m-14 1h1m4 2h1m8 0h3m-12 1h1m8 0h4m-3 1h2m-103 1h1m99 0h3m-103 1h1m1 0h4m71 0h1m21 0h4m-104 1h1m2 0h1m1 0h1m67 0h1m3 0h2m22 0h3m-98 1h1m70 0h3m22 0h2m-103 1h1m8 0h1m1 0h1m64 0h4m21 0h1m-26 1h4m10 0h2m-78 1h1m63 0h2m10 0h1m-46 1h1m32 0h2m9 0h2m1 0h1m-49 1h2m43 0h1m3 0h1m-50 1h3m44 0h1m1 0h5m-77 1h1m23 0h2m43 0h2m5 0h1m-88 1h1m10 0h1m71 0h1m3 0h4m-90 1h1m1 0h2m75 0h3m6 0h1m-99 1h1m7 0h1m3 0h2m75 0h3m1 0h1m5 0h2m-101 1h1m9 0h1m1 0h1m77 0h1m8 0h1m-100 1h1m1 0h1m2 0h1m63 0h3m20 0h1m6 0h1m-99 1h1m2 0h1m1 0h1m59 0h2m1 0h3m26 0h2m-94 1h1m1 0h1m58 0h4m23 0h1m-88 1h1m20 0h1m41 0h1m23 0h1m-92 1h1m1 0h1m1 0h2m21 0h1m48 0h1m-73 1h1m1 0h1m1 0h1m16 0h1m-24 1h1m3 0h4m25 0h3m11 0h1m-43 1h1m2 0h1m24 0h1m1 0h1m11 0h1m-44 1h1m1 0h1m1 0h1m24 0h2m12 0h1m18 0h1m12 0h3m5 0h1m-84 1h1m1 0h1m42 0h1m15 0h2m12 0h3m4 0h4m-84 1h1m2 0h1m37 0h1m1 0h1m16 0h1m12 0h1m1 0h2m3 0h4m-82 1h3m38 0h1m16 0h2m11 0h1m1 0h2m1 0h1m2 0h1m-80 1h3m1 0h1m2 0h2m23 0h2m24 0h2m13 0h2m-74 1h2m2 0h1m1 0h2m20 0h1m3 0h1m37 0h1m2 0h1m1 0h1m-73 1h1m2 0h2m20 0h2m2 0h1m37 0h2m4 0h2m-74 1h1m24 0h1m2 0h2m36 0h1m4 0h3m-71 1h1m1 0h2m16 0h1m1 0h2m2 0h1m1 0h1m34 0h1m1 0h5m-69 1h2m1 0h2m14 0h2m12 0h1m21 0h3m6 0h5m-70 1h6m16 0h1m31 0h1m2 0h3m1 0h1m-62 1h1m1 0h3m52 0h2m-59 1h1m3 0h1m35 0h2m1 0h2m12 0h1m-51 1h1m9 0h1m22 0h3m-37 1h2m1 0h1m18 0h2m-22 1h1m21 0h1m7 0h1m1 0h4m-13 1h2m5 0h1m-30 1h1m7 0h1m10 0h2m-15 1h4m-5 1h6m16 0h1m5 0h1m7 0h2m-37 1h4m17 0h1m-21 1h2m4 0h5m9 0h1m1 0h1m-5 1h2"/>
</g></svg>
<path d="M983.77 1097.7v-5.4M983.77 663.2v5.4M886.2 739.53h5.4M1441.6 739.53h-5.4M1083.84 1097.7v-5.4M1083.84 663.2v5.4M886.2 817.82h5.4M1441.6 817.82h-5.4M1183.91 1097.7v-5.4M1183.91 663.2v5.4M886.2 896.11h5.4M1441.6 896.11h-5.4M1283.99 1097.7v-5.4M1283.99 663.2v5.4M886.2 974.4h5.4M1441.6 974.4h-5.4M1384.06 1097.7v-5.4M1384.06 663.2v5.4M886.2 1052.68h5.4M1441.6 1052.68h-5.4" stroke="#262626" stroke-width="1" fill="none" opacity=".75"/>
<rect x="886.2" y="663.2" width="555.4" height="434.5" fill="none" stroke="#262626" stroke-width="1" opacity=".55"/>
<text class="t" text-anchor="middle" x="983.77" y="1134.1">20</text>
<text class="t" text-anchor="end" x="876.7" y="751.33">20</text>
<text class="t" text-anchor="middle" x="1083.84" y="1134.1">40</text>
<text class="t" text-anchor="end" x="876.7" y="829.62">40</text>
<text class="t" text-anchor="middle" x="1183.91" y="1134.1">60</text>
<text class="t" text-anchor="end" x="876.7" y="907.91">60</text>
<text class="t" text-anchor="middle" x="1283.99" y="1134.1">80</text>
<text class="t" text-anchor="end" x="876.7" y="986.2">80</text>
<text class="t" text-anchor="middle" x="1384.06" y="1134.1">100</text>
<text class="t" text-anchor="end" x="876.7" y="1064.48">100</text>
<text class="l" text-anchor="middle" x="1163.9" y="1172">Pixels</text>
<text class="l" text-anchor="middle" transform="translate(822.2 880.45) rotate(-90)">Pixels</text>
<rect x="1453.4" y="663.2" width="25.6" height="434.5" fill="url(#pg)" stroke="#262626" stroke-width="1" stroke-opacity=".6"/>
<text class="cb" x="1487" y="1108.5">0</text>
<text class="cb" x="1487" y="963.3">500</text>
<text class="cb" x="1487" y="818.1">1000</text>
<text class="cb" x="1487" y="672.9">1500</text>
<path d="M1479 952.87h-4M1479 808.03h-4" stroke="#262626" stroke-width="1" fill="none" opacity=".8"/>
<text class="c" text-anchor="middle" x="1181.6" y="1262.9" font-size="53"><tspan dy="-0.2">(</tspan><tspan class="b" font-size="55" dy="0.2" dx="-0.5">e</tspan><tspan dy="-0.2" dx="-0.5">)</tspan></text>
<!-- panel f -->
<svg class="hm" x="1675" y="663.2" width="555.3" height="434.5" viewBox="0 0 111 111" preserveAspectRatio="none" shape-rendering="crispEdges"><g transform="translate(0 .5)">
<rect y="-.5" width="111" height="111" fill="#352a87"/>
<path stroke="#3637a0" d="M0 0m27 17h1m9 0h1m-11 1h1m42 0h1m-17 1h2m1 0h1m-31 1h1m27 0h1m19 0h2m-38 1h1m36 0h1m2 0h1m12 0h1m-64 1h1m28 0h1m-28 1h1m46 0h1m0 1h1m10 0h1m-14 1h1m0 2h1m17 4h2m-10 5h1m3 2h1m-11 1h1m7 0h1m3 0h1m1 0h1m-39 1h1m43 1h1m-17 4h1m13 1h1m-2 1h1m-77 2h1m73 0h1m-89 1h1m90 2h1m3 1h1m-14 1h1m4 3h1m-87 3h1m93 0h1m-24 1h1m24 0h1m-25 1h1m-1 1h1m-2 1h1m2 0h1m-35 2h1m-1 1h1m48 1h1m-2 2h1m-3 1h1m-79 2h1m56 1h1m-69 1h1m64 0h1m0 1h3m24 0h1m-92 2h1m6 2h1m1 0h1m-3 1h1m2 0h1m80 2h1m-43 1h1m1 0h1m32 0h1m4 0h2m-73 2h1m64 0h1m-72 1h1m26 0h1m-26 1h1m24 0h1m41 0h1m-63 3h1m18 0h1m-20 1h3m54 0h1m-55 1h1m36 1h1m15 0h1m-42 9h1"/>
<path stroke="#353dad" d="M0 0m26 12h1m-1 1h1m-2 1h1m2 2h1m52 0h1m-54 1h1m7 0h1m1 0h1m16 0h1m-28 1h2m6 0h1m18 0h2m14 0h1m-45 1h1m2 0h1m8 0h1m16 0h1m19 0h1m-49 1h1m1 0h1m7 0h3m30 0h1m1 0h1m-46 1h1m9 0h1m34 0h1m-49 1h1m1 0h1m4 0h1m6 0h1m17 0h1m15 0h1m3 0h1m10 0h1m3 0h1m-68 1h1m6 0h2m24 0h1m18 0h1m2 0h1m8 0h1m1 0h2m-68 1h1m1 0h1m3 0h5m56 0h1m-68 1h1m3 0h2m3 0h2m38 0h1m10 0h1m-53 1h3m49 0h1m-52 1h1m40 0h2m5 0h1m7 2h1m0 2h1m-72 1h1m-1 1h1m40 0h1m21 0h1m-64 2h1m68 0h1m-8 3h1m12 0h1m-13 1h1m11 0h1m5 0h1m1 0h1m-42 1h1m26 0h2m1 0h2m2 0h2m5 0h2m-86 2h1m-2 1h1m82 0h1m-83 1h1m81 0h1m-84 1h1m66 0h1m-7 2h1m18 0h1m3 0h1m-80 1h2m32 0h1m21 0h1m-58 1h1m35 0h1m-52 1h1m1 1h1m2 0h1m82 0h1m-8 1h1m1 0h1m12 0h1m-14 1h1m9 0h1m-5 3h1m8 0h1m1 0h1m-1 1h2m-3 1h2m-3 1h1m1 0h1m-101 1h1m1 0h1m-1 1h1m67 0h1m27 0h1m-25 1h1m-77 1h1m8 0h1m1 0h1m64 0h1m1 0h1m22 0h1m-12 1h2m-78 1h1m63 0h1m11 0h1m-13 1h1m13 0h1m-4 1h1m3 0h1m-50 1h2m45 0h1m1 0h1m1 0h3m-77 1h1m23 0h2m43 0h2m5 0h1m0 1h1m-7 1h1m-80 1h2m76 0h2m-82 1h1m-6 1h1m86 0h1m6 0h1m-96 1h1m62 0h1m2 0h2m-2 1h1m-64 1h1m-3 1h1m1 0h1m22 0h1m-24 1h1m1 0h1m1 0h1m16 0h1m-24 1h1m5 0h1m27 0h2m-3 1h1m1 0h1m-32 1h1m1 0h1m1 0h1m24 0h2m46 0h1m-78 1h1m44 0h1m15 0h2m12 0h1m-74 1h1m59 0h1m14 0h1m-74 1h1m1 0h1m38 0h1m16 0h1m14 0h1m2 0h1m-77 1h2m2 0h1m28 0h1m-26 1h1m62 0h1m-64 1h1m24 0h1m38 0h1m-68 1h1m24 0h1m3 0h1m36 0h1m-62 1h2m18 0h1m-21 1h1m1 0h1m16 0h1m34 0h1m1 0h1m-55 1h1m17 0h1m31 0h1m2 0h1m1 0h1m1 0h1m-62 1h1m1 0h2m53 0h1m-58 1h1m39 0h1m2 0h2m-38 1h1m32 0h2m-36 1h2m1 0h1m18 0h1m-21 1h1m21 0h1m12 0h1m-6 1h1m-11 1h2m-15 1h2m1 0h1m0 1h1m16 0h1m13 0h2m-35 2h1m18 0h1m-2 1h1"/>
<path stroke="#3243ba" d="M0 0m25 13h1m29 3h1m27 1h1m-47 1h3m14 0h1m-27 1h1m9 0h1m1 0h1m29 0h1m9 0h1m-24 2h1m31 0h2m-65 1h1m13 0h1m33 0h1m3 0h2m9 0h1m1 0h1m-65 1h1m51 0h1m-6 1h2m2 0h1m1 0h1m1 0h1m8 0h1m-71 1h1m5 0h1m5 0h1m41 0h1m7 0h1m-60 1h4m55 0h1m-7 1h1m7 0h1m5 1h1m-1 1h1m-72 2h1m68 0h1m8 0h1m-78 1h1m69 0h1m-3 1h2m-72 1h2m-3 1h1m-3 2h1m66 1h1m9 0h1m-76 3h1m43 0h1m-46 1h2m65 3h1m-1 1h1m-71 1h1m-3 1h1m87 0h1m-87 1h1m-3 1h1m-4 2h1m77 0h1m1 0h1m5 0h1m3 0h1m1 0h2m1 0h1m-14 1h1m9 0h1m4 3h1m-2 1h2m-1 2h1m-102 1h1m2 0h1m73 0h1m22 0h3m-101 1h1m74 0h1m24 0h1m-98 1h1m72 0h1m22 0h2m-24 1h1m-3 1h2m0 1h1m-1 1h1m9 0h2m-47 1h1m1 1h1m-37 2h1m10 0h1m75 0h1m-87 1h1m1 0h2m75 0h1m-82 1h1m80 0h1m3 0h1m-4 1h1m8 0h1m-30 1h2m-66 1h1m62 0h1m29 0h1m-94 1h1m1 0h1m19 1h1m41 0h1m23 0h1m-87 1h1m70 0h1m-71 2h1m28 0h1m13 0h1m-1 1h1m-1 1h1m18 0h1m12 0h2m-75 1h1m73 0h2m-73 1h1m69 0h1m-71 1h1m57 0h1m11 0h1m2 0h1m-73 1h1m4 0h1m24 0h1m25 0h2m14 0h1m-74 1h1m3 0h1m1 0h1m25 0h1m40 0h1m1 0h1m-70 1h1m22 0h1m2 1h1m44 0h1m-71 1h1m19 0h1m2 0h1m2 0h1m1 0h1m34 0h1m-59 1h1m51 0h1m-58 1h1m4 0h1m52 1h1m-55 1h1m12 1h1m24 0h1m-14 1h1m8 1h1m1 0h3m-12 1h2m-16 1h1m-1 1h1m24 1h1m-7 1h1m-14 1h1m14 0h1m-5 1h1"/>
<path stroke="#06a4ca" d="M0 0m17 29h1m-1 1h1m-1 1h2m42 59h3m-1 1h2"/>
<path stroke="#06a7c6" d="M0 0m16 29h1m1 0h1m-3 1h1m1 0h1m-3 1h1m2 0h1m-3 1h3m11 4h2m-4 33h2m-2 1h2m-2 1h2m28 8h1m1 0h2m-2 1h2m-2 1h2m1 0h2m-6 1h6m-5 1h2m-1 1h1m-4 1h1m-2 1h1m2 3h2m-3 1h1m3 0h1m-3 1h1m1 1h1"/>
<path stroke="#07a9c2" d="M0 0m76 18h1m5 10h1m-64 1h1m-6 1h2m3 0h1m-5 1h1m0 1h1m5 0h1m-6 1h3m37 0h1m-27 2h2m25 0h2m-27 1h1m-2 1h1m23 0h1m18 3h2m-3 1h3m-26 1h2m1 1h2m-2 1h2m3 0h1m14 0h1m-21 1h2m2 0h2m-5 1h1m2 0h1m-1 1h1m-32 2h3m30 1h2m-2 1h2m-2 1h3m-2 1h2m-3 1h2m-2 1h2m-16 2h1m17 7h1m-1 1h2m-2 1h2m-3 1h1m2 0h1m-38 1h1m18 0h1m17 0h1m-18 1h1m-19 1h1m10 0h1m-15 1h1m13 0h1m26 1h2m-1 3h1m-1 1h2m-12 2h1m-3 1h1m1 0h1m6 0h3m-13 1h1m1 0h2m2 0h1m1 0h4m-10 1h2m2 0h1m2 0h4m-11 1h1m6 0h1m1 0h2m-7 1h3m2 0h1m-10 1h1m1 0h1m1 0h3m-31 1h1m22 0h1m-25 1h1m22 0h1m1 0h3m-4 1h4m-2 1h4m-39 1h1m34 0h1m2 0h2m4 0h1m-5 1h1m-1 1h1m-4 1h2m-15 1h1m7 0h1m-10 1h2m5 0h1m1 0h1"/>
<path stroke="#0aacbe" d="M0 0m61 14h1m12 1h1m-50 1h2m48 0h1m-50 1h1m48 0h2m-2 1h1m-1 1h1m-33 8h1m-28 1h1m1 0h1m23 0h1m-28 1h1m66 0h1m-63 1h3m20 0h1m38 0h1m-69 1h1m6 0h2m18 0h2m-20 1h1m18 0h1m-22 1h2m33 0h1m1 0h1m-42 1h2m2 0h2m8 0h1m23 0h6m-5 1h2m2 0h1m-27 1h2m19 0h5m-29 1h1m1 0h1m4 0h2m15 0h1m1 0h2m-27 1h2m4 0h2m14 0h3m16 0h1m-22 1h3m20 0h2m-25 1h3m19 0h1m2 0h1m-27 1h3m1 0h1m17 0h1m3 0h2m-29 1h1m2 0h4m17 0h4m10 0h1m-39 1h4m2 0h1m2 0h3m12 0h2m1 0h2m-28 1h3m2 0h3m1 0h2m11 0h1m1 0h1m1 0h3m-29 1h3m2 0h2m2 0h2m12 0h5m-26 1h2m1 0h2m1 0h3m12 0h5m-25 1h4m1 0h3m10 0h1m2 0h4m-53 1h5m21 0h5m1 0h4m10 0h2m3 0h2m-53 1h1m3 0h1m6 0h1m13 0h3m3 0h1m2 0h2m16 0h1m1 0h2m-55 1h3m6 0h5m7 0h9m2 0h1m2 0h1m17 0h1m-54 1h1m7 0h5m9 0h1m2 0h8m2 0h2m-12 1h3m2 0h3m3 0h1m-35 1h1m22 0h1m6 0h2m2 0h1m-13 1h4m4 0h1m2 0h3m-19 1h4m2 0h3m4 0h1m2 0h3m-19 1h8m5 0h6m2 0h1m-23 1h1m1 0h2m3 0h3m5 0h5m1 0h2m-40 1h1m15 0h6m2 0h3m6 0h2m3 0h1m-39 1h1m23 0h3m-19 1h2m8 0h3m-14 1h2m10 0h2m-14 1h1m30 0h1m-4 1h2m-2 1h1m1 0h1m10 0h2m-30 1h1m10 0h2m2 0h1m12 0h2m-32 1h3m13 0h2m2 0h1m10 0h1m-33 1h4m13 0h1m1 0h2m1 0h1m-38 1h2m12 0h4m15 0h3m1 0h1m3 0h1m-44 1h1m2 0h1m9 0h1m4 0h3m17 0h2m1 0h3m-44 1h1m9 0h4m1 0h1m4 0h3m13 0h3m2 0h2m-40 1h1m7 0h1m1 0h1m1 0h1m5 0h2m13 0h1m3 0h4m-44 1h3m8 0h1m23 0h2m2 0h2m2 0h2m-45 1h2m8 0h2m24 0h6m-31 1h1m24 0h3m1 1h2m1 0h1m-4 1h2m2 0h1m4 0h1m-38 1h1m27 0h4m6 0h2m-22 1h2m1 0h9m-14 1h2m5 0h4m3 0h1m-15 1h1m7 0h1m4 0h2m-1 1h1m2 0h1m-7 1h1m5 0h2m-17 1h2m6 0h2m1 0h1m4 0h2m-34 1h2m22 0h1m1 0h1m6 0h1m-51 1h1m8 0h1m1 0h1m2 0h5m12 0h2m3 0h2m1 0h5m-44 1h1m7 0h1m1 0h6m15 0h1m9 0h2m22 0h2m-57 1h3m19 0h1m4 0h2m27 0h2m-69 1h2m11 0h1m20 0h2m4 0h1m4 0h2m-48 1h1m2 0h1m32 0h1m5 0h1m1 0h2m1 0h1m-48 1h2m34 0h1m-23 1h1m21 0h2m-21 1h1m20 0h1m3 0h1m-26 1h1m7 0h1m5 0h3m6 0h2m-18 1h1m6 0h1m1 0h1m1 0h1m-11 1h1m6 0h1m9 7h2m4 0h1m-1 1h1m-2 1h1"/>
<path stroke="#0faeb9" d="M0 0m65 9h2m0 1h1m-6 4h1m11 0h1m-53 1h1m52 0h1m-54 1h1m1 0h1m49 0h1m-51 1h2m0 1h1m47 0h1m2 0h1m2 0h1m-7 1h1m2 0h1m-4 1h1m2 0h1m-53 1h1m48 0h2m2 0h1m-4 1h1m-5 1h2m1 0h1m-33 2h1m27 0h1m11 0h1m-41 1h2m26 0h1m11 0h1m1 0h1m-69 1h1m25 0h1m40 0h2m-68 1h1m17 0h1m7 0h1m37 0h1m1 0h1m-64 1h4m11 0h1m4 0h4m11 0h1m24 0h2m1 0h2m-62 1h4m12 0h4m1 0h1m35 0h2m1 0h2m-62 1h2m2 0h1m11 0h2m2 0h1m10 0h2m25 0h2m-68 1h1m25 0h1m1 0h1m9 0h8m-45 1h1m6 0h1m13 0h2m3 0h2m4 0h1m5 0h2m3 0h2m-31 1h1m20 0h1m2 0h1m6 0h6m-48 1h1m2 0h1m4 0h1m5 0h4m17 0h2m5 0h5m-30 1h1m1 0h3m11 0h1m1 0h1m5 0h2m1 0h1m-30 1h4m2 0h1m10 0h4m4 0h1m12 0h2m-43 1h1m2 0h4m2 0h1m10 0h3m3 0h2m12 0h2m1 0h3m-42 1h6m10 0h1m3 0h3m13 0h4m2 0h2m-42 1h2m1 0h1m2 0h2m6 0h1m3 0h2m9 0h1m3 0h4m4 0h2m-41 1h5m6 0h1m3 0h1m1 0h1m1 0h1m5 0h1m5 0h3m6 0h1m-41 1h4m14 0h8m5 0h4m4 0h1m10 0h1m-33 1h2m3 0h3m2 0h2m1 0h1m2 0h1m2 0h1m2 0h1m8 0h1m-52 1h2m23 0h4m1 0h1m1 0h4m3 0h1m10 0h2m-52 1h2m1 0h3m19 0h4m4 0h4m5 0h2m7 0h1m13 0h1m-77 1h2m12 0h1m9 0h3m9 0h3m7 0h2m5 0h2m20 0h2m-77 1h5m8 0h2m9 0h4m8 0h3m6 0h1m1 0h2m5 0h1m-56 1h1m13 0h2m7 0h4m10 0h1m7 0h2m2 0h3m3 0h2m-65 1h2m5 0h2m10 0h1m1 0h3m6 0h4m3 0h3m2 0h1m2 0h1m9 0h2m3 0h1m1 0h1m21 0h1m-76 1h1m3 0h1m4 0h1m5 0h1m5 0h1m9 0h2m4 0h2m7 0h1m6 0h1m1 0h1m19 0h2m-78 1h2m1 0h2m10 0h2m5 0h2m1 0h2m12 0h1m15 0h1m21 0h1m-76 1h3m5 0h5m5 0h1m3 0h1m1 0h1m3 0h2m7 0h1m-37 1h1m7 0h4m4 0h3m3 0h2m1 0h6m5 0h1m-37 1h2m9 0h1m4 0h7m4 0h2m1 0h1m6 0h1m2 0h2m-37 1h1m5 0h1m5 0h1m4 0h2m3 0h1m1 0h2m6 0h4m-38 1h3m5 0h1m5 0h1m8 0h1m3 0h1m6 0h2m1 0h1m-41 1h1m1 0h3m11 0h1m4 0h3m3 0h1m1 0h3m5 0h1m2 0h1m-42 1h1m1 0h2m12 0h1m6 0h2m3 0h6m2 0h3m1 0h1m24 0h2m1 0h1m-69 1h1m1 0h2m5 0h3m1 0h12m3 0h13m24 0h2m-67 1h4m4 0h1m2 0h8m3 0h10m4 0h4m9 0h1m8 0h2m4 0h4m-69 1h4m4 0h1m2 0h5m4 0h1m2 0h7m8 0h4m6 0h3m8 0h2m1 0h1m1 0h2m-65 1h2m5 0h1m1 0h4m1 0h1m7 0h6m9 0h2m1 0h2m6 0h3m6 0h2m-51 1h3m1 0h1m9 0h5m8 0h1m2 0h2m8 0h4m6 0h2m-53 1h3m10 0h7m2 0h7m3 0h1m8 0h1m2 0h3m4 0h1m-40 1h2m1 0h4m4 0h2m2 0h2m3 0h2m7 0h1m2 0h5m2 0h2m-62 1h1m9 0h1m9 0h1m3 0h1m7 0h5m5 0h1m8 0h1m1 0h3m4 0h2m-59 1h4m2 0h3m7 0h1m16 0h1m6 0h1m2 0h1m12 0h2m-58 1h1m3 0h6m3 0h3m18 0h1m5 0h3m1 0h1m-41 1h1m2 0h2m1 0h3m1 0h4m17 0h3m2 0h1m3 0h3m-48 1h1m4 0h2m1 0h3m8 0h2m3 0h1m11 0h1m3 0h2m2 0h4m-48 1h1m4 0h7m1 0h1m6 0h2m14 0h1m1 0h3m4 0h2m-43 1h2m5 0h1m1 0h3m4 0h1m1 0h2m14 0h2m-37 1h1m6 0h1m2 0h1m22 0h1m6 0h4m1 0h1m4 0h1m-53 1h2m7 0h2m1 0h1m21 0h2m3 0h8m4 0h2m-52 1h1m7 0h1m1 0h3m23 0h1m1 0h1m6 0h1m3 0h4m3 0h1m-55 1h1m7 0h3m14 0h1m8 0h1m12 0h4m2 0h1m-46 1h1m1 0h1m15 0h2m1 0h8m4 0h2m3 0h1m2 0h1m-41 1h1m15 0h2m12 0h3m5 0h3m-26 1h1m15 0h2m4 0h2m-24 1h1m15 0h2m-37 1h1m8 0h1m9 0h1m1 0h1m13 0h2m1 0h1m2 0h2m-33 1h2m22 0h3m3 0h1m1 0h1m-36 1h5m24 0h2m-39 1h1m5 0h1m2 0h2m10 0h2m9 0h1m1 0h1m2 0h1m9 0h1m6 0h1m1 0h1m-66 1h1m10 0h2m5 0h1m10 0h1m7 0h1m5 0h2m1 0h1m8 0h3m4 0h2m1 0h1m-51 1h1m1 0h2m10 0h1m6 0h4m2 0h5m8 0h2m6 0h1m-67 1h1m1 0h1m7 0h2m3 0h3m3 0h1m10 0h2m7 0h2m2 0h1m1 0h3m8 0h1m7 0h1m4 0h1m-73 1h1m10 0h4m1 0h1m18 0h1m7 0h4m2 0h1m-50 1h1m10 0h6m17 0h3m7 0h1m4 0h1m-47 1h2m8 0h3m20 0h1m7 0h2m1 0h2m1 0h1m-35 1h1m16 0h2m1 0h1m7 0h1m3 0h1m-37 1h1m4 0h1m8 0h1m4 0h1m1 0h4m1 0h1m-22 1h1m10 0h1m2 0h1m4 0h1m3 0h1m2 0h1m-28 1h3m5 0h1m3 0h1m-4 1h1m1 0h1m6 0h2m-19 2h1m6 0h1m-1 1h1m-2 1h1m1 2h1m18 0h1m-3 1h1m5 0h1m1 0h1m-5 1h3m1 0h1m-5 1h2"/>
<path stroke="#15b1b4" d="M0 0m64 8h1m1 2h1m0 1h1m-7 2h2m-3 1h1m-40 1h1m1 0h3m19 0h2m11 0h2m3 0h1m-41 1h1m21 0h1m11 0h2m17 0h1m-20 1h2m15 0h1m2 0h1m2 0h1m-57 1h2m32 0h2m13 0h1m4 0h2m-54 1h1m46 0h1m4 0h2m-55 1h2m29 0h1m21 0h1m-55 1h1m52 0h1m-7 1h2m3 0h1m-7 1h1m2 0h1m1 0h2m-49 1h1m12 0h2m27 0h4m2 0h2m-52 1h1m1 0h1m12 0h1m7 0h1m1 0h1m17 0h1m1 0h1m6 0h1m5 0h1m-48 1h1m3 0h1m7 0h1m1 0h3m15 0h1m1 0h1m9 0h1m-47 1h1m1 0h1m1 0h1m13 0h1m16 0h1m10 0h1m-67 1h1m3 0h1m1 0h2m11 0h1m1 0h2m1 0h3m12 0h2m-42 1h1m9 0h3m6 0h2m1 0h4m4 0h1m9 0h1m-28 1h1m5 0h2m2 0h2m14 0h4m-32 1h2m11 0h1m5 0h1m7 0h2m2 0h2m3 0h4m15 0h1m-67 1h1m9 0h1m12 0h4m3 0h5m2 0h2m8 0h1m1 0h2m-41 1h1m5 0h2m2 0h1m1 0h1m2 0h1m1 0h1m2 0h4m1 0h5m8 0h5m-44 1h1m5 0h1m2 0h13m2 0h4m1 0h2m13 0h1m-47 1h1m1 0h1m13 0h6m5 0h6m12 0h2m-46 1h1m4 0h1m9 0h1m3 0h1m7 0h3m1 0h1m8 0h1m1 0h2m8 0h1m-34 1h1m7 0h2m9 0h2m1 0h1m6 0h2m2 0h2m-51 1h1m15 0h1m8 0h1m8 0h2m8 0h2m6 0h1m10 0h2m-58 1h1m8 0h5m4 0h1m7 0h2m3 0h2m4 0h2m8 0h2m7 0h1m-65 1h1m10 0h2m2 0h1m1 0h2m2 0h1m4 0h1m6 0h1m1 0h1m4 0h2m1 0h1m1 0h1m10 0h1m-47 1h1m2 0h2m5 0h3m2 0h1m7 0h1m1 0h3m1 0h1m1 0h5m10 0h1m7 0h2m-55 1h3m5 0h1m3 0h3m15 0h5m9 0h1m7 0h1m2 0h1m-56 1h9m3 0h3m15 0h2m2 0h1m1 0h2m14 0h1m1 0h2m-55 1h1m2 0h6m1 0h2m2 0h1m15 0h1m1 0h1m11 0h1m8 0h1m-64 1h2m11 0h1m3 0h4m3 0h1m15 0h4m11 0h1m19 0h1m1 0h1m-87 1h1m10 0h1m9 0h2m1 0h5m1 0h1m1 0h1m15 0h7m9 0h1m17 0h1m3 0h1m-88 1h3m3 0h1m8 0h1m6 0h1m2 0h2m4 0h3m15 0h1m1 0h4m10 0h1m19 0h1m-85 1h3m2 0h1m8 0h2m3 0h3m2 0h2m4 0h1m15 0h2m4 0h1m12 0h1m18 0h2m-84 1h1m11 0h5m5 0h2m3 0h1m16 0h2m4 0h3m2 0h3m5 0h1m19 0h1m-84 1h1m2 0h4m5 0h2m1 0h1m7 0h1m1 0h3m18 0h2m1 0h2m1 0h1m1 0h2m2 0h2m11 0h1m-68 1h2m5 0h3m1 0h1m7 0h1m1 0h3m18 0h2m1 0h2m1 0h2m1 0h1m3 0h2m1 0h1m19 0h1m1 0h1m-79 1h2m3 0h5m5 0h5m1 0h3m1 0h1m14 0h6m8 0h4m-56 1h1m2 0h6m4 0h2m1 0h1m3 0h3m15 0h6m-44 1h1m2 0h4m2 0h3m1 0h4m13 0h1m8 0h2m34 0h1m-75 1h5m5 0h1m1 0h5m11 0h1m12 0h1m6 0h2m24 0h2m-77 1h4m7 0h1m1 0h5m10 0h3m11 0h2m4 0h3m23 0h1m-76 1h2m1 0h1m3 0h1m5 0h2m1 0h2m12 0h1m12 0h2m2 0h6m16 0h1m-65 1h3m4 0h5m25 0h2m4 0h5m11 0h2m2 0h1m1 0h1m-71 1h1m4 0h1m3 0h1m3 0h1m28 0h3m4 0h3m4 0h1m2 0h1m3 0h3m2 0h4m-77 1h2m3 0h1m4 0h2m1 0h1m24 0h4m4 0h9m1 0h1m6 0h1m2 0h4m4 0h3m1 0h2m-80 1h2m7 0h4m8 0h4m10 0h4m3 0h1m4 0h2m1 0h3m4 0h1m4 0h2m2 0h1m1 0h1m2 0h3m4 0h1m-74 1h1m2 0h1m1 0h3m6 0h1m1 0h2m1 0h4m6 0h9m5 0h1m1 0h2m1 0h1m3 0h2m6 0h3m3 0h2m5 0h1m-74 1h1m1 0h2m1 0h2m1 0h1m3 0h1m1 0h4m3 0h2m5 0h8m5 0h3m2 0h1m1 0h1m4 0h2m6 0h1m11 0h1m-75 1h1m4 0h2m1 0h1m3 0h4m1 0h2m2 0h1m7 0h2m11 0h3m2 0h3m11 0h1m-63 1h3m3 0h2m2 0h4m1 0h2m1 0h4m7 0h1m2 0h1m11 0h2m2 0h3m24 0h2m-77 1h1m1 0h3m1 0h2m2 0h1m1 0h3m1 0h5m6 0h3m14 0h8m5 0h2m17 0h1m-77 1h4m4 0h2m3 0h2m1 0h4m7 0h3m3 0h4m8 0h2m1 0h1m1 0h7m5 0h1m-69 1h2m5 0h3m10 0h3m11 0h1m5 0h4m11 0h3m8 0h2m-68 1h2m7 0h1m5 0h2m2 0h1m14 0h1m5 0h5m12 0h1m12 0h1m-55 1h1m9 0h2m6 0h1m5 0h5m12 0h2m-51 1h1m17 0h3m4 0h2m5 0h2m1 0h2m11 0h1m1 0h1m-51 1h2m5 0h5m5 0h1m1 0h2m1 0h1m2 0h1m10 0h1m10 0h4m-51 1h2m3 0h2m3 0h1m4 0h2m6 0h1m7 0h1m3 0h2m11 0h1m1 0h1m4 0h2m1 0h2m-60 1h2m2 0h2m4 0h1m4 0h2m13 0h3m19 0h1m2 0h3m1 0h2m-59 1h1m1 0h3m3 0h1m1 0h1m3 0h1m13 0h1m5 0h3m1 0h1m15 0h1m1 0h1m1 0h1m-58 1h2m1 0h1m3 0h1m1 0h1m3 0h1m12 0h1m1 0h4m1 0h3m1 0h2m14 0h2m1 0h1m-69 1h1m11 0h2m11 0h1m9 0h5m2 0h1m14 0h2m5 0h4m-68 1h1m11 0h2m8 0h1m1 0h2m9 0h4m17 0h1m2 0h2m3 0h2m-55 1h3m9 0h2m12 0h1m19 0h1m1 0h1m2 0h2m-61 1h1m8 0h1m6 0h1m6 0h1m3 0h1m6 0h1m18 0h6m-44 1h1m1 0h1m5 0h1m3 0h1m6 0h1m1 0h1m18 0h2m2 0h1m11 0h1m-68 1h1m10 0h1m7 0h1m13 0h1m17 0h1m3 0h1m-45 1h2m2 0h1m1 0h2m5 0h1m8 0h1m12 0h2m6 0h5m-69 1h2m9 0h2m7 0h1m1 0h5m5 0h1m1 0h8m15 0h1m1 0h2m1 0h1m1 0h4m1 0h1m-60 1h1m8 0h1m11 0h1m5 0h4m16 0h1m1 0h2m-51 1h1m7 0h1m9 0h1m2 0h1m8 0h1m18 0h1m9 0h2m3 0h1m5 0h1m-63 1h1m8 0h3m1 0h1m20 0h2m1 0h1m12 0h1m-51 1h1m6 0h2m14 0h2m15 0h1m8 0h2m-62 1h1m5 0h1m3 0h2m6 0h2m14 0h1m16 0h1m-42 1h1m1 0h2m3 0h1m9 0h1m5 0h1m1 0h2m10 0h1m2 0h1m13 0h1m-62 1h1m5 0h1m2 0h2m4 0h3m7 0h1m2 0h3m2 0h1m13 0h1m-39 1h1m1 0h1m1 0h2m2 0h1m8 0h1m3 0h1m4 0h1m6 0h1m3 0h1m-36 1h1m2 0h1m2 0h1m5 0h1m3 0h1m7 0h3m-21 1h1m17 0h1m-14 1h1m7 0h1m3 0h1m-22 1h1m8 0h2m-3 1h1m1 0h1m-4 1h2m1 0h1m-6 1h2m2 0h1m-1 1h3m-1 1h1m15 0h2m1 0h1m2 0h2m-26 1h2m19 0h1m-4 1h1m1 0h2m-4 1h4"/>
<path stroke="#1db3af" d="M0 0m40 8h1m7 1h1m15 0h1m-5 1h1m1 0h4m0 1h1m-6 1h1m-39 1h1m21 0h2m13 0h1m2 0h2m-44 1h3m21 0h2m12 0h1m3 0h1m9 0h1m-48 1h1m5 0h3m22 0h1m3 0h2m1 0h1m11 0h1m-56 1h1m5 0h1m18 0h1m9 0h1m2 0h1m-38 1h2m24 0h1m7 0h1m2 0h1m18 0h2m-57 1h1m21 0h2m1 0h1m8 0h1m-34 1h2m19 0h3m10 0h2m-36 1h1m23 0h2m7 0h1m21 0h1m-33 1h3m10 0h1m11 0h1m7 0h1m-57 1h1m25 0h1m2 0h1m8 0h2m6 0h1m-47 1h1m3 0h1m18 0h2m1 0h4m8 0h2m-38 1h1m2 0h1m16 0h8m9 0h1m1 0h2m2 0h1m-34 1h1m6 0h2m3 0h1m1 0h1m1 0h4m9 0h1m6 0h1m3 0h1m2 0h1m11 0h1m-56 1h1m3 0h1m3 0h1m5 0h1m3 0h1m17 0h1m2 0h3m-63 1h1m8 0h1m11 0h1m1 0h1m1 0h2m2 0h1m4 0h2m3 0h3m12 0h1m1 0h1m7 0h2m-61 1h1m2 0h3m7 0h1m4 0h1m5 0h1m8 0h1m2 0h1m23 0h1m3 0h1m-53 1h1m12 0h1m2 0h1m2 0h1m1 0h1m2 0h1m6 0h1m21 0h1m-58 1h1m3 0h1m2 0h2m8 0h2m1 0h2m1 0h2m4 0h1m3 0h6m18 0h1m-58 1h1m8 0h1m7 0h5m1 0h1m6 0h3m4 0h2m16 0h3m-61 1h2m3 0h5m14 0h2m11 0h1m2 0h2m13 0h3m-68 1h1m9 0h1m3 0h1m2 0h2m1 0h1m4 0h1m26 0h1m5 0h1m-58 1h1m9 0h3m16 0h2m26 0h1m6 0h1m-64 1h1m8 0h1m1 0h1m1 0h1m12 0h5m24 0h1m1 0h1m5 0h1m-64 1h5m1 0h2m1 0h1m1 0h1m13 0h5m1 0h1m17 0h2m4 0h2m1 0h1m16 0h1m-76 1h11m14 0h3m3 0h1m13 0h1m1 0h4m8 0h2m10 0h1m3 0h1m-71 1h3m1 0h2m14 0h3m4 0h1m11 0h8m9 0h3m9 0h2m-69 1h3m5 0h1m1 0h2m14 0h1m10 0h3m2 0h4m18 0h1m1 0h1m15 0h1m-83 1h1m1 0h1m8 0h1m11 0h2m1 0h1m10 0h2m1 0h1m4 0h1m12 0h3m4 0h1m-65 1h2m9 0h2m10 0h2m32 0h4m1 0h2m2 0h1m-61 1h1m3 0h1m3 0h1m5 0h3m33 0h2m3 0h2m-60 1h4m13 0h3m33 0h1m1 0h1m3 0h1m-63 1h5m1 0h1m4 0h1m9 0h1m2 0h2m31 0h2m2 0h2m3 0h1m12 0h1m-87 1h1m7 0h1m2 0h1m1 0h1m3 0h3m10 0h3m32 0h1m4 0h1m1 0h2m8 0h2m-85 1h1m1 0h1m1 0h4m1 0h1m3 0h2m4 0h1m1 0h1m8 0h1m1 0h1m33 0h2m3 0h3m1 0h1m5 0h2m-84 1h1m3 0h1m1 0h1m1 0h1m1 0h1m9 0h1m1 0h1m5 0h4m19 0h1m22 0h3m4 0h1m3 0h1m2 0h1m-90 1h3m3 0h1m12 0h3m7 0h1m1 0h2m18 0h4m21 0h3m3 0h1m2 0h1m3 0h1m-88 1h1m3 0h2m21 0h3m19 0h2m1 0h1m21 0h5m3 0h1m1 0h1m-83 1h1m1 0h2m11 0h1m9 0h1m23 0h1m2 0h1m4 0h2m14 0h1m1 0h2m8 0h1m-82 1h1m10 0h1m9 0h1m23 0h1m2 0h1m2 0h1m1 0h1m1 0h1m12 0h2m1 0h2m4 0h2m3 0h1m-83 1h3m46 0h5m1 0h2m14 0h2m-80 1h1m1 0h2m4 0h4m15 0h1m28 0h1m1 0h4m1 0h5m11 0h1m7 0h1m-79 1h1m1 0h1m7 0h2m34 0h1m2 0h9m12 0h1m6 0h1m1 0h1m-80 1h1m2 0h1m6 0h4m32 0h6m2 0h2m14 0h2m-72 1h3m7 0h1m1 0h2m33 0h4m3 0h2m9 0h4m2 0h1m6 0h2m-81 1h3m8 0h1m1 0h3m2 0h1m29 0h2m6 0h4m6 0h4m1 0h1m6 0h2m-79 1h3m7 0h4m32 0h4m5 0h5m5 0h1m-71 1h4m2 0h1m6 0h3m36 0h4m3 0h2m1 0h1m1 0h2m1 0h1m1 0h1m10 0h2m-82 1h2m2 0h3m7 0h1m44 0h2m1 0h1m1 0h1m14 0h1m-76 1h1m1 0h1m34 0h3m7 0h1m8 0h2m14 0h4m1 0h1m-80 1h3m6 0h1m13 0h1m25 0h1m2 0h1m6 0h1m8 0h3m2 0h1m2 0h2m1 0h1m-79 1h1m1 0h2m1 0h1m2 0h1m2 0h1m10 0h3m23 0h2m1 0h1m14 0h1m3 0h2m4 0h1m1 0h1m4 0h1m-82 1h1m1 0h1m1 0h2m2 0h1m8 0h1m2 0h2m24 0h2m15 0h1m9 0h5m3 0h1m-79 1h3m2 0h2m4 0h1m2 0h1m12 0h2m14 0h2m15 0h1m15 0h4m-78 1h1m2 0h2m5 0h1m14 0h3m30 0h1m11 0h1m-81 1h1m19 0h1m14 0h3m16 0h1m7 0h3m3 0h1m-71 1h1m2 0h1m32 0h5m18 0h6m1 0h1m2 0h1m-70 1h1m2 0h2m31 0h1m1 0h3m18 0h2m2 0h1m4 0h1m3 0h1m2 0h1m7 0h1m-83 1h1m6 0h1m27 0h1m1 0h3m30 0h1m10 0h1m-76 1h2m30 0h2m2 0h1m14 0h1m1 0h2m10 0h2m8 0h2m-77 1h2m18 0h1m7 0h2m1 0h7m15 0h5m1 0h2m4 0h2m9 0h2m2 0h1m-80 1h1m7 0h3m7 0h6m1 0h7m1 0h3m16 0h3m3 0h1m2 0h3m9 0h1m5 0h1m1 0h1m-82 1h1m6 0h1m10 0h2m1 0h1m4 0h5m3 0h3m22 0h1m2 0h2m8 0h1m-71 1h1m7 0h1m7 0h2m7 0h4m1 0h5m21 0h1m3 0h1m-69 1h2m7 0h1m4 0h1m1 0h1m1 0h1m5 0h2m7 0h3m6 0h1m24 0h2m-70 1h3m7 0h1m2 0h2m2 0h4m4 0h1m41 0h1m6 0h1m2 0h1m3 0h1m-82 1h3m6 0h2m2 0h5m1 0h1m5 0h3m28 0h2m7 0h2m7 0h5m2 0h1m-82 1h3m6 0h1m3 0h3m1 0h2m1 0h2m2 0h5m1 0h2m2 0h2m19 0h1m1 0h1m5 0h2m1 0h1m8 0h1m1 0h5m-79 1h1m8 0h1m2 0h3m1 0h1m3 0h2m5 0h1m2 0h3m25 0h2m1 0h1m8 0h2m3 0h1m-77 1h1m3 0h2m6 0h1m1 0h1m7 0h1m5 0h1m2 0h3m26 0h1m9 0h1m1 0h1m-70 1h1m1 0h1m7 0h2m1 0h4m2 0h1m5 0h1m2 0h6m23 0h4m9 0h1m-82 1h3m8 0h3m8 0h1m2 0h2m1 0h1m8 0h8m26 0h1m9 0h1m-82 1h2m2 0h1m7 0h1m2 0h1m19 0h1m22 0h1m13 0h2m1 0h2m-75 1h1m12 0h6m13 0h1m2 0h2m24 0h1m4 0h1m3 0h2m1 0h1m6 0h1m-80 1h1m12 0h2m1 0h1m17 0h2m2 0h1m33 0h1m-66 1h1m8 0h1m17 0h2m3 0h1m18 0h1m9 0h1m-63 1h1m7 0h3m9 0h1m1 0h2m35 0h1m2 0h1m5 0h1m-62 1h3m23 0h1m26 0h2m2 0h1m-58 1h1m3 0h1m6 0h4m8 0h2m20 0h1m12 0h1m-62 1h1m9 0h2m5 0h1m1 0h1m1 0h1m3 0h2m15 0h1m1 0h1m2 0h1m13 0h1m-51 1h1m5 0h1m1 0h1m1 0h2m3 0h2m16 0h1m1 0h1m-40 1h1m1 0h1m1 0h2m4 0h2m2 0h1m5 0h1m13 0h1m-32 1h3m4 0h1m2 0h1m5 0h3m8 0h3m-23 1h1m7 0h1m-7 1h2m2 0h1m5 0h1m2 0h1m-14 1h1m3 0h1m6 0h1m-14 1h2m4 0h1m29 0h1m-32 1h1m30 0h1m-30 1h1m-1 1h1m22 0h1m-25 1h1m19 0h2m3 0h1m-29 1h3m25 0h1m-11 1h1"/>
<path stroke="#25b5a9" d="M0 0m39 8h1m1 0h1m6 0h1m13 0h2m-17 1h1m1 0h1m9 0h1m1 0h2m-15 1h2m2 0h1m6 0h1m1 0h1m-2 1h6m2 0h1m-23 1h2m4 0h1m7 0h1m1 0h3m-43 1h1m1 0h1m48 0h1m-54 1h1m3 0h1m7 0h2m22 0h3m5 0h1m2 0h2m-49 1h1m10 0h1m12 0h1m2 0h1m7 0h2m3 0h1m4 0h3m5 0h1m3 0h1m-47 1h5m8 0h1m2 0h2m14 0h2m2 0h1m5 0h1m3 0h2m-58 1h1m10 0h3m4 0h2m4 0h3m12 0h1m8 0h1m3 0h1m7 0h1m-60 1h1m24 0h1m1 0h1m10 0h1m5 0h1m1 0h2m-47 1h1m12 0h2m3 0h1m6 0h5m7 0h1m5 0h3m3 0h1m-50 1h1m21 0h3m2 0h5m3 0h4m6 0h2m2 0h1m7 0h1m-58 1h1m2 0h1m19 0h1m3 0h6m2 0h2m1 0h3m4 0h2m1 0h1m-44 1h1m18 0h3m1 0h2m1 0h1m5 0h2m2 0h1m4 0h1m10 0h1m-62 1h1m6 0h1m2 0h2m10 0h2m1 0h3m2 0h1m6 0h1m7 0h1m4 0h1m-51 1h1m4 0h1m12 0h1m2 0h1m2 0h3m8 0h2m6 0h1m1 0h1m2 0h2m12 0h1m1 0h1m-60 1h1m12 0h1m2 0h1m4 0h3m8 0h1m9 0h3m4 0h1m6 0h2m8 0h1m1 0h1m-77 1h1m6 0h1m4 0h1m9 0h2m5 0h1m2 0h1m6 0h2m8 0h1m2 0h1m5 0h1m3 0h3m10 0h1m-69 1h1m1 0h1m2 0h1m4 0h1m11 0h1m2 0h1m2 0h2m4 0h3m8 0h1m3 0h1m1 0h1m-47 1h1m3 0h1m12 0h1m1 0h6m4 0h1m3 0h2m16 0h1m5 0h1m-59 1h2m17 0h2m1 0h2m1 0h1m4 0h2m2 0h2m1 0h1m14 0h1m-50 1h2m15 0h1m2 0h1m7 0h3m-32 1h8m13 0h1m22 0h1m27 0h1m-75 1h3m5 0h2m30 0h1m4 0h2m28 0h1m-89 1h1m11 0h1m1 0h1m43 0h1m1 0h1m3 0h5m-59 1h2m46 0h1m1 0h1m1 0h4m1 0h1m-58 1h2m43 0h1m3 0h1m1 0h5m1 0h2m5 0h1m2 0h1m-67 1h1m21 0h1m21 0h2m5 0h2m2 0h2m1 0h1m5 0h1m3 0h1m-66 1h1m16 0h2m21 0h2m9 0h2m1 0h2m5 0h3m1 0h2m-77 1h4m23 0h1m2 0h1m32 0h1m5 0h1m-66 1h1m3 0h1m3 0h1m15 0h1m1 0h1m32 0h1m9 0h1m12 0h1m-83 1h1m7 0h1m1 0h2m14 0h1m35 0h1m1 0h2m3 0h1m13 0h1m-83 1h1m2 0h1m3 0h1m54 0h1m5 0h3m1 0h1m8 0h1m-81 1h3m1 0h2m52 0h3m6 0h1m2 0h2m7 0h1m-85 1h2m3 0h3m7 0h1m46 0h1m1 0h3m5 0h1m11 0h1m-75 1h1m4 0h1m48 0h2m6 0h1m6 0h3m-86 1h2m4 0h4m4 0h1m53 0h1m14 0h1m-84 1h1m3 0h1m4 0h1m9 0h1m1 0h1m48 0h2m3 0h1m13 0h1m-85 1h1m3 0h1m7 0h3m1 0h1m45 0h2m8 0h4m1 0h1m6 0h1m-84 1h1m22 0h1m43 0h2m3 0h3m1 0h2m5 0h1m-90 1h1m51 0h1m15 0h1m11 0h2m2 0h1m3 0h2m-92 1h1m2 0h2m64 0h1m6 0h1m2 0h1m2 0h1m3 0h2m3 0h1m-92 1h2m4 0h3m54 0h1m5 0h1m6 0h1m2 0h1m-76 1h3m56 0h1m6 0h1m7 0h2m-79 1h1m1 0h1m2 0h1m1 0h2m49 0h1m4 0h1m5 0h1m11 0h1m7 0h1m-87 1h1m2 0h1m1 0h2m1 0h1m45 0h2m9 0h1m4 0h2m6 0h1m-79 1h1m5 0h1m1 0h2m53 0h2m6 0h2m3 0h1m7 0h1m-79 1h1m11 0h1m44 0h2m6 0h1m4 0h2m5 0h1m-82 1h1m1 0h2m12 0h1m47 0h1m4 0h1m4 0h1m6 0h1m2 0h1m-98 1h1m12 0h5m61 0h1m2 0h1m8 0h3m1 0h3m-80 1h1m55 0h1m6 0h1m10 0h1m-19 1h1m20 0h1m-82 1h1m3 0h1m76 0h1m-82 1h1m3 0h2m69 0h1m6 0h4m-86 1h2m1 0h1m65 0h3m2 0h1m2 0h1m3 0h1m2 0h1m-82 1h1m3 0h1m60 0h1m5 0h1m7 0h3m1 0h1m-84 1h1m64 0h1m8 0h2m2 0h2m4 0h1m-90 1h3m2 0h1m64 0h2m6 0h1m1 0h1m2 0h1m4 0h1m-90 1h2m1 0h1m2 0h1m64 0h2m5 0h3m1 0h2m-80 1h4m57 0h1m4 0h3m2 0h4m1 0h1m-76 1h4m28 0h1m23 0h2m1 0h4m1 0h2m2 0h2m1 0h2m3 0h2m1 0h1m-85 1h1m1 0h6m29 0h1m22 0h5m2 0h4m1 0h4m7 0h1m-95 1h1m16 0h1m29 0h3m23 0h1m3 0h6m12 0h2m-49 1h1m27 0h1m2 0h1m1 0h2m4 0h1m4 0h1m3 0h2m-80 1h1m64 0h3m5 0h1m1 0h1m1 0h2m-79 1h1m8 0h3m9 0h1m1 0h1m1 0h2m39 0h1m5 0h1m2 0h1m2 0h1m3 0h1m-88 1h1m6 0h1m6 0h1m11 0h3m2 0h2m36 0h3m8 0h2m-84 1h2m8 0h1m6 0h1m10 0h1m3 0h3m36 0h1m1 0h3m-77 1h1m4 0h1m5 0h1m5 0h1m10 0h2m3 0h1m1 0h1m34 0h2m3 0h1m1 0h2m1 0h1m1 0h1m-78 1h1m16 0h1m7 0h1m1 0h2m1 0h1m39 0h1m6 0h1m1 0h1m-80 1h1m15 0h1m9 0h1m2 0h2m31 0h1m1 0h3m3 0h2m1 0h1m-76 1h1m2 0h1m1 0h2m2 0h1m2 0h2m5 0h3m8 0h2m30 0h1m8 0h1m2 0h1m1 0h1m5 0h1m-89 1h1m3 0h1m3 0h3m2 0h1m3 0h2m1 0h1m4 0h4m7 0h2m30 0h3m5 0h1m11 0h1m-90 1h1m9 0h1m3 0h1m5 0h1m7 0h2m7 0h2m33 0h1m-74 1h1m4 0h1m2 0h1m2 0h1m3 0h2m5 0h1m50 0h4m1 0h1m-79 1h1m16 0h1m4 0h1m52 0h1m-72 1h3m5 0h1m23 0h2m27 0h1m2 0h1m6 0h1m-71 1h2m4 0h1m7 0h1m17 0h1m25 0h1m5 0h1m4 0h2m8 0h2m-69 1h3m20 0h1m1 0h1m26 0h1m3 0h1m1 0h3m7 0h1m-77 1h1m7 0h1m13 0h1m2 0h1m7 0h2m18 0h1m10 0h3m-67 1h1m20 0h1m1 0h6m2 0h1m21 0h1m6 0h1m2 0h2m1 0h1m2 0h1m1 0h1m-71 1h2m20 0h4m27 0h1m9 0h1m2 0h1m-62 1h1m16 0h1m1 0h1m22 0h1m4 0h3m-51 1h1m17 0h1m1 0h1m22 0h1m3 0h4m17 0h1m-61 1h1m10 0h1m-13 1h3m8 0h2m15 0h2m3 0h1m-33 1h1m1 0h2m6 0h1m1 0h1m5 0h1m7 0h1m-25 1h1m7 0h1m14 0h1m-23 1h2m18 0h1m-22 1h1m43 0h1m-45 1h1m12 0h1m30 0h1m-14 1h6m-22 1h1m11 0h1m5 0h1m-7 1h1m-15 1h1m5 0h1m7 0h1"/>
<path stroke="#2eb7a4" d="M0 0m43 7h1m1 0h1m2 0h2m-8 1h4m1 0h1m1 0h1m-11 1h3m1 0h2m1 0h1m3 0h1m7 0h1m1 0h1m2 0h1m-21 1h2m1 0h2m2 0h2m6 0h1m-15 1h1m2 0h2m1 0h3m-19 1h1m9 0h2m2 0h1m1 0h2m5 0h1m7 0h1m-46 1h2m22 0h1m2 0h1m4 0h1m3 0h2m1 0h1m12 0h1m-47 1h1m7 0h1m1 0h1m7 0h1m2 0h1m5 0h1m1 0h1m13 0h1m2 0h1m-46 1h1m7 0h2m6 0h1m4 0h1m5 0h1m13 0h2m-34 1h1m2 0h1m3 0h1m5 0h1m10 0h2m3 0h2m1 0h3m8 0h1m-45 1h1m5 0h1m7 0h1m4 0h1m11 0h1m1 0h1m1 0h1m1 0h1m-52 1h1m18 0h2m8 0h1m1 0h1m12 0h1m1 0h1m4 0h1m8 0h1m1 0h1m-62 1h1m30 0h1m11 0h1m3 0h1m-48 1h1m18 0h1m20 0h1m3 0h2m2 0h1m-49 1h1m4 0h1m1 0h1m15 0h1m10 0h1m7 0h1m5 0h1m-52 1h1m3 0h1m6 0h1m11 0h1m2 0h2m8 0h2m2 0h1m8 0h1m21 0h1m-51 1h1m2 0h1m10 0h2m4 0h2m3 0h4m21 0h1m-61 1h1m5 0h1m1 0h2m16 0h1m2 0h2m23 0h1m4 0h1m-52 1h2m17 0h1m1 0h6m-50 1h1m13 0h1m2 0h1m13 0h2m9 0h8m1 0h2m5 0h1m16 0h1m1 0h2m-77 1h1m2 0h2m5 0h1m4 0h1m13 0h2m12 0h3m2 0h1m1 0h1m5 0h1m17 0h2m-67 1h2m1 0h1m16 0h1m11 0h1m1 0h1m2 0h2m5 0h9m-50 1h1m1 0h1m28 0h1m4 0h2m5 0h1m1 0h2m25 0h1m-73 1h1m37 0h1m4 0h3m4 0h1m6 0h1m14 0h1m-35 1h3m2 0h1m1 0h1m4 0h1m6 0h1m13 0h1m-33 1h1m5 0h1m2 0h3m3 0h3m15 0h1m-75 1h1m40 0h2m1 0h1m3 0h3m23 0h1m-87 1h1m52 0h4m3 0h1m6 0h2m7 0h1m-76 1h1m12 0h1m38 0h1m1 0h2m11 0h1m3 0h1m-72 1h1m12 0h2m37 0h1m9 0h2m2 0h1m1 0h1m2 0h1m2 0h2m-63 1h2m16 0h1m30 0h1m2 0h1m5 0h1m-71 1h1m10 0h3m15 0h2m46 0h1m9 0h1m-84 1h1m5 0h1m1 0h1m17 0h1m38 0h1m5 0h2m-74 1h2m4 0h1m2 0h1m1 0h1m53 0h1m8 0h2m-75 1h2m6 0h1m1 0h1m1 0h1m60 0h1m1 0h1m8 0h1m-86 1h1m6 0h1m3 0h3m58 0h2m2 0h2m6 0h1m-74 1h2m64 0h4m3 0h1m-90 1h3m2 0h4m7 0h1m65 0h1m-79 1h2m70 0h1m5 0h1m6 0h1m-91 1h1m16 0h1m56 1h1m0 2h1m-76 1h2m80 0h3m6 0h1m-90 1h3m79 0h1m-85 1h3m4 0h1m83 0h1m-94 1h1m7 0h1m67 0h2m2 0h2m2 0h1m1 0h2m-94 1h1m7 0h3m1 0h2m1 0h1m61 0h1m2 0h1m2 0h2m2 0h1m2 0h1m3 0h1m-95 1h2m10 0h1m1 0h3m59 0h1m3 0h2m2 0h3m3 0h1m-91 1h1m1 0h1m8 0h6m59 0h2m20 0h1m-99 1h1m11 0h1m1 0h1m65 0h2m10 0h2m4 0h1m-87 1h1m65 0h1m1 0h2m12 0h1m-95 1h1m11 0h1m4 0h1m77 0h1m1 0h1m-86 1h1m83 0h2m-85 1h1m82 0h3m-9 1h1m4 0h1m-6 1h1m5 0h2m3 0h1m-88 1h3m66 0h1m2 0h2m13 0h1m-88 1h3m66 0h1m4 0h1m13 0h1m-92 1h1m3 0h1m80 0h2m1 0h1m1 0h2m-88 1h2m69 0h1m8 0h2m-87 1h1m73 0h2m-76 1h1m80 0h1m-16 1h2m9 0h1m2 0h2m3 0h1m-97 1h1m1 0h1m9 0h1m2 0h3m57 0h3m10 0h1m4 0h1m4 0h1m2 0h1m-98 1h1m11 0h1m1 0h1m62 0h1m20 0h1m-8 1h1m2 0h1m-81 1h1m24 0h1m40 0h1m1 0h1m8 0h2m-84 1h1m1 0h1m3 0h2m8 0h1m13 0h2m46 0h3m2 0h2m-87 1h1m4 0h1m4 0h1m19 0h3m40 0h1m6 0h4m2 0h2m-58 1h3m1 0h1m37 0h1m1 0h1m6 0h1m3 0h1m1 0h1m-88 1h1m30 0h1m2 0h1m36 0h1m2 0h1m6 0h1m3 0h1m-77 1h2m61 0h1m1 0h1m9 0h3m-90 1h1m9 0h1m2 0h2m55 0h2m1 0h4m4 0h1m4 0h2m1 0h1m-91 1h1m1 0h2m2 0h1m9 0h2m54 0h1m8 0h1m2 0h1m-84 1h2m1 0h1m1 0h1m1 0h2m5 0h1m3 0h1m54 0h2m1 0h1m-72 1h1m1 0h1m7 0h1m3 0h1m55 0h1m12 0h1m-84 1h1m4 0h1m5 0h4m61 0h1m-77 1h1m-1 1h1m27 0h2m27 0h1m-57 1h1m26 0h1m38 0h1m-40 1h1m3 0h2m35 0h1m10 0h1m-57 1h1m7 0h1m36 0h2m-69 1h1m54 0h1m6 0h2m4 0h1m8 0h1m-22 1h1m-51 1h1m40 0h1m8 0h1m-51 1h1m1 0h1m16 0h1m23 0h5m-48 1h1m39 0h1m-35 1h1m19 0h2m-22 1h1m7 0h3m9 0h2m14 0h1m-37 1h3m7 0h2m10 0h1m3 0h1m-26 1h2m1 0h1m18 0h2m20 0h1m-45 1h2m32 0h1m9 0h1m-24 1h1m4 0h2m1 0h1m2 0h1m6 0h1m-22 1h4m-6 1h6m19 0h1m-1 1h1"/>
<path stroke="#38b99e" d="M0 0m44 7h1m1 1h1m3 0h1m6 0h3m-26 1h1m7 0h1m2 0h1m5 0h2m3 0h2m-26 1h2m11 0h1m7 0h1m3 0h1m-24 1h2m9 0h2m2 0h1m3 0h1m3 0h3m-35 1h1m23 0h1m3 0h1m2 0h1m1 0h2m6 0h5m-23 1h1m2 0h1m1 0h1m4 0h1m9 0h2m1 0h1m-41 1h1m3 0h1m1 0h1m10 0h1m3 0h1m1 0h1m15 0h1m-41 1h1m6 0h1m3 0h2m6 0h1m3 0h1m16 0h1m1 0h1m-53 1h1m16 0h2m1 0h3m11 0h1m7 0h1m8 0h2m-53 1h1m10 0h1m12 0h1m8 0h1m7 0h1m1 0h3m1 0h1m3 0h1m-53 1h2m12 0h3m15 0h1m1 0h1m-37 1h3m1 0h1m13 0h1m25 0h1m9 0h1m9 0h1m1 0h1m9 0h1m-57 1h1m25 0h3m27 0h1m-53 1h4m20 0h1m1 0h1m-37 1h1m1 0h1m7 0h1m1 0h2m20 0h1m1 0h1m13 0h1m-62 1h1m2 0h1m11 0h5m17 0h1m1 0h1m21 0h1m-59 1h1m33 0h2m2 0h1m23 0h1m2 0h1m-66 1h1m8 0h1m25 0h1m27 0h1m2 0h1m3 0h1m-77 1h1m13 0h1m54 0h2m6 0h1m-77 1h1m3 0h1m3 0h1m2 0h3m31 0h2m1 0h1m23 0h1m2 0h1m-64 1h2m27 0h1m5 0h5m16 0h1m14 0h1m-72 1h1m28 0h1m7 0h5m1 0h1m2 0h3m7 0h1m-19 1h2m5 0h4m8 0h2m-19 1h2m3 0h4m20 0h1m-31 1h3m3 0h2m9 0h2m5 0h1m-24 1h1m13 0h1m2 0h1m3 0h2m7 0h1m1 0h2m-20 1h1m2 0h4m-76 1h1m68 0h3m3 0h1m-20 1h1m13 0h2m-3 1h1m1 0h1m-71 1h1m69 0h1m-70 1h4m7 0h1m55 0h2m-68 1h2m7 0h2m-10 1h2m6 0h2m3 0h1m64 0h1m8 0h1m-86 1h1m1 0h1m74 0h1m-82 1h1m3 0h1m1 0h1m9 0h1m-16 1h1m13 0h1m71 0h1m-91 1h1m17 1h2m58 0h1m3 0h1m-11 1h1m18 0h1m-93 1h1m69 0h1m-71 1h1m70 0h1m3 0h1m16 0h1m-23 1h2m3 0h1m-74 1h1m67 0h1m1 0h1m2 0h1m7 0h2m7 0h1m-94 1h2m6 0h1m63 0h3m9 0h3m-93 1h1m4 0h1m1 0h1m70 0h4m9 0h1m7 0h1m-95 1h2m71 0h2m6 0h1m4 0h3m4 0h1m-97 1h2m5 0h2m2 0h1m63 0h1m1 0h1m11 0h4m3 0h1m-98 1h1m1 0h1m6 0h1m69 0h2m10 0h2m-93 1h3m7 0h1m66 0h2m11 0h1m-91 1h1m1 0h1m94 0h1m-98 1h1m9 0h1m84 0h1m1 0h1m-87 2h1m0 1h1m-1 1h1m75 0h1m-6 1h2m-74 1h1m71 0h1m2 0h1m2 0h1m12 0h1m-88 1h1m67 0h2m12 0h1m-89 1h1m73 0h2m16 0h1m-1 1h1m-1 1h1m-103 1h1m9 0h1m77 0h2m-88 1h3m80 0h1m-85 1h2m2 0h1m8 0h1m1 0h1m68 0h1m-83 1h1m1 0h2m8 0h1m1 0h1m68 0h2m-84 1h1m6 0h2m84 0h2m-89 1h2m3 0h3m67 0h1m11 0h1m2 0h1m-85 1h1m2 0h1m69 0h1m5 0h1m2 0h1m-90 1h1m6 0h1m3 0h1m62 0h1m12 0h1m1 0h1m-90 1h1m6 0h1m3 0h1m59 0h1m1 0h2m12 0h1m-87 1h1m5 0h3m64 0h1m13 0h1m-90 1h1m70 0h1m11 0h1m-87 1h1m15 0h1m58 0h3m5 0h2m6 0h1m-92 1h1m16 0h3m54 0h1m2 0h1m5 0h3m4 0h2m-93 1h1m19 0h2m62 0h3m5 0h1m-84 1h1m2 0h1m-1 1h1m73 0h1m-21 1h1m2 0h1m-62 1h1m28 0h1m26 0h2m1 0h1m-59 1h1m27 0h1m40 0h1m3 0h2m-20 1h1m5 1h2m7 0h1m1 0h1m-65 1h1m69 0h1m-24 2h3m-8 1h1m4 0h2m-45 1h1m5 0h1m3 0h1m18 0h1m1 0h2m1 0h2m-36 1h1m17 0h1m9 0h1m7 0h1m1 0h1m-39 1h1m6 0h1m13 0h2m5 0h1m-28 1h1m21 0h1m2 0h1m9 0h1m-38 1h1m1 0h1m21 0h1m13 0h4m8 0h1m-44 1h1m17 0h1m21 0h4m-20 1h1m11 0h1m-19 2h1m5 0h1"/>
<path stroke="#42bb98" d="M0 0m46 7h2m2 0h1m0 1h1m9 0h1m-24 1h1m14 0h1m-20 1h2m2 0h5m11 0h3m-3 1h3m12 0h1m-37 1h1m1 0h1m35 0h1m-40 1h4m7 0h1m5 0h1m4 0h2m9 0h1m4 0h1m-44 1h1m10 0h2m1 0h3m5 0h1m15 0h2m4 0h1m-44 1h2m8 0h3m30 0h1m-42 1h1m22 0h1m-4 1h3m29 0h1m-65 1h1m23 0h1m18 0h4m-45 1h1m41 0h3m27 0h1m1 0h1m-74 1h1m7 0h1m6 0h1m-7 1h1m9 0h1m25 0h1m26 0h1m-60 1h1m31 0h1m26 0h2m-61 1h1m47 0h1m4 0h2m4 0h1m-8 1h2m5 0h1m-63 1h1m55 0h1m-58 1h1m57 0h2m-4 1h1m1 0h1m5 0h1m6 0h1m-15 1h1m2 0h1m1 0h1m-6 1h2m5 0h2m-26 1h2m17 0h2m4 0h2m-10 1h1m7 0h1m-8 1h1m3 0h1m1 0h1m5 0h1m-16 1h2m1 0h1m4 0h1m5 0h1m-86 1h1m70 0h2m5 0h1m5 0h1m5 0h1m-91 1h1m77 0h1m-8 2h1m18 0h1m-21 1h2m17 0h1m-88 1h1m-1 1h2m-1 1h1m80 0h1m-77 1h1m76 0h1m5 0h1m-91 1h2m5 0h1m69 0h1m1 0h1m10 0h1m-93 1h2m18 0h1m58 0h1m-62 1h1m1 0h1m58 0h1m-81 1h1m80 0h1m11 0h1m-93 1h1m70 0h2m1 0h1m-77 1h1m74 0h2m17 0h1m-95 1h2m72 0h1m-1 1h1m20 0h1m-101 1h1m77 0h1m2 0h1m18 0h1m-101 1h1m4 0h1m94 0h1m1 0h1m-3 1h1m-100 1h4m2 0h1m91 0h1m-96 1h5m69 0h1m20 0h1m-92 1h2m68 0h2m11 0h1m-88 1h2m4 0h1m-9 1h1m1 0h1m6 0h1m87 0h1m-97 1h1m6 0h1m-13 1h1m1 0h1m4 0h1m5 0h1m-12 1h1m-3 1h1m13 0h1m0 2h1m88 0h2m-93 1h1m73 0h2m-1 1h1m0 1h1m13 0h1m-1 1h1m-101 2h1m3 1h1m80 0h1m1 0h1m12 0h1m-98 1h1m1 0h1m4 0h1m74 0h1m-85 1h1m1 0h1m6 0h1m1 0h1m2 0h1m72 0h1m-89 1h1m1 0h1m6 0h1m2 0h4m72 0h1m-88 1h2m1 0h1m-4 1h1m14 0h2m80 0h1m-92 1h1m8 0h3m79 0h1m-83 1h3m77 0h2m-91 1h1m-3 1h1m90 0h1m-94 1h1m74 0h1m18 0h1m-95 1h1m92 0h2m-96 1h1m11 0h1m7 0h1m73 0h1m-83 1h1m73 0h2m0 2h1m-22 1h1m2 0h1m-6 1h1m2 0h1m1 0h1m14 0h1m-76 1h1m55 0h1m3 0h1m-4 1h1m0 1h1m1 0h2m1 0h1m4 0h1m-11 1h1m-11 1h2m23 0h1m-63 1h1m42 0h1m2 0h1m-16 1h1m2 0h1m5 0h1m4 0h1m-10 1h1m-1 1h1m11 0h2m-49 1h1m34 0h1m1 0h3m5 0h1m3 0h1m-24 1h4m5 0h1m5 0h1m3 0h1m-24 1h1m2 0h3m2 0h1m1 0h2m8 0h1m2 0h1m-22 1h1m1 0h1m1 0h2m15 0h1m2 0h1m-25 1h1m1 0h1m3 0h1m13 0h2m-18 1h2m14 0h1m-16 1h1"/>
<path stroke="#4dbc92" d="M0 0m51 7h1m0 1h2m2 0h1m3 0h1m-26 1h2m17 0h2m-20 1h2m-6 1h2m2 0h1m1 0h2m3 0h1m-12 1h1m5 0h1m4 0h1m10 0h2m16 0h1m-46 1h1m3 0h1m4 0h4m10 0h1m-11 1h1m10 0h1m-23 2h1m20 0h1m1 0h1m-34 1h1m9 0h2m11 0h1m19 0h1m-33 1h3m10 0h1m-28 1h1m12 0h1m4 0h1m47 0h1m-65 1h3m13 0h2m45 0h2m9 0h1m1 0h1m-76 1h3m10 0h6m43 0h1m9 0h1m2 0h1m-77 1h1m3 0h1m12 0h4m43 0h1m-65 1h1m3 0h1m60 0h2m-63 1h1m65 1h1m5 0h1m-73 1h1m77 0h2m-83 1h1m67 0h1m1 0h1m5 0h1m-8 1h2m3 0h2m-6 1h1m1 1h1m2 0h1m-7 1h1m1 0h1m1 0h1m1 0h1m-6 1h2m4 0h1m3 0h1m-3 1h2m1 1h2m-4 1h1m5 0h1m-90 1h1m88 0h1m-90 1h1m79 0h1m7 0h1m-7 2h1m-82 2h1m-1 1h1m89 0h2m-97 1h1m1 0h2m80 0h2m-85 1h1m81 0h1m10 0h1m-94 1h2m18 0h1m60 0h1m2 0h1m8 0h1m-96 1h2m1 0h1m-4 1h3m-3 1h1m73 0h2m-78 1h3m75 0h1m19 0h1m-101 1h1m3 0h2m-5 1h1m3 0h1m74 0h1m20 0h2m-102 1h2m98 0h1m-101 1h2m97 1h1m-1 1h1m3 0h1m-101 1h4m-2 1h1m1 0h2m94 0h1m-100 1h1m2 0h3m92 0h1m-102 1h1m1 0h2m3 0h1m-1 1h2m91 0h1m-104 1h1m4 0h2m5 0h1m90 0h1m-104 1h1m102 0h1m-105 1h1m103 0h1m-93 1h1m1 0h1m-3 2h1m76 0h1m9 1h1m-89 1h1m87 0h1m-93 1h1m3 0h1m-8 1h5m81 2h1m-88 1h1m5 0h1m6 0h1m-9 1h1m2 0h1m76 0h1m-78 1h1m76 0h1m2 0h1m-87 1h2m4 0h1m77 0h2m10 2h1m-94 1h1m91 0h1m-2 2h1m-3 3h2m-86 3h1m60 0h1m-61 1h1m56 0h2m1 0h1m-3 1h1m1 0h1m-2 1h3m-2 1h1m0 1h1m3 0h1m-7 1h2m-51 1h2m42 0h1m4 0h1m7 0h1m-12 1h1m9 0h1m-46 1h1m20 0h1m4 0h1m9 0h1m-27 1h1m1 0h1m8 0h1m2 0h1m12 0h2m2 0h1m-52 1h2m18 0h1m3 0h1m6 0h1m2 0h1m7 0h1m1 0h1m-43 1h1m17 0h1m15 0h1m7 0h1m-33 1h1m8 0h1m1 0h1m21 0h1m6 0h1m-26 1h1m1 0h1m15 0h1m5 0h1m-25 1h1m1 0h3m16 0h1m1 0h1m-22 1h1m-5 1h6"/>
<path stroke="#59bd8c" d="M0 0m52 7h2m2 0h1m-3 1h2m-19 1h1m-7 2h1m8 0h3m-16 1h1m8 0h1m2 0h1m2 0h1m-3 1h3m24 0h1m-40 1h1m1 0h1m19 0h1m-32 1h1m30 0h3m-34 1h1m31 0h1m30 0h1m-66 1h1m25 0h1m0 1h1m37 0h1m-50 1h1m8 0h1m47 0h2m-59 1h1m8 0h3m38 0h1m6 0h2m-61 1h1m50 0h2m-64 1h1m64 1h2m7 0h1m-73 2h1m72 1h1m2 0h1m-3 1h1m3 0h1m-6 1h1m-4 1h2m2 0h1m-5 1h2m3 0h1m2 0h1m-8 1h1m2 1h3m-4 1h2m-4 1h1m5 0h1m2 0h2m-7 1h1m2 0h1m-87 1h1m79 0h1m2 0h1m-2 1h1m-82 1h1m80 0h1m-82 1h1m82 0h1m1 0h1m-86 1h1m82 0h2m-88 1h2m1 0h1m-5 1h5m-4 1h1m80 0h1m12 0h2m-97 1h1m83 0h2m9 0h1m-96 1h1m82 1h2m10 1h1m-98 1h1m96 0h1m-100 1h1m79 0h1m-80 1h1m77 0h2m-80 1h1m1 0h1m-1 1h1m-2 1h2m96 0h2m-2 1h1m-1 1h1m0 1h1m-96 1h1m95 0h1m-98 1h2m94 0h1m-97 1h1m1 0h1m93 0h2m-98 1h3m-7 1h1m3 0h1m1 0h3m-11 1h4m1 0h1m1 0h1m3 0h1m-12 1h2m3 0h1m3 0h1m2 0h1m-5 1h2m1 0h1m-4 1h3m-2 1h1m-1 1h1m89 0h1m-97 1h1m-4 1h1m1 0h3m1 0h3m88 0h1m2 0h2m-95 1h2m92 0h1m-96 1h1m2 0h1m-3 1h1m2 0h1m77 1h1m-2 1h2m-1 1h1m-84 1h1m1 0h1m-6 1h4m0 1h1m-2 1h1m93 0h1m-96 1h1m87 0h1m5 0h2m-6 1h1m-1 5h1m-6 2h1m-78 1h1m58 0h1m3 2h1m-4 1h1m1 0h1m5 1h1m-9 1h1m7 0h1m-59 1h3m7 0h3m30 0h3m2 0h1m1 0h2m3 0h1m1 0h1m-56 1h1m7 0h1m11 0h2m9 0h4m5 0h5m1 0h1m1 0h3m2 0h1m-54 1h1m19 0h1m11 0h1m8 0h3m-23 1h1m9 0h1m2 0h1m7 0h1m2 0h1m-23 1h1m7 0h4m9 0h2m5 0h1m-31 1h1m23 1h1m5 0h2m-5 1h1m-23 1h2"/>
<path stroke="#65be86" d="M0 0m37 11h1m-7 1h1m5 0h1m2 0h2m-14 1h1m0 1h1m57 3h1m-45 2h1m45 0h1m-59 1h2m53 0h1m2 0h1m5 0h1m-75 2h1m61 0h2m9 2h2m-80 1h1m79 3h2m2 0h1m-4 1h1m0 1h2m-6 3h1m2 1h1m-5 1h1m5 0h1m1 0h1m-89 1h1m81 0h2m1 0h2m-86 1h1m82 0h1m1 0h1m2 0h1m-6 1h4m1 0h1m-4 1h1m-88 1h2m-3 1h1m2 0h1m78 3h1m13 0h1m-13 1h1m10 1h1m0 1h1m-1 1h2m-2 1h1m-1 1h1m2 6h1m-98 3h1m95 1h1m-97 1h1m95 0h1m-98 1h1m1 0h3m92 0h1m-102 1h3m1 0h2m3 0h1m91 0h1m-107 1h3m8 2h1m-1 1h1m91 0h1m-99 1h1m1 0h5m-8 1h1m98 1h1m-94 1h1m0 2h2m-3 1h2m-1 1h1m78 0h1m-82 2h1m-4 5h1m87 3h1m2 0h2m-5 2h1m-6 2h1m-5 2h1m-2 1h1m-9 1h2m-2 1h1m3 0h1m-7 1h1m2 0h1m5 0h2m-59 1h1m51 0h2m-54 1h1m11 0h1m19 0h1m2 0h1m9 0h2m-39 1h1m3 0h1m20 0h1m-26 1h1m3 0h1m33 1h1"/>
<path stroke="#71bf80" d="M0 0m54 7h1m-25 4h1m-3 1h1m1 0h1m-1 1h1m35 0h1m20 5h1m-57 1h2m11 0h1m41 0h1m0 1h1m-70 1h1m67 0h1m-1 1h2m9 0h1m-77 1h1m74 0h1m-81 1h1m4 2h1m77 0h1m-3 1h3m0 2h1m-7 5h3m-2 1h2m5 0h2m-4 1h3m-90 1h1m84 0h1m1 0h2m-89 1h2m86 0h1m-89 1h2m-4 1h1m2 0h1m91 5h2m0 5h1m-103 14h2m3 0h3m-10 1h1m4 2h2m2 0h1m90 0h1m-99 1h2m6 3h1m0 1h1m-3 3h1m-4 3h1m-2 3h1m88 6h1m-9 4h2m-10 1h1m0 1h1m-4 1h1m6 0h1m0 1h2m-62 1h1m48 0h1m6 0h3m2 0h1m-62 1h1m52 0h1m-43 1h1m10 0h1m1 0h1m21 0h1m6 0h1m-32 1h3m29 1h1"/>
<path stroke="#7cbf7b" d="M0 0m29 12h1m-1 1h1m58 5h1m-4 1h1m-2 1h2m-1 2h1m10 0h1m0 1h1m1 1h1m-6 11h1m-83 3h1m-1 1h1m81 6h1m12 1h1m0 3h1m-101 15h3m-8 1h1m1 0h5m3 0h1m-8 1h4m3 0h1m-8 1h1m1 0h1m2 0h2m-3 12h1m-2 1h1m79 11h1m-3 2h1m-7 2h2m4 1h2m-51 2h1m-1 1h2"/>
<path stroke="#87bf77" d="M0 0m89 18h1m-6 1h1m2 0h1m-72 1h1m-1 1h1m68 0h1m1 0h1m8 0h1m1 2h1m-82 1h1m-1 1h1m81 0h1m-4 1h2m0 2h2m-2 1h2m9 27h1m-100 9h1m-6 1h1m4 0h1m1 0h1m-6 1h1m96 2h2m-97 10h1m87 2h1m2 1h1m-12 10h1m-9 1h2m-1 1h1m5 0h3m-9 3h3m3 0h1m-49 1h1m43 1h1"/>
<path stroke="#92bf73" d="M0 0m88 20h1m-5 1h1m3 0h1m6 4h1m12 29h1m-98 11h2m-2 1h1m87 15h1m-12 12h1m-8 1h1m3 3h3m-6 1h3m2 0h1m-6 1h2"/>
<path stroke="#9cbf6f" d="M0 0m88 19h1m19 36h2m-49 36h1m27 2h1m-50 6h1"/>
<path stroke="#b7bd64" d="M0 0m18 25h3m-3 1h3"/>
<path stroke="#d9ba56" d="M0 0m16 22h2m-2 1h2m-9 24h1m-6 14h1"/>
<path stroke="#e1b952" d="M0 0m90 92h2m-2 1h2"/>
<path stroke="#e9b94e" d="M0 0m104 68h3"/>
<path stroke="#f8bb44" d="M0 0m17 18h1m66 0h3m12 23h1m-60 56h1m44 1h2"/>
<path stroke="#fdbe3d" d="M0 0m98 86h2m-64 13h1"/>
<path stroke="#ffc337" d="M0 0m8 74h1m87 14h2m-60 12h3m-3 1h3m3 1h2"/>
<path stroke="#fec832" d="M0 0m96 90h1"/>
<path stroke="#fcce2e" d="M0 0m95 21h1m-1 1h1m-1 1h1m4 61h1m-8 5h4"/>
<path stroke="#fad32a" d="M0 0m17 20h1m-1 1h1m84 21h1m-1 1h1m-1 1h1"/>
<path stroke="#f7d826" d="M0 0m98 85h2"/>
<path stroke="#f5e41d" d="M0 0m55 7h1m-38 17h1m77 0h3m-3 1h3"/>
<path stroke="#f5eb18" d="M0 0m84 17h3"/>
<path stroke="#f6f313" d="M0 0m20 24h2m-12 21h1m-6 14h1m98 11h2m-2 1h2m-1 1h2m-3 3h1m-7 6h1m-2 1h3m-3 1h3m-3 1h1m-6 8h1"/>
<path stroke="#f9fb0e" d="M0 0m18 16h1m61 0h1m-63 1h1m84 19h1m-2 3h1m-1 1h1m0 1h1m-98 31h1m-1 1h1m-1 1h1m85 16h4m-4 1h5m-56 10h5m-5 1h3m5 1h1m1 0h3"/>
</g></svg>
<path d="M1772.55 1097.7v-5.4M1772.55 663.2v5.4M1675 739.53h5.4M2230.3 739.53h-5.4M1872.61 1097.7v-5.4M1872.61 663.2v5.4M1675 817.82h5.4M2230.3 817.82h-5.4M1972.66 1097.7v-5.4M1972.66 663.2v5.4M1675 896.11h5.4M2230.3 896.11h-5.4M2072.71 1097.7v-5.4M2072.71 663.2v5.4M1675 974.4h5.4M2230.3 974.4h-5.4M2172.77 1097.7v-5.4M2172.77 663.2v5.4M1675 1052.68h5.4M2230.3 1052.68h-5.4" stroke="#262626" stroke-width="1" fill="none" opacity=".75"/>
<rect x="1675" y="663.2" width="555.3" height="434.5" fill="none" stroke="#262626" stroke-width="1" opacity=".55"/>
<text class="t" text-anchor="middle" x="1772.55" y="1134.1">20</text>
<text class="t" text-anchor="end" x="1665.5" y="751.33">20</text>
<text class="t" text-anchor="middle" x="1872.61" y="1134.1">40</text>
<text class="t" text-anchor="end" x="1665.5" y="829.62">40</text>
<text class="t" text-anchor="middle" x="1972.66" y="1134.1">60</text>
<text class="t" text-anchor="end" x="1665.5" y="907.91">60</text>
<text class="t" text-anchor="middle" x="2072.71" y="1134.1">80</text>
<text class="t" text-anchor="end" x="1665.5" y="986.2">80</text>
<text class="t" text-anchor="middle" x="2172.77" y="1134.1">100</text>
<text class="t" text-anchor="end" x="1665.5" y="1064.48">100</text>
<text class="l" text-anchor="middle" x="1952.65" y="1172">Pixels</text>
<text class="l" text-anchor="middle" transform="translate(1611 880.45) rotate(-90)">Pixels</text>
<rect x="2242" y="663.2" width="25.6" height="434.5" fill="url(#pg)" stroke="#262626" stroke-width="1" stroke-opacity=".6"/>
<text class="cb" x="2275.6" y="1108.5">0</text>
<text class="cb" x="2275.6" y="999.6">2000</text>
<text class="cb" x="2275.6" y="890.7">4000</text>
<text class="cb" x="2275.6" y="781.8">6000</text>
<text class="cb" x="2275.6" y="672.9">8000</text>
<path d="M2267.6 989.08h-4M2267.6 880.45h-4M2267.6 771.83h-4" stroke="#262626" stroke-width="1" fill="none" opacity=".8"/>
<text class="c" text-anchor="middle" x="1971.6" y="1262.9" font-size="53"><tspan dy="-0.2">(</tspan><tspan class="b" font-size="55" dy="0.2" dx="-0.5">f</tspan><tspan dy="-0.2" dx="-0.5">)</tspan></text>
</svg></body></html>
